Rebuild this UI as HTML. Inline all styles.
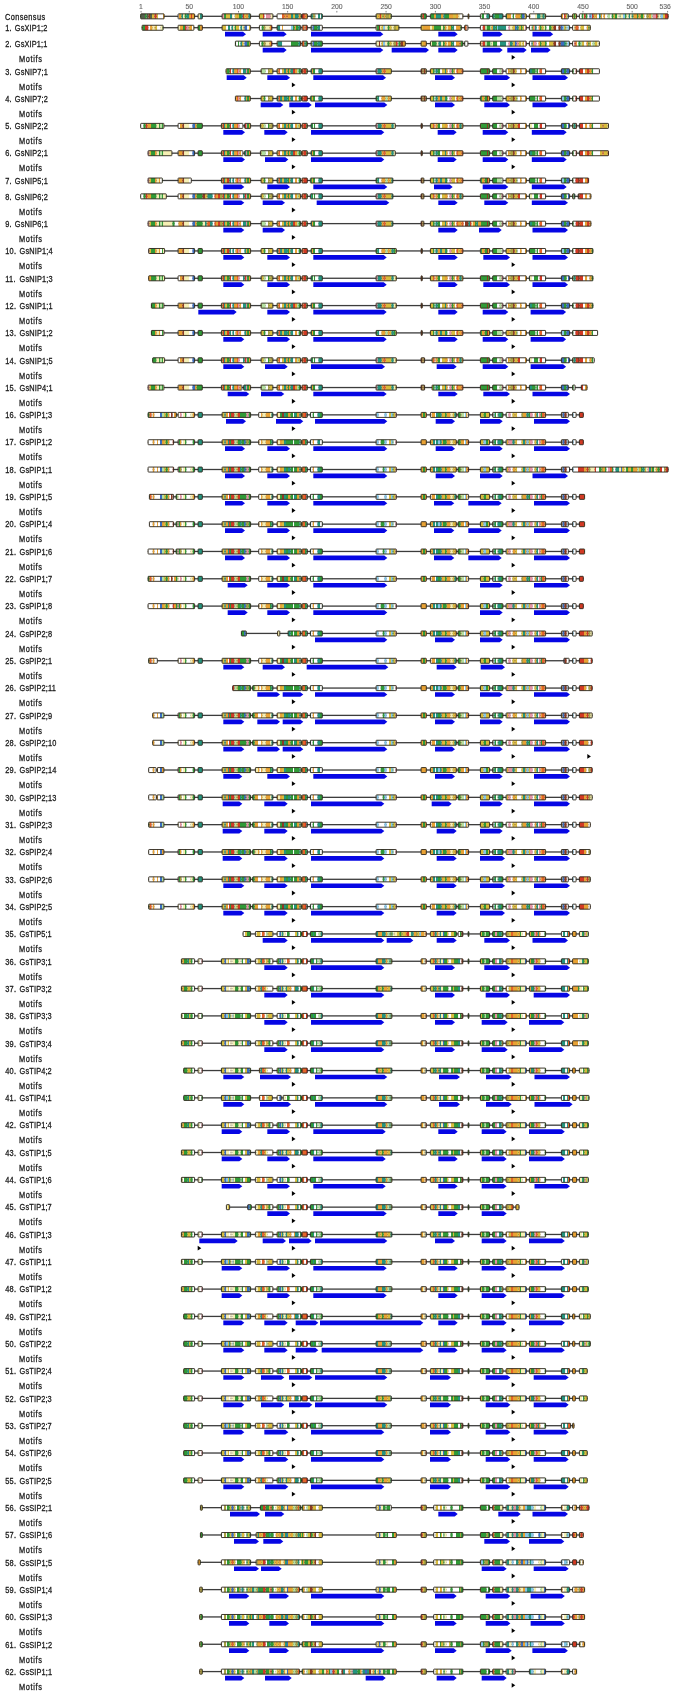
<!DOCTYPE html>
<html><head><meta charset="utf-8"><style>
html,body{margin:0;padding:0;background:#fff;}
body{width:675px;height:1695px;overflow:hidden;font-family:"Liberation Sans",sans-serif;}
svg{display:block;will-change:transform;}
</style></head><body>
<svg width="675" height="1695" viewBox="0 0 675 1695">
<defs><pattern id="p0" patternUnits="userSpaceOnUse" x="0" y="0" width="675" height="10"><path fill="#55604c" d="M138 0h1.55v10h-1.55zM141 0h2.05v10h-2.05zM143 0h2.05v10h-2.05zM146.5 0h2.05v10h-2.05zM150 0h2.05v10h-2.05z"/><path fill="#2f9a36" d="M139.5 0h1.55v10h-1.55zM145 0h1.55v10h-1.55zM171 0h2.05v10h-2.05zM173 0h2.05v10h-2.05zM175 0h2.05v10h-2.05zM184.5 0h2.05v10h-2.05zM224 0h2.05v10h-2.05zM239 0h2.05v10h-2.05zM300.5 0h1.55v10h-1.55zM312.5 0h1.05v10h-1.05zM314.5 0h1.05v10h-1.05zM331 0h1.05v10h-1.05zM340 0h2.55v10h-2.55zM372 0h2.05v10h-2.05zM382.5 0h1.05v10h-1.05zM390.5 0h1.55v10h-1.55zM394.5 0h1.55v10h-1.55zM398 0h2.05v10h-2.05zM413.5 0h2.55v10h-2.55zM416 0h2.05v10h-2.05zM421 0h1.55v10h-1.55zM424 0h2.05v10h-2.05zM430.5 0h1.55v10h-1.55zM432 0h2.05v10h-2.05zM445 0h2.55v10h-2.55zM447.5 0h1.55v10h-1.55zM471 0h1.05v10h-1.05zM481.5 0h2.55v10h-2.55zM494.5 0h2.05v10h-2.05zM496.5 0h2.55v10h-2.55zM505.5 0h1.55v10h-1.55zM512.5 0h1.55v10h-1.55zM520.5 0h1.55v10h-1.55zM527 0h2.05v10h-2.05zM556 0h1.05v10h-1.05zM573.5 0h2.05v10h-2.05zM581.5 0h1.55v10h-1.55zM585.5 0h2.05v10h-2.05zM611.5 0h2.05v10h-2.05zM615 0h2.05v10h-2.05zM619.5 0h1.05v10h-1.05zM625 0h1.55v10h-1.55zM632.5 0h1.05v10h-1.05zM637 0h1.55v10h-1.55zM640.5 0h2.55v10h-2.55zM657.5 0h1.05v10h-1.05z"/><path fill="#8e3a22" d="M148.5 0h1.55v10h-1.55zM195 0h2.05v10h-2.05zM354.5 0h1.55v10h-1.55z"/><path fill="#d8bc3c" d="M152 0h2.55v10h-2.55zM156.5 0h1.55v10h-1.55zM207 0h1.55v10h-1.55zM226 0h2.05v10h-2.05zM228 0h2.05v10h-2.05zM234.5 0h2.55v10h-2.55zM238 0h1.05v10h-1.05zM244 0h1.55v10h-1.55zM258.5 0h1.55v10h-1.55zM260 0h2.05v10h-2.05zM262 0h1.05v10h-1.05zM293 0h2.05v10h-2.05zM309.5 0h1.05v10h-1.05zM347.5 0h1.05v10h-1.05zM352.5 0h2.05v10h-2.05zM370.5 0h1.55v10h-1.55zM376.5 0h2.05v10h-2.05zM381 0h1.55v10h-1.55zM389 0h1.55v10h-1.55zM396 0h2.05v10h-2.05zM410 0h1.55v10h-1.55zM419.5 0h1.55v10h-1.55zM427.5 0h1.55v10h-1.55zM453 0h1.55v10h-1.55zM454.5 0h1.55v10h-1.55zM462.5 0h2.05v10h-2.05zM489.5 0h2.55v10h-2.55zM524.5 0h2.55v10h-2.55zM529 0h1.55v10h-1.55zM541.5 0h1.05v10h-1.05zM544.5 0h1.55v10h-1.55zM554 0h2.05v10h-2.05zM565.5 0h2.05v10h-2.05zM593.5 0h2.05v10h-2.05zM613.5 0h1.55v10h-1.55zM643 0h1.55v10h-1.55zM663 0h2.05v10h-2.05z"/><path fill="#d23a24" d="M154.5 0h2.05v10h-2.05zM168.5 0h2.55v10h-2.55zM191 0h1.05v10h-1.05zM242.5 0h1.55v10h-1.55zM263 0h1.55v10h-1.55zM302 0h1.05v10h-1.05zM303 0h1.05v10h-1.05zM380 0h1.05v10h-1.05zM422.5 0h1.55v10h-1.55zM466 0h2.05v10h-2.05zM469 0h2.05v10h-2.05zM564 0h1.55v10h-1.55zM584 0h1.55v10h-1.55zM592 0h1.55v10h-1.55zM656 0h1.55v10h-1.55zM665 0h2.55v10h-2.55zM667.5 0h2.05v10h-2.05z"/><path fill="#ffffff" d="M158 0h2.55v10h-2.55zM160.5 0h2.55v10h-2.55zM164.5 0h1.55v10h-1.55zM166 0h2.55v10h-2.55zM177 0h2.05v10h-2.05zM212.5 0h2.05v10h-2.05zM214.5 0h2.05v10h-2.05zM233 0h1.55v10h-1.55zM256 0h2.55v10h-2.55zM264.5 0h1.55v10h-1.55zM274 0h2.05v10h-2.05zM276 0h1.55v10h-1.55zM277.5 0h2.05v10h-2.05zM279.5 0h2.55v10h-2.55zM315.5 0h2.55v10h-2.55zM320 0h1.05v10h-1.05zM328.5 0h2.55v10h-2.55zM332 0h1.05v10h-1.05zM335 0h2.05v10h-2.05zM345 0h2.55v10h-2.55zM356 0h1.55v10h-1.55zM392 0h2.55v10h-2.55zM429 0h1.55v10h-1.55zM460 0h1.55v10h-1.55zM461.5 0h1.05v10h-1.05zM472 0h2.55v10h-2.55zM480 0h1.55v10h-1.55zM484 0h2.55v10h-2.55zM503 0h2.55v10h-2.55zM511 0h1.55v10h-1.55zM514 0h1.55v10h-1.55zM530.5 0h1.55v10h-1.55zM532 0h1.05v10h-1.05zM533 0h2.05v10h-2.05zM563 0h1.05v10h-1.05zM579 0h2.55v10h-2.55zM587.5 0h2.05v10h-2.05zM597 0h2.05v10h-2.05zM602 0h1.55v10h-1.55zM605 0h1.05v10h-1.05zM606 0h1.55v10h-1.55zM610 0h1.55v10h-1.55zM618.5 0h1.05v10h-1.05zM644.5 0h2.05v10h-2.05zM669.5 0h2.05v10h-2.05zM671.5 0h1.55v10h-1.55z"/><path fill="#e8a234" d="M163 0h1.55v10h-1.55zM179 0h2.55v10h-2.55zM189 0h2.05v10h-2.05zM192 0h1.05v10h-1.05zM193 0h2.05v10h-2.05zM219.5 0h2.05v10h-2.05zM237 0h1.05v10h-1.05zM245.5 0h1.05v10h-1.05zM246.5 0h2.05v10h-2.05zM250.5 0h1.55v10h-1.55zM252 0h2.05v10h-2.05zM284.5 0h2.05v10h-2.05zM287.5 0h1.05v10h-1.05zM288.5 0h2.55v10h-2.55zM298.5 0h2.05v10h-2.05zM305.5 0h1.55v10h-1.55zM313.5 0h1.05v10h-1.05zM324.5 0h2.05v10h-2.05zM326.5 0h2.05v10h-2.05zM338 0h2.05v10h-2.05zM350.5 0h2.05v10h-2.05zM359.5 0h1.55v10h-1.55zM361 0h2.55v10h-2.55zM368 0h2.55v10h-2.55zM374 0h1.55v10h-1.55zM378.5 0h1.55v10h-1.55zM383.5 0h2.05v10h-2.05zM418 0h1.55v10h-1.55zM434 0h2.05v10h-2.05zM441 0h2.55v10h-2.55zM449 0h1.55v10h-1.55zM450.5 0h2.55v10h-2.55zM456 0h2.55v10h-2.55zM468 0h1.05v10h-1.05zM507 0h2.55v10h-2.55zM509.5 0h1.55v10h-1.55zM515.5 0h1.05v10h-1.05zM516.5 0h1.55v10h-1.55zM518 0h2.55v10h-2.55zM547 0h2.05v10h-2.05zM550.5 0h1.55v10h-1.55zM553 0h1.05v10h-1.05zM559.5 0h1.55v10h-1.55zM561 0h2.05v10h-2.05zM571 0h2.55v10h-2.55zM575.5 0h2.05v10h-2.05zM577.5 0h1.55v10h-1.55zM595.5 0h1.55v10h-1.55zM600.5 0h1.55v10h-1.55zM603.5 0h1.55v10h-1.55zM633.5 0h1.05v10h-1.05zM634.5 0h2.55v10h-2.55zM638.5 0h2.05v10h-2.05zM648.5 0h2.55v10h-2.55z"/><path fill="#24947e" d="M181.5 0h1.55v10h-1.55zM186.5 0h2.55v10h-2.55zM200 0h1.55v10h-1.55zM201.5 0h1.55v10h-1.55zM203 0h2.05v10h-2.05zM216.5 0h2.05v10h-2.05zM230 0h2.05v10h-2.05zM241 0h1.55v10h-1.55zM248.5 0h2.05v10h-2.05zM291 0h2.05v10h-2.05zM295 0h1.55v10h-1.55zM296.5 0h2.05v10h-2.05zM310.5 0h2.05v10h-2.05zM318 0h2.05v10h-2.05zM321 0h2.05v10h-2.05zM323 0h1.55v10h-1.55zM333 0h2.05v10h-2.05zM337 0h1.05v10h-1.05zM363.5 0h2.55v10h-2.55zM402.5 0h2.05v10h-2.05zM404.5 0h2.05v10h-2.05zM406.5 0h2.05v10h-2.05zM408.5 0h1.55v10h-1.55zM436 0h2.55v10h-2.55zM438.5 0h2.55v10h-2.55zM443.5 0h1.55v10h-1.55zM476 0h1.55v10h-1.55zM477.5 0h2.55v10h-2.55zM486.5 0h1.05v10h-1.05zM487.5 0h2.05v10h-2.05zM492 0h2.55v10h-2.55zM499 0h2.05v10h-2.05zM501 0h2.05v10h-2.05zM537 0h2.05v10h-2.05zM539 0h1.55v10h-1.55zM542.5 0h2.05v10h-2.05zM552 0h1.05v10h-1.05zM599 0h1.55v10h-1.55zM628.5 0h1.55v10h-1.55zM631.5 0h1.05v10h-1.05z"/><path fill="#f6f0b4" d="M183 0h1.55v10h-1.55zM198 0h2.05v10h-2.05zM205 0h2.05v10h-2.05zM209.5 0h1.55v10h-1.55zM232 0h1.05v10h-1.05zM270.5 0h2.05v10h-2.05zM272.5 0h1.55v10h-1.55zM342.5 0h2.55v10h-2.55zM348.5 0h2.05v10h-2.05zM426 0h1.55v10h-1.55zM458.5 0h1.55v10h-1.55zM535 0h2.05v10h-2.05zM558 0h1.55v10h-1.55zM617 0h1.55v10h-1.55zM620.5 0h2.55v10h-2.55zM626.5 0h2.05v10h-2.05zM630 0h1.55v10h-1.55zM658.5 0h2.05v10h-2.05z"/><path fill="#86c6e6" d="M197 0h1.05v10h-1.05zM357.5 0h2.05v10h-2.05zM366 0h2.05v10h-2.05zM567.5 0h1.55v10h-1.55zM569 0h2.05v10h-2.05zM590.5 0h1.55v10h-1.55zM623 0h2.05v10h-2.05zM660.5 0h2.55v10h-2.55z"/><path fill="#e4642a" d="M208.5 0h1.05v10h-1.05zM282 0h2.55v10h-2.55zM286.5 0h1.05v10h-1.05zM304 0h1.55v10h-1.55zM307 0h2.55v10h-2.55zM400 0h2.55v10h-2.55zM549 0h1.55v10h-1.55z"/><path fill="#a8a244" d="M211 0h1.55v10h-1.55zM375.5 0h1.05v10h-1.05zM385.5 0h2.55v10h-2.55zM388 0h1.05v10h-1.05zM546 0h1.05v10h-1.05zM557 0h1.05v10h-1.05zM646.5 0h2.05v10h-2.05z"/><path fill="#e494a4" d="M218.5 0h1.05v10h-1.05zM221.5 0h2.55v10h-2.55zM254 0h2.05v10h-2.05zM266 0h2.55v10h-2.55zM268.5 0h2.05v10h-2.05zM652.5 0h2.55v10h-2.55zM655 0h1.05v10h-1.05z"/><path fill="#b4e0a0" d="M411.5 0h2.05v10h-2.05zM464.5 0h1.55v10h-1.55zM474.5 0h1.55v10h-1.55zM540.5 0h1.05v10h-1.05zM583 0h1.05v10h-1.05zM607.5 0h2.55v10h-2.55zM651 0h1.55v10h-1.55z"/><path fill="#3a6ec0" d="M522 0h2.55v10h-2.55zM589.5 0h1.05v10h-1.05z"/></pattern><pattern id="p1" patternUnits="userSpaceOnUse" x="0" y="0" width="675" height="10"><path fill="#b4e0a0" d="M138 0h1.05v10h-1.05zM216.5 0h1.55v10h-1.55zM219.5 0h2.55v10h-2.55zM304.5 0h1.05v10h-1.05zM330.5 0h2.05v10h-2.05zM485 0h2.05v10h-2.05zM490 0h1.55v10h-1.55zM592.5 0h2.05v10h-2.05zM639 0h1.55v10h-1.55z"/><path fill="#a8a244" d="M139 0h2.05v10h-2.05zM214 0h2.55v10h-2.55zM263.5 0h2.05v10h-2.05zM327.5 0h1.55v10h-1.55zM393.5 0h2.55v10h-2.55zM645 0h1.55v10h-1.55zM665 0h2.55v10h-2.55z"/><path fill="#e8a234" d="M141 0h1.55v10h-1.55zM150 0h2.55v10h-2.55zM154.5 0h1.05v10h-1.05zM173 0h2.05v10h-2.05zM175 0h1.05v10h-1.05zM176 0h1.05v10h-1.05zM180 0h1.55v10h-1.55zM181.5 0h1.55v10h-1.55zM189.5 0h2.55v10h-2.55zM195 0h2.05v10h-2.05zM200 0h2.05v10h-2.05zM207 0h1.05v10h-1.05zM255 0h1.05v10h-1.05zM269.5 0h1.55v10h-1.55zM282 0h1.05v10h-1.05zM294.5 0h1.55v10h-1.55zM322.5 0h1.55v10h-1.55zM339.5 0h2.05v10h-2.05zM345.5 0h1.55v10h-1.55zM351.5 0h2.05v10h-2.05zM359.5 0h1.55v10h-1.55zM367 0h2.05v10h-2.05zM403 0h2.05v10h-2.05zM420.5 0h1.55v10h-1.55zM423 0h2.55v10h-2.55zM425.5 0h1.55v10h-1.55zM427 0h1.55v10h-1.55zM428.5 0h1.55v10h-1.55zM444.5 0h2.05v10h-2.05zM448 0h2.05v10h-2.05zM450 0h1.05v10h-1.05zM456 0h2.05v10h-2.05zM458 0h1.55v10h-1.55zM459.5 0h1.05v10h-1.05zM474 0h2.55v10h-2.55zM476.5 0h2.55v10h-2.55zM491.5 0h1.55v10h-1.55zM532.5 0h1.55v10h-1.55zM538.5 0h1.55v10h-1.55zM571 0h1.55v10h-1.55zM586.5 0h2.05v10h-2.05zM606.5 0h2.05v10h-2.05zM615 0h1.55v10h-1.55zM629.5 0h1.55v10h-1.55zM631 0h1.55v10h-1.55zM636 0h2.05v10h-2.05zM638 0h1.05v10h-1.05zM653 0h2.05v10h-2.05zM658.5 0h2.05v10h-2.05z"/><path fill="#2f9a36" d="M142.5 0h2.55v10h-2.55zM162.5 0h2.55v10h-2.55zM177 0h1.05v10h-1.05zM183 0h2.05v10h-2.05zM197 0h1.55v10h-1.55zM198.5 0h1.55v10h-1.55zM203 0h1.05v10h-1.05zM208 0h1.55v10h-1.55zM212.5 0h1.55v10h-1.55zM234.5 0h1.55v10h-1.55zM251.5 0h1.05v10h-1.05zM258.5 0h1.05v10h-1.05zM261.5 0h2.05v10h-2.05zM274.5 0h1.55v10h-1.55zM293 0h1.55v10h-1.55zM296 0h2.55v10h-2.55zM314 0h2.05v10h-2.05zM316 0h1.55v10h-1.55zM370.5 0h2.55v10h-2.55zM377 0h2.05v10h-2.05zM387.5 0h2.05v10h-2.05zM398.5 0h2.05v10h-2.05zM405 0h2.05v10h-2.05zM434 0h2.55v10h-2.55zM436.5 0h2.05v10h-2.05zM438.5 0h2.55v10h-2.55zM443 0h1.55v10h-1.55zM451 0h1.55v10h-1.55zM460.5 0h2.55v10h-2.55zM463 0h2.05v10h-2.05zM487 0h1.55v10h-1.55zM488.5 0h1.55v10h-1.55zM495.5 0h1.55v10h-1.55zM521 0h1.55v10h-1.55zM531.5 0h1.05v10h-1.05zM540 0h1.55v10h-1.55zM545 0h1.55v10h-1.55zM549 0h2.55v10h-2.55zM565.5 0h1.05v10h-1.05zM588.5 0h1.05v10h-1.05zM600.5 0h1.55v10h-1.55zM610.5 0h2.05v10h-2.05zM619.5 0h1.55v10h-1.55zM621 0h1.05v10h-1.05z"/><path fill="#d23a24" d="M145 0h2.55v10h-2.55zM147.5 0h1.05v10h-1.05zM167.5 0h1.05v10h-1.05zM171 0h2.05v10h-2.05zM185 0h1.55v10h-1.55zM202 0h1.05v10h-1.05zM204 0h1.55v10h-1.55zM256 0h1.05v10h-1.05zM271 0h1.55v10h-1.55zM305.5 0h1.55v10h-1.55zM329 0h1.55v10h-1.55zM407 0h2.55v10h-2.55zM482.5 0h2.55v10h-2.55zM591 0h1.55v10h-1.55zM669.5 0h2.05v10h-2.05z"/><path fill="#ffffff" d="M148.5 0h1.55v10h-1.55zM157 0h1.55v10h-1.55zM158.5 0h2.05v10h-2.05zM192 0h1.05v10h-1.05zM226 0h2.05v10h-2.05zM230 0h1.55v10h-1.55zM239 0h1.55v10h-1.55zM247 0h2.05v10h-2.05zM250 0h1.55v10h-1.55zM259.5 0h2.05v10h-2.05zM280 0h2.05v10h-2.05zM283 0h2.05v10h-2.05zM285 0h2.05v10h-2.05zM287 0h1.55v10h-1.55zM288.5 0h2.55v10h-2.55zM300 0h2.55v10h-2.55zM320 0h2.55v10h-2.55zM324 0h2.05v10h-2.05zM365 0h2.05v10h-2.05zM454 0h2.05v10h-2.05zM466.5 0h2.55v10h-2.55zM479 0h2.55v10h-2.55zM481.5 0h1.05v10h-1.05zM506 0h2.55v10h-2.55zM524 0h1.05v10h-1.05zM530 0h1.55v10h-1.55zM536.5 0h2.05v10h-2.05zM546.5 0h2.55v10h-2.55zM556 0h2.55v10h-2.55zM566.5 0h1.05v10h-1.05zM569.5 0h1.55v10h-1.55zM572.5 0h2.05v10h-2.05zM578.5 0h2.05v10h-2.05zM584 0h2.55v10h-2.55zM598.5 0h2.05v10h-2.05zM633.5 0h2.55v10h-2.55zM646.5 0h1.55v10h-1.55zM649.5 0h1.55v10h-1.55z"/><path fill="#f6f0b4" d="M152.5 0h2.05v10h-2.05zM160.5 0h2.05v10h-2.05zM178 0h2.05v10h-2.05zM193 0h2.05v10h-2.05zM210.5 0h2.05v10h-2.05zM233 0h1.55v10h-1.55zM242 0h1.55v10h-1.55zM252.5 0h2.55v10h-2.55zM265.5 0h1.55v10h-1.55zM267 0h2.55v10h-2.55zM311.5 0h1.05v10h-1.05zM341.5 0h1.05v10h-1.05zM349.5 0h2.05v10h-2.05zM376 0h1.05v10h-1.05zM380 0h1.55v10h-1.55zM385 0h2.55v10h-2.55zM391.5 0h2.05v10h-2.05zM430 0h2.05v10h-2.05zM441 0h2.05v10h-2.05zM446.5 0h1.55v10h-1.55zM510 0h2.55v10h-2.55zM526.5 0h2.05v10h-2.05zM543.5 0h1.55v10h-1.55zM597 0h1.55v10h-1.55zM616.5 0h1.05v10h-1.05zM640.5 0h1.55v10h-1.55zM643.5 0h1.55v10h-1.55zM656.5 0h2.05v10h-2.05z"/><path fill="#d8bc3c" d="M155.5 0h1.55v10h-1.55zM165 0h2.55v10h-2.55zM168.5 0h2.55v10h-2.55zM188.5 0h1.05v10h-1.05zM209.5 0h1.05v10h-1.05zM222 0h2.05v10h-2.05zM224 0h2.05v10h-2.05zM236 0h2.05v10h-2.05zM238 0h1.05v10h-1.05zM243.5 0h1.05v10h-1.05zM249 0h1.05v10h-1.05zM257 0h1.55v10h-1.55zM272.5 0h2.05v10h-2.05zM342.5 0h1.55v10h-1.55zM353.5 0h1.05v10h-1.05zM356.5 0h1.05v10h-1.05zM357.5 0h2.05v10h-2.05zM361 0h2.05v10h-2.05zM369 0h1.55v10h-1.55zM374 0h2.05v10h-2.05zM381.5 0h1.55v10h-1.55zM389.5 0h2.05v10h-2.05zM396 0h1.55v10h-1.55zM397.5 0h1.05v10h-1.05zM409.5 0h2.55v10h-2.55zM412 0h1.55v10h-1.55zM416 0h1.05v10h-1.05zM422 0h1.05v10h-1.05zM432 0h2.05v10h-2.05zM512.5 0h2.55v10h-2.55zM518.5 0h2.55v10h-2.55zM522.5 0h1.55v10h-1.55zM541.5 0h2.05v10h-2.05zM551.5 0h2.05v10h-2.05zM564 0h1.55v10h-1.55zM574.5 0h1.05v10h-1.05zM580.5 0h1.55v10h-1.55zM582 0h2.05v10h-2.05zM589.5 0h1.55v10h-1.55zM594.5 0h2.55v10h-2.55zM602 0h2.05v10h-2.05zM612.5 0h1.55v10h-1.55zM625.5 0h2.55v10h-2.55zM632.5 0h1.05v10h-1.05zM642 0h1.55v10h-1.55zM655 0h1.55v10h-1.55zM671.5 0h2.55v10h-2.55z"/><path fill="#e494a4" d="M186.5 0h2.05v10h-2.05zM373 0h1.05v10h-1.05zM473 0h1.05v10h-1.05zM508.5 0h1.55v10h-1.55zM525 0h1.55v10h-1.55zM528.5 0h1.55v10h-1.55zM534 0h1.05v10h-1.05zM617.5 0h1.05v10h-1.05z"/><path fill="#e4642a" d="M205.5 0h1.55v10h-1.55zM302.5 0h2.05v10h-2.05zM307 0h1.55v10h-1.55zM363 0h2.05v10h-2.05zM413.5 0h2.55v10h-2.55zM419 0h1.55v10h-1.55zM465 0h1.55v10h-1.55zM469 0h1.55v10h-1.55zM470.5 0h2.55v10h-2.55zM575.5 0h1.55v10h-1.55zM577 0h1.55v10h-1.55zM608.5 0h2.05v10h-2.05zM618.5 0h1.05v10h-1.05zM623.5 0h2.05v10h-2.05zM660.5 0h2.05v10h-2.05zM667.5 0h2.05v10h-2.05z"/><path fill="#86c6e6" d="M218 0h1.55v10h-1.55zM291 0h2.05v10h-2.05zM354.5 0h2.05v10h-2.05zM383 0h2.05v10h-2.05zM497 0h1.05v10h-1.05zM562.5 0h1.55v10h-1.55zM567.5 0h2.05v10h-2.05zM604 0h2.55v10h-2.55zM648 0h1.55v10h-1.55z"/><path fill="#24947e" d="M228 0h2.05v10h-2.05zM231.5 0h1.55v10h-1.55zM240.5 0h1.55v10h-1.55zM276 0h1.55v10h-1.55zM277.5 0h2.55v10h-2.55zM298.5 0h1.55v10h-1.55zM308.5 0h1.55v10h-1.55zM310 0h1.55v10h-1.55zM317.5 0h2.55v10h-2.55zM334.5 0h1.55v10h-1.55zM336 0h2.05v10h-2.05zM347 0h2.55v10h-2.55zM400.5 0h2.55v10h-2.55zM417 0h2.05v10h-2.05zM452.5 0h1.55v10h-1.55zM493 0h2.55v10h-2.55zM498 0h2.05v10h-2.05zM500 0h2.55v10h-2.55zM502.5 0h1.05v10h-1.05zM503.5 0h2.55v10h-2.55zM516.5 0h2.05v10h-2.05zM535 0h1.55v10h-1.55zM628 0h1.55v10h-1.55zM651 0h2.05v10h-2.05z"/><path fill="#3a6ec0" d="M244.5 0h2.55v10h-2.55zM312.5 0h1.55v10h-1.55zM332.5 0h2.05v10h-2.05zM338 0h1.55v10h-1.55zM344 0h1.55v10h-1.55zM515 0h1.55v10h-1.55zM560.5 0h2.05v10h-2.05zM622 0h1.55v10h-1.55zM662.5 0h2.55v10h-2.55z"/><path fill="#8e3a22" d="M326 0h1.55v10h-1.55zM379 0h1.05v10h-1.05zM553.5 0h2.55v10h-2.55zM558.5 0h2.05v10h-2.05zM614 0h1.05v10h-1.05z"/></pattern><pattern id="p2" patternUnits="userSpaceOnUse" x="0" y="0" width="675" height="10"><path fill="#ffffff" d="M138 0h1.05v10h-1.05zM145 0h2.55v10h-2.55zM148.5 0h1.55v10h-1.55zM157 0h1.55v10h-1.55zM158.5 0h2.05v10h-2.05zM162.5 0h2.55v10h-2.55zM183 0h2.05v10h-2.05zM192 0h1.05v10h-1.05zM226 0h2.05v10h-2.05zM230 0h1.55v10h-1.55zM236 0h2.05v10h-2.05zM239 0h1.55v10h-1.55zM243.5 0h1.05v10h-1.05zM251.5 0h1.05v10h-1.05zM252.5 0h2.55v10h-2.55zM258.5 0h1.05v10h-1.05zM259.5 0h2.05v10h-2.05zM282 0h1.05v10h-1.05zM283 0h2.05v10h-2.05zM285 0h2.05v10h-2.05zM287 0h1.55v10h-1.55zM288.5 0h2.55v10h-2.55zM334.5 0h1.55v10h-1.55zM353.5 0h1.05v10h-1.05zM365 0h2.05v10h-2.05zM380 0h1.55v10h-1.55zM397.5 0h1.05v10h-1.05zM454 0h2.05v10h-2.05zM465 0h1.55v10h-1.55zM466.5 0h2.55v10h-2.55zM481.5 0h1.05v10h-1.05zM497 0h1.05v10h-1.05zM498 0h2.05v10h-2.05zM506 0h2.55v10h-2.55zM524 0h1.05v10h-1.05zM530 0h1.55v10h-1.55zM536.5 0h2.05v10h-2.05zM546.5 0h2.55v10h-2.55zM556 0h2.55v10h-2.55zM566.5 0h1.05v10h-1.05zM569.5 0h1.55v10h-1.55zM572.5 0h2.05v10h-2.05zM577 0h1.55v10h-1.55zM584 0h2.55v10h-2.55zM591 0h1.55v10h-1.55zM598.5 0h2.05v10h-2.05zM606.5 0h2.05v10h-2.05zM646.5 0h1.55v10h-1.55zM649.5 0h1.55v10h-1.55zM655 0h1.55v10h-1.55z"/><path fill="#f6f0b4" d="M139 0h2.05v10h-2.05zM160.5 0h2.05v10h-2.05zM178 0h2.05v10h-2.05zM193 0h2.05v10h-2.05zM210.5 0h2.05v10h-2.05zM231.5 0h1.55v10h-1.55zM250 0h1.55v10h-1.55zM265.5 0h1.55v10h-1.55zM267 0h2.55v10h-2.55zM274.5 0h1.55v10h-1.55zM311.5 0h1.05v10h-1.05zM341.5 0h1.05v10h-1.05zM349.5 0h2.05v10h-2.05zM376 0h1.05v10h-1.05zM377 0h2.05v10h-2.05zM385 0h2.55v10h-2.55zM391.5 0h2.05v10h-2.05zM430 0h2.05v10h-2.05zM436.5 0h2.05v10h-2.05zM441 0h2.05v10h-2.05zM446.5 0h1.55v10h-1.55zM491.5 0h1.55v10h-1.55zM521 0h1.55v10h-1.55zM526.5 0h2.05v10h-2.05zM597 0h1.55v10h-1.55zM640.5 0h1.55v10h-1.55zM656.5 0h2.05v10h-2.05z"/><path fill="#e8a234" d="M141 0h1.55v10h-1.55zM150 0h2.55v10h-2.55zM154.5 0h1.05v10h-1.05zM173 0h2.05v10h-2.05zM176 0h1.05v10h-1.05zM188.5 0h1.05v10h-1.05zM189.5 0h2.55v10h-2.55zM195 0h2.05v10h-2.05zM200 0h2.05v10h-2.05zM207 0h1.05v10h-1.05zM255 0h1.05v10h-1.05zM269.5 0h1.55v10h-1.55zM339.5 0h2.05v10h-2.05zM345.5 0h1.55v10h-1.55zM351.5 0h2.05v10h-2.05zM361 0h2.05v10h-2.05zM367 0h2.05v10h-2.05zM403 0h2.05v10h-2.05zM405 0h2.05v10h-2.05zM420.5 0h1.55v10h-1.55zM423 0h2.55v10h-2.55zM425.5 0h1.55v10h-1.55zM428.5 0h1.55v10h-1.55zM444.5 0h2.05v10h-2.05zM448 0h2.05v10h-2.05zM450 0h1.05v10h-1.05zM456 0h2.05v10h-2.05zM458 0h1.55v10h-1.55zM469 0h1.55v10h-1.55zM479 0h2.55v10h-2.55zM532.5 0h1.55v10h-1.55zM538.5 0h1.55v10h-1.55zM571 0h1.55v10h-1.55zM575.5 0h1.55v10h-1.55zM586.5 0h2.05v10h-2.05zM615 0h1.55v10h-1.55zM629.5 0h1.55v10h-1.55zM631 0h1.55v10h-1.55zM636 0h2.05v10h-2.05zM638 0h1.05v10h-1.05zM658.5 0h2.05v10h-2.05zM671.5 0h2.55v10h-2.55z"/><path fill="#2f9a36" d="M142.5 0h2.55v10h-2.55zM152.5 0h2.05v10h-2.05zM167.5 0h1.05v10h-1.05zM168.5 0h2.55v10h-2.55zM177 0h1.05v10h-1.05zM180 0h1.55v10h-1.55zM197 0h1.55v10h-1.55zM198.5 0h1.55v10h-1.55zM203 0h1.05v10h-1.05zM204 0h1.55v10h-1.55zM233 0h1.55v10h-1.55zM234.5 0h1.55v10h-1.55zM238 0h1.05v10h-1.05zM247 0h2.05v10h-2.05zM261.5 0h2.05v10h-2.05zM291 0h2.05v10h-2.05zM293 0h1.55v10h-1.55zM294.5 0h1.55v10h-1.55zM296 0h2.55v10h-2.55zM305.5 0h1.55v10h-1.55zM310 0h1.55v10h-1.55zM314 0h2.05v10h-2.05zM316 0h1.55v10h-1.55zM320 0h2.55v10h-2.55zM330.5 0h2.05v10h-2.05zM370.5 0h2.55v10h-2.55zM387.5 0h2.05v10h-2.05zM398.5 0h2.05v10h-2.05zM432 0h2.05v10h-2.05zM434 0h2.55v10h-2.55zM443 0h1.55v10h-1.55zM451 0h1.55v10h-1.55zM460.5 0h2.55v10h-2.55zM463 0h2.05v10h-2.05zM473 0h1.05v10h-1.05zM487 0h1.55v10h-1.55zM488.5 0h1.55v10h-1.55zM493 0h2.55v10h-2.55zM495.5 0h1.55v10h-1.55zM540 0h1.55v10h-1.55zM545 0h1.55v10h-1.55zM565.5 0h1.05v10h-1.05zM578.5 0h2.05v10h-2.05zM588.5 0h1.05v10h-1.05zM610.5 0h2.05v10h-2.05zM616.5 0h1.05v10h-1.05zM619.5 0h1.55v10h-1.55zM621 0h1.05v10h-1.05zM632.5 0h1.05v10h-1.05zM643.5 0h1.55v10h-1.55zM648 0h1.55v10h-1.55zM653 0h2.05v10h-2.05z"/><path fill="#d8bc3c" d="M147.5 0h1.05v10h-1.05zM165 0h2.55v10h-2.55zM175 0h1.05v10h-1.05zM181.5 0h1.55v10h-1.55zM185 0h1.55v10h-1.55zM209.5 0h1.05v10h-1.05zM212.5 0h1.55v10h-1.55zM222 0h2.05v10h-2.05zM224 0h2.05v10h-2.05zM242 0h1.55v10h-1.55zM249 0h1.05v10h-1.05zM257 0h1.55v10h-1.55zM272.5 0h2.05v10h-2.05zM276 0h1.55v10h-1.55zM342.5 0h1.55v10h-1.55zM381.5 0h1.55v10h-1.55zM389.5 0h2.05v10h-2.05zM407 0h2.55v10h-2.55zM409.5 0h2.55v10h-2.55zM412 0h1.55v10h-1.55zM416 0h1.05v10h-1.05zM422 0h1.05v10h-1.05zM427 0h1.55v10h-1.55zM512.5 0h2.55v10h-2.55zM518.5 0h2.55v10h-2.55zM522.5 0h1.55v10h-1.55zM541.5 0h2.05v10h-2.05zM543.5 0h1.55v10h-1.55zM549 0h2.55v10h-2.55zM551.5 0h2.05v10h-2.05zM582 0h2.05v10h-2.05zM589.5 0h1.55v10h-1.55zM594.5 0h2.55v10h-2.55zM602 0h2.05v10h-2.05zM623.5 0h2.05v10h-2.05zM642 0h1.55v10h-1.55z"/><path fill="#d23a24" d="M155.5 0h1.55v10h-1.55zM171 0h2.05v10h-2.05zM202 0h1.05v10h-1.05zM256 0h1.05v10h-1.05zM271 0h1.55v10h-1.55zM329 0h1.55v10h-1.55zM396 0h1.55v10h-1.55zM482.5 0h2.55v10h-2.55zM574.5 0h1.05v10h-1.05zM633.5 0h2.55v10h-2.55z"/><path fill="#e494a4" d="M186.5 0h2.05v10h-2.05zM359.5 0h1.55v10h-1.55zM373 0h1.05v10h-1.05zM476.5 0h2.55v10h-2.55zM508.5 0h1.55v10h-1.55zM516.5 0h2.05v10h-2.05zM525 0h1.55v10h-1.55zM528.5 0h1.55v10h-1.55zM534 0h1.05v10h-1.05zM535 0h1.55v10h-1.55zM617.5 0h1.05v10h-1.05zM669.5 0h2.05v10h-2.05z"/><path fill="#e4642a" d="M205.5 0h1.55v10h-1.55zM300 0h2.55v10h-2.55zM302.5 0h2.05v10h-2.05zM307 0h1.55v10h-1.55zM363 0h2.05v10h-2.05zM413.5 0h2.55v10h-2.55zM419 0h1.55v10h-1.55zM459.5 0h1.05v10h-1.05zM470.5 0h2.55v10h-2.55zM608.5 0h2.05v10h-2.05zM618.5 0h1.05v10h-1.05zM660.5 0h2.05v10h-2.05zM667.5 0h2.05v10h-2.05z"/><path fill="#86c6e6" d="M208 0h1.55v10h-1.55zM218 0h1.55v10h-1.55zM219.5 0h2.55v10h-2.55zM324 0h2.05v10h-2.05zM354.5 0h2.05v10h-2.05zM374 0h2.05v10h-2.05zM383 0h2.05v10h-2.05zM567.5 0h2.05v10h-2.05zM604 0h2.55v10h-2.55zM612.5 0h1.55v10h-1.55zM665 0h2.55v10h-2.55z"/><path fill="#a8a244" d="M214 0h2.55v10h-2.55zM263.5 0h2.05v10h-2.05zM327.5 0h1.55v10h-1.55zM369 0h1.55v10h-1.55zM393.5 0h2.55v10h-2.55zM474 0h2.55v10h-2.55zM600.5 0h1.55v10h-1.55zM645 0h1.55v10h-1.55z"/><path fill="#b4e0a0" d="M216.5 0h1.55v10h-1.55zM485 0h2.05v10h-2.05zM490 0h1.55v10h-1.55zM580.5 0h1.55v10h-1.55zM592.5 0h2.05v10h-2.05zM625.5 0h2.55v10h-2.55zM639 0h1.55v10h-1.55z"/><path fill="#24947e" d="M228 0h2.05v10h-2.05zM240.5 0h1.55v10h-1.55zM277.5 0h2.55v10h-2.55zM280 0h2.05v10h-2.05zM298.5 0h1.55v10h-1.55zM304.5 0h1.05v10h-1.05zM308.5 0h1.55v10h-1.55zM317.5 0h2.55v10h-2.55zM322.5 0h1.55v10h-1.55zM336 0h2.05v10h-2.05zM344 0h1.55v10h-1.55zM347 0h2.55v10h-2.55zM356.5 0h1.05v10h-1.05zM417 0h2.05v10h-2.05zM438.5 0h2.55v10h-2.55zM452.5 0h1.55v10h-1.55zM500 0h2.55v10h-2.55zM502.5 0h1.05v10h-1.05zM503.5 0h2.55v10h-2.55zM510 0h2.55v10h-2.55zM531.5 0h1.05v10h-1.05zM564 0h1.55v10h-1.55zM628 0h1.55v10h-1.55zM651 0h2.05v10h-2.05z"/><path fill="#3a6ec0" d="M244.5 0h2.55v10h-2.55zM312.5 0h1.55v10h-1.55zM332.5 0h2.05v10h-2.05zM338 0h1.55v10h-1.55zM357.5 0h2.05v10h-2.05zM515 0h1.55v10h-1.55zM560.5 0h2.05v10h-2.05zM562.5 0h1.55v10h-1.55zM622 0h1.55v10h-1.55zM662.5 0h2.55v10h-2.55z"/><path fill="#8e3a22" d="M326 0h1.55v10h-1.55zM379 0h1.05v10h-1.05zM400.5 0h2.55v10h-2.55zM553.5 0h2.55v10h-2.55zM558.5 0h2.05v10h-2.05zM614 0h1.05v10h-1.05z"/></pattern><pattern id="p3" patternUnits="userSpaceOnUse" x="0" y="0" width="675" height="10"><path fill="#d23a24" d="M138 0h2.05v10h-2.05zM145.5 0h2.05v10h-2.05zM218 0h2.05v10h-2.05zM222.5 0h1.55v10h-1.55zM229.5 0h1.55v10h-1.55zM251.5 0h1.55v10h-1.55zM293 0h2.05v10h-2.05zM303.5 0h1.55v10h-1.55zM305 0h1.55v10h-1.55zM307.5 0h1.55v10h-1.55zM344.5 0h2.05v10h-2.05zM347.5 0h2.05v10h-2.05zM470 0h1.55v10h-1.55zM575.5 0h2.55v10h-2.55zM579.5 0h1.55v10h-1.55zM581 0h2.05v10h-2.05zM587 0h2.55v10h-2.55zM607.5 0h2.05v10h-2.05zM622 0h1.55v10h-1.55zM633.5 0h1.55v10h-1.55zM648.5 0h2.05v10h-2.05z"/><path fill="#ffffff" d="M140 0h1.05v10h-1.05zM141 0h2.55v10h-2.55zM174.5 0h2.05v10h-2.05zM176.5 0h2.05v10h-2.05zM189 0h2.05v10h-2.05zM191 0h1.55v10h-1.55zM212.5 0h2.05v10h-2.05zM231 0h1.55v10h-1.55zM241 0h2.05v10h-2.05zM265.5 0h2.55v10h-2.55zM280 0h2.05v10h-2.05zM309 0h2.05v10h-2.05zM315 0h2.55v10h-2.55zM317.5 0h1.05v10h-1.05zM324.5 0h1.05v10h-1.05zM327.5 0h2.05v10h-2.05zM336 0h2.05v10h-2.05zM338 0h1.55v10h-1.55zM355 0h1.55v10h-1.55zM358.5 0h2.55v10h-2.55zM371 0h1.05v10h-1.05zM397 0h2.05v10h-2.05zM434.5 0h1.05v10h-1.05zM440 0h2.05v10h-2.05zM447.5 0h2.05v10h-2.05zM455 0h1.55v10h-1.55zM463.5 0h1.55v10h-1.55zM497 0h2.55v10h-2.55zM506 0h2.05v10h-2.05zM516.5 0h1.05v10h-1.05zM517.5 0h2.55v10h-2.55zM521.5 0h1.05v10h-1.05zM522.5 0h1.55v10h-1.55zM524 0h1.05v10h-1.05zM535.5 0h1.05v10h-1.05zM538 0h1.55v10h-1.55zM542 0h1.55v10h-1.55zM543.5 0h2.05v10h-2.05zM553 0h1.55v10h-1.55zM557.5 0h2.05v10h-2.05zM569.5 0h2.55v10h-2.55zM573.5 0h2.05v10h-2.05zM583 0h2.05v10h-2.05zM593 0h2.55v10h-2.55zM595.5 0h1.05v10h-1.05zM596.5 0h2.05v10h-2.05zM598.5 0h1.55v10h-1.55zM611.5 0h1.55v10h-1.55zM635 0h2.05v10h-2.05z"/><path fill="#f6f0b4" d="M143.5 0h1.05v10h-1.05zM156.5 0h2.55v10h-2.55zM163 0h2.05v10h-2.05zM165 0h2.05v10h-2.05zM167 0h2.05v10h-2.05zM169 0h2.05v10h-2.05zM171 0h1.55v10h-1.55zM184 0h1.55v10h-1.55zM185.5 0h1.55v10h-1.55zM187 0h2.05v10h-2.05zM202.5 0h2.55v10h-2.55zM349.5 0h2.05v10h-2.05zM356.5 0h2.05v10h-2.05zM393.5 0h2.05v10h-2.05zM402.5 0h2.05v10h-2.05zM471.5 0h1.55v10h-1.55zM547 0h2.05v10h-2.05zM554.5 0h2.05v10h-2.05zM556.5 0h1.05v10h-1.05zM613 0h1.55v10h-1.55zM618 0h2.05v10h-2.05zM620 0h2.05v10h-2.05zM631.5 0h2.05v10h-2.05z"/><path fill="#2f9a36" d="M144.5 0h1.05v10h-1.05zM151 0h1.55v10h-1.55zM152.5 0h2.55v10h-2.55zM159 0h1.05v10h-1.05zM162 0h1.05v10h-1.05zM172.5 0h2.05v10h-2.05zM196.5 0h2.55v10h-2.55zM199 0h2.55v10h-2.55zM201.5 0h1.05v10h-1.05zM227 0h2.55v10h-2.55zM247 0h2.05v10h-2.05zM253 0h1.05v10h-1.05zM287.5 0h1.55v10h-1.55zM298.5 0h2.05v10h-2.05zM306.5 0h1.05v10h-1.05zM313 0h1.05v10h-1.05zM314 0h1.05v10h-1.05zM332 0h1.05v10h-1.05zM334.5 0h1.55v10h-1.55zM341.5 0h2.05v10h-2.05zM343.5 0h1.05v10h-1.05zM351.5 0h2.55v10h-2.55zM363 0h2.05v10h-2.05zM401 0h1.55v10h-1.55zM433 0h1.55v10h-1.55zM437.5 0h2.55v10h-2.55zM451.5 0h2.05v10h-2.05zM475 0h1.55v10h-1.55zM481 0h1.05v10h-1.05zM482 0h2.55v10h-2.55zM484.5 0h2.55v10h-2.55zM488 0h1.05v10h-1.05zM491.5 0h1.55v10h-1.55zM493 0h2.55v10h-2.55zM495.5 0h1.55v10h-1.55zM503 0h1.55v10h-1.55zM532 0h2.05v10h-2.05zM534 0h1.55v10h-1.55zM536.5 0h1.55v10h-1.55zM564 0h2.55v10h-2.55zM572 0h1.55v10h-1.55zM591.5 0h1.55v10h-1.55zM616.5 0h1.55v10h-1.55zM638 0h2.55v10h-2.55zM653 0h1.55v10h-1.55zM662 0h2.05v10h-2.05zM667.5 0h1.05v10h-1.05z"/><path fill="#e494a4" d="M147.5 0h2.05v10h-2.05zM238 0h1.55v10h-1.55zM246 0h1.05v10h-1.05zM375.5 0h2.05v10h-2.05zM449.5 0h2.05v10h-2.05zM501.5 0h1.55v10h-1.55zM645.5 0h1.55v10h-1.55z"/><path fill="#d8bc3c" d="M149.5 0h1.55v10h-1.55zM225 0h2.05v10h-2.05zM254 0h1.05v10h-1.05zM255 0h2.05v10h-2.05zM269.5 0h1.05v10h-1.05zM270.5 0h2.05v10h-2.05zM273.5 0h2.55v10h-2.55zM276 0h2.55v10h-2.55zM282 0h2.05v10h-2.05zM346.5 0h1.05v10h-1.05zM385.5 0h2.05v10h-2.05zM387.5 0h2.05v10h-2.05zM389.5 0h2.05v10h-2.05zM395.5 0h1.55v10h-1.55zM399 0h2.05v10h-2.05zM406 0h1.55v10h-1.55zM410 0h1.55v10h-1.55zM428 0h1.55v10h-1.55zM429.5 0h1.55v10h-1.55zM431 0h2.05v10h-2.05zM442 0h1.55v10h-1.55zM443.5 0h1.55v10h-1.55zM453.5 0h1.55v10h-1.55zM489 0h1.55v10h-1.55zM509.5 0h1.05v10h-1.05zM514.5 0h2.05v10h-2.05zM545.5 0h1.55v10h-1.55zM600 0h2.55v10h-2.55zM603.5 0h2.05v10h-2.05zM605.5 0h2.05v10h-2.05zM623.5 0h1.55v10h-1.55zM625 0h2.55v10h-2.55zM627.5 0h2.05v10h-2.05zM650.5 0h2.55v10h-2.55z"/><path fill="#e8a234" d="M155 0h1.55v10h-1.55zM178.5 0h1.55v10h-1.55zM180 0h2.55v10h-2.55zM195 0h1.55v10h-1.55zM206.5 0h1.05v10h-1.05zM216 0h2.05v10h-2.05zM234 0h1.55v10h-1.55zM235.5 0h1.55v10h-1.55zM239.5 0h1.55v10h-1.55zM249 0h1.55v10h-1.55zM286 0h1.55v10h-1.55zM289 0h1.55v10h-1.55zM295 0h2.05v10h-2.05zM312 0h1.05v10h-1.05zM322.5 0h2.05v10h-2.05zM325.5 0h2.05v10h-2.05zM329.5 0h2.55v10h-2.55zM333 0h1.55v10h-1.55zM354 0h1.05v10h-1.05zM361 0h2.05v10h-2.05zM372 0h2.05v10h-2.05zM381.5 0h2.05v10h-2.05zM407.5 0h2.55v10h-2.55zM411.5 0h1.55v10h-1.55zM418.5 0h1.05v10h-1.05zM446 0h1.55v10h-1.55zM458 0h1.55v10h-1.55zM459.5 0h2.05v10h-2.05zM473 0h2.05v10h-2.05zM478 0h1.55v10h-1.55zM479.5 0h1.55v10h-1.55zM490.5 0h1.05v10h-1.05zM504.5 0h1.55v10h-1.55zM508 0h1.55v10h-1.55zM520 0h1.55v10h-1.55zM525 0h1.55v10h-1.55zM526.5 0h2.05v10h-2.05zM549 0h2.55v10h-2.55zM585 0h2.05v10h-2.05zM589.5 0h2.05v10h-2.05zM609.5 0h2.05v10h-2.05zM640.5 0h2.05v10h-2.05zM644 0h1.55v10h-1.55zM647 0h1.55v10h-1.55zM654.5 0h2.55v10h-2.55zM664 0h1.55v10h-1.55zM670.5 0h1.55v10h-1.55z"/><path fill="#b4e0a0" d="M160 0h2.05v10h-2.05zM257 0h2.55v10h-2.55zM261.5 0h2.05v10h-2.05zM263.5 0h2.05v10h-2.05zM297 0h1.55v10h-1.55zM365 0h2.05v10h-2.05zM374 0h1.55v10h-1.55zM404.5 0h1.55v10h-1.55zM499.5 0h2.05v10h-2.05zM559.5 0h1.05v10h-1.05zM659 0h1.55v10h-1.55zM660.5 0h1.55v10h-1.55z"/><path fill="#8e3a22" d="M182.5 0h1.55v10h-1.55zM415 0h2.05v10h-2.05zM420.5 0h2.05v10h-2.05zM423.5 0h2.05v10h-2.05zM465 0h2.05v10h-2.05zM467 0h1.55v10h-1.55zM487 0h1.05v10h-1.05zM513 0h1.55v10h-1.55zM578 0h1.55v10h-1.55z"/><path fill="#3a6ec0" d="M192.5 0h2.55v10h-2.55zM259.5 0h1.05v10h-1.05zM368.5 0h2.55v10h-2.55zM560.5 0h1.05v10h-1.05zM561.5 0h2.55v10h-2.55zM566.5 0h1.55v10h-1.55zM568 0h1.55v10h-1.55z"/><path fill="#24947e" d="M205 0h1.55v10h-1.55zM210 0h2.55v10h-2.55zM224 0h1.05v10h-1.05zM232.5 0h1.55v10h-1.55zM243 0h1.55v10h-1.55zM244.5 0h1.55v10h-1.55zM284 0h2.05v10h-2.05zM290.5 0h2.55v10h-2.55zM300.5 0h1.05v10h-1.05zM311 0h1.05v10h-1.05zM318.5 0h2.05v10h-2.05zM320.5 0h2.05v10h-2.05zM377.5 0h1.55v10h-1.55zM379 0h2.55v10h-2.55zM391.5 0h2.05v10h-2.05zM417 0h1.55v10h-1.55zM435.5 0h2.05v10h-2.05zM445 0h1.05v10h-1.05zM468.5 0h1.55v10h-1.55zM476.5 0h1.55v10h-1.55zM528.5 0h1.55v10h-1.55zM530 0h2.05v10h-2.05zM551.5 0h1.55v10h-1.55zM614.5 0h2.05v10h-2.05zM637 0h1.05v10h-1.05zM657 0h2.05v10h-2.05zM665.5 0h2.05v10h-2.05zM668.5 0h2.05v10h-2.05z"/><path fill="#e4642a" d="M207.5 0h2.55v10h-2.55zM214.5 0h1.55v10h-1.55zM237 0h1.05v10h-1.05zM278.5 0h1.55v10h-1.55zM301.5 0h2.05v10h-2.05zM339.5 0h2.05v10h-2.05zM383.5 0h2.05v10h-2.05zM413 0h2.05v10h-2.05zM456.5 0h1.55v10h-1.55zM461.5 0h2.05v10h-2.05zM539.5 0h2.55v10h-2.55zM602.5 0h1.05v10h-1.05zM642.5 0h1.55v10h-1.55z"/><path fill="#a8a244" d="M220 0h2.55v10h-2.55zM250.5 0h1.05v10h-1.05zM260.5 0h1.05v10h-1.05zM268 0h1.55v10h-1.55zM272.5 0h1.05v10h-1.05zM367 0h1.55v10h-1.55zM422.5 0h1.05v10h-1.05zM425.5 0h2.55v10h-2.55zM510.5 0h2.55v10h-2.55z"/><path fill="#86c6e6" d="M419.5 0h1.05v10h-1.05zM629.5 0h2.05v10h-2.05z"/></pattern><pattern id="p4" patternUnits="userSpaceOnUse" x="0" y="0" width="675" height="10"><path fill="#2f9a36" d="M138 0h2.05v10h-2.05zM144.5 0h1.05v10h-1.05zM151 0h1.55v10h-1.55zM152.5 0h2.55v10h-2.55zM162 0h1.05v10h-1.05zM172.5 0h2.05v10h-2.05zM196.5 0h2.55v10h-2.55zM199 0h2.55v10h-2.55zM201.5 0h1.05v10h-1.05zM202.5 0h2.55v10h-2.55zM216 0h2.05v10h-2.05zM247 0h2.05v10h-2.05zM250.5 0h1.05v10h-1.05zM253 0h1.05v10h-1.05zM263.5 0h2.05v10h-2.05zM287.5 0h1.55v10h-1.55zM298.5 0h2.05v10h-2.05zM311 0h1.05v10h-1.05zM313 0h1.05v10h-1.05zM314 0h1.05v10h-1.05zM332 0h1.05v10h-1.05zM334.5 0h1.55v10h-1.55zM341.5 0h2.05v10h-2.05zM351.5 0h2.55v10h-2.55zM363 0h2.05v10h-2.05zM375.5 0h2.05v10h-2.05zM393.5 0h2.05v10h-2.05zM401 0h1.55v10h-1.55zM433 0h1.55v10h-1.55zM446 0h1.55v10h-1.55zM475 0h1.55v10h-1.55zM481 0h1.05v10h-1.05zM484.5 0h2.55v10h-2.55zM491.5 0h1.55v10h-1.55zM493 0h2.55v10h-2.55zM495.5 0h1.55v10h-1.55zM503 0h1.55v10h-1.55zM516.5 0h1.05v10h-1.05zM530 0h2.05v10h-2.05zM532 0h2.05v10h-2.05zM534 0h1.55v10h-1.55zM536.5 0h1.55v10h-1.55zM564 0h2.55v10h-2.55zM572 0h1.55v10h-1.55zM591.5 0h1.55v10h-1.55zM616.5 0h1.55v10h-1.55zM618 0h2.05v10h-2.05zM638 0h2.55v10h-2.55zM644 0h1.55v10h-1.55zM662 0h2.05v10h-2.05zM667.5 0h1.05v10h-1.05z"/><path fill="#ffffff" d="M140 0h1.05v10h-1.05zM141 0h2.55v10h-2.55zM160 0h2.05v10h-2.05zM174.5 0h2.05v10h-2.05zM176.5 0h2.05v10h-2.05zM189 0h2.05v10h-2.05zM191 0h1.55v10h-1.55zM212.5 0h2.05v10h-2.05zM231 0h1.55v10h-1.55zM234 0h1.55v10h-1.55zM241 0h2.05v10h-2.05zM243 0h1.55v10h-1.55zM265.5 0h2.55v10h-2.55zM293 0h2.05v10h-2.05zM297 0h1.55v10h-1.55zM309 0h2.05v10h-2.05zM315 0h2.55v10h-2.55zM317.5 0h1.05v10h-1.05zM338 0h1.55v10h-1.55zM355 0h1.55v10h-1.55zM358.5 0h2.55v10h-2.55zM371 0h1.05v10h-1.05zM379 0h2.55v10h-2.55zM397 0h2.05v10h-2.05zM434.5 0h1.05v10h-1.05zM447.5 0h2.05v10h-2.05zM455 0h1.55v10h-1.55zM463.5 0h1.55v10h-1.55zM479.5 0h1.55v10h-1.55zM490.5 0h1.05v10h-1.05zM501.5 0h1.55v10h-1.55zM517.5 0h2.55v10h-2.55zM521.5 0h1.05v10h-1.05zM522.5 0h1.55v10h-1.55zM524 0h1.05v10h-1.05zM535.5 0h1.05v10h-1.05zM538 0h1.55v10h-1.55zM542 0h1.55v10h-1.55zM543.5 0h2.05v10h-2.05zM553 0h1.55v10h-1.55zM557.5 0h2.05v10h-2.05zM559.5 0h1.05v10h-1.05zM569.5 0h2.55v10h-2.55zM573.5 0h2.05v10h-2.05zM583 0h2.05v10h-2.05zM593 0h2.55v10h-2.55zM595.5 0h1.05v10h-1.05zM596.5 0h2.05v10h-2.05zM598.5 0h1.55v10h-1.55zM611.5 0h1.55v10h-1.55zM635 0h2.05v10h-2.05z"/><path fill="#f6f0b4" d="M143.5 0h1.05v10h-1.05zM156.5 0h2.55v10h-2.55zM163 0h2.05v10h-2.05zM165 0h2.05v10h-2.05zM167 0h2.05v10h-2.05zM169 0h2.05v10h-2.05zM171 0h1.55v10h-1.55zM184 0h1.55v10h-1.55zM185.5 0h1.55v10h-1.55zM187 0h2.05v10h-2.05zM349.5 0h2.05v10h-2.05zM356.5 0h2.05v10h-2.05zM471.5 0h1.55v10h-1.55zM554.5 0h2.05v10h-2.05zM556.5 0h1.05v10h-1.05zM613 0h1.55v10h-1.55zM620 0h2.05v10h-2.05zM631.5 0h2.05v10h-2.05z"/><path fill="#d23a24" d="M145.5 0h2.05v10h-2.05zM218 0h2.05v10h-2.05zM222.5 0h1.55v10h-1.55zM227 0h2.55v10h-2.55zM251.5 0h1.55v10h-1.55zM303.5 0h1.55v10h-1.55zM305 0h1.55v10h-1.55zM306.5 0h1.05v10h-1.05zM307.5 0h1.55v10h-1.55zM347.5 0h2.05v10h-2.05zM465 0h2.05v10h-2.05zM468.5 0h1.55v10h-1.55zM470 0h1.55v10h-1.55zM575.5 0h2.55v10h-2.55zM579.5 0h1.55v10h-1.55zM581 0h2.05v10h-2.05zM587 0h2.55v10h-2.55zM607.5 0h2.05v10h-2.05zM622 0h1.55v10h-1.55zM648.5 0h2.05v10h-2.05zM653 0h1.55v10h-1.55zM670.5 0h1.55v10h-1.55z"/><path fill="#e494a4" d="M147.5 0h2.05v10h-2.05zM238 0h1.55v10h-1.55zM449.5 0h2.05v10h-2.05zM645.5 0h1.55v10h-1.55z"/><path fill="#d8bc3c" d="M149.5 0h1.55v10h-1.55zM225 0h2.05v10h-2.05zM254 0h1.05v10h-1.05zM255 0h2.05v10h-2.05zM260.5 0h1.05v10h-1.05zM261.5 0h2.05v10h-2.05zM269.5 0h1.05v10h-1.05zM270.5 0h2.05v10h-2.05zM273.5 0h2.55v10h-2.55zM282 0h2.05v10h-2.05zM346.5 0h1.05v10h-1.05zM389.5 0h2.05v10h-2.05zM395.5 0h1.55v10h-1.55zM399 0h2.05v10h-2.05zM410 0h1.55v10h-1.55zM415 0h2.05v10h-2.05zM428 0h1.55v10h-1.55zM429.5 0h1.55v10h-1.55zM431 0h2.05v10h-2.05zM442 0h1.55v10h-1.55zM443.5 0h1.55v10h-1.55zM451.5 0h2.05v10h-2.05zM453.5 0h1.55v10h-1.55zM458 0h1.55v10h-1.55zM489 0h1.55v10h-1.55zM506 0h2.05v10h-2.05zM509.5 0h1.05v10h-1.05zM514.5 0h2.05v10h-2.05zM545.5 0h1.55v10h-1.55zM547 0h2.05v10h-2.05zM603.5 0h2.05v10h-2.05zM605.5 0h2.05v10h-2.05zM623.5 0h1.55v10h-1.55zM625 0h2.55v10h-2.55zM627.5 0h2.05v10h-2.05zM633.5 0h1.55v10h-1.55z"/><path fill="#e8a234" d="M155 0h1.55v10h-1.55zM159 0h1.05v10h-1.05zM178.5 0h1.55v10h-1.55zM180 0h2.55v10h-2.55zM195 0h1.55v10h-1.55zM206.5 0h1.05v10h-1.05zM235.5 0h1.55v10h-1.55zM239.5 0h1.55v10h-1.55zM246 0h1.05v10h-1.05zM249 0h1.55v10h-1.55zM289 0h1.55v10h-1.55zM295 0h2.05v10h-2.05zM312 0h1.05v10h-1.05zM322.5 0h2.05v10h-2.05zM324.5 0h1.05v10h-1.05zM325.5 0h2.05v10h-2.05zM327.5 0h2.05v10h-2.05zM329.5 0h2.55v10h-2.55zM336 0h2.05v10h-2.05zM344.5 0h2.05v10h-2.05zM354 0h1.05v10h-1.05zM361 0h2.05v10h-2.05zM372 0h2.05v10h-2.05zM381.5 0h2.05v10h-2.05zM383.5 0h2.05v10h-2.05zM387.5 0h2.05v10h-2.05zM402.5 0h2.05v10h-2.05zM407.5 0h2.55v10h-2.55zM411.5 0h1.55v10h-1.55zM418.5 0h1.05v10h-1.05zM437.5 0h2.55v10h-2.55zM459.5 0h2.05v10h-2.05zM473 0h2.05v10h-2.05zM478 0h1.55v10h-1.55zM482 0h2.55v10h-2.55zM488 0h1.05v10h-1.05zM504.5 0h1.55v10h-1.55zM508 0h1.55v10h-1.55zM520 0h1.55v10h-1.55zM525 0h1.55v10h-1.55zM526.5 0h2.05v10h-2.05zM549 0h2.55v10h-2.55zM585 0h2.05v10h-2.05zM589.5 0h2.05v10h-2.05zM609.5 0h2.05v10h-2.05zM647 0h1.55v10h-1.55zM654.5 0h2.55v10h-2.55zM664 0h1.55v10h-1.55z"/><path fill="#8e3a22" d="M182.5 0h1.55v10h-1.55zM420.5 0h2.05v10h-2.05zM423.5 0h2.05v10h-2.05zM467 0h1.55v10h-1.55zM487 0h1.05v10h-1.05zM513 0h1.55v10h-1.55zM578 0h1.55v10h-1.55z"/><path fill="#3a6ec0" d="M192.5 0h2.55v10h-2.55zM259.5 0h1.05v10h-1.05zM368.5 0h2.55v10h-2.55zM560.5 0h1.05v10h-1.05zM566.5 0h1.55v10h-1.55zM568 0h1.55v10h-1.55zM650.5 0h2.55v10h-2.55z"/><path fill="#24947e" d="M205 0h1.55v10h-1.55zM210 0h2.55v10h-2.55zM224 0h1.05v10h-1.05zM229.5 0h1.55v10h-1.55zM232.5 0h1.55v10h-1.55zM244.5 0h1.55v10h-1.55zM276 0h2.55v10h-2.55zM280 0h2.05v10h-2.05zM284 0h2.05v10h-2.05zM286 0h1.55v10h-1.55zM290.5 0h2.55v10h-2.55zM300.5 0h1.05v10h-1.05zM318.5 0h2.05v10h-2.05zM320.5 0h2.05v10h-2.05zM377.5 0h1.55v10h-1.55zM391.5 0h2.05v10h-2.05zM417 0h1.55v10h-1.55zM435.5 0h2.05v10h-2.05zM440 0h2.05v10h-2.05zM445 0h1.05v10h-1.05zM476.5 0h1.55v10h-1.55zM528.5 0h1.55v10h-1.55zM551.5 0h1.55v10h-1.55zM600 0h2.55v10h-2.55zM614.5 0h2.05v10h-2.05zM637 0h1.05v10h-1.05zM657 0h2.05v10h-2.05zM665.5 0h2.05v10h-2.05zM668.5 0h2.05v10h-2.05z"/><path fill="#e4642a" d="M207.5 0h2.55v10h-2.55zM214.5 0h1.55v10h-1.55zM237 0h1.05v10h-1.05zM278.5 0h1.55v10h-1.55zM301.5 0h2.05v10h-2.05zM333 0h1.55v10h-1.55zM339.5 0h2.05v10h-2.05zM343.5 0h1.05v10h-1.05zM413 0h2.05v10h-2.05zM456.5 0h1.55v10h-1.55zM461.5 0h2.05v10h-2.05zM539.5 0h2.55v10h-2.55zM602.5 0h1.05v10h-1.05zM642.5 0h1.55v10h-1.55z"/><path fill="#a8a244" d="M220 0h2.55v10h-2.55zM268 0h1.55v10h-1.55zM272.5 0h1.05v10h-1.05zM367 0h1.55v10h-1.55zM422.5 0h1.05v10h-1.05zM425.5 0h2.55v10h-2.55zM510.5 0h2.55v10h-2.55z"/><path fill="#b4e0a0" d="M257 0h2.55v10h-2.55zM365 0h2.05v10h-2.05zM374 0h1.55v10h-1.55zM385.5 0h2.05v10h-2.05zM404.5 0h1.55v10h-1.55zM497 0h2.55v10h-2.55zM499.5 0h2.05v10h-2.05zM640.5 0h2.05v10h-2.05zM659 0h1.55v10h-1.55zM660.5 0h1.55v10h-1.55z"/><path fill="#86c6e6" d="M406 0h1.55v10h-1.55zM419.5 0h1.05v10h-1.05zM561.5 0h2.55v10h-2.55zM629.5 0h2.05v10h-2.05z"/></pattern><pattern id="p5" patternUnits="userSpaceOnUse" x="0" y="0" width="675" height="10"><path fill="#d23a24" d="M138 0h2.05v10h-2.05zM145.5 0h2.05v10h-2.05zM218 0h2.05v10h-2.05zM222.5 0h1.55v10h-1.55zM229.5 0h1.55v10h-1.55zM244.5 0h1.55v10h-1.55zM251.5 0h1.55v10h-1.55zM303.5 0h1.55v10h-1.55zM305 0h1.55v10h-1.55zM307.5 0h1.55v10h-1.55zM344.5 0h2.05v10h-2.05zM347.5 0h2.05v10h-2.05zM470 0h1.55v10h-1.55zM517.5 0h2.55v10h-2.55zM539.5 0h2.55v10h-2.55zM575.5 0h2.55v10h-2.55zM579.5 0h1.55v10h-1.55zM581 0h2.05v10h-2.05zM602.5 0h1.05v10h-1.05zM622 0h1.55v10h-1.55zM633.5 0h1.55v10h-1.55zM648.5 0h2.05v10h-2.05z"/><path fill="#ffffff" d="M140 0h1.05v10h-1.05zM141 0h2.55v10h-2.55zM172.5 0h2.05v10h-2.05zM176.5 0h2.05v10h-2.05zM178.5 0h1.55v10h-1.55zM189 0h2.05v10h-2.05zM191 0h1.55v10h-1.55zM212.5 0h2.05v10h-2.05zM231 0h1.55v10h-1.55zM239.5 0h1.55v10h-1.55zM241 0h2.05v10h-2.05zM265.5 0h2.55v10h-2.55zM280 0h2.05v10h-2.05zM293 0h2.05v10h-2.05zM309 0h2.05v10h-2.05zM313 0h1.05v10h-1.05zM315 0h2.55v10h-2.55zM317.5 0h1.05v10h-1.05zM327.5 0h2.05v10h-2.05zM336 0h2.05v10h-2.05zM355 0h1.55v10h-1.55zM358.5 0h2.55v10h-2.55zM371 0h1.05v10h-1.05zM397 0h2.05v10h-2.05zM434.5 0h1.05v10h-1.05zM440 0h2.05v10h-2.05zM447.5 0h2.05v10h-2.05zM455 0h1.55v10h-1.55zM497 0h2.55v10h-2.55zM506 0h2.05v10h-2.05zM520 0h1.55v10h-1.55zM521.5 0h1.05v10h-1.05zM522.5 0h1.55v10h-1.55zM524 0h1.05v10h-1.05zM532 0h2.05v10h-2.05zM538 0h1.55v10h-1.55zM542 0h1.55v10h-1.55zM543.5 0h2.05v10h-2.05zM551.5 0h1.55v10h-1.55zM553 0h1.55v10h-1.55zM557.5 0h2.05v10h-2.05zM566.5 0h1.55v10h-1.55zM569.5 0h2.55v10h-2.55zM583 0h2.05v10h-2.05zM587 0h2.55v10h-2.55zM593 0h2.55v10h-2.55zM595.5 0h1.05v10h-1.05zM596.5 0h2.05v10h-2.05zM598.5 0h1.55v10h-1.55zM607.5 0h2.05v10h-2.05zM611.5 0h1.55v10h-1.55zM644 0h1.55v10h-1.55z"/><path fill="#2f9a36" d="M143.5 0h1.05v10h-1.05zM144.5 0h1.05v10h-1.05zM151 0h1.55v10h-1.55zM152.5 0h2.55v10h-2.55zM155 0h1.55v10h-1.55zM159 0h1.05v10h-1.05zM162 0h1.05v10h-1.05zM169 0h2.05v10h-2.05zM196.5 0h2.55v10h-2.55zM199 0h2.55v10h-2.55zM201.5 0h1.05v10h-1.05zM227 0h2.55v10h-2.55zM247 0h2.05v10h-2.05zM253 0h1.05v10h-1.05zM268 0h1.55v10h-1.55zM287.5 0h1.55v10h-1.55zM306.5 0h1.05v10h-1.05zM312 0h1.05v10h-1.05zM314 0h1.05v10h-1.05zM332 0h1.05v10h-1.05zM334.5 0h1.55v10h-1.55zM341.5 0h2.05v10h-2.05zM343.5 0h1.05v10h-1.05zM351.5 0h2.55v10h-2.55zM363 0h2.05v10h-2.05zM399 0h2.05v10h-2.05zM401 0h1.55v10h-1.55zM437.5 0h2.55v10h-2.55zM451.5 0h2.05v10h-2.05zM475 0h1.55v10h-1.55zM481 0h1.05v10h-1.05zM482 0h2.55v10h-2.55zM484.5 0h2.55v10h-2.55zM488 0h1.05v10h-1.05zM491.5 0h1.55v10h-1.55zM493 0h2.55v10h-2.55zM495.5 0h1.55v10h-1.55zM503 0h1.55v10h-1.55zM534 0h1.55v10h-1.55zM535.5 0h1.05v10h-1.05zM536.5 0h1.55v10h-1.55zM564 0h2.55v10h-2.55zM591.5 0h1.55v10h-1.55zM616.5 0h1.55v10h-1.55zM635 0h2.05v10h-2.05zM653 0h1.55v10h-1.55zM659 0h1.55v10h-1.55zM662 0h2.05v10h-2.05zM667.5 0h1.05v10h-1.05z"/><path fill="#e8a234" d="M147.5 0h2.05v10h-2.05zM149.5 0h1.55v10h-1.55zM171 0h1.55v10h-1.55zM174.5 0h2.05v10h-2.05zM180 0h2.55v10h-2.55zM195 0h1.55v10h-1.55zM206.5 0h1.05v10h-1.05zM216 0h2.05v10h-2.05zM234 0h1.55v10h-1.55zM235.5 0h1.55v10h-1.55zM249 0h1.55v10h-1.55zM272.5 0h1.05v10h-1.05zM286 0h1.55v10h-1.55zM289 0h1.55v10h-1.55zM295 0h2.05v10h-2.05zM325.5 0h2.05v10h-2.05zM329.5 0h2.55v10h-2.55zM338 0h1.55v10h-1.55zM354 0h1.05v10h-1.05zM372 0h2.05v10h-2.05zM381.5 0h2.05v10h-2.05zM407.5 0h2.55v10h-2.55zM411.5 0h1.55v10h-1.55zM415 0h2.05v10h-2.05zM418.5 0h1.05v10h-1.05zM435.5 0h2.05v10h-2.05zM445 0h1.05v10h-1.05zM446 0h1.55v10h-1.55zM458 0h1.55v10h-1.55zM461.5 0h2.05v10h-2.05zM473 0h2.05v10h-2.05zM478 0h1.55v10h-1.55zM479.5 0h1.55v10h-1.55zM490.5 0h1.05v10h-1.05zM504.5 0h1.55v10h-1.55zM508 0h1.55v10h-1.55zM525 0h1.55v10h-1.55zM526.5 0h2.05v10h-2.05zM549 0h2.55v10h-2.55zM572 0h1.55v10h-1.55zM585 0h2.05v10h-2.05zM589.5 0h2.05v10h-2.05zM609.5 0h2.05v10h-2.05zM640.5 0h2.05v10h-2.05zM647 0h1.55v10h-1.55zM654.5 0h2.55v10h-2.55zM670.5 0h1.55v10h-1.55z"/><path fill="#f6f0b4" d="M156.5 0h2.55v10h-2.55zM163 0h2.05v10h-2.05zM165 0h2.05v10h-2.05zM167 0h2.05v10h-2.05zM184 0h1.55v10h-1.55zM185.5 0h1.55v10h-1.55zM187 0h2.05v10h-2.05zM349.5 0h2.05v10h-2.05zM356.5 0h2.05v10h-2.05zM393.5 0h2.05v10h-2.05zM402.5 0h2.05v10h-2.05zM471.5 0h1.55v10h-1.55zM530 0h2.05v10h-2.05zM547 0h2.05v10h-2.05zM554.5 0h2.05v10h-2.05zM556.5 0h1.05v10h-1.05zM613 0h1.55v10h-1.55zM618 0h2.05v10h-2.05zM631.5 0h2.05v10h-2.05z"/><path fill="#b4e0a0" d="M160 0h2.05v10h-2.05zM257 0h2.55v10h-2.55zM263.5 0h2.05v10h-2.05zM297 0h1.55v10h-1.55zM365 0h2.05v10h-2.05zM404.5 0h1.55v10h-1.55zM499.5 0h2.05v10h-2.05zM660.5 0h1.55v10h-1.55zM664 0h1.55v10h-1.55z"/><path fill="#8e3a22" d="M182.5 0h1.55v10h-1.55zM202.5 0h2.55v10h-2.55zM420.5 0h2.05v10h-2.05zM423.5 0h2.05v10h-2.05zM465 0h2.05v10h-2.05zM467 0h1.55v10h-1.55zM487 0h1.05v10h-1.05zM513 0h1.55v10h-1.55zM578 0h1.55v10h-1.55zM625 0h2.55v10h-2.55z"/><path fill="#3a6ec0" d="M192.5 0h2.55v10h-2.55zM259.5 0h1.05v10h-1.05zM368.5 0h2.55v10h-2.55zM560.5 0h1.05v10h-1.05zM561.5 0h2.55v10h-2.55zM568 0h1.55v10h-1.55z"/><path fill="#d8bc3c" d="M205 0h1.55v10h-1.55zM225 0h2.05v10h-2.05zM261.5 0h2.05v10h-2.05zM269.5 0h1.05v10h-1.05zM273.5 0h2.55v10h-2.55zM276 0h2.55v10h-2.55zM282 0h2.05v10h-2.05zM298.5 0h2.05v10h-2.05zM346.5 0h1.05v10h-1.05zM361 0h2.05v10h-2.05zM374 0h1.55v10h-1.55zM385.5 0h2.05v10h-2.05zM387.5 0h2.05v10h-2.05zM389.5 0h2.05v10h-2.05zM395.5 0h1.55v10h-1.55zM406 0h1.55v10h-1.55zM410 0h1.55v10h-1.55zM428 0h1.55v10h-1.55zM429.5 0h1.55v10h-1.55zM431 0h2.05v10h-2.05zM442 0h1.55v10h-1.55zM443.5 0h1.55v10h-1.55zM453.5 0h1.55v10h-1.55zM463.5 0h1.55v10h-1.55zM489 0h1.55v10h-1.55zM509.5 0h1.05v10h-1.05zM514.5 0h2.05v10h-2.05zM516.5 0h1.05v10h-1.05zM600 0h2.55v10h-2.55zM603.5 0h2.05v10h-2.05zM605.5 0h2.05v10h-2.05zM623.5 0h1.55v10h-1.55zM627.5 0h2.05v10h-2.05zM650.5 0h2.55v10h-2.55z"/><path fill="#24947e" d="M207.5 0h2.55v10h-2.55zM210 0h2.55v10h-2.55zM224 0h1.05v10h-1.05zM232.5 0h1.55v10h-1.55zM243 0h1.55v10h-1.55zM284 0h2.05v10h-2.05zM290.5 0h2.55v10h-2.55zM300.5 0h1.05v10h-1.05zM311 0h1.05v10h-1.05zM318.5 0h2.05v10h-2.05zM320.5 0h2.05v10h-2.05zM322.5 0h2.05v10h-2.05zM367 0h1.55v10h-1.55zM377.5 0h1.55v10h-1.55zM379 0h2.55v10h-2.55zM391.5 0h2.05v10h-2.05zM459.5 0h2.05v10h-2.05zM468.5 0h1.55v10h-1.55zM528.5 0h1.55v10h-1.55zM545.5 0h1.55v10h-1.55zM573.5 0h2.05v10h-2.05zM614.5 0h2.05v10h-2.05zM638 0h2.55v10h-2.55zM657 0h2.05v10h-2.05zM665.5 0h2.05v10h-2.05zM668.5 0h2.05v10h-2.05z"/><path fill="#e4642a" d="M214.5 0h1.55v10h-1.55zM237 0h1.05v10h-1.05zM278.5 0h1.55v10h-1.55zM301.5 0h2.05v10h-2.05zM339.5 0h2.05v10h-2.05zM383.5 0h2.05v10h-2.05zM413 0h2.05v10h-2.05zM433 0h1.55v10h-1.55zM456.5 0h1.55v10h-1.55zM642.5 0h1.55v10h-1.55z"/><path fill="#a8a244" d="M220 0h2.55v10h-2.55zM250.5 0h1.05v10h-1.05zM254 0h1.05v10h-1.05zM255 0h2.05v10h-2.05zM260.5 0h1.05v10h-1.05zM270.5 0h2.05v10h-2.05zM324.5 0h1.05v10h-1.05zM333 0h1.55v10h-1.55zM422.5 0h1.05v10h-1.05zM425.5 0h2.55v10h-2.55zM510.5 0h2.55v10h-2.55zM637 0h1.05v10h-1.05z"/><path fill="#e494a4" d="M238 0h1.55v10h-1.55zM246 0h1.05v10h-1.05zM375.5 0h2.05v10h-2.05zM449.5 0h2.05v10h-2.05zM476.5 0h1.55v10h-1.55zM501.5 0h1.55v10h-1.55zM645.5 0h1.55v10h-1.55z"/><path fill="#86c6e6" d="M417 0h1.55v10h-1.55zM419.5 0h1.05v10h-1.05zM559.5 0h1.05v10h-1.05zM620 0h2.05v10h-2.05zM629.5 0h2.05v10h-2.05z"/></pattern><pattern id="p6" patternUnits="userSpaceOnUse" x="0" y="0" width="675" height="10"><path fill="#d23a24" d="M138 0h1.55v10h-1.55zM229 0h1.05v10h-1.05zM231 0h2.05v10h-2.05zM233 0h1.55v10h-1.55zM237.5 0h2.55v10h-2.55zM305 0h1.55v10h-1.55zM342 0h2.55v10h-2.55zM357.5 0h1.55v10h-1.55zM578 0h2.05v10h-2.05zM580 0h2.05v10h-2.05zM582 0h2.05v10h-2.05zM590.5 0h2.05v10h-2.05zM665.5 0h2.55v10h-2.55zM671.5 0h1.05v10h-1.05z"/><path fill="#e8a234" d="M139.5 0h1.55v10h-1.55zM152.5 0h2.05v10h-2.05zM167.5 0h2.05v10h-2.05zM174 0h2.05v10h-2.05zM192.5 0h2.05v10h-2.05zM209.5 0h1.55v10h-1.55zM221 0h1.55v10h-1.55zM225.5 0h2.55v10h-2.55zM254.5 0h1.05v10h-1.05zM255.5 0h2.55v10h-2.55zM261 0h1.55v10h-1.55zM265.5 0h2.05v10h-2.05zM267.5 0h2.55v10h-2.55zM274 0h2.05v10h-2.05zM276 0h2.05v10h-2.05zM288 0h2.55v10h-2.55zM297 0h2.55v10h-2.55zM300.5 0h2.55v10h-2.55zM308.5 0h1.05v10h-1.05zM328 0h1.55v10h-1.55zM332 0h1.55v10h-1.55zM333.5 0h2.55v10h-2.55zM336 0h1.05v10h-1.05zM340.5 0h1.55v10h-1.55zM421 0h2.05v10h-2.05zM425 0h2.55v10h-2.55zM431.5 0h1.55v10h-1.55zM433 0h2.05v10h-2.05zM441.5 0h1.55v10h-1.55zM446.5 0h1.55v10h-1.55zM448 0h2.55v10h-2.55zM460.5 0h1.05v10h-1.05zM466 0h1.55v10h-1.55zM474.5 0h1.55v10h-1.55zM492.5 0h1.05v10h-1.05zM514.5 0h1.05v10h-1.05zM523 0h2.05v10h-2.05zM525 0h1.55v10h-1.55zM534.5 0h2.05v10h-2.05zM544.5 0h1.55v10h-1.55zM561 0h1.55v10h-1.55zM584 0h2.55v10h-2.55zM586.5 0h2.05v10h-2.05zM603 0h2.05v10h-2.05zM622 0h2.55v10h-2.55zM628 0h1.05v10h-1.05zM633 0h2.55v10h-2.55zM635.5 0h2.05v10h-2.05zM646 0h1.55v10h-1.55zM651 0h1.05v10h-1.05zM655.5 0h2.05v10h-2.05z"/><path fill="#2f9a36" d="M141 0h2.55v10h-2.55zM146 0h1.55v10h-1.55zM147.5 0h2.05v10h-2.05zM165.5 0h2.05v10h-2.05zM176 0h1.55v10h-1.55zM185 0h1.55v10h-1.55zM205 0h2.05v10h-2.05zM207 0h1.05v10h-1.05zM230 0h1.05v10h-1.05zM240 0h1.55v10h-1.55zM241.5 0h2.55v10h-2.55zM244 0h1.55v10h-1.55zM245.5 0h1.05v10h-1.05zM248.5 0h2.55v10h-2.55zM251 0h2.55v10h-2.55zM253.5 0h1.05v10h-1.05zM280 0h2.05v10h-2.05zM286 0h2.05v10h-2.05zM290.5 0h2.55v10h-2.55zM296 0h1.05v10h-1.05zM312.5 0h1.55v10h-1.55zM320 0h2.05v10h-2.05zM329.5 0h2.55v10h-2.55zM339 0h1.55v10h-1.55zM362.5 0h1.55v10h-1.55zM392.5 0h1.05v10h-1.05zM413 0h1.55v10h-1.55zM423 0h2.05v10h-2.05zM438 0h2.05v10h-2.05zM445 0h1.55v10h-1.55zM458 0h2.55v10h-2.55zM483.5 0h2.55v10h-2.55zM494.5 0h1.55v10h-1.55zM497.5 0h1.05v10h-1.05zM501 0h2.55v10h-2.55zM528.5 0h1.55v10h-1.55zM540.5 0h1.55v10h-1.55zM546 0h2.05v10h-2.05zM554.5 0h1.55v10h-1.55zM556 0h1.05v10h-1.05zM605 0h1.55v10h-1.55zM612 0h1.55v10h-1.55zM626 0h2.05v10h-2.05zM630 0h1.05v10h-1.05zM641 0h1.55v10h-1.55zM657.5 0h2.05v10h-2.05z"/><path fill="#ffffff" d="M143.5 0h2.55v10h-2.55zM151.5 0h1.05v10h-1.05zM154.5 0h2.55v10h-2.55zM157 0h1.05v10h-1.05zM158 0h2.05v10h-2.05zM169.5 0h1.55v10h-1.55zM172.5 0h1.55v10h-1.55zM178.5 0h1.55v10h-1.55zM181.5 0h1.55v10h-1.55zM186.5 0h2.55v10h-2.55zM189 0h1.55v10h-1.55zM211 0h2.05v10h-2.05zM213 0h2.55v10h-2.55zM218.5 0h2.55v10h-2.55zM228 0h1.05v10h-1.05zM258 0h1.55v10h-1.55zM259.5 0h1.55v10h-1.55zM293 0h1.05v10h-1.05zM311 0h1.55v10h-1.55zM314 0h1.55v10h-1.55zM315.5 0h2.05v10h-2.05zM325 0h1.55v10h-1.55zM369.5 0h2.55v10h-2.55zM375.5 0h1.05v10h-1.05zM378.5 0h2.05v10h-2.05zM380.5 0h2.05v10h-2.05zM382.5 0h2.05v10h-2.05zM386.5 0h2.55v10h-2.55zM405.5 0h2.55v10h-2.55zM420 0h1.05v10h-1.05zM427.5 0h1.55v10h-1.55zM429 0h2.55v10h-2.55zM435 0h1.05v10h-1.05zM464 0h1.05v10h-1.05zM467.5 0h2.05v10h-2.05zM496 0h1.55v10h-1.55zM507 0h1.55v10h-1.55zM510.5 0h2.05v10h-2.05zM517 0h2.05v10h-2.05zM519 0h2.55v10h-2.55zM532.5 0h2.05v10h-2.05zM538 0h1.05v10h-1.05zM550 0h1.05v10h-1.05zM566.5 0h1.05v10h-1.05zM567.5 0h1.55v10h-1.55zM573.5 0h2.05v10h-2.05zM575.5 0h1.55v10h-1.55zM577 0h1.05v10h-1.05zM588.5 0h2.05v10h-2.05zM596 0h2.05v10h-2.05zM598 0h1.05v10h-1.05zM599 0h2.55v10h-2.55zM606.5 0h1.55v10h-1.55zM613.5 0h2.05v10h-2.05zM659.5 0h2.55v10h-2.55zM662 0h2.05v10h-2.05zM669 0h1.05v10h-1.05z"/><path fill="#e4642a" d="M149.5 0h2.05v10h-2.05zM216.5 0h2.05v10h-2.05zM303 0h1.05v10h-1.05zM304 0h1.05v10h-1.05zM349 0h2.55v10h-2.55zM542 0h2.55v10h-2.55zM551 0h2.05v10h-2.05zM553 0h1.55v10h-1.55zM610 0h2.05v10h-2.05z"/><path fill="#3a6ec0" d="M160 0h2.05v10h-2.05zM360.5 0h2.05v10h-2.05zM562.5 0h2.05v10h-2.05zM621 0h1.05v10h-1.05z"/><path fill="#b4e0a0" d="M162 0h2.05v10h-2.05zM234.5 0h2.05v10h-2.05zM351.5 0h2.05v10h-2.05zM355 0h2.55v10h-2.55zM364 0h1.55v10h-1.55zM461.5 0h2.55v10h-2.55zM505.5 0h1.55v10h-1.55zM631 0h2.05v10h-2.05zM637.5 0h1.55v10h-1.55zM639 0h2.05v10h-2.05z"/><path fill="#d8bc3c" d="M164 0h1.55v10h-1.55zM215.5 0h1.05v10h-1.05zM222.5 0h2.05v10h-2.05zM236.5 0h1.05v10h-1.05zM372 0h1.55v10h-1.55zM389 0h2.05v10h-2.05zM393.5 0h2.05v10h-2.05zM400 0h2.05v10h-2.05zM409.5 0h1.55v10h-1.55zM443 0h2.05v10h-2.05zM452.5 0h2.05v10h-2.05zM456 0h2.05v10h-2.05zM478 0h1.55v10h-1.55zM479.5 0h1.55v10h-1.55zM481 0h2.55v10h-2.55zM486 0h2.05v10h-2.05zM488 0h2.05v10h-2.05zM490 0h1.05v10h-1.05zM503.5 0h2.05v10h-2.05zM512.5 0h2.05v10h-2.05zM515.5 0h1.55v10h-1.55zM594.5 0h1.55v10h-1.55zM608 0h2.05v10h-2.05zM615.5 0h2.05v10h-2.05zM629 0h1.05v10h-1.05zM644.5 0h1.55v10h-1.55zM670 0h1.55v10h-1.55z"/><path fill="#8e3a22" d="M171 0h1.55v10h-1.55zM282 0h2.05v10h-2.05zM344.5 0h2.05v10h-2.05zM367 0h2.55v10h-2.55zM491 0h1.55v10h-1.55zM564.5 0h2.05v10h-2.05zM642.5 0h2.05v10h-2.05z"/><path fill="#f6f0b4" d="M177.5 0h1.05v10h-1.05zM183 0h2.05v10h-2.05zM190.5 0h2.05v10h-2.05zM208 0h1.55v10h-1.55zM262.5 0h1.55v10h-1.55zM264 0h1.55v10h-1.55zM270 0h1.55v10h-1.55zM278 0h2.05v10h-2.05zM408 0h1.55v10h-1.55zM450.5 0h2.05v10h-2.05zM592.5 0h2.05v10h-2.05zM619 0h2.05v10h-2.05zM624.5 0h1.55v10h-1.55z"/><path fill="#e494a4" d="M180 0h1.55v10h-1.55zM194.5 0h1.55v10h-1.55zM246.5 0h2.05v10h-2.05zM373.5 0h2.05v10h-2.05zM395.5 0h2.05v10h-2.05zM397.5 0h2.55v10h-2.55zM508.5 0h2.05v10h-2.05zM530 0h2.55v10h-2.55zM539 0h1.55v10h-1.55zM652 0h2.05v10h-2.05z"/><path fill="#24947e" d="M196 0h2.05v10h-2.05zM198 0h1.05v10h-1.05zM199 0h1.55v10h-1.55zM200.5 0h2.05v10h-2.05zM202.5 0h2.55v10h-2.55zM224.5 0h1.05v10h-1.05zM271.5 0h2.55v10h-2.55zM284 0h2.05v10h-2.05zM294 0h2.05v10h-2.05zM299.5 0h1.05v10h-1.05zM306.5 0h2.05v10h-2.05zM309.5 0h1.55v10h-1.55zM317.5 0h1.05v10h-1.05zM318.5 0h1.55v10h-1.55zM322 0h1.05v10h-1.05zM323 0h2.05v10h-2.05zM337 0h2.05v10h-2.05zM359 0h1.55v10h-1.55zM365.5 0h1.55v10h-1.55zM404.5 0h1.05v10h-1.05zM411 0h2.05v10h-2.05zM414.5 0h1.55v10h-1.55zM416 0h2.05v10h-2.05zM436 0h2.05v10h-2.05zM440 0h1.55v10h-1.55zM454.5 0h1.55v10h-1.55zM469.5 0h1.55v10h-1.55zM472.5 0h2.05v10h-2.05zM476 0h2.05v10h-2.05zM498.5 0h2.55v10h-2.55zM526.5 0h2.05v10h-2.05zM536.5 0h1.55v10h-1.55zM557 0h2.55v10h-2.55zM559.5 0h1.55v10h-1.55zM617.5 0h1.55v10h-1.55zM647.5 0h1.55v10h-1.55zM649 0h2.05v10h-2.05zM654 0h1.55v10h-1.55zM668 0h1.05v10h-1.05z"/><path fill="#86c6e6" d="M326.5 0h1.55v10h-1.55zM353.5 0h1.55v10h-1.55zM376.5 0h2.05v10h-2.05zM384.5 0h2.05v10h-2.05zM391 0h1.55v10h-1.55zM402 0h2.55v10h-2.55zM418 0h2.05v10h-2.05zM465 0h1.05v10h-1.05zM493.5 0h1.05v10h-1.05zM569 0h2.55v10h-2.55zM571.5 0h2.05v10h-2.05z"/><path fill="#a8a244" d="M346.5 0h2.55v10h-2.55zM471 0h1.55v10h-1.55zM521.5 0h1.55v10h-1.55zM548 0h2.05v10h-2.05zM601.5 0h1.55v10h-1.55zM664 0h1.55v10h-1.55z"/></pattern><pattern id="p7" patternUnits="userSpaceOnUse" x="0" y="0" width="675" height="10"><path fill="#d23a24" d="M138 0h1.55v10h-1.55zM172.5 0h1.55v10h-1.55zM229 0h1.05v10h-1.05zM231 0h2.05v10h-2.05zM233 0h1.55v10h-1.55zM357.5 0h1.55v10h-1.55zM467.5 0h2.05v10h-2.05zM578 0h2.05v10h-2.05zM580 0h2.05v10h-2.05zM582 0h2.05v10h-2.05zM590.5 0h2.05v10h-2.05zM594.5 0h1.55v10h-1.55zM659.5 0h2.55v10h-2.55zM665.5 0h2.55v10h-2.55z"/><path fill="#e8a234" d="M139.5 0h1.55v10h-1.55zM146 0h1.55v10h-1.55zM152.5 0h2.05v10h-2.05zM157 0h1.05v10h-1.05zM162 0h2.05v10h-2.05zM167.5 0h2.05v10h-2.05zM174 0h2.05v10h-2.05zM180 0h1.55v10h-1.55zM209.5 0h1.55v10h-1.55zM221 0h1.55v10h-1.55zM225.5 0h2.55v10h-2.55zM254.5 0h1.05v10h-1.05zM258 0h1.55v10h-1.55zM261 0h1.55v10h-1.55zM265.5 0h2.05v10h-2.05zM267.5 0h2.55v10h-2.55zM274 0h2.05v10h-2.05zM276 0h2.05v10h-2.05zM280 0h2.05v10h-2.05zM300.5 0h2.55v10h-2.55zM308.5 0h1.05v10h-1.05zM312.5 0h1.55v10h-1.55zM328 0h1.55v10h-1.55zM332 0h1.55v10h-1.55zM333.5 0h2.55v10h-2.55zM336 0h1.05v10h-1.05zM340.5 0h1.55v10h-1.55zM342 0h2.55v10h-2.55zM349 0h2.55v10h-2.55zM421 0h2.05v10h-2.05zM423 0h2.05v10h-2.05zM425 0h2.55v10h-2.55zM431.5 0h1.55v10h-1.55zM441.5 0h1.55v10h-1.55zM446.5 0h1.55v10h-1.55zM448 0h2.55v10h-2.55zM454.5 0h1.55v10h-1.55zM460.5 0h1.05v10h-1.05zM461.5 0h2.55v10h-2.55zM466 0h1.55v10h-1.55zM492.5 0h1.05v10h-1.05zM507 0h1.55v10h-1.55zM514.5 0h1.05v10h-1.05zM525 0h1.55v10h-1.55zM540.5 0h1.55v10h-1.55zM557 0h2.55v10h-2.55zM561 0h1.55v10h-1.55zM577 0h1.05v10h-1.05zM584 0h2.55v10h-2.55zM603 0h2.05v10h-2.05zM628 0h1.05v10h-1.05zM633 0h2.55v10h-2.55zM635.5 0h2.05v10h-2.05zM651 0h1.05v10h-1.05zM655.5 0h2.05v10h-2.05z"/><path fill="#2f9a36" d="M141 0h2.55v10h-2.55zM165.5 0h2.05v10h-2.05zM176 0h1.55v10h-1.55zM178.5 0h1.55v10h-1.55zM185 0h1.55v10h-1.55zM192.5 0h2.05v10h-2.05zM207 0h1.05v10h-1.05zM230 0h1.05v10h-1.05zM237.5 0h2.55v10h-2.55zM241.5 0h2.55v10h-2.55zM245.5 0h1.05v10h-1.05zM248.5 0h2.55v10h-2.55zM251 0h2.55v10h-2.55zM253.5 0h1.05v10h-1.05zM270 0h1.55v10h-1.55zM286 0h2.05v10h-2.05zM288 0h2.55v10h-2.55zM290.5 0h2.55v10h-2.55zM294 0h2.05v10h-2.05zM296 0h1.05v10h-1.05zM297 0h2.55v10h-2.55zM305 0h1.55v10h-1.55zM329.5 0h2.55v10h-2.55zM339 0h1.55v10h-1.55zM362.5 0h1.55v10h-1.55zM380.5 0h2.05v10h-2.05zM382.5 0h2.05v10h-2.05zM392.5 0h1.05v10h-1.05zM404.5 0h1.05v10h-1.05zM413 0h1.55v10h-1.55zM443 0h2.05v10h-2.05zM445 0h1.55v10h-1.55zM458 0h2.55v10h-2.55zM474.5 0h1.55v10h-1.55zM479.5 0h1.55v10h-1.55zM486 0h2.05v10h-2.05zM491 0h1.55v10h-1.55zM494.5 0h1.55v10h-1.55zM501 0h2.55v10h-2.55zM554.5 0h1.55v10h-1.55zM556 0h1.05v10h-1.05zM601.5 0h1.55v10h-1.55zM605 0h1.55v10h-1.55zM612 0h1.55v10h-1.55zM613.5 0h2.05v10h-2.05zM619 0h2.05v10h-2.05zM626 0h2.05v10h-2.05zM631 0h2.05v10h-2.05zM641 0h1.55v10h-1.55zM652 0h2.05v10h-2.05zM657.5 0h2.05v10h-2.05zM669 0h1.05v10h-1.05z"/><path fill="#ffffff" d="M143.5 0h2.55v10h-2.55zM147.5 0h2.05v10h-2.05zM149.5 0h2.05v10h-2.05zM151.5 0h1.05v10h-1.05zM154.5 0h2.55v10h-2.55zM158 0h2.05v10h-2.05zM169.5 0h1.55v10h-1.55zM171 0h1.55v10h-1.55zM181.5 0h1.55v10h-1.55zM186.5 0h2.55v10h-2.55zM189 0h1.55v10h-1.55zM190.5 0h2.05v10h-2.05zM208 0h1.55v10h-1.55zM211 0h2.05v10h-2.05zM218.5 0h2.55v10h-2.55zM259.5 0h1.55v10h-1.55zM293 0h1.05v10h-1.05zM311 0h1.55v10h-1.55zM314 0h1.55v10h-1.55zM315.5 0h2.05v10h-2.05zM320 0h2.05v10h-2.05zM323 0h2.05v10h-2.05zM325 0h1.55v10h-1.55zM364 0h1.55v10h-1.55zM367 0h2.55v10h-2.55zM369.5 0h2.55v10h-2.55zM375.5 0h1.05v10h-1.05zM378.5 0h2.05v10h-2.05zM386.5 0h2.55v10h-2.55zM393.5 0h2.05v10h-2.05zM397.5 0h2.55v10h-2.55zM402 0h2.55v10h-2.55zM405.5 0h2.55v10h-2.55zM420 0h1.05v10h-1.05zM427.5 0h1.55v10h-1.55zM435 0h1.05v10h-1.05zM464 0h1.05v10h-1.05zM496 0h1.55v10h-1.55zM517 0h2.05v10h-2.05zM519 0h2.55v10h-2.55zM532.5 0h2.05v10h-2.05zM538 0h1.05v10h-1.05zM546 0h2.05v10h-2.05zM567.5 0h1.55v10h-1.55zM573.5 0h2.05v10h-2.05zM575.5 0h1.55v10h-1.55zM586.5 0h2.05v10h-2.05zM596 0h2.05v10h-2.05zM598 0h1.05v10h-1.05zM599 0h2.55v10h-2.55zM606.5 0h1.55v10h-1.55zM662 0h2.05v10h-2.05z"/><path fill="#3a6ec0" d="M160 0h2.05v10h-2.05zM244 0h1.55v10h-1.55zM360.5 0h2.05v10h-2.05zM562.5 0h2.05v10h-2.05zM569 0h2.55v10h-2.55zM621 0h1.05v10h-1.05z"/><path fill="#d8bc3c" d="M164 0h1.55v10h-1.55zM222.5 0h2.05v10h-2.05zM236.5 0h1.05v10h-1.05zM282 0h2.05v10h-2.05zM351.5 0h2.05v10h-2.05zM372 0h1.55v10h-1.55zM389 0h2.05v10h-2.05zM400 0h2.05v10h-2.05zM409.5 0h1.55v10h-1.55zM429 0h2.55v10h-2.55zM452.5 0h2.05v10h-2.05zM456 0h2.05v10h-2.05zM478 0h1.55v10h-1.55zM481 0h2.55v10h-2.55zM488 0h2.05v10h-2.05zM490 0h1.05v10h-1.05zM503.5 0h2.05v10h-2.05zM515.5 0h1.55v10h-1.55zM521.5 0h1.55v10h-1.55zM528.5 0h1.55v10h-1.55zM534.5 0h2.05v10h-2.05zM544.5 0h1.55v10h-1.55zM622 0h2.55v10h-2.55zM629 0h1.05v10h-1.05zM630 0h1.05v10h-1.05zM639 0h2.05v10h-2.05zM644.5 0h1.55v10h-1.55zM670 0h1.55v10h-1.55z"/><path fill="#e494a4" d="M177.5 0h1.05v10h-1.05zM194.5 0h1.55v10h-1.55zM395.5 0h2.05v10h-2.05zM508.5 0h2.05v10h-2.05zM510.5 0h2.05v10h-2.05zM530 0h2.55v10h-2.55zM539 0h1.55v10h-1.55zM608 0h2.05v10h-2.05zM647.5 0h1.55v10h-1.55z"/><path fill="#f6f0b4" d="M183 0h2.05v10h-2.05zM255.5 0h2.55v10h-2.55zM262.5 0h1.55v10h-1.55zM264 0h1.55v10h-1.55zM278 0h2.05v10h-2.05zM408 0h1.55v10h-1.55zM450.5 0h2.05v10h-2.05zM592.5 0h2.05v10h-2.05zM624.5 0h1.55v10h-1.55zM646 0h1.55v10h-1.55zM654 0h1.55v10h-1.55z"/><path fill="#24947e" d="M196 0h2.05v10h-2.05zM198 0h1.05v10h-1.05zM199 0h1.55v10h-1.55zM200.5 0h2.05v10h-2.05zM202.5 0h2.55v10h-2.55zM205 0h2.05v10h-2.05zM224.5 0h1.05v10h-1.05zM228 0h1.05v10h-1.05zM240 0h1.55v10h-1.55zM271.5 0h2.55v10h-2.55zM284 0h2.05v10h-2.05zM299.5 0h1.05v10h-1.05zM306.5 0h2.05v10h-2.05zM309.5 0h1.55v10h-1.55zM317.5 0h1.05v10h-1.05zM318.5 0h1.55v10h-1.55zM322 0h1.05v10h-1.05zM337 0h2.05v10h-2.05zM355 0h2.55v10h-2.55zM359 0h1.55v10h-1.55zM365.5 0h1.55v10h-1.55zM411 0h2.05v10h-2.05zM414.5 0h1.55v10h-1.55zM416 0h2.05v10h-2.05zM433 0h2.05v10h-2.05zM436 0h2.05v10h-2.05zM440 0h1.55v10h-1.55zM469.5 0h1.55v10h-1.55zM471 0h1.55v10h-1.55zM472.5 0h2.05v10h-2.05zM476 0h2.05v10h-2.05zM493.5 0h1.05v10h-1.05zM497.5 0h1.05v10h-1.05zM498.5 0h2.55v10h-2.55zM512.5 0h2.05v10h-2.05zM523 0h2.05v10h-2.05zM536.5 0h1.55v10h-1.55zM550 0h1.05v10h-1.05zM559.5 0h1.55v10h-1.55zM615.5 0h2.05v10h-2.05zM617.5 0h1.55v10h-1.55zM642.5 0h2.05v10h-2.05zM649 0h2.05v10h-2.05zM668 0h1.05v10h-1.05z"/><path fill="#a8a244" d="M213 0h2.55v10h-2.55zM246.5 0h2.05v10h-2.05zM346.5 0h2.55v10h-2.55zM548 0h2.05v10h-2.05zM588.5 0h2.05v10h-2.05z"/><path fill="#e4642a" d="M215.5 0h1.05v10h-1.05zM216.5 0h2.05v10h-2.05zM303 0h1.05v10h-1.05zM304 0h1.05v10h-1.05zM542 0h2.55v10h-2.55zM551 0h2.05v10h-2.05zM553 0h1.55v10h-1.55zM610 0h2.05v10h-2.05zM664 0h1.55v10h-1.55z"/><path fill="#b4e0a0" d="M234.5 0h2.05v10h-2.05zM505.5 0h1.55v10h-1.55zM637.5 0h1.55v10h-1.55z"/><path fill="#86c6e6" d="M326.5 0h1.55v10h-1.55zM353.5 0h1.55v10h-1.55zM373.5 0h2.05v10h-2.05zM376.5 0h2.05v10h-2.05zM384.5 0h2.05v10h-2.05zM391 0h1.55v10h-1.55zM418 0h2.05v10h-2.05zM438 0h2.05v10h-2.05zM465 0h1.05v10h-1.05zM483.5 0h2.55v10h-2.55zM526.5 0h2.05v10h-2.05zM566.5 0h1.05v10h-1.05zM571.5 0h2.05v10h-2.05zM671.5 0h1.05v10h-1.05z"/><path fill="#8e3a22" d="M344.5 0h2.05v10h-2.05zM564.5 0h2.05v10h-2.05z"/></pattern><pattern id="p8" patternUnits="userSpaceOnUse" x="0" y="0" width="675" height="10"><path fill="#d23a24" d="M138 0h1.55v10h-1.55zM172.5 0h1.55v10h-1.55zM229 0h1.05v10h-1.05zM231 0h2.05v10h-2.05zM233 0h1.55v10h-1.55zM237.5 0h2.55v10h-2.55zM357.5 0h1.55v10h-1.55zM467.5 0h2.05v10h-2.05zM578 0h2.05v10h-2.05zM580 0h2.05v10h-2.05zM582 0h2.05v10h-2.05zM586.5 0h2.05v10h-2.05zM594.5 0h1.55v10h-1.55zM659.5 0h2.55v10h-2.55zM665.5 0h2.55v10h-2.55zM671.5 0h1.05v10h-1.05z"/><path fill="#e8a234" d="M139.5 0h1.55v10h-1.55zM146 0h1.55v10h-1.55zM152.5 0h2.05v10h-2.05zM157 0h1.05v10h-1.05zM167.5 0h2.05v10h-2.05zM174 0h2.05v10h-2.05zM209.5 0h1.55v10h-1.55zM221 0h1.55v10h-1.55zM225.5 0h2.55v10h-2.55zM254.5 0h1.05v10h-1.05zM255.5 0h2.55v10h-2.55zM261 0h1.55v10h-1.55zM265.5 0h2.05v10h-2.05zM267.5 0h2.55v10h-2.55zM274 0h2.05v10h-2.05zM276 0h2.05v10h-2.05zM280 0h2.05v10h-2.05zM297 0h2.55v10h-2.55zM300.5 0h2.55v10h-2.55zM308.5 0h1.05v10h-1.05zM312.5 0h1.55v10h-1.55zM328 0h1.55v10h-1.55zM332 0h1.55v10h-1.55zM333.5 0h2.55v10h-2.55zM336 0h1.05v10h-1.05zM340.5 0h1.55v10h-1.55zM342 0h2.55v10h-2.55zM349 0h2.55v10h-2.55zM421 0h2.05v10h-2.05zM425 0h2.55v10h-2.55zM431.5 0h1.55v10h-1.55zM441.5 0h1.55v10h-1.55zM446.5 0h1.55v10h-1.55zM448 0h2.55v10h-2.55zM454.5 0h1.55v10h-1.55zM460.5 0h1.05v10h-1.05zM466 0h1.55v10h-1.55zM492.5 0h1.05v10h-1.05zM507 0h1.55v10h-1.55zM512.5 0h2.05v10h-2.05zM514.5 0h1.05v10h-1.05zM525 0h1.55v10h-1.55zM540.5 0h1.55v10h-1.55zM544.5 0h1.55v10h-1.55zM557 0h2.55v10h-2.55zM561 0h1.55v10h-1.55zM584 0h2.55v10h-2.55zM603 0h2.05v10h-2.05zM628 0h1.05v10h-1.05zM633 0h2.55v10h-2.55zM635.5 0h2.05v10h-2.05zM651 0h1.05v10h-1.05zM655.5 0h2.05v10h-2.05z"/><path fill="#2f9a36" d="M141 0h2.55v10h-2.55zM165.5 0h2.05v10h-2.05zM176 0h1.55v10h-1.55zM178.5 0h1.55v10h-1.55zM185 0h1.55v10h-1.55zM192.5 0h2.05v10h-2.05zM230 0h1.05v10h-1.05zM241.5 0h2.55v10h-2.55zM245.5 0h1.05v10h-1.05zM248.5 0h2.55v10h-2.55zM251 0h2.55v10h-2.55zM253.5 0h1.05v10h-1.05zM286 0h2.05v10h-2.05zM290.5 0h2.55v10h-2.55zM294 0h2.05v10h-2.05zM296 0h1.05v10h-1.05zM305 0h1.55v10h-1.55zM320 0h2.05v10h-2.05zM329.5 0h2.55v10h-2.55zM339 0h1.55v10h-1.55zM362.5 0h1.55v10h-1.55zM382.5 0h2.05v10h-2.05zM392.5 0h1.05v10h-1.05zM404.5 0h1.05v10h-1.05zM413 0h1.55v10h-1.55zM423 0h2.05v10h-2.05zM438 0h2.05v10h-2.05zM445 0h1.55v10h-1.55zM458 0h2.55v10h-2.55zM474.5 0h1.55v10h-1.55zM494.5 0h1.55v10h-1.55zM497.5 0h1.05v10h-1.05zM501 0h2.55v10h-2.55zM546 0h2.05v10h-2.05zM554.5 0h1.55v10h-1.55zM556 0h1.05v10h-1.05zM599 0h2.55v10h-2.55zM605 0h1.55v10h-1.55zM612 0h1.55v10h-1.55zM626 0h2.05v10h-2.05zM631 0h2.05v10h-2.05zM641 0h1.55v10h-1.55zM652 0h2.05v10h-2.05zM657.5 0h2.05v10h-2.05z"/><path fill="#ffffff" d="M143.5 0h2.55v10h-2.55zM147.5 0h2.05v10h-2.05zM149.5 0h2.05v10h-2.05zM151.5 0h1.05v10h-1.05zM154.5 0h2.55v10h-2.55zM158 0h2.05v10h-2.05zM169.5 0h1.55v10h-1.55zM171 0h1.55v10h-1.55zM181.5 0h1.55v10h-1.55zM186.5 0h2.55v10h-2.55zM189 0h1.55v10h-1.55zM207 0h1.05v10h-1.05zM208 0h1.55v10h-1.55zM211 0h2.05v10h-2.05zM213 0h2.55v10h-2.55zM218.5 0h2.55v10h-2.55zM258 0h1.55v10h-1.55zM259.5 0h1.55v10h-1.55zM293 0h1.05v10h-1.05zM311 0h1.55v10h-1.55zM314 0h1.55v10h-1.55zM315.5 0h2.05v10h-2.05zM323 0h2.05v10h-2.05zM325 0h1.55v10h-1.55zM364 0h1.55v10h-1.55zM369.5 0h2.55v10h-2.55zM375.5 0h1.05v10h-1.05zM378.5 0h2.05v10h-2.05zM380.5 0h2.05v10h-2.05zM386.5 0h2.55v10h-2.55zM402 0h2.55v10h-2.55zM405.5 0h2.55v10h-2.55zM420 0h1.05v10h-1.05zM427.5 0h1.55v10h-1.55zM435 0h1.05v10h-1.05zM464 0h1.05v10h-1.05zM471 0h1.55v10h-1.55zM491 0h1.55v10h-1.55zM496 0h1.55v10h-1.55zM510.5 0h2.05v10h-2.05zM517 0h2.05v10h-2.05zM519 0h2.55v10h-2.55zM532.5 0h2.05v10h-2.05zM538 0h1.05v10h-1.05zM566.5 0h1.05v10h-1.05zM567.5 0h1.55v10h-1.55zM573.5 0h2.05v10h-2.05zM575.5 0h1.55v10h-1.55zM577 0h1.05v10h-1.05zM596 0h2.05v10h-2.05zM598 0h1.05v10h-1.05zM606.5 0h1.55v10h-1.55zM613.5 0h2.05v10h-2.05zM662 0h2.05v10h-2.05zM669 0h1.05v10h-1.05z"/><path fill="#3a6ec0" d="M160 0h2.05v10h-2.05zM244 0h1.55v10h-1.55zM360.5 0h2.05v10h-2.05zM562.5 0h2.05v10h-2.05zM569 0h2.55v10h-2.55zM621 0h1.05v10h-1.05z"/><path fill="#b4e0a0" d="M162 0h2.05v10h-2.05zM234.5 0h2.05v10h-2.05zM351.5 0h2.05v10h-2.05zM355 0h2.55v10h-2.55zM461.5 0h2.55v10h-2.55zM505.5 0h1.55v10h-1.55zM637.5 0h1.55v10h-1.55z"/><path fill="#d8bc3c" d="M164 0h1.55v10h-1.55zM205 0h2.05v10h-2.05zM215.5 0h1.05v10h-1.05zM222.5 0h2.05v10h-2.05zM236.5 0h1.05v10h-1.05zM282 0h2.05v10h-2.05zM372 0h1.55v10h-1.55zM373.5 0h2.05v10h-2.05zM389 0h2.05v10h-2.05zM393.5 0h2.05v10h-2.05zM400 0h2.05v10h-2.05zM409.5 0h1.55v10h-1.55zM429 0h2.55v10h-2.55zM443 0h2.05v10h-2.05zM452.5 0h2.05v10h-2.05zM456 0h2.05v10h-2.05zM478 0h1.55v10h-1.55zM479.5 0h1.55v10h-1.55zM481 0h2.55v10h-2.55zM486 0h2.05v10h-2.05zM488 0h2.05v10h-2.05zM490 0h1.05v10h-1.05zM503.5 0h2.05v10h-2.05zM515.5 0h1.55v10h-1.55zM521.5 0h1.55v10h-1.55zM528.5 0h1.55v10h-1.55zM534.5 0h2.05v10h-2.05zM622 0h2.55v10h-2.55zM629 0h1.05v10h-1.05zM630 0h1.05v10h-1.05zM639 0h2.05v10h-2.05zM644.5 0h1.55v10h-1.55zM670 0h1.55v10h-1.55z"/><path fill="#e494a4" d="M177.5 0h1.05v10h-1.05zM194.5 0h1.55v10h-1.55zM246.5 0h2.05v10h-2.05zM395.5 0h2.05v10h-2.05zM397.5 0h2.55v10h-2.55zM508.5 0h2.05v10h-2.05zM530 0h2.55v10h-2.55zM539 0h1.55v10h-1.55zM608 0h2.05v10h-2.05zM647.5 0h1.55v10h-1.55z"/><path fill="#a8a244" d="M180 0h1.55v10h-1.55zM346.5 0h2.55v10h-2.55zM548 0h2.05v10h-2.05zM588.5 0h2.05v10h-2.05zM601.5 0h1.55v10h-1.55zM664 0h1.55v10h-1.55z"/><path fill="#f6f0b4" d="M183 0h2.05v10h-2.05zM190.5 0h2.05v10h-2.05zM262.5 0h1.55v10h-1.55zM264 0h1.55v10h-1.55zM270 0h1.55v10h-1.55zM278 0h2.05v10h-2.05zM408 0h1.55v10h-1.55zM450.5 0h2.05v10h-2.05zM590.5 0h2.05v10h-2.05zM592.5 0h2.05v10h-2.05zM619 0h2.05v10h-2.05zM624.5 0h1.55v10h-1.55zM646 0h1.55v10h-1.55zM654 0h1.55v10h-1.55z"/><path fill="#24947e" d="M196 0h2.05v10h-2.05zM198 0h1.05v10h-1.05zM199 0h1.55v10h-1.55zM200.5 0h2.05v10h-2.05zM202.5 0h2.55v10h-2.55zM224.5 0h1.05v10h-1.05zM228 0h1.05v10h-1.05zM240 0h1.55v10h-1.55zM271.5 0h2.55v10h-2.55zM284 0h2.05v10h-2.05zM288 0h2.55v10h-2.55zM299.5 0h1.05v10h-1.05zM306.5 0h2.05v10h-2.05zM309.5 0h1.55v10h-1.55zM317.5 0h1.05v10h-1.05zM318.5 0h1.55v10h-1.55zM322 0h1.05v10h-1.05zM337 0h2.05v10h-2.05zM359 0h1.55v10h-1.55zM365.5 0h1.55v10h-1.55zM411 0h2.05v10h-2.05zM414.5 0h1.55v10h-1.55zM416 0h2.05v10h-2.05zM433 0h2.05v10h-2.05zM436 0h2.05v10h-2.05zM440 0h1.55v10h-1.55zM469.5 0h1.55v10h-1.55zM472.5 0h2.05v10h-2.05zM476 0h2.05v10h-2.05zM493.5 0h1.05v10h-1.05zM498.5 0h2.55v10h-2.55zM523 0h2.05v10h-2.05zM536.5 0h1.55v10h-1.55zM550 0h1.05v10h-1.05zM559.5 0h1.55v10h-1.55zM615.5 0h2.05v10h-2.05zM617.5 0h1.55v10h-1.55zM642.5 0h2.05v10h-2.05zM649 0h2.05v10h-2.05zM668 0h1.05v10h-1.05z"/><path fill="#e4642a" d="M216.5 0h2.05v10h-2.05zM303 0h1.05v10h-1.05zM304 0h1.05v10h-1.05zM542 0h2.55v10h-2.55zM551 0h2.05v10h-2.05zM553 0h1.55v10h-1.55zM610 0h2.05v10h-2.05z"/><path fill="#86c6e6" d="M326.5 0h1.55v10h-1.55zM353.5 0h1.55v10h-1.55zM376.5 0h2.05v10h-2.05zM384.5 0h2.05v10h-2.05zM391 0h1.55v10h-1.55zM418 0h2.05v10h-2.05zM465 0h1.05v10h-1.05zM483.5 0h2.55v10h-2.55zM526.5 0h2.05v10h-2.05zM571.5 0h2.05v10h-2.05z"/><path fill="#8e3a22" d="M344.5 0h2.05v10h-2.05zM367 0h2.55v10h-2.55zM564.5 0h2.05v10h-2.05z"/></pattern><pattern id="p9" patternUnits="userSpaceOnUse" x="0" y="0" width="675" height="10"><path fill="#e8a234" d="M138 0h1.55v10h-1.55zM146 0h2.55v10h-2.55zM148.5 0h1.05v10h-1.05zM157.5 0h1.55v10h-1.55zM172 0h1.55v10h-1.55zM211 0h1.55v10h-1.55zM267.5 0h1.05v10h-1.05zM336 0h1.05v10h-1.05zM355.5 0h2.05v10h-2.05zM367.5 0h1.55v10h-1.55zM378 0h1.05v10h-1.05zM379 0h1.55v10h-1.55zM380.5 0h1.55v10h-1.55zM385.5 0h2.05v10h-2.05zM390.5 0h1.05v10h-1.05zM405 0h1.55v10h-1.55zM413.5 0h2.55v10h-2.55zM421 0h2.05v10h-2.05zM423 0h1.55v10h-1.55zM436.5 0h2.05v10h-2.05zM505.5 0h1.55v10h-1.55zM513 0h2.05v10h-2.05zM515 0h2.05v10h-2.05zM518.5 0h1.55v10h-1.55zM525 0h1.55v10h-1.55zM529.5 0h1.55v10h-1.55zM539 0h1.55v10h-1.55zM553.5 0h2.55v10h-2.55zM572.5 0h2.05v10h-2.05zM574.5 0h1.55v10h-1.55zM576 0h2.05v10h-2.05zM607.5 0h1.05v10h-1.05zM622.5 0h2.05v10h-2.05zM640 0h1.05v10h-1.05zM660 0h2.05v10h-2.05zM666.5 0h2.05v10h-2.05zM668.5 0h2.55v10h-2.55z"/><path fill="#24947e" d="M139.5 0h2.05v10h-2.05zM187.5 0h1.55v10h-1.55zM217.5 0h1.05v10h-1.05zM220.5 0h1.55v10h-1.55zM229 0h1.55v10h-1.55zM232.5 0h1.05v10h-1.05zM282 0h1.55v10h-1.55zM297 0h1.55v10h-1.55zM310 0h1.05v10h-1.05zM313 0h1.05v10h-1.05zM320.5 0h2.05v10h-2.05zM339.5 0h1.55v10h-1.55zM345 0h2.05v10h-2.05zM357.5 0h2.05v10h-2.05zM372.5 0h2.05v10h-2.05zM375.5 0h2.55v10h-2.55zM382 0h1.55v10h-1.55zM383.5 0h2.05v10h-2.05zM389.5 0h1.05v10h-1.05zM411 0h2.55v10h-2.55zM427 0h1.05v10h-1.05zM428 0h2.05v10h-2.05zM434.5 0h2.05v10h-2.05zM439.5 0h1.55v10h-1.55zM475.5 0h1.05v10h-1.05zM476.5 0h2.05v10h-2.05zM499 0h2.55v10h-2.55zM537.5 0h1.55v10h-1.55zM563 0h2.05v10h-2.05zM567 0h1.05v10h-1.05zM582 0h1.05v10h-1.05zM593 0h2.05v10h-2.05zM610 0h1.05v10h-1.05zM611 0h2.05v10h-2.05zM613 0h2.05v10h-2.05zM631.5 0h1.55v10h-1.55zM633 0h2.55v10h-2.55zM658.5 0h1.55v10h-1.55z"/><path fill="#d8bc3c" d="M141.5 0h1.55v10h-1.55zM154 0h1.55v10h-1.55zM164 0h1.55v10h-1.55zM175 0h1.55v10h-1.55zM179 0h2.05v10h-2.05zM189 0h1.55v10h-1.55zM205 0h1.55v10h-1.55zM206.5 0h2.55v10h-2.55zM222 0h2.55v10h-2.55zM228 0h1.05v10h-1.05zM230.5 0h1.05v10h-1.05zM245 0h2.05v10h-2.05zM256.5 0h1.55v10h-1.55zM258 0h2.55v10h-2.55zM268.5 0h2.05v10h-2.05zM270.5 0h2.05v10h-2.05zM276.5 0h1.05v10h-1.05zM295 0h2.05v10h-2.05zM341 0h1.05v10h-1.05zM347 0h2.05v10h-2.05zM369 0h2.05v10h-2.05zM371 0h1.55v10h-1.55zM393.5 0h1.05v10h-1.05zM397 0h2.55v10h-2.55zM402.5 0h2.55v10h-2.55zM417.5 0h2.05v10h-2.05zM431 0h2.05v10h-2.05zM447 0h1.55v10h-1.55zM451 0h2.05v10h-2.05zM453 0h1.05v10h-1.05zM466 0h1.55v10h-1.55zM481 0h1.05v10h-1.05zM508.5 0h2.55v10h-2.55zM517 0h1.55v10h-1.55zM549.5 0h1.55v10h-1.55zM570.5 0h2.05v10h-2.05zM585.5 0h1.55v10h-1.55zM590.5 0h2.55v10h-2.55zM638.5 0h1.55v10h-1.55zM643 0h2.05v10h-2.05z"/><path fill="#ffffff" d="M143 0h2.05v10h-2.05zM155.5 0h2.05v10h-2.05zM169 0h1.05v10h-1.05zM182.5 0h1.55v10h-1.55zM192.5 0h2.05v10h-2.05zM196.5 0h1.05v10h-1.05zM199.5 0h2.05v10h-2.05zM218.5 0h2.05v10h-2.05zM231.5 0h1.05v10h-1.05zM240.5 0h1.05v10h-1.05zM243 0h2.05v10h-2.05zM255 0h1.55v10h-1.55zM260.5 0h1.55v10h-1.55zM264.5 0h1.55v10h-1.55zM272.5 0h1.55v10h-1.55zM277.5 0h2.05v10h-2.05zM285.5 0h1.55v10h-1.55zM289.5 0h2.05v10h-2.05zM291.5 0h2.55v10h-2.55zM294 0h1.05v10h-1.05zM298.5 0h1.55v10h-1.55zM304 0h2.05v10h-2.05zM316 0h1.55v10h-1.55zM317.5 0h1.05v10h-1.05zM322.5 0h2.05v10h-2.05zM333 0h1.55v10h-1.55zM342 0h1.05v10h-1.05zM343 0h1.05v10h-1.05zM354 0h1.55v10h-1.55zM363.5 0h1.05v10h-1.05zM392.5 0h1.05v10h-1.05zM430 0h1.05v10h-1.05zM448.5 0h2.55v10h-2.55zM458 0h2.05v10h-2.05zM522.5 0h2.55v10h-2.55zM540.5 0h2.55v10h-2.55zM543 0h1.55v10h-1.55zM559 0h1.55v10h-1.55zM560.5 0h2.55v10h-2.55zM565 0h2.05v10h-2.05zM578 0h1.55v10h-1.55zM597 0h1.55v10h-1.55zM598.5 0h1.55v10h-1.55zM626 0h1.55v10h-1.55zM654.5 0h2.55v10h-2.55zM657 0h1.55v10h-1.55z"/><path fill="#86c6e6" d="M145 0h1.05v10h-1.05zM151.5 0h1.05v10h-1.05zM194.5 0h2.05v10h-2.05zM212.5 0h2.55v10h-2.55zM226 0h2.05v10h-2.05zM362 0h1.55v10h-1.55zM364.5 0h1.55v10h-1.55zM419.5 0h1.55v10h-1.55zM615 0h2.05v10h-2.05z"/><path fill="#b4e0a0" d="M149.5 0h2.05v10h-2.05zM159 0h1.55v10h-1.55zM173.5 0h1.55v10h-1.55zM266 0h1.55v10h-1.55zM281 0h1.05v10h-1.05zM318.5 0h2.05v10h-2.05zM387.5 0h2.05v10h-2.05zM484.5 0h1.55v10h-1.55zM587 0h1.55v10h-1.55zM618 0h2.55v10h-2.55zM635.5 0h1.55v10h-1.55z"/><path fill="#2f9a36" d="M152.5 0h1.55v10h-1.55zM160.5 0h1.55v10h-1.55zM162 0h2.05v10h-2.05zM170 0h2.05v10h-2.05zM176.5 0h2.55v10h-2.55zM184 0h2.05v10h-2.05zM186 0h1.55v10h-1.55zM190.5 0h2.05v10h-2.05zM201.5 0h2.55v10h-2.55zM204 0h1.05v10h-1.05zM215 0h1.55v10h-1.55zM235 0h1.55v10h-1.55zM236.5 0h2.05v10h-2.05zM238.5 0h2.05v10h-2.05zM241.5 0h1.55v10h-1.55zM247 0h2.55v10h-2.55zM249.5 0h2.05v10h-2.05zM287 0h2.55v10h-2.55zM300 0h2.05v10h-2.05zM311 0h2.05v10h-2.05zM314 0h2.05v10h-2.05zM327 0h2.05v10h-2.05zM331 0h2.05v10h-2.05zM344 0h1.05v10h-1.05zM349 0h1.55v10h-1.55zM352.5 0h1.55v10h-1.55zM374.5 0h1.05v10h-1.05zM391.5 0h1.05v10h-1.05zM399.5 0h1.55v10h-1.55zM444 0h1.55v10h-1.55zM445.5 0h1.55v10h-1.55zM454 0h2.05v10h-2.05zM456 0h2.05v10h-2.05zM460 0h1.55v10h-1.55zM467.5 0h2.05v10h-2.05zM473.5 0h2.05v10h-2.05zM478.5 0h1.05v10h-1.05zM479.5 0h1.55v10h-1.55zM482 0h2.55v10h-2.55zM486 0h2.55v10h-2.55zM488.5 0h2.05v10h-2.05zM490.5 0h1.05v10h-1.05zM491.5 0h2.55v10h-2.55zM494 0h1.05v10h-1.05zM497 0h2.05v10h-2.05zM501.5 0h2.05v10h-2.05zM503.5 0h2.05v10h-2.05zM520 0h1.05v10h-1.05zM526.5 0h1.55v10h-1.55zM528 0h1.55v10h-1.55zM531 0h2.05v10h-2.05zM533 0h1.55v10h-1.55zM544.5 0h1.55v10h-1.55zM551 0h2.55v10h-2.55zM583 0h1.55v10h-1.55zM588.5 0h2.05v10h-2.05zM595 0h2.05v10h-2.05zM602.5 0h1.55v10h-1.55zM624.5 0h1.55v10h-1.55zM629.5 0h2.05v10h-2.05zM653 0h1.55v10h-1.55zM664 0h2.55v10h-2.55z"/><path fill="#a8a244" d="M165.5 0h2.55v10h-2.55zM181 0h1.55v10h-1.55zM209 0h2.05v10h-2.05zM325.5 0h1.55v10h-1.55zM350.5 0h1.05v10h-1.05zM401 0h1.55v10h-1.55zM416 0h1.55v10h-1.55zM507 0h1.55v10h-1.55zM556 0h1.05v10h-1.05zM557 0h2.05v10h-2.05zM608.5 0h1.55v10h-1.55z"/><path fill="#f6f0b4" d="M168 0h1.05v10h-1.05zM197.5 0h2.05v10h-2.05zM216.5 0h1.05v10h-1.05zM233.5 0h1.55v10h-1.55zM251.5 0h1.05v10h-1.05zM252.5 0h2.55v10h-2.55zM283.5 0h2.05v10h-2.05zM334.5 0h1.55v10h-1.55zM351.5 0h1.05v10h-1.05zM366 0h1.55v10h-1.55zM394.5 0h2.55v10h-2.55zM409 0h2.05v10h-2.05zM424.5 0h1.05v10h-1.05zM438.5 0h1.05v10h-1.05zM441 0h2.05v10h-2.05zM521 0h1.55v10h-1.55zM579.5 0h2.55v10h-2.55zM606 0h1.55v10h-1.55zM617 0h1.05v10h-1.05zM620.5 0h2.05v10h-2.05zM627.5 0h2.05v10h-2.05zM641 0h2.05v10h-2.05zM645 0h2.05v10h-2.05zM650.5 0h2.55v10h-2.55z"/><path fill="#3a6ec0" d="M224.5 0h1.55v10h-1.55zM279.5 0h1.55v10h-1.55zM443 0h1.05v10h-1.05z"/><path fill="#e4642a" d="M262 0h2.55v10h-2.55zM274 0h2.55v10h-2.55zM302 0h2.05v10h-2.05zM337 0h2.55v10h-2.55zM359.5 0h2.55v10h-2.55zM425.5 0h1.55v10h-1.55zM433 0h1.55v10h-1.55zM511 0h2.05v10h-2.05zM536 0h1.55v10h-1.55zM568 0h2.55v10h-2.55zM604 0h2.05v10h-2.05zM647 0h1.55v10h-1.55zM662 0h2.05v10h-2.05z"/><path fill="#d23a24" d="M306 0h2.05v10h-2.05zM308 0h2.05v10h-2.05zM324.5 0h1.05v10h-1.05zM329 0h2.05v10h-2.05zM406.5 0h2.55v10h-2.55zM472 0h1.55v10h-1.55zM546 0h1.55v10h-1.55zM547.5 0h2.05v10h-2.05zM648.5 0h2.05v10h-2.05zM671 0h2.55v10h-2.55z"/><path fill="#8e3a22" d="M461.5 0h2.55v10h-2.55zM464 0h2.05v10h-2.05zM469.5 0h2.55v10h-2.55zM600 0h2.55v10h-2.55zM637 0h1.55v10h-1.55z"/><path fill="#e494a4" d="M495 0h2.05v10h-2.05zM534.5 0h1.55v10h-1.55zM584.5 0h1.05v10h-1.05z"/></pattern><pattern id="p10" patternUnits="userSpaceOnUse" x="0" y="0" width="675" height="10"><path fill="#e8a234" d="M138 0h1.55v10h-1.55zM146 0h2.55v10h-2.55zM148.5 0h1.05v10h-1.05zM157.5 0h1.55v10h-1.55zM168 0h1.05v10h-1.05zM172 0h1.55v10h-1.55zM182.5 0h1.55v10h-1.55zM211 0h1.55v10h-1.55zM267.5 0h1.05v10h-1.05zM272.5 0h1.55v10h-1.55zM336 0h1.05v10h-1.05zM355.5 0h2.05v10h-2.05zM367.5 0h1.55v10h-1.55zM378 0h1.05v10h-1.05zM379 0h1.55v10h-1.55zM380.5 0h1.55v10h-1.55zM385.5 0h2.05v10h-2.05zM390.5 0h1.05v10h-1.05zM394.5 0h2.55v10h-2.55zM405 0h1.55v10h-1.55zM413.5 0h2.55v10h-2.55zM421 0h2.05v10h-2.05zM436.5 0h2.05v10h-2.05zM505.5 0h1.55v10h-1.55zM513 0h2.05v10h-2.05zM515 0h2.05v10h-2.05zM518.5 0h1.55v10h-1.55zM529.5 0h1.55v10h-1.55zM572.5 0h2.05v10h-2.05zM574.5 0h1.55v10h-1.55zM576 0h2.05v10h-2.05zM607.5 0h1.05v10h-1.05zM622.5 0h2.05v10h-2.05zM640 0h1.05v10h-1.05zM660 0h2.05v10h-2.05zM666.5 0h2.05v10h-2.05z"/><path fill="#2f9a36" d="M139.5 0h2.05v10h-2.05zM152.5 0h1.55v10h-1.55zM160.5 0h1.55v10h-1.55zM162 0h2.05v10h-2.05zM170 0h2.05v10h-2.05zM176.5 0h2.55v10h-2.55zM184 0h2.05v10h-2.05zM186 0h1.55v10h-1.55zM190.5 0h2.05v10h-2.05zM204 0h1.05v10h-1.05zM215 0h1.55v10h-1.55zM235 0h1.55v10h-1.55zM236.5 0h2.05v10h-2.05zM241.5 0h1.55v10h-1.55zM249.5 0h2.05v10h-2.05zM268.5 0h2.05v10h-2.05zM277.5 0h2.05v10h-2.05zM300 0h2.05v10h-2.05zM311 0h2.05v10h-2.05zM316 0h1.55v10h-1.55zM327 0h2.05v10h-2.05zM331 0h2.05v10h-2.05zM344 0h1.05v10h-1.05zM349 0h1.55v10h-1.55zM352.5 0h1.55v10h-1.55zM364.5 0h1.55v10h-1.55zM391.5 0h1.05v10h-1.05zM399.5 0h1.55v10h-1.55zM444 0h1.55v10h-1.55zM445.5 0h1.55v10h-1.55zM454 0h2.05v10h-2.05zM456 0h2.05v10h-2.05zM467.5 0h2.05v10h-2.05zM478.5 0h1.05v10h-1.05zM479.5 0h1.55v10h-1.55zM482 0h2.55v10h-2.55zM486 0h2.55v10h-2.55zM488.5 0h2.05v10h-2.05zM490.5 0h1.05v10h-1.05zM491.5 0h2.55v10h-2.55zM494 0h1.05v10h-1.05zM503.5 0h2.05v10h-2.05zM520 0h1.05v10h-1.05zM526.5 0h1.55v10h-1.55zM528 0h1.55v10h-1.55zM531 0h2.05v10h-2.05zM533 0h1.55v10h-1.55zM544.5 0h1.55v10h-1.55zM551 0h2.55v10h-2.55zM583 0h1.55v10h-1.55zM587 0h1.55v10h-1.55zM595 0h2.05v10h-2.05zM602.5 0h1.55v10h-1.55zM608.5 0h1.55v10h-1.55zM624.5 0h1.55v10h-1.55zM626 0h1.55v10h-1.55zM629.5 0h2.05v10h-2.05zM635.5 0h1.55v10h-1.55zM653 0h1.55v10h-1.55zM664 0h2.55v10h-2.55z"/><path fill="#d8bc3c" d="M141.5 0h1.55v10h-1.55zM154 0h1.55v10h-1.55zM164 0h1.55v10h-1.55zM175 0h1.55v10h-1.55zM179 0h2.05v10h-2.05zM189 0h1.55v10h-1.55zM206.5 0h2.55v10h-2.55zM222 0h2.55v10h-2.55zM228 0h1.05v10h-1.05zM230.5 0h1.05v10h-1.05zM245 0h2.05v10h-2.05zM258 0h2.55v10h-2.55zM266 0h1.55v10h-1.55zM276.5 0h1.05v10h-1.05zM295 0h2.05v10h-2.05zM341 0h1.05v10h-1.05zM347 0h2.05v10h-2.05zM369 0h2.05v10h-2.05zM371 0h1.55v10h-1.55zM393.5 0h1.05v10h-1.05zM397 0h2.55v10h-2.55zM402.5 0h2.55v10h-2.55zM417.5 0h2.05v10h-2.05zM431 0h2.05v10h-2.05zM447 0h1.55v10h-1.55zM451 0h2.05v10h-2.05zM453 0h1.05v10h-1.05zM476.5 0h2.05v10h-2.05zM481 0h1.05v10h-1.05zM501.5 0h2.05v10h-2.05zM508.5 0h2.55v10h-2.55zM517 0h1.55v10h-1.55zM537.5 0h1.55v10h-1.55zM539 0h1.55v10h-1.55zM553.5 0h2.55v10h-2.55zM570.5 0h2.05v10h-2.05zM584.5 0h1.05v10h-1.05zM585.5 0h1.55v10h-1.55zM588.5 0h2.05v10h-2.05zM590.5 0h2.55v10h-2.55zM638.5 0h1.55v10h-1.55zM643 0h2.05v10h-2.05z"/><path fill="#ffffff" d="M143 0h2.05v10h-2.05zM155.5 0h2.05v10h-2.05zM169 0h1.05v10h-1.05zM192.5 0h2.05v10h-2.05zM196.5 0h1.05v10h-1.05zM199.5 0h2.05v10h-2.05zM205 0h1.55v10h-1.55zM218.5 0h2.05v10h-2.05zM229 0h1.55v10h-1.55zM231.5 0h1.05v10h-1.05zM240.5 0h1.05v10h-1.05zM243 0h2.05v10h-2.05zM255 0h1.55v10h-1.55zM270.5 0h2.05v10h-2.05zM285.5 0h1.55v10h-1.55zM289.5 0h2.05v10h-2.05zM291.5 0h2.55v10h-2.55zM294 0h1.05v10h-1.05zM298.5 0h1.55v10h-1.55zM304 0h2.05v10h-2.05zM314 0h2.05v10h-2.05zM317.5 0h1.05v10h-1.05zM322.5 0h2.05v10h-2.05zM333 0h1.55v10h-1.55zM342 0h1.05v10h-1.05zM343 0h1.05v10h-1.05zM354 0h1.55v10h-1.55zM363.5 0h1.05v10h-1.05zM392.5 0h1.05v10h-1.05zM430 0h1.05v10h-1.05zM448.5 0h2.55v10h-2.55zM460 0h1.55v10h-1.55zM473.5 0h2.05v10h-2.05zM497 0h2.05v10h-2.05zM540.5 0h2.55v10h-2.55zM543 0h1.55v10h-1.55zM556 0h1.05v10h-1.05zM559 0h1.55v10h-1.55zM565 0h2.05v10h-2.05zM578 0h1.55v10h-1.55zM598.5 0h1.55v10h-1.55zM657 0h1.55v10h-1.55z"/><path fill="#86c6e6" d="M145 0h1.05v10h-1.05zM194.5 0h2.05v10h-2.05zM212.5 0h2.55v10h-2.55zM362 0h1.55v10h-1.55zM419.5 0h1.55v10h-1.55zM424.5 0h1.05v10h-1.05zM615 0h2.05v10h-2.05zM654.5 0h2.55v10h-2.55z"/><path fill="#b4e0a0" d="M149.5 0h2.05v10h-2.05zM159 0h1.55v10h-1.55zM281 0h1.05v10h-1.05zM318.5 0h2.05v10h-2.05zM387.5 0h2.05v10h-2.05zM427 0h1.05v10h-1.05zM469.5 0h2.55v10h-2.55zM484.5 0h1.55v10h-1.55zM618 0h2.55v10h-2.55z"/><path fill="#a8a244" d="M151.5 0h1.05v10h-1.05zM165.5 0h2.55v10h-2.55zM173.5 0h1.55v10h-1.55zM181 0h1.55v10h-1.55zM209 0h2.05v10h-2.05zM325.5 0h1.55v10h-1.55zM350.5 0h1.05v10h-1.05zM401 0h1.55v10h-1.55zM416 0h1.55v10h-1.55zM507 0h1.55v10h-1.55zM557 0h2.05v10h-2.05z"/><path fill="#24947e" d="M187.5 0h1.55v10h-1.55zM217.5 0h1.05v10h-1.05zM220.5 0h1.55v10h-1.55zM260.5 0h1.55v10h-1.55zM282 0h1.55v10h-1.55zM297 0h1.55v10h-1.55zM310 0h1.05v10h-1.05zM313 0h1.05v10h-1.05zM320.5 0h2.05v10h-2.05zM339.5 0h1.55v10h-1.55zM345 0h2.05v10h-2.05zM357.5 0h2.05v10h-2.05zM372.5 0h2.05v10h-2.05zM375.5 0h2.55v10h-2.55zM382 0h1.55v10h-1.55zM383.5 0h2.05v10h-2.05zM389.5 0h1.05v10h-1.05zM411 0h2.55v10h-2.55zM428 0h2.05v10h-2.05zM434.5 0h2.05v10h-2.05zM439.5 0h1.55v10h-1.55zM458 0h2.05v10h-2.05zM475.5 0h1.05v10h-1.05zM499 0h2.55v10h-2.55zM549.5 0h1.55v10h-1.55zM560.5 0h2.55v10h-2.55zM563 0h2.05v10h-2.05zM567 0h1.05v10h-1.05zM582 0h1.05v10h-1.05zM593 0h2.05v10h-2.05zM610 0h1.05v10h-1.05zM611 0h2.05v10h-2.05zM613 0h2.05v10h-2.05zM631.5 0h1.55v10h-1.55zM633 0h2.55v10h-2.55zM658.5 0h1.55v10h-1.55zM668.5 0h2.55v10h-2.55z"/><path fill="#f6f0b4" d="M197.5 0h2.05v10h-2.05zM216.5 0h1.05v10h-1.05zM226 0h2.05v10h-2.05zM232.5 0h1.05v10h-1.05zM233.5 0h1.55v10h-1.55zM238.5 0h2.05v10h-2.05zM251.5 0h1.05v10h-1.05zM252.5 0h2.55v10h-2.55zM256.5 0h1.55v10h-1.55zM264.5 0h1.55v10h-1.55zM283.5 0h2.05v10h-2.05zM334.5 0h1.55v10h-1.55zM351.5 0h1.05v10h-1.05zM374.5 0h1.05v10h-1.05zM409 0h2.05v10h-2.05zM423 0h1.55v10h-1.55zM438.5 0h1.05v10h-1.05zM441 0h2.05v10h-2.05zM466 0h1.55v10h-1.55zM521 0h1.55v10h-1.55zM522.5 0h2.55v10h-2.55zM579.5 0h2.55v10h-2.55zM606 0h1.55v10h-1.55zM617 0h1.05v10h-1.05zM620.5 0h2.05v10h-2.05zM627.5 0h2.05v10h-2.05zM645 0h2.05v10h-2.05z"/><path fill="#e494a4" d="M201.5 0h2.55v10h-2.55zM495 0h2.05v10h-2.05zM534.5 0h1.55v10h-1.55z"/><path fill="#3a6ec0" d="M224.5 0h1.55v10h-1.55zM247 0h2.55v10h-2.55zM279.5 0h1.55v10h-1.55zM443 0h1.05v10h-1.05zM525 0h1.55v10h-1.55z"/><path fill="#e4642a" d="M262 0h2.55v10h-2.55zM274 0h2.55v10h-2.55zM287 0h2.55v10h-2.55zM302 0h2.05v10h-2.05zM337 0h2.55v10h-2.55zM359.5 0h2.55v10h-2.55zM425.5 0h1.55v10h-1.55zM433 0h1.55v10h-1.55zM511 0h2.05v10h-2.05zM536 0h1.55v10h-1.55zM568 0h2.55v10h-2.55zM604 0h2.05v10h-2.05zM647 0h1.55v10h-1.55zM662 0h2.05v10h-2.05z"/><path fill="#d23a24" d="M306 0h2.05v10h-2.05zM308 0h2.05v10h-2.05zM324.5 0h1.05v10h-1.05zM329 0h2.05v10h-2.05zM366 0h1.55v10h-1.55zM406.5 0h2.55v10h-2.55zM472 0h1.55v10h-1.55zM546 0h1.55v10h-1.55zM547.5 0h2.05v10h-2.05zM597 0h1.55v10h-1.55zM641 0h2.05v10h-2.05zM648.5 0h2.05v10h-2.05zM671 0h2.55v10h-2.55z"/><path fill="#8e3a22" d="M461.5 0h2.55v10h-2.55zM464 0h2.05v10h-2.05zM600 0h2.55v10h-2.55zM637 0h1.55v10h-1.55zM650.5 0h2.55v10h-2.55z"/></pattern><pattern id="p11" patternUnits="userSpaceOnUse" x="0" y="0" width="675" height="10"><path fill="#e8a234" d="M138 0h1.55v10h-1.55zM146 0h2.55v10h-2.55zM148.5 0h1.05v10h-1.05zM157.5 0h1.55v10h-1.55zM168 0h1.05v10h-1.05zM182.5 0h1.55v10h-1.55zM211 0h1.55v10h-1.55zM258 0h2.55v10h-2.55zM272.5 0h1.55v10h-1.55zM274 0h2.55v10h-2.55zM289.5 0h2.05v10h-2.05zM294 0h1.05v10h-1.05zM336 0h1.05v10h-1.05zM341 0h1.05v10h-1.05zM355.5 0h2.05v10h-2.05zM367.5 0h1.55v10h-1.55zM378 0h1.05v10h-1.05zM379 0h1.55v10h-1.55zM383.5 0h2.05v10h-2.05zM385.5 0h2.05v10h-2.05zM394.5 0h2.55v10h-2.55zM405 0h1.55v10h-1.55zM421 0h2.05v10h-2.05zM424.5 0h1.05v10h-1.05zM436.5 0h2.05v10h-2.05zM505.5 0h1.55v10h-1.55zM513 0h2.05v10h-2.05zM515 0h2.05v10h-2.05zM518.5 0h1.55v10h-1.55zM526.5 0h1.55v10h-1.55zM529.5 0h1.55v10h-1.55zM568 0h2.55v10h-2.55zM572.5 0h2.05v10h-2.05zM574.5 0h1.55v10h-1.55zM576 0h2.05v10h-2.05zM607.5 0h1.05v10h-1.05zM608.5 0h1.55v10h-1.55zM622.5 0h2.05v10h-2.05zM640 0h1.05v10h-1.05zM654.5 0h2.55v10h-2.55zM657 0h1.55v10h-1.55zM660 0h2.05v10h-2.05zM666.5 0h2.05v10h-2.05z"/><path fill="#2f9a36" d="M139.5 0h2.05v10h-2.05zM162 0h2.05v10h-2.05zM169 0h1.05v10h-1.05zM170 0h2.05v10h-2.05zM172 0h1.55v10h-1.55zM176.5 0h2.55v10h-2.55zM184 0h2.05v10h-2.05zM186 0h1.55v10h-1.55zM190.5 0h2.05v10h-2.05zM204 0h1.05v10h-1.05zM215 0h1.55v10h-1.55zM220.5 0h1.55v10h-1.55zM235 0h1.55v10h-1.55zM236.5 0h2.05v10h-2.05zM240.5 0h1.05v10h-1.05zM241.5 0h1.55v10h-1.55zM249.5 0h2.05v10h-2.05zM277.5 0h2.05v10h-2.05zM300 0h2.05v10h-2.05zM311 0h2.05v10h-2.05zM316 0h1.55v10h-1.55zM320.5 0h2.05v10h-2.05zM331 0h2.05v10h-2.05zM344 0h1.05v10h-1.05zM349 0h1.55v10h-1.55zM364.5 0h1.55v10h-1.55zM375.5 0h2.55v10h-2.55zM382 0h1.55v10h-1.55zM393.5 0h1.05v10h-1.05zM399.5 0h1.55v10h-1.55zM406.5 0h2.55v10h-2.55zM413.5 0h2.55v10h-2.55zM433 0h1.55v10h-1.55zM438.5 0h1.05v10h-1.05zM443 0h1.05v10h-1.05zM444 0h1.55v10h-1.55zM445.5 0h1.55v10h-1.55zM447 0h1.55v10h-1.55zM451 0h2.05v10h-2.05zM454 0h2.05v10h-2.05zM456 0h2.05v10h-2.05zM467.5 0h2.05v10h-2.05zM472 0h1.55v10h-1.55zM478.5 0h1.05v10h-1.05zM482 0h2.55v10h-2.55zM486 0h2.55v10h-2.55zM488.5 0h2.05v10h-2.05zM490.5 0h1.05v10h-1.05zM491.5 0h2.55v10h-2.55zM494 0h1.05v10h-1.05zM501.5 0h2.05v10h-2.05zM503.5 0h2.05v10h-2.05zM520 0h1.05v10h-1.05zM528 0h1.55v10h-1.55zM533 0h1.55v10h-1.55zM544.5 0h1.55v10h-1.55zM551 0h2.55v10h-2.55zM578 0h1.55v10h-1.55zM583 0h1.55v10h-1.55zM587 0h1.55v10h-1.55zM595 0h2.05v10h-2.05zM602.5 0h1.55v10h-1.55zM624.5 0h1.55v10h-1.55zM626 0h1.55v10h-1.55zM635.5 0h1.55v10h-1.55zM645 0h2.05v10h-2.05zM653 0h1.55v10h-1.55zM664 0h2.55v10h-2.55z"/><path fill="#d8bc3c" d="M141.5 0h1.55v10h-1.55zM154 0h1.55v10h-1.55zM164 0h1.55v10h-1.55zM175 0h1.55v10h-1.55zM179 0h2.05v10h-2.05zM187.5 0h1.55v10h-1.55zM189 0h1.55v10h-1.55zM222 0h2.55v10h-2.55zM230.5 0h1.05v10h-1.05zM245 0h2.05v10h-2.05zM264.5 0h1.55v10h-1.55zM276.5 0h1.05v10h-1.05zM281 0h1.05v10h-1.05zM287 0h2.55v10h-2.55zM347 0h2.05v10h-2.05zM354 0h1.55v10h-1.55zM369 0h2.05v10h-2.05zM371 0h1.55v10h-1.55zM380.5 0h1.55v10h-1.55zM387.5 0h2.05v10h-2.05zM389.5 0h1.05v10h-1.05zM397 0h2.55v10h-2.55zM402.5 0h2.55v10h-2.55zM417.5 0h2.05v10h-2.05zM431 0h2.05v10h-2.05zM453 0h1.05v10h-1.05zM476.5 0h2.05v10h-2.05zM479.5 0h1.55v10h-1.55zM481 0h1.05v10h-1.05zM508.5 0h2.55v10h-2.55zM517 0h1.55v10h-1.55zM537.5 0h1.55v10h-1.55zM539 0h1.55v10h-1.55zM553.5 0h2.55v10h-2.55zM570.5 0h2.05v10h-2.05zM584.5 0h1.05v10h-1.05zM585.5 0h1.55v10h-1.55zM588.5 0h2.05v10h-2.05zM638.5 0h1.55v10h-1.55zM643 0h2.05v10h-2.05z"/><path fill="#ffffff" d="M143 0h2.05v10h-2.05zM192.5 0h2.05v10h-2.05zM196.5 0h1.05v10h-1.05zM199.5 0h2.05v10h-2.05zM205 0h1.55v10h-1.55zM218.5 0h2.05v10h-2.05zM229 0h1.55v10h-1.55zM231.5 0h1.05v10h-1.05zM243 0h2.05v10h-2.05zM255 0h1.55v10h-1.55zM267.5 0h1.05v10h-1.05zM268.5 0h2.05v10h-2.05zM270.5 0h2.05v10h-2.05zM291.5 0h2.55v10h-2.55zM298.5 0h1.55v10h-1.55zM314 0h2.05v10h-2.05zM317.5 0h1.05v10h-1.05zM322.5 0h2.05v10h-2.05zM333 0h1.55v10h-1.55zM342 0h1.05v10h-1.05zM343 0h1.05v10h-1.05zM352.5 0h1.55v10h-1.55zM363.5 0h1.05v10h-1.05zM392.5 0h1.05v10h-1.05zM430 0h1.05v10h-1.05zM448.5 0h2.55v10h-2.55zM460 0h1.55v10h-1.55zM473.5 0h2.05v10h-2.05zM497 0h2.05v10h-2.05zM507 0h1.55v10h-1.55zM540.5 0h2.55v10h-2.55zM543 0h1.55v10h-1.55zM556 0h1.05v10h-1.05zM559 0h1.55v10h-1.55zM565 0h2.05v10h-2.05zM582 0h1.05v10h-1.05zM590.5 0h2.55v10h-2.55zM598.5 0h1.55v10h-1.55zM629.5 0h2.05v10h-2.05z"/><path fill="#86c6e6" d="M145 0h1.05v10h-1.05zM149.5 0h2.05v10h-2.05zM194.5 0h2.05v10h-2.05zM212.5 0h2.55v10h-2.55zM362 0h1.55v10h-1.55zM409 0h2.05v10h-2.05zM419.5 0h1.55v10h-1.55zM425.5 0h1.55v10h-1.55zM615 0h2.05v10h-2.05z"/><path fill="#a8a244" d="M151.5 0h1.05v10h-1.05zM165.5 0h2.55v10h-2.55zM173.5 0h1.55v10h-1.55zM181 0h1.55v10h-1.55zM209 0h2.05v10h-2.05zM325.5 0h1.55v10h-1.55zM401 0h1.55v10h-1.55zM416 0h1.55v10h-1.55zM557 0h2.05v10h-2.05zM662 0h2.05v10h-2.05z"/><path fill="#e494a4" d="M152.5 0h1.55v10h-1.55zM201.5 0h2.55v10h-2.55zM495 0h2.05v10h-2.05zM534.5 0h1.55v10h-1.55z"/><path fill="#b4e0a0" d="M155.5 0h2.05v10h-2.05zM159 0h1.55v10h-1.55zM318.5 0h2.05v10h-2.05zM427 0h1.05v10h-1.05zM469.5 0h2.55v10h-2.55zM484.5 0h1.55v10h-1.55zM618 0h2.55v10h-2.55z"/><path fill="#24947e" d="M160.5 0h1.55v10h-1.55zM206.5 0h2.55v10h-2.55zM217.5 0h1.05v10h-1.05zM260.5 0h1.55v10h-1.55zM282 0h1.55v10h-1.55zM285.5 0h1.55v10h-1.55zM295 0h2.05v10h-2.05zM297 0h1.55v10h-1.55zM310 0h1.05v10h-1.05zM313 0h1.05v10h-1.05zM339.5 0h1.55v10h-1.55zM345 0h2.05v10h-2.05zM357.5 0h2.05v10h-2.05zM372.5 0h2.05v10h-2.05zM390.5 0h1.05v10h-1.05zM391.5 0h1.05v10h-1.05zM411 0h2.55v10h-2.55zM428 0h2.05v10h-2.05zM434.5 0h2.05v10h-2.05zM439.5 0h1.55v10h-1.55zM458 0h2.05v10h-2.05zM475.5 0h1.05v10h-1.05zM499 0h2.55v10h-2.55zM531 0h2.05v10h-2.05zM549.5 0h1.55v10h-1.55zM560.5 0h2.55v10h-2.55zM563 0h2.05v10h-2.05zM567 0h1.05v10h-1.05zM593 0h2.05v10h-2.05zM606 0h1.55v10h-1.55zM610 0h1.05v10h-1.05zM611 0h2.05v10h-2.05zM613 0h2.05v10h-2.05zM631.5 0h1.55v10h-1.55zM633 0h2.55v10h-2.55zM658.5 0h1.55v10h-1.55zM668.5 0h2.55v10h-2.55z"/><path fill="#f6f0b4" d="M197.5 0h2.05v10h-2.05zM216.5 0h1.05v10h-1.05zM226 0h2.05v10h-2.05zM228 0h1.05v10h-1.05zM232.5 0h1.05v10h-1.05zM233.5 0h1.55v10h-1.55zM238.5 0h2.05v10h-2.05zM251.5 0h1.05v10h-1.05zM252.5 0h2.55v10h-2.55zM256.5 0h1.55v10h-1.55zM266 0h1.55v10h-1.55zM283.5 0h2.05v10h-2.05zM334.5 0h1.55v10h-1.55zM351.5 0h1.05v10h-1.05zM374.5 0h1.05v10h-1.05zM423 0h1.55v10h-1.55zM441 0h2.05v10h-2.05zM466 0h1.55v10h-1.55zM521 0h1.55v10h-1.55zM522.5 0h2.55v10h-2.55zM579.5 0h2.55v10h-2.55zM617 0h1.05v10h-1.05zM620.5 0h2.05v10h-2.05zM627.5 0h2.05v10h-2.05z"/><path fill="#3a6ec0" d="M224.5 0h1.55v10h-1.55zM247 0h2.55v10h-2.55zM279.5 0h1.55v10h-1.55zM525 0h1.55v10h-1.55z"/><path fill="#e4642a" d="M262 0h2.55v10h-2.55zM302 0h2.05v10h-2.05zM304 0h2.05v10h-2.05zM337 0h2.55v10h-2.55zM359.5 0h2.55v10h-2.55zM511 0h2.05v10h-2.05zM536 0h1.55v10h-1.55zM604 0h2.05v10h-2.05zM647 0h1.55v10h-1.55z"/><path fill="#d23a24" d="M306 0h2.05v10h-2.05zM308 0h2.05v10h-2.05zM324.5 0h1.05v10h-1.05zM327 0h2.05v10h-2.05zM329 0h2.05v10h-2.05zM366 0h1.55v10h-1.55zM546 0h1.55v10h-1.55zM547.5 0h2.05v10h-2.05zM597 0h1.55v10h-1.55zM641 0h2.05v10h-2.05zM648.5 0h2.05v10h-2.05zM671 0h2.55v10h-2.55z"/><path fill="#8e3a22" d="M350.5 0h1.05v10h-1.05zM461.5 0h2.55v10h-2.55zM464 0h2.05v10h-2.05zM600 0h2.55v10h-2.55zM637 0h1.55v10h-1.55zM650.5 0h2.55v10h-2.55z"/></pattern><pattern id="p12" patternUnits="userSpaceOnUse" x="0" y="0" width="675" height="10"><path fill="#d8bc3c" d="M138 0h2.05v10h-2.05zM190 0h1.05v10h-1.05zM216 0h2.55v10h-2.55zM229.5 0h2.05v10h-2.05zM233.5 0h2.05v10h-2.05zM243.5 0h1.05v10h-1.05zM247.5 0h2.05v10h-2.05zM269 0h1.55v10h-1.55zM277 0h1.55v10h-1.55zM292 0h1.55v10h-1.55zM301 0h1.05v10h-1.05zM308 0h2.05v10h-2.05zM312.5 0h2.05v10h-2.05zM314.5 0h1.55v10h-1.55zM318.5 0h2.05v10h-2.05zM320.5 0h1.55v10h-1.55zM334.5 0h2.55v10h-2.55zM377.5 0h1.55v10h-1.55zM405 0h2.55v10h-2.55zM418.5 0h2.55v10h-2.55zM422.5 0h1.55v10h-1.55zM426 0h1.55v10h-1.55zM429.5 0h2.55v10h-2.55zM435.5 0h2.55v10h-2.55zM441 0h1.05v10h-1.05zM472.5 0h2.05v10h-2.05zM502.5 0h1.55v10h-1.55zM550 0h1.55v10h-1.55zM553.5 0h1.05v10h-1.05zM556.5 0h2.05v10h-2.05zM584.5 0h2.05v10h-2.05zM631 0h1.55v10h-1.55zM669.5 0h2.05v10h-2.05z"/><path fill="#ffffff" d="M140 0h2.55v10h-2.55zM144 0h2.05v10h-2.05zM210.5 0h1.55v10h-1.55zM221.5 0h1.05v10h-1.05zM222.5 0h1.55v10h-1.55zM226 0h1.05v10h-1.05zM235.5 0h1.55v10h-1.55zM244.5 0h2.05v10h-2.05zM273.5 0h2.05v10h-2.05zM304.5 0h2.05v10h-2.05zM316 0h2.55v10h-2.55zM339 0h1.05v10h-1.05zM340 0h1.55v10h-1.55zM345 0h2.05v10h-2.05zM347 0h1.55v10h-1.55zM361.5 0h1.05v10h-1.05zM385.5 0h1.05v10h-1.05zM390 0h2.05v10h-2.05zM396 0h2.05v10h-2.05zM433.5 0h2.05v10h-2.05zM438 0h2.05v10h-2.05zM442 0h1.55v10h-1.55zM446.5 0h2.55v10h-2.55zM449 0h1.55v10h-1.55zM452.5 0h2.05v10h-2.05zM454.5 0h1.55v10h-1.55zM456 0h1.55v10h-1.55zM457.5 0h1.55v10h-1.55zM470 0h1.55v10h-1.55zM471.5 0h1.05v10h-1.05zM475.5 0h2.05v10h-2.05zM486.5 0h1.55v10h-1.55zM536 0h2.55v10h-2.55zM538.5 0h2.05v10h-2.05zM551.5 0h2.05v10h-2.05zM562.5 0h1.55v10h-1.55zM569.5 0h1.05v10h-1.05zM572.5 0h2.05v10h-2.05zM577.5 0h1.05v10h-1.05zM590.5 0h1.05v10h-1.05zM591.5 0h2.55v10h-2.55zM614 0h1.55v10h-1.55zM617.5 0h2.05v10h-2.05zM632.5 0h1.55v10h-1.55zM643.5 0h1.05v10h-1.05z"/><path fill="#e8a234" d="M142.5 0h1.55v10h-1.55zM151 0h2.05v10h-2.05zM158.5 0h1.55v10h-1.55zM162.5 0h1.55v10h-1.55zM165.5 0h2.05v10h-2.05zM170 0h2.05v10h-2.05zM173.5 0h1.55v10h-1.55zM175 0h1.55v10h-1.55zM180 0h2.05v10h-2.05zM198 0h2.55v10h-2.55zM213 0h1.55v10h-1.55zM214.5 0h1.55v10h-1.55zM220 0h1.55v10h-1.55zM251 0h1.05v10h-1.05zM278.5 0h2.55v10h-2.55zM283.5 0h1.55v10h-1.55zM288 0h2.55v10h-2.55zM290.5 0h1.55v10h-1.55zM303 0h1.55v10h-1.55zM327.5 0h1.55v10h-1.55zM348.5 0h2.05v10h-2.05zM360 0h1.55v10h-1.55zM372.5 0h2.05v10h-2.05zM394 0h2.05v10h-2.05zM410.5 0h1.55v10h-1.55zM412 0h2.05v10h-2.05zM414 0h2.05v10h-2.05zM440 0h1.05v10h-1.05zM474.5 0h1.05v10h-1.05zM479 0h2.05v10h-2.05zM518.5 0h2.05v10h-2.05zM523 0h2.05v10h-2.05zM558.5 0h1.55v10h-1.55zM560 0h2.55v10h-2.55zM574.5 0h1.05v10h-1.05zM575.5 0h2.05v10h-2.05zM582.5 0h2.05v10h-2.05zM596.5 0h2.05v10h-2.05zM619.5 0h1.05v10h-1.05zM647 0h2.05v10h-2.05zM652 0h2.05v10h-2.05zM664 0h1.55v10h-1.55z"/><path fill="#8e3a22" d="M146 0h1.55v10h-1.55zM160 0h2.55v10h-2.55zM218.5 0h1.55v10h-1.55zM310 0h1.05v10h-1.05zM311 0h1.55v10h-1.55zM341.5 0h1.55v10h-1.55zM369 0h2.05v10h-2.05z"/><path fill="#e4642a" d="M147.5 0h1.55v10h-1.55zM208 0h2.55v10h-2.55zM297.5 0h2.05v10h-2.05zM326 0h1.55v10h-1.55zM403 0h2.05v10h-2.05zM407.5 0h2.05v10h-2.05zM427.5 0h2.05v10h-2.05zM492 0h2.55v10h-2.55zM620.5 0h2.05v10h-2.05zM629 0h2.05v10h-2.05zM642 0h1.55v10h-1.55z"/><path fill="#24947e" d="M149 0h2.05v10h-2.05zM186.5 0h1.55v10h-1.55zM188 0h2.05v10h-2.05zM206.5 0h1.55v10h-1.55zM241.5 0h2.05v10h-2.05zM252 0h2.05v10h-2.05zM258 0h1.05v10h-1.05zM281 0h2.55v10h-2.55zM343 0h2.05v10h-2.05zM352.5 0h2.55v10h-2.55zM355 0h2.55v10h-2.55zM362.5 0h2.55v10h-2.55zM367 0h2.05v10h-2.05zM374.5 0h1.55v10h-1.55zM477.5 0h1.55v10h-1.55zM506.5 0h2.55v10h-2.55zM511.5 0h2.05v10h-2.05zM516 0h2.55v10h-2.55zM527 0h1.55v10h-1.55zM528.5 0h1.05v10h-1.05zM529.5 0h1.55v10h-1.55zM566.5 0h1.05v10h-1.05zM567.5 0h2.05v10h-2.05zM570.5 0h2.05v10h-2.05zM603 0h2.05v10h-2.05zM605 0h1.05v10h-1.05zM610 0h2.05v10h-2.05zM627.5 0h1.55v10h-1.55z"/><path fill="#f6f0b4" d="M153 0h2.05v10h-2.05zM156 0h2.55v10h-2.55zM164 0h1.55v10h-1.55zM183.5 0h1.55v10h-1.55zM192 0h1.55v10h-1.55zM212 0h1.05v10h-1.05zM275.5 0h1.55v10h-1.55zM285 0h2.05v10h-2.05zM324 0h2.05v10h-2.05zM371 0h1.55v10h-1.55zM376 0h1.55v10h-1.55zM380.5 0h1.55v10h-1.55zM382 0h1.05v10h-1.05zM444.5 0h2.05v10h-2.05zM500 0h2.55v10h-2.55zM504 0h2.55v10h-2.55zM509 0h2.55v10h-2.55zM520.5 0h2.55v10h-2.55zM533.5 0h2.55v10h-2.55zM542 0h2.05v10h-2.05zM564 0h2.55v10h-2.55zM640 0h2.05v10h-2.05zM655.5 0h2.05v10h-2.05z"/><path fill="#2f9a36" d="M155 0h1.05v10h-1.05zM169 0h1.05v10h-1.05zM177.5 0h2.55v10h-2.55zM182 0h1.55v10h-1.55zM185 0h1.55v10h-1.55zM191 0h1.05v10h-1.05zM193.5 0h2.05v10h-2.05zM195.5 0h2.55v10h-2.55zM203.5 0h1.05v10h-1.05zM227 0h2.55v10h-2.55zM237 0h1.05v10h-1.05zM238 0h1.05v10h-1.05zM246.5 0h1.05v10h-1.05zM259 0h2.55v10h-2.55zM261.5 0h1.55v10h-1.55zM265.5 0h1.55v10h-1.55zM267 0h2.05v10h-2.05zM271.5 0h2.05v10h-2.05zM299.5 0h1.55v10h-1.55zM302 0h1.05v10h-1.05zM322 0h2.05v10h-2.05zM329 0h1.05v10h-1.05zM337 0h2.05v10h-2.05zM357.5 0h2.55v10h-2.55zM383 0h2.55v10h-2.55zM386.5 0h1.55v10h-1.55zM388 0h2.05v10h-2.05zM392 0h2.05v10h-2.05zM443.5 0h1.05v10h-1.05zM450.5 0h2.05v10h-2.05zM459 0h1.05v10h-1.05zM461 0h1.05v10h-1.05zM462 0h2.55v10h-2.55zM464.5 0h1.05v10h-1.05zM467.5 0h2.55v10h-2.55zM481 0h2.05v10h-2.05zM483 0h1.55v10h-1.55zM484.5 0h2.05v10h-2.05zM488 0h2.55v10h-2.55zM490.5 0h1.55v10h-1.55zM494.5 0h2.05v10h-2.05zM496.5 0h1.55v10h-1.55zM498 0h2.05v10h-2.05zM547.5 0h2.55v10h-2.55zM600.5 0h2.55v10h-2.55zM606 0h2.55v10h-2.55zM612 0h2.05v10h-2.05zM615.5 0h2.05v10h-2.05zM636 0h1.55v10h-1.55zM639 0h1.05v10h-1.05zM644.5 0h1.05v10h-1.05zM645.5 0h1.55v10h-1.55zM650.5 0h1.55v10h-1.55zM660.5 0h2.05v10h-2.05z"/><path fill="#86c6e6" d="M167.5 0h1.55v10h-1.55zM240.5 0h1.05v10h-1.05zM330 0h2.55v10h-2.55zM409.5 0h1.05v10h-1.05zM525 0h2.05v10h-2.05zM531 0h2.55v10h-2.55zM554.5 0h2.05v10h-2.05zM624.5 0h1.05v10h-1.05zM657.5 0h1.55v10h-1.55z"/><path fill="#b4e0a0" d="M172 0h1.55v10h-1.55zM254 0h2.55v10h-2.55zM293.5 0h2.05v10h-2.05zM306.5 0h1.55v10h-1.55zM350.5 0h1.05v10h-1.05zM398 0h2.05v10h-2.05zM400 0h1.55v10h-1.55zM401.5 0h1.55v10h-1.55zM416 0h2.55v10h-2.55zM540.5 0h1.55v10h-1.55zM634 0h2.05v10h-2.05zM654 0h1.55v10h-1.55zM659 0h1.55v10h-1.55zM665.5 0h2.05v10h-2.05z"/><path fill="#e494a4" d="M176.5 0h1.05v10h-1.05zM204.5 0h2.05v10h-2.05zM351.5 0h1.05v10h-1.05zM513.5 0h2.55v10h-2.55zM625.5 0h2.05v10h-2.05zM637.5 0h1.55v10h-1.55z"/><path fill="#a8a244" d="M200.5 0h2.05v10h-2.05zM202.5 0h1.05v10h-1.05zM224 0h2.05v10h-2.05zM239 0h1.55v10h-1.55zM249.5 0h1.55v10h-1.55zM256.5 0h1.55v10h-1.55zM295.5 0h2.05v10h-2.05zM424 0h2.05v10h-2.05zM460 0h1.05v10h-1.05zM465.5 0h2.05v10h-2.05zM578.5 0h2.05v10h-2.05zM594 0h2.55v10h-2.55zM608.5 0h1.55v10h-1.55zM667.5 0h2.05v10h-2.05z"/><path fill="#3a6ec0" d="M231.5 0h2.05v10h-2.05zM287 0h1.05v10h-1.05zM365 0h2.05v10h-2.05zM379 0h1.55v10h-1.55zM432 0h1.55v10h-1.55zM544 0h1.55v10h-1.55zM545.5 0h2.05v10h-2.05zM671.5 0h1.55v10h-1.55z"/><path fill="#d23a24" d="M263 0h2.55v10h-2.55zM270.5 0h1.05v10h-1.05zM332.5 0h2.05v10h-2.05zM421 0h1.55v10h-1.55zM580.5 0h2.05v10h-2.05zM586.5 0h1.55v10h-1.55zM588 0h2.55v10h-2.55zM598.5 0h2.05v10h-2.05zM622.5 0h2.05v10h-2.05zM649 0h1.55v10h-1.55zM662.5 0h1.55v10h-1.55z"/></pattern><pattern id="p13" patternUnits="userSpaceOnUse" x="0" y="0" width="675" height="10"><path fill="#d8bc3c" d="M138 0h2.05v10h-2.05zM153 0h2.05v10h-2.05zM169 0h1.05v10h-1.05zM190 0h1.05v10h-1.05zM216 0h2.55v10h-2.55zM229.5 0h2.05v10h-2.05zM233.5 0h2.05v10h-2.05zM241.5 0h2.05v10h-2.05zM243.5 0h1.05v10h-1.05zM247.5 0h2.05v10h-2.05zM261.5 0h1.55v10h-1.55zM277 0h1.55v10h-1.55zM288 0h2.55v10h-2.55zM292 0h1.55v10h-1.55zM301 0h1.05v10h-1.05zM308 0h2.05v10h-2.05zM312.5 0h2.05v10h-2.05zM318.5 0h2.05v10h-2.05zM320.5 0h1.55v10h-1.55zM330 0h2.55v10h-2.55zM334.5 0h2.55v10h-2.55zM377.5 0h1.55v10h-1.55zM405 0h2.55v10h-2.55zM410.5 0h1.55v10h-1.55zM418.5 0h2.55v10h-2.55zM422.5 0h1.55v10h-1.55zM426 0h1.55v10h-1.55zM429.5 0h2.55v10h-2.55zM435.5 0h2.55v10h-2.55zM441 0h1.05v10h-1.05zM472.5 0h2.05v10h-2.05zM502.5 0h1.55v10h-1.55zM550 0h1.55v10h-1.55zM553.5 0h1.05v10h-1.05zM584.5 0h2.05v10h-2.05zM631 0h1.55v10h-1.55zM654 0h1.55v10h-1.55zM669.5 0h2.05v10h-2.05z"/><path fill="#24947e" d="M140 0h2.55v10h-2.55zM165.5 0h2.05v10h-2.05zM175 0h1.55v10h-1.55zM186.5 0h1.55v10h-1.55zM188 0h2.05v10h-2.05zM206.5 0h1.55v10h-1.55zM252 0h2.05v10h-2.05zM258 0h1.05v10h-1.05zM269 0h1.55v10h-1.55zM281 0h2.55v10h-2.55zM285 0h2.05v10h-2.05zM297.5 0h2.05v10h-2.05zM343 0h2.05v10h-2.05zM352.5 0h2.55v10h-2.55zM355 0h2.55v10h-2.55zM362.5 0h2.55v10h-2.55zM367 0h2.05v10h-2.05zM374.5 0h1.55v10h-1.55zM477.5 0h1.55v10h-1.55zM506.5 0h2.55v10h-2.55zM511.5 0h2.05v10h-2.05zM516 0h2.55v10h-2.55zM520.5 0h2.55v10h-2.55zM528.5 0h1.05v10h-1.05zM529.5 0h1.55v10h-1.55zM545.5 0h2.05v10h-2.05zM566.5 0h1.05v10h-1.05zM605 0h1.05v10h-1.05zM627.5 0h1.55v10h-1.55z"/><path fill="#e8a234" d="M142.5 0h1.55v10h-1.55zM151 0h2.05v10h-2.05zM158.5 0h1.55v10h-1.55zM162.5 0h1.55v10h-1.55zM170 0h2.05v10h-2.05zM173.5 0h1.55v10h-1.55zM198 0h2.55v10h-2.55zM214.5 0h1.55v10h-1.55zM218.5 0h1.55v10h-1.55zM251 0h1.05v10h-1.05zM259 0h2.55v10h-2.55zM275.5 0h1.55v10h-1.55zM278.5 0h2.55v10h-2.55zM283.5 0h1.55v10h-1.55zM290.5 0h1.55v10h-1.55zM303 0h1.55v10h-1.55zM326 0h1.55v10h-1.55zM327.5 0h1.55v10h-1.55zM348.5 0h2.05v10h-2.05zM357.5 0h2.55v10h-2.55zM360 0h1.55v10h-1.55zM372.5 0h2.05v10h-2.05zM394 0h2.05v10h-2.05zM412 0h2.05v10h-2.05zM474.5 0h1.05v10h-1.05zM479 0h2.05v10h-2.05zM518.5 0h2.05v10h-2.05zM523 0h2.05v10h-2.05zM558.5 0h1.55v10h-1.55zM560 0h2.55v10h-2.55zM574.5 0h1.05v10h-1.05zM575.5 0h2.05v10h-2.05zM582.5 0h2.05v10h-2.05zM586.5 0h1.55v10h-1.55zM610 0h2.05v10h-2.05zM619.5 0h1.05v10h-1.05zM647 0h2.05v10h-2.05zM652 0h2.05v10h-2.05zM655.5 0h2.05v10h-2.05z"/><path fill="#ffffff" d="M144 0h2.05v10h-2.05zM149 0h2.05v10h-2.05zM156 0h2.55v10h-2.55zM221.5 0h1.05v10h-1.05zM222.5 0h1.55v10h-1.55zM226 0h1.05v10h-1.05zM235.5 0h1.55v10h-1.55zM244.5 0h2.05v10h-2.05zM254 0h2.55v10h-2.55zM273.5 0h2.05v10h-2.05zM304.5 0h2.05v10h-2.05zM316 0h2.55v10h-2.55zM339 0h1.05v10h-1.05zM340 0h1.55v10h-1.55zM345 0h2.05v10h-2.05zM361.5 0h1.05v10h-1.05zM385.5 0h1.05v10h-1.05zM388 0h2.05v10h-2.05zM390 0h2.05v10h-2.05zM414 0h2.05v10h-2.05zM433.5 0h2.05v10h-2.05zM438 0h2.05v10h-2.05zM442 0h1.55v10h-1.55zM446.5 0h2.55v10h-2.55zM449 0h1.55v10h-1.55zM452.5 0h2.05v10h-2.05zM454.5 0h1.55v10h-1.55zM470 0h1.55v10h-1.55zM475.5 0h2.05v10h-2.05zM533.5 0h2.55v10h-2.55zM536 0h2.55v10h-2.55zM551.5 0h2.05v10h-2.05zM562.5 0h1.55v10h-1.55zM569.5 0h1.05v10h-1.05zM570.5 0h2.05v10h-2.05zM577.5 0h1.05v10h-1.05zM590.5 0h1.05v10h-1.05zM591.5 0h2.55v10h-2.55zM596.5 0h2.05v10h-2.05zM598.5 0h2.05v10h-2.05zM603 0h2.05v10h-2.05zM614 0h1.55v10h-1.55zM617.5 0h2.05v10h-2.05zM624.5 0h1.05v10h-1.05zM632.5 0h1.55v10h-1.55zM643.5 0h1.05v10h-1.05zM664 0h1.55v10h-1.55z"/><path fill="#3a6ec0" d="M146 0h1.55v10h-1.55zM231.5 0h2.05v10h-2.05zM287 0h1.05v10h-1.05zM365 0h2.05v10h-2.05zM379 0h1.55v10h-1.55zM432 0h1.55v10h-1.55zM538.5 0h2.05v10h-2.05zM544 0h1.55v10h-1.55zM659 0h1.55v10h-1.55zM671.5 0h1.55v10h-1.55z"/><path fill="#e4642a" d="M147.5 0h1.55v10h-1.55zM208 0h2.55v10h-2.55zM213 0h1.55v10h-1.55zM403 0h2.05v10h-2.05zM407.5 0h2.05v10h-2.05zM427.5 0h2.05v10h-2.05zM492 0h2.55v10h-2.55zM620.5 0h2.05v10h-2.05zM629 0h2.05v10h-2.05zM642 0h1.55v10h-1.55z"/><path fill="#2f9a36" d="M155 0h1.05v10h-1.05zM176.5 0h1.05v10h-1.05zM177.5 0h2.55v10h-2.55zM182 0h1.55v10h-1.55zM185 0h1.55v10h-1.55zM191 0h1.05v10h-1.05zM193.5 0h2.05v10h-2.05zM195.5 0h2.55v10h-2.55zM200.5 0h2.05v10h-2.05zM203.5 0h1.05v10h-1.05zM220 0h1.55v10h-1.55zM227 0h2.55v10h-2.55zM237 0h1.05v10h-1.05zM238 0h1.05v10h-1.05zM239 0h1.55v10h-1.55zM246.5 0h1.05v10h-1.05zM249.5 0h1.55v10h-1.55zM265.5 0h1.55v10h-1.55zM267 0h2.05v10h-2.05zM270.5 0h1.05v10h-1.05zM271.5 0h2.05v10h-2.05zM299.5 0h1.55v10h-1.55zM302 0h1.05v10h-1.05zM311 0h1.55v10h-1.55zM322 0h2.05v10h-2.05zM329 0h1.05v10h-1.05zM369 0h2.05v10h-2.05zM383 0h2.55v10h-2.55zM386.5 0h1.55v10h-1.55zM392 0h2.05v10h-2.05zM440 0h1.05v10h-1.05zM443.5 0h1.05v10h-1.05zM450.5 0h2.05v10h-2.05zM456 0h1.55v10h-1.55zM457.5 0h1.55v10h-1.55zM459 0h1.05v10h-1.05zM461 0h1.05v10h-1.05zM462 0h2.55v10h-2.55zM464.5 0h1.05v10h-1.05zM467.5 0h2.55v10h-2.55zM481 0h2.05v10h-2.05zM483 0h1.55v10h-1.55zM484.5 0h2.05v10h-2.05zM488 0h2.55v10h-2.55zM494.5 0h2.05v10h-2.05zM496.5 0h1.55v10h-1.55zM498 0h2.05v10h-2.05zM547.5 0h2.55v10h-2.55zM600.5 0h2.55v10h-2.55zM606 0h2.55v10h-2.55zM612 0h2.05v10h-2.05zM615.5 0h2.05v10h-2.05zM636 0h1.55v10h-1.55zM639 0h1.05v10h-1.05zM640 0h2.05v10h-2.05zM644.5 0h1.05v10h-1.05zM645.5 0h1.55v10h-1.55zM650.5 0h1.55v10h-1.55zM660.5 0h2.05v10h-2.05z"/><path fill="#86c6e6" d="M160 0h2.55v10h-2.55zM167.5 0h1.55v10h-1.55zM240.5 0h1.05v10h-1.05zM471.5 0h1.05v10h-1.05zM525 0h2.05v10h-2.05zM527 0h1.55v10h-1.55zM531 0h2.55v10h-2.55zM554.5 0h2.05v10h-2.05zM567.5 0h2.05v10h-2.05zM657.5 0h1.55v10h-1.55z"/><path fill="#f6f0b4" d="M164 0h1.55v10h-1.55zM183.5 0h1.55v10h-1.55zM192 0h1.55v10h-1.55zM210.5 0h1.55v10h-1.55zM324 0h2.05v10h-2.05zM337 0h2.05v10h-2.05zM341.5 0h1.55v10h-1.55zM371 0h1.55v10h-1.55zM376 0h1.55v10h-1.55zM380.5 0h1.55v10h-1.55zM382 0h1.05v10h-1.05zM409.5 0h1.05v10h-1.05zM444.5 0h2.05v10h-2.05zM500 0h2.55v10h-2.55zM504 0h2.55v10h-2.55zM509 0h2.55v10h-2.55zM542 0h2.05v10h-2.05zM564 0h2.55v10h-2.55z"/><path fill="#b4e0a0" d="M172 0h1.55v10h-1.55zM293.5 0h2.05v10h-2.05zM306.5 0h1.55v10h-1.55zM350.5 0h1.05v10h-1.05zM396 0h2.05v10h-2.05zM398 0h2.05v10h-2.05zM400 0h1.55v10h-1.55zM401.5 0h1.55v10h-1.55zM540.5 0h1.55v10h-1.55zM634 0h2.05v10h-2.05zM665.5 0h2.05v10h-2.05z"/><path fill="#e494a4" d="M180 0h2.05v10h-2.05zM204.5 0h2.05v10h-2.05zM351.5 0h1.05v10h-1.05zM513.5 0h2.55v10h-2.55zM625.5 0h2.05v10h-2.05zM637.5 0h1.55v10h-1.55z"/><path fill="#a8a244" d="M202.5 0h1.05v10h-1.05zM224 0h2.05v10h-2.05zM256.5 0h1.55v10h-1.55zM295.5 0h2.05v10h-2.05zM424 0h2.05v10h-2.05zM460 0h1.05v10h-1.05zM465.5 0h2.05v10h-2.05zM486.5 0h1.55v10h-1.55zM490.5 0h1.55v10h-1.55zM556.5 0h2.05v10h-2.05zM578.5 0h2.05v10h-2.05zM594 0h2.55v10h-2.55zM608.5 0h1.55v10h-1.55zM667.5 0h2.05v10h-2.05z"/><path fill="#d23a24" d="M212 0h1.05v10h-1.05zM263 0h2.55v10h-2.55zM332.5 0h2.05v10h-2.05zM347 0h1.55v10h-1.55zM416 0h2.55v10h-2.55zM421 0h1.55v10h-1.55zM572.5 0h2.05v10h-2.05zM580.5 0h2.05v10h-2.05zM588 0h2.55v10h-2.55zM622.5 0h2.05v10h-2.05zM649 0h1.55v10h-1.55zM662.5 0h1.55v10h-1.55z"/><path fill="#8e3a22" d="M310 0h1.05v10h-1.05zM314.5 0h1.55v10h-1.55z"/></pattern><pattern id="p14" patternUnits="userSpaceOnUse" x="0" y="0" width="675" height="10"><path fill="#d8bc3c" d="M138 0h2.05v10h-2.05zM153 0h2.05v10h-2.05zM190 0h1.05v10h-1.05zM193.5 0h2.05v10h-2.05zM229.5 0h2.05v10h-2.05zM233.5 0h2.05v10h-2.05zM241.5 0h2.05v10h-2.05zM247.5 0h2.05v10h-2.05zM261.5 0h1.55v10h-1.55zM273.5 0h2.05v10h-2.05zM277 0h1.55v10h-1.55zM292 0h1.55v10h-1.55zM301 0h1.05v10h-1.05zM308 0h2.05v10h-2.05zM312.5 0h2.05v10h-2.05zM318.5 0h2.05v10h-2.05zM320.5 0h1.55v10h-1.55zM334.5 0h2.55v10h-2.55zM337 0h2.05v10h-2.05zM377.5 0h1.55v10h-1.55zM405 0h2.55v10h-2.55zM410.5 0h1.55v10h-1.55zM418.5 0h2.55v10h-2.55zM422.5 0h1.55v10h-1.55zM426 0h1.55v10h-1.55zM429.5 0h2.55v10h-2.55zM435.5 0h2.55v10h-2.55zM441 0h1.05v10h-1.05zM442 0h1.55v10h-1.55zM449 0h1.55v10h-1.55zM472.5 0h2.05v10h-2.05zM502.5 0h1.55v10h-1.55zM550 0h1.55v10h-1.55zM584.5 0h2.05v10h-2.05zM657.5 0h1.55v10h-1.55zM669.5 0h2.05v10h-2.05z"/><path fill="#24947e" d="M140 0h2.55v10h-2.55zM165.5 0h2.05v10h-2.05zM186.5 0h1.55v10h-1.55zM188 0h2.05v10h-2.05zM206.5 0h1.55v10h-1.55zM252 0h2.05v10h-2.05zM269 0h1.55v10h-1.55zM285 0h2.05v10h-2.05zM297.5 0h2.05v10h-2.05zM352.5 0h2.55v10h-2.55zM355 0h2.55v10h-2.55zM362.5 0h2.55v10h-2.55zM367 0h2.05v10h-2.05zM374.5 0h1.55v10h-1.55zM474.5 0h1.05v10h-1.05zM477.5 0h1.55v10h-1.55zM506.5 0h2.55v10h-2.55zM516 0h2.55v10h-2.55zM529.5 0h1.55v10h-1.55zM545.5 0h2.05v10h-2.05zM566.5 0h1.05v10h-1.05zM605 0h1.05v10h-1.05zM627.5 0h1.55v10h-1.55zM665.5 0h2.05v10h-2.05z"/><path fill="#3a6ec0" d="M142.5 0h1.55v10h-1.55zM146 0h1.55v10h-1.55zM287 0h1.05v10h-1.05zM343 0h2.05v10h-2.05zM365 0h2.05v10h-2.05zM379 0h1.55v10h-1.55zM520.5 0h2.55v10h-2.55zM527 0h1.55v10h-1.55zM544 0h1.55v10h-1.55zM671.5 0h1.55v10h-1.55z"/><path fill="#ffffff" d="M144 0h2.05v10h-2.05zM149 0h2.05v10h-2.05zM216 0h2.55v10h-2.55zM221.5 0h1.05v10h-1.05zM222.5 0h1.55v10h-1.55zM226 0h1.05v10h-1.05zM235.5 0h1.55v10h-1.55zM244.5 0h2.05v10h-2.05zM254 0h2.55v10h-2.55zM265.5 0h1.55v10h-1.55zM299.5 0h1.55v10h-1.55zM316 0h2.55v10h-2.55zM324 0h2.05v10h-2.05zM339 0h1.05v10h-1.05zM340 0h1.55v10h-1.55zM345 0h2.05v10h-2.05zM361.5 0h1.05v10h-1.05zM385.5 0h1.05v10h-1.05zM388 0h2.05v10h-2.05zM390 0h2.05v10h-2.05zM396 0h2.05v10h-2.05zM414 0h2.05v10h-2.05zM433.5 0h2.05v10h-2.05zM438 0h2.05v10h-2.05zM446.5 0h2.55v10h-2.55zM452.5 0h2.05v10h-2.05zM454.5 0h1.55v10h-1.55zM475.5 0h2.05v10h-2.05zM513.5 0h2.55v10h-2.55zM533.5 0h2.55v10h-2.55zM536 0h2.55v10h-2.55zM551.5 0h2.05v10h-2.05zM553.5 0h1.05v10h-1.05zM562.5 0h1.55v10h-1.55zM567.5 0h2.05v10h-2.05zM569.5 0h1.05v10h-1.05zM570.5 0h2.05v10h-2.05zM577.5 0h1.05v10h-1.05zM580.5 0h2.05v10h-2.05zM590.5 0h1.05v10h-1.05zM591.5 0h2.55v10h-2.55zM596.5 0h2.05v10h-2.05zM598.5 0h2.05v10h-2.05zM614 0h1.55v10h-1.55zM617.5 0h2.05v10h-2.05zM643.5 0h1.05v10h-1.05z"/><path fill="#e4642a" d="M147.5 0h1.55v10h-1.55zM183.5 0h1.55v10h-1.55zM208 0h2.55v10h-2.55zM213 0h1.55v10h-1.55zM231.5 0h2.05v10h-2.05zM403 0h2.05v10h-2.05zM407.5 0h2.05v10h-2.05zM427.5 0h2.05v10h-2.05zM492 0h2.55v10h-2.55zM620.5 0h2.05v10h-2.05zM629 0h2.05v10h-2.05zM642 0h1.55v10h-1.55z"/><path fill="#e8a234" d="M151 0h2.05v10h-2.05zM162.5 0h1.55v10h-1.55zM169 0h1.05v10h-1.05zM198 0h2.55v10h-2.55zM214.5 0h1.55v10h-1.55zM218.5 0h1.55v10h-1.55zM243.5 0h1.05v10h-1.05zM258 0h1.05v10h-1.05zM259 0h2.55v10h-2.55zM275.5 0h1.55v10h-1.55zM278.5 0h2.55v10h-2.55zM283.5 0h1.55v10h-1.55zM288 0h2.55v10h-2.55zM290.5 0h1.55v10h-1.55zM303 0h1.55v10h-1.55zM326 0h1.55v10h-1.55zM327.5 0h1.55v10h-1.55zM348.5 0h2.05v10h-2.05zM357.5 0h2.55v10h-2.55zM360 0h1.55v10h-1.55zM372.5 0h2.05v10h-2.05zM394 0h2.05v10h-2.05zM412 0h2.05v10h-2.05zM479 0h2.05v10h-2.05zM518.5 0h2.05v10h-2.05zM523 0h2.05v10h-2.05zM558.5 0h1.55v10h-1.55zM582.5 0h2.05v10h-2.05zM586.5 0h1.55v10h-1.55zM610 0h2.05v10h-2.05zM619.5 0h1.05v10h-1.05zM647 0h2.05v10h-2.05zM652 0h2.05v10h-2.05zM655.5 0h2.05v10h-2.05z"/><path fill="#2f9a36" d="M155 0h1.05v10h-1.05zM158.5 0h1.55v10h-1.55zM170 0h2.05v10h-2.05zM172 0h1.55v10h-1.55zM176.5 0h1.05v10h-1.05zM177.5 0h2.55v10h-2.55zM182 0h1.55v10h-1.55zM185 0h1.55v10h-1.55zM191 0h1.05v10h-1.05zM195.5 0h2.55v10h-2.55zM200.5 0h2.05v10h-2.05zM203.5 0h1.05v10h-1.05zM227 0h2.55v10h-2.55zM237 0h1.05v10h-1.05zM238 0h1.05v10h-1.05zM239 0h1.55v10h-1.55zM240.5 0h1.05v10h-1.05zM246.5 0h1.05v10h-1.05zM249.5 0h1.55v10h-1.55zM267 0h2.05v10h-2.05zM270.5 0h1.05v10h-1.05zM271.5 0h2.05v10h-2.05zM302 0h1.05v10h-1.05zM304.5 0h2.05v10h-2.05zM306.5 0h1.55v10h-1.55zM311 0h1.55v10h-1.55zM322 0h2.05v10h-2.05zM329 0h1.05v10h-1.05zM351.5 0h1.05v10h-1.05zM369 0h2.05v10h-2.05zM383 0h2.55v10h-2.55zM392 0h2.05v10h-2.05zM432 0h1.55v10h-1.55zM440 0h1.05v10h-1.05zM443.5 0h1.05v10h-1.05zM450.5 0h2.05v10h-2.05zM456 0h1.55v10h-1.55zM457.5 0h1.55v10h-1.55zM459 0h1.05v10h-1.05zM461 0h1.05v10h-1.05zM462 0h2.55v10h-2.55zM467.5 0h2.55v10h-2.55zM483 0h1.55v10h-1.55zM488 0h2.55v10h-2.55zM494.5 0h2.05v10h-2.05zM496.5 0h1.55v10h-1.55zM498 0h2.05v10h-2.05zM547.5 0h2.55v10h-2.55zM600.5 0h2.55v10h-2.55zM606 0h2.55v10h-2.55zM612 0h2.05v10h-2.05zM615.5 0h2.05v10h-2.05zM636 0h1.55v10h-1.55zM639 0h1.05v10h-1.05zM640 0h2.05v10h-2.05zM645.5 0h1.55v10h-1.55zM650.5 0h1.55v10h-1.55zM660.5 0h2.05v10h-2.05z"/><path fill="#b4e0a0" d="M156 0h2.55v10h-2.55zM251 0h1.05v10h-1.05zM293.5 0h2.05v10h-2.05zM350.5 0h1.05v10h-1.05zM398 0h2.05v10h-2.05zM400 0h1.55v10h-1.55zM401.5 0h1.55v10h-1.55zM470 0h1.55v10h-1.55zM540.5 0h1.55v10h-1.55zM634 0h2.05v10h-2.05z"/><path fill="#86c6e6" d="M160 0h2.55v10h-2.55zM167.5 0h1.55v10h-1.55zM173.5 0h1.55v10h-1.55zM175 0h1.55v10h-1.55zM330 0h2.55v10h-2.55zM471.5 0h1.05v10h-1.05zM481 0h2.05v10h-2.05zM511.5 0h2.05v10h-2.05zM525 0h2.05v10h-2.05zM531 0h2.55v10h-2.55zM554.5 0h2.05v10h-2.05zM560 0h2.55v10h-2.55zM564 0h2.55v10h-2.55zM644.5 0h1.05v10h-1.05z"/><path fill="#f6f0b4" d="M164 0h1.55v10h-1.55zM192 0h1.55v10h-1.55zM210.5 0h1.55v10h-1.55zM281 0h2.55v10h-2.55zM341.5 0h1.55v10h-1.55zM371 0h1.55v10h-1.55zM376 0h1.55v10h-1.55zM380.5 0h1.55v10h-1.55zM382 0h1.05v10h-1.05zM386.5 0h1.55v10h-1.55zM409.5 0h1.05v10h-1.05zM444.5 0h2.05v10h-2.05zM464.5 0h1.05v10h-1.05zM500 0h2.55v10h-2.55zM504 0h2.55v10h-2.55zM509 0h2.55v10h-2.55zM528.5 0h1.05v10h-1.05zM538.5 0h2.05v10h-2.05zM542 0h2.05v10h-2.05zM603 0h2.05v10h-2.05zM631 0h1.55v10h-1.55zM659 0h1.55v10h-1.55zM664 0h1.55v10h-1.55z"/><path fill="#e494a4" d="M180 0h2.05v10h-2.05zM204.5 0h2.05v10h-2.05zM220 0h1.55v10h-1.55zM625.5 0h2.05v10h-2.05zM632.5 0h1.55v10h-1.55zM637.5 0h1.55v10h-1.55z"/><path fill="#a8a244" d="M202.5 0h1.05v10h-1.05zM224 0h2.05v10h-2.05zM256.5 0h1.55v10h-1.55zM295.5 0h2.05v10h-2.05zM424 0h2.05v10h-2.05zM460 0h1.05v10h-1.05zM465.5 0h2.05v10h-2.05zM484.5 0h2.05v10h-2.05zM486.5 0h1.55v10h-1.55zM490.5 0h1.55v10h-1.55zM556.5 0h2.05v10h-2.05zM578.5 0h2.05v10h-2.05zM594 0h2.55v10h-2.55zM608.5 0h1.55v10h-1.55zM654 0h1.55v10h-1.55zM667.5 0h2.05v10h-2.05z"/><path fill="#d23a24" d="M212 0h1.05v10h-1.05zM263 0h2.55v10h-2.55zM332.5 0h2.05v10h-2.05zM347 0h1.55v10h-1.55zM416 0h2.55v10h-2.55zM421 0h1.55v10h-1.55zM572.5 0h2.05v10h-2.05zM574.5 0h1.05v10h-1.05zM575.5 0h2.05v10h-2.05zM588 0h2.55v10h-2.55zM622.5 0h2.05v10h-2.05zM649 0h1.55v10h-1.55zM662.5 0h1.55v10h-1.55z"/><path fill="#8e3a22" d="M310 0h1.05v10h-1.05zM314.5 0h1.55v10h-1.55zM624.5 0h1.05v10h-1.05z"/></pattern></defs>
<rect width="675" height="1695" fill="#fff"/>
<text x="141.0" y="9.4" font-size="6.8" fill="#666" stroke="#666" stroke-width="0.12" text-anchor="middle" font-family="Liberation Sans, sans-serif">1</text>
<rect x="140.6" y="10.9" width="0.9" height="1.6" fill="#777"/>
<text x="189.2" y="9.4" font-size="6.8" fill="#666" stroke="#666" stroke-width="0.12" text-anchor="middle" font-family="Liberation Sans, sans-serif">50</text>
<rect x="188.8" y="10.9" width="0.9" height="1.6" fill="#777"/>
<text x="238.4" y="9.4" font-size="6.8" fill="#666" stroke="#666" stroke-width="0.12" text-anchor="middle" font-family="Liberation Sans, sans-serif">100</text>
<rect x="238.0" y="10.9" width="0.9" height="1.6" fill="#777"/>
<text x="287.7" y="9.4" font-size="6.8" fill="#666" stroke="#666" stroke-width="0.12" text-anchor="middle" font-family="Liberation Sans, sans-serif">150</text>
<rect x="287.2" y="10.9" width="0.9" height="1.6" fill="#777"/>
<text x="336.9" y="9.4" font-size="6.8" fill="#666" stroke="#666" stroke-width="0.12" text-anchor="middle" font-family="Liberation Sans, sans-serif">200</text>
<rect x="336.4" y="10.9" width="0.9" height="1.6" fill="#777"/>
<text x="386.1" y="9.4" font-size="6.8" fill="#666" stroke="#666" stroke-width="0.12" text-anchor="middle" font-family="Liberation Sans, sans-serif">250</text>
<rect x="385.6" y="10.9" width="0.9" height="1.6" fill="#777"/>
<text x="435.3" y="9.4" font-size="6.8" fill="#666" stroke="#666" stroke-width="0.12" text-anchor="middle" font-family="Liberation Sans, sans-serif">300</text>
<rect x="434.9" y="10.9" width="0.9" height="1.6" fill="#777"/>
<text x="484.5" y="9.4" font-size="6.8" fill="#666" stroke="#666" stroke-width="0.12" text-anchor="middle" font-family="Liberation Sans, sans-serif">350</text>
<rect x="484.1" y="10.9" width="0.9" height="1.6" fill="#777"/>
<text x="533.7" y="9.4" font-size="6.8" fill="#666" stroke="#666" stroke-width="0.12" text-anchor="middle" font-family="Liberation Sans, sans-serif">400</text>
<rect x="533.3" y="10.9" width="0.9" height="1.6" fill="#777"/>
<text x="583.0" y="9.4" font-size="6.8" fill="#666" stroke="#666" stroke-width="0.12" text-anchor="middle" font-family="Liberation Sans, sans-serif">450</text>
<rect x="582.5" y="10.9" width="0.9" height="1.6" fill="#777"/>
<text x="632.2" y="9.4" font-size="6.8" fill="#666" stroke="#666" stroke-width="0.12" text-anchor="middle" font-family="Liberation Sans, sans-serif">500</text>
<rect x="631.7" y="10.9" width="0.9" height="1.6" fill="#777"/>
<text x="665.1" y="9.4" font-size="6.8" fill="#666" stroke="#666" stroke-width="0.12" text-anchor="middle" font-family="Liberation Sans, sans-serif">536</text>
<rect x="667.2" y="10.9" width="0.9" height="1.6" fill="#777"/>
<text transform="translate(5 19.6) scale(0.86 1)" font-size="8.6" letter-spacing="0.45" fill="#1a1a1a" stroke="#1a1a1a" stroke-width="0.28" font-family="Liberation Sans, sans-serif">Consensus</text>
<rect x="140.3" y="15.65" width="528.2" height="1.3" fill="#3c3c3c"/>
<rect x="140.7" y="13.85" width="23.4" height="5.00" rx="0.5" fill="url(#p0)" stroke="#2a2418" stroke-width="0.9"/>
<rect x="178.1" y="13.85" width="16.5" height="5.00" rx="0.5" fill="url(#p0)" stroke="#2a2418" stroke-width="0.9"/>
<rect x="198.1" y="13.85" width="4.2" height="5.00" rx="0.5" fill="url(#p0)" stroke="#2a2418" stroke-width="0.9"/>
<rect x="222.1" y="13.85" width="28.5" height="5.00" rx="0.5" fill="url(#p0)" stroke="#2a2418" stroke-width="0.9"/>
<rect x="259.4" y="13.85" width="13.5" height="5.00" rx="0.5" fill="url(#p0)" stroke="#2a2418" stroke-width="0.9"/>
<rect x="277.1" y="13.85" width="24.2" height="5.00" rx="0.5" fill="url(#p0)" stroke="#2a2418" stroke-width="0.9"/>
<rect x="302.1" y="13.85" width="5.2" height="5.00" rx="0.5" fill="url(#p0)" stroke="#2a2418" stroke-width="0.9"/>
<rect x="311.1" y="13.85" width="11.2" height="5.00" rx="0.5" fill="url(#p0)" stroke="#2a2418" stroke-width="0.9"/>
<rect x="376.1" y="13.85" width="15.2" height="5.00" rx="0.5" fill="url(#p0)" stroke="#2a2418" stroke-width="0.9"/>
<rect x="421.1" y="13.85" width="5.2" height="5.00" rx="0.5" fill="url(#p0)" stroke="#2a2418" stroke-width="0.9"/>
<rect x="430.4" y="13.85" width="32.5" height="5.00" rx="0.5" fill="url(#p0)" stroke="#2a2418" stroke-width="0.9"/>
<rect x="468.1" y="13.85" width="0.8" height="5.00" rx="0.5" fill="url(#p0)" stroke="#2a2418" stroke-width="0.9"/>
<rect x="480.4" y="13.85" width="9.2" height="5.00" rx="0.5" fill="url(#p0)" stroke="#2a2418" stroke-width="0.9"/>
<rect x="492.7" y="13.85" width="10.2" height="5.00" rx="0.5" fill="url(#p0)" stroke="#2a2418" stroke-width="0.9"/>
<rect x="506.1" y="13.85" width="20.2" height="5.00" rx="0.5" fill="url(#p0)" stroke="#2a2418" stroke-width="0.9"/>
<rect x="529.4" y="13.85" width="16.2" height="5.00" rx="0.5" fill="url(#p0)" stroke="#2a2418" stroke-width="0.9"/>
<rect x="561.4" y="13.85" width="6.9" height="5.00" rx="0.5" fill="url(#p0)" stroke="#2a2418" stroke-width="0.9"/>
<rect x="572.6" y="13.85" width="4.0" height="5.00" rx="0.5" fill="url(#p0)" stroke="#2a2418" stroke-width="0.9"/>
<rect x="579.4" y="13.85" width="88.7" height="5.00" rx="0.5" fill="url(#p0)" stroke="#2a2418" stroke-width="0.9"/>
<text transform="translate(5.2 31.00) scale(0.86 1)" font-size="8.6" letter-spacing="0.3" fill="#1a1a1a" stroke="#1a1a1a" stroke-width="0.28" font-family="Liberation Sans, sans-serif">1.</text>
<text transform="translate(14.8 31.00) scale(0.86 1)" font-size="8.6" letter-spacing="0.15" fill="#1a1a1a" stroke="#1a1a1a" stroke-width="0.28" font-family="Liberation Sans, sans-serif">GsXIP1;2</text>
<rect x="141.7" y="27.05" width="449.0" height="1.3" fill="#3c3c3c"/>
<rect x="142.1" y="25.25" width="21.0" height="5.00" rx="0.5" fill="url(#p1)" stroke="#2a2418" stroke-width="0.9"/>
<rect x="178.1" y="25.25" width="15.8" height="5.00" rx="0.5" fill="url(#p1)" stroke="#2a2418" stroke-width="0.9"/>
<rect x="198.1" y="25.25" width="4.2" height="5.00" rx="0.5" fill="url(#p1)" stroke="#2a2418" stroke-width="0.9"/>
<rect x="222.1" y="25.25" width="28.5" height="5.00" rx="0.5" fill="url(#p1)" stroke="#2a2418" stroke-width="0.9"/>
<rect x="259.4" y="25.25" width="12.5" height="5.00" rx="0.5" fill="url(#p1)" stroke="#2a2418" stroke-width="0.9"/>
<rect x="277.1" y="25.25" width="23.5" height="5.00" rx="0.5" fill="url(#p1)" stroke="#2a2418" stroke-width="0.9"/>
<rect x="302.1" y="25.25" width="5.2" height="5.00" rx="0.5" fill="url(#p1)" stroke="#2a2418" stroke-width="0.9"/>
<rect x="311.1" y="25.25" width="11.2" height="5.00" rx="0.5" fill="url(#p1)" stroke="#2a2418" stroke-width="0.9"/>
<rect x="376.1" y="25.25" width="22.8" height="5.00" rx="0.5" fill="url(#p1)" stroke="#2a2418" stroke-width="0.9"/>
<rect x="421.1" y="25.25" width="40.2" height="5.00" rx="0.5" fill="url(#p1)" stroke="#2a2418" stroke-width="0.9"/>
<rect x="464.7" y="25.25" width="3.2" height="5.00" rx="0.5" fill="url(#p1)" stroke="#2a2418" stroke-width="0.9"/>
<rect x="480.4" y="25.25" width="45.9" height="5.00" rx="0.5" fill="url(#p1)" stroke="#2a2418" stroke-width="0.9"/>
<rect x="529.4" y="25.25" width="40.2" height="5.00" rx="0.5" fill="url(#p1)" stroke="#2a2418" stroke-width="0.9"/>
<rect x="572.6" y="25.25" width="17.7" height="5.00" rx="0.5" fill="url(#p1)" stroke="#2a2418" stroke-width="0.9"/>
<path d="M225.0 31.80H243.0L246.0 34.15L243.0 36.50H225.0Z" fill="#0606e4"/>
<path d="M262.7 31.80H283.7L286.7 34.15L283.7 36.50H262.7Z" fill="#0606e4"/>
<path d="M311.0 31.80H380.3L383.3 34.15L380.3 36.50H311.0Z" fill="#0606e4"/>
<path d="M438.3 31.80H454.7L457.7 34.15L454.7 36.50H438.3Z" fill="#0606e4"/>
<path d="M482.7 31.80H499.7L502.7 34.15L499.7 36.50H482.7Z" fill="#0606e4"/>
<path d="M532.5 31.80H550.2L553.2 34.15L550.2 36.50H532.5Z" fill="#0606e4"/>
<text transform="translate(5.2 46.90) scale(0.86 1)" font-size="8.6" letter-spacing="0.3" fill="#1a1a1a" stroke="#1a1a1a" stroke-width="0.28" font-family="Liberation Sans, sans-serif">2.</text>
<text transform="translate(14.8 46.90) scale(0.86 1)" font-size="8.6" letter-spacing="0.15" fill="#1a1a1a" stroke="#1a1a1a" stroke-width="0.28" font-family="Liberation Sans, sans-serif">GsXIP1;1</text>
<text transform="translate(19 61.90) scale(0.86 1)" font-size="8.6" letter-spacing="0.75" fill="#1a1a1a" stroke="#1a1a1a" stroke-width="0.28" font-family="Liberation Sans, sans-serif">Motifs</text>
<rect x="235.0" y="42.95" width="364.8" height="1.3" fill="#3c3c3c"/>
<rect x="235.4" y="41.15" width="14.9" height="5.00" rx="0.5" fill="url(#p2)" stroke="#2a2418" stroke-width="0.9"/>
<rect x="259.4" y="41.15" width="12.5" height="5.00" rx="0.5" fill="url(#p2)" stroke="#2a2418" stroke-width="0.9"/>
<rect x="277.1" y="41.15" width="23.5" height="5.00" rx="0.5" fill="url(#p2)" stroke="#2a2418" stroke-width="0.9"/>
<rect x="302.1" y="41.15" width="5.2" height="5.00" rx="0.5" fill="url(#p2)" stroke="#2a2418" stroke-width="0.9"/>
<rect x="311.1" y="41.15" width="11.2" height="5.00" rx="0.5" fill="url(#p2)" stroke="#2a2418" stroke-width="0.9"/>
<rect x="376.1" y="41.15" width="29.2" height="5.00" rx="0.5" fill="url(#p2)" stroke="#2a2418" stroke-width="0.9"/>
<rect x="421.1" y="41.15" width="5.2" height="5.00" rx="0.5" fill="url(#p2)" stroke="#2a2418" stroke-width="0.9"/>
<rect x="430.4" y="41.15" width="32.5" height="5.00" rx="0.5" fill="url(#p2)" stroke="#2a2418" stroke-width="0.9"/>
<rect x="464.7" y="41.15" width="3.2" height="5.00" rx="0.5" fill="url(#p2)" stroke="#2a2418" stroke-width="0.9"/>
<rect x="480.4" y="41.15" width="45.9" height="5.00" rx="0.5" fill="url(#p2)" stroke="#2a2418" stroke-width="0.9"/>
<rect x="529.4" y="41.15" width="40.2" height="5.00" rx="0.5" fill="url(#p2)" stroke="#2a2418" stroke-width="0.9"/>
<rect x="572.6" y="41.15" width="26.8" height="5.00" rx="0.5" fill="url(#p2)" stroke="#2a2418" stroke-width="0.9"/>
<path d="M262.7 47.70H283.7L286.7 50.05L283.7 52.40H262.7Z" fill="#0606e4"/>
<path d="M311.0 47.70H380.3L383.3 50.05L380.3 52.40H311.0Z" fill="#0606e4"/>
<path d="M391.7 47.70H426.0L429.0 50.05L426.0 52.40H391.7Z" fill="#0606e4"/>
<path d="M438.3 47.70H454.7L457.7 50.05L454.7 52.40H438.3Z" fill="#0606e4"/>
<path d="M482.7 47.70H499.7L502.7 50.05L499.7 52.40H482.7Z" fill="#0606e4"/>
<path d="M507.3 47.70H523.7L526.7 50.05L523.7 52.40H507.3Z" fill="#0606e4"/>
<path d="M531.0 47.70H547.7L550.7 50.05L547.7 52.40H531.0Z" fill="#0606e4"/>
<path d="M511.7 54.90L515.3 57.30L511.7 59.70Z" fill="#000"/>
<text transform="translate(5.2 74.50) scale(0.86 1)" font-size="8.6" letter-spacing="0.3" fill="#1a1a1a" stroke="#1a1a1a" stroke-width="0.28" font-family="Liberation Sans, sans-serif">3.</text>
<text transform="translate(14.8 74.50) scale(0.86 1)" font-size="8.6" letter-spacing="0.15" fill="#1a1a1a" stroke="#1a1a1a" stroke-width="0.28" font-family="Liberation Sans, sans-serif">GsNIP7;1</text>
<text transform="translate(19 89.50) scale(0.86 1)" font-size="8.6" letter-spacing="0.75" fill="#1a1a1a" stroke="#1a1a1a" stroke-width="0.28" font-family="Liberation Sans, sans-serif">Motifs</text>
<rect x="225.7" y="70.55" width="374.1" height="1.3" fill="#3c3c3c"/>
<rect x="226.1" y="68.75" width="24.2" height="5.00" rx="0.5" fill="url(#p3)" stroke="#2a2418" stroke-width="0.9"/>
<rect x="261.1" y="68.75" width="11.8" height="5.00" rx="0.5" fill="url(#p3)" stroke="#2a2418" stroke-width="0.9"/>
<rect x="277.1" y="68.75" width="24.2" height="5.00" rx="0.5" fill="url(#p3)" stroke="#2a2418" stroke-width="0.9"/>
<rect x="302.1" y="68.75" width="5.2" height="5.00" rx="0.5" fill="url(#p3)" stroke="#2a2418" stroke-width="0.9"/>
<rect x="311.1" y="68.75" width="11.2" height="5.00" rx="0.5" fill="url(#p3)" stroke="#2a2418" stroke-width="0.9"/>
<rect x="376.1" y="68.75" width="15.2" height="5.00" rx="0.5" fill="url(#p3)" stroke="#2a2418" stroke-width="0.9"/>
<rect x="421.1" y="68.75" width="5.2" height="5.00" rx="0.5" fill="url(#p3)" stroke="#2a2418" stroke-width="0.9"/>
<rect x="430.4" y="68.75" width="32.5" height="5.00" rx="0.5" fill="url(#p3)" stroke="#2a2418" stroke-width="0.9"/>
<rect x="480.4" y="68.75" width="9.2" height="5.00" rx="0.5" fill="url(#p3)" stroke="#2a2418" stroke-width="0.9"/>
<rect x="492.7" y="68.75" width="10.2" height="5.00" rx="0.5" fill="url(#p3)" stroke="#2a2418" stroke-width="0.9"/>
<rect x="506.1" y="68.75" width="20.2" height="5.00" rx="0.5" fill="url(#p3)" stroke="#2a2418" stroke-width="0.9"/>
<rect x="529.4" y="68.75" width="16.2" height="5.00" rx="0.5" fill="url(#p3)" stroke="#2a2418" stroke-width="0.9"/>
<rect x="561.4" y="68.75" width="8.2" height="5.00" rx="0.5" fill="url(#p3)" stroke="#2a2418" stroke-width="0.9"/>
<rect x="572.6" y="68.75" width="4.0" height="5.00" rx="0.5" fill="url(#p3)" stroke="#2a2418" stroke-width="0.9"/>
<rect x="579.4" y="68.75" width="20.0" height="5.00" rx="0.5" fill="url(#p3)" stroke="#2a2418" stroke-width="0.9"/>
<path d="M226.7 75.30H243.7L246.7 77.65L243.7 80.00H226.7Z" fill="#0606e4"/>
<path d="M267.3 75.30H287.0L290.0 77.65L287.0 80.00H267.3Z" fill="#0606e4"/>
<path d="M313.3 75.30H383.0L386.0 77.65L383.0 80.00H313.3Z" fill="#0606e4"/>
<path d="M435.0 75.30H452.0L455.0 77.65L452.0 80.00H435.0Z" fill="#0606e4"/>
<path d="M484.3 75.30H507.0L510.0 77.65L507.0 80.00H484.3Z" fill="#0606e4"/>
<path d="M532.5 75.30H565.0L568.0 77.65L565.0 80.00H532.5Z" fill="#0606e4"/>
<path d="M291.9 82.50L295.5 84.90L291.9 87.30Z" fill="#000"/>
<path d="M511.7 82.50L515.3 84.90L511.7 87.30Z" fill="#000"/>
<text transform="translate(5.2 101.82) scale(0.86 1)" font-size="8.6" letter-spacing="0.3" fill="#1a1a1a" stroke="#1a1a1a" stroke-width="0.28" font-family="Liberation Sans, sans-serif">4.</text>
<text transform="translate(14.8 101.82) scale(0.86 1)" font-size="8.6" letter-spacing="0.15" fill="#1a1a1a" stroke="#1a1a1a" stroke-width="0.28" font-family="Liberation Sans, sans-serif">GsNIP7;2</text>
<text transform="translate(19 116.82) scale(0.86 1)" font-size="8.6" letter-spacing="0.75" fill="#1a1a1a" stroke="#1a1a1a" stroke-width="0.28" font-family="Liberation Sans, sans-serif">Motifs</text>
<rect x="235.0" y="97.87" width="364.8" height="1.3" fill="#3c3c3c"/>
<rect x="235.4" y="96.07" width="14.9" height="5.00" rx="0.5" fill="url(#p4)" stroke="#2a2418" stroke-width="0.9"/>
<rect x="261.1" y="96.07" width="11.8" height="5.00" rx="0.5" fill="url(#p4)" stroke="#2a2418" stroke-width="0.9"/>
<rect x="277.1" y="96.07" width="24.2" height="5.00" rx="0.5" fill="url(#p4)" stroke="#2a2418" stroke-width="0.9"/>
<rect x="302.1" y="96.07" width="5.2" height="5.00" rx="0.5" fill="url(#p4)" stroke="#2a2418" stroke-width="0.9"/>
<rect x="310.4" y="96.07" width="11.9" height="5.00" rx="0.5" fill="url(#p4)" stroke="#2a2418" stroke-width="0.9"/>
<rect x="376.1" y="96.07" width="15.2" height="5.00" rx="0.5" fill="url(#p4)" stroke="#2a2418" stroke-width="0.9"/>
<rect x="421.1" y="96.07" width="5.2" height="5.00" rx="0.5" fill="url(#p4)" stroke="#2a2418" stroke-width="0.9"/>
<rect x="430.4" y="96.07" width="32.5" height="5.00" rx="0.5" fill="url(#p4)" stroke="#2a2418" stroke-width="0.9"/>
<rect x="480.4" y="96.07" width="9.2" height="5.00" rx="0.5" fill="url(#p4)" stroke="#2a2418" stroke-width="0.9"/>
<rect x="492.7" y="96.07" width="10.2" height="5.00" rx="0.5" fill="url(#p4)" stroke="#2a2418" stroke-width="0.9"/>
<rect x="506.1" y="96.07" width="20.2" height="5.00" rx="0.5" fill="url(#p4)" stroke="#2a2418" stroke-width="0.9"/>
<rect x="529.4" y="96.07" width="16.2" height="5.00" rx="0.5" fill="url(#p4)" stroke="#2a2418" stroke-width="0.9"/>
<rect x="561.4" y="96.07" width="8.2" height="5.00" rx="0.5" fill="url(#p4)" stroke="#2a2418" stroke-width="0.9"/>
<rect x="572.6" y="96.07" width="4.0" height="5.00" rx="0.5" fill="url(#p4)" stroke="#2a2418" stroke-width="0.9"/>
<rect x="579.4" y="96.07" width="20.0" height="5.00" rx="0.5" fill="url(#p4)" stroke="#2a2418" stroke-width="0.9"/>
<path d="M260.7 102.62H280.3L283.3 104.97L280.3 107.32H260.7Z" fill="#0606e4"/>
<path d="M289.3 102.62H308.7L311.7 104.97L308.7 107.32H289.3Z" fill="#0606e4"/>
<path d="M315.0 102.62H384.3L387.3 104.97L384.3 107.32H315.0Z" fill="#0606e4"/>
<path d="M435.0 102.62H452.0L455.0 104.97L452.0 107.32H435.0Z" fill="#0606e4"/>
<path d="M484.3 102.62H507.0L510.0 104.97L507.0 107.32H484.3Z" fill="#0606e4"/>
<path d="M532.5 102.62H565.0L568.0 104.97L565.0 107.32H532.5Z" fill="#0606e4"/>
<path d="M291.9 109.82L295.5 112.22L291.9 114.62Z" fill="#000"/>
<path d="M511.7 109.82L515.3 112.22L511.7 114.62Z" fill="#000"/>
<text transform="translate(5.2 129.14) scale(0.86 1)" font-size="8.6" letter-spacing="0.3" fill="#1a1a1a" stroke="#1a1a1a" stroke-width="0.28" font-family="Liberation Sans, sans-serif">5.</text>
<text transform="translate(14.8 129.14) scale(0.86 1)" font-size="8.6" letter-spacing="0.15" fill="#1a1a1a" stroke="#1a1a1a" stroke-width="0.28" font-family="Liberation Sans, sans-serif">GsNIP2;2</text>
<text transform="translate(19 144.14) scale(0.86 1)" font-size="8.6" letter-spacing="0.75" fill="#1a1a1a" stroke="#1a1a1a" stroke-width="0.28" font-family="Liberation Sans, sans-serif">Motifs</text>
<rect x="140.3" y="125.19" width="468.6" height="1.3" fill="#3c3c3c"/>
<rect x="140.7" y="123.39" width="23.2" height="5.00" rx="0.5" fill="url(#p5)" stroke="#2a2418" stroke-width="0.9"/>
<rect x="178.1" y="123.39" width="24.2" height="5.00" rx="0.5" fill="url(#p5)" stroke="#2a2418" stroke-width="0.9"/>
<rect x="221.4" y="123.39" width="21.5" height="5.00" rx="0.5" fill="url(#p5)" stroke="#2a2418" stroke-width="0.9"/>
<rect x="244.7" y="123.39" width="5.9" height="5.00" rx="0.5" fill="url(#p5)" stroke="#2a2418" stroke-width="0.9"/>
<rect x="260.4" y="123.39" width="12.5" height="5.00" rx="0.5" fill="url(#p5)" stroke="#2a2418" stroke-width="0.9"/>
<rect x="277.1" y="123.39" width="23.5" height="5.00" rx="0.5" fill="url(#p5)" stroke="#2a2418" stroke-width="0.9"/>
<rect x="302.1" y="123.39" width="5.2" height="5.00" rx="0.5" fill="url(#p5)" stroke="#2a2418" stroke-width="0.9"/>
<rect x="311.1" y="123.39" width="11.2" height="5.00" rx="0.5" fill="url(#p5)" stroke="#2a2418" stroke-width="0.9"/>
<rect x="376.1" y="123.39" width="19.2" height="5.00" rx="0.5" fill="url(#p5)" stroke="#2a2418" stroke-width="0.9"/>
<rect x="421.1" y="123.39" width="1.2" height="5.00" rx="0.5" fill="url(#p5)" stroke="#2a2418" stroke-width="0.9"/>
<rect x="430.4" y="123.39" width="32.5" height="5.00" rx="0.5" fill="url(#p5)" stroke="#2a2418" stroke-width="0.9"/>
<rect x="480.4" y="123.39" width="9.2" height="5.00" rx="0.5" fill="url(#p5)" stroke="#2a2418" stroke-width="0.9"/>
<rect x="492.7" y="123.39" width="10.2" height="5.00" rx="0.5" fill="url(#p5)" stroke="#2a2418" stroke-width="0.9"/>
<rect x="506.1" y="123.39" width="20.2" height="5.00" rx="0.5" fill="url(#p5)" stroke="#2a2418" stroke-width="0.9"/>
<rect x="529.4" y="123.39" width="16.2" height="5.00" rx="0.5" fill="url(#p5)" stroke="#2a2418" stroke-width="0.9"/>
<rect x="561.4" y="123.39" width="8.2" height="5.00" rx="0.5" fill="url(#p5)" stroke="#2a2418" stroke-width="0.9"/>
<rect x="572.6" y="123.39" width="4.0" height="5.00" rx="0.5" fill="url(#p5)" stroke="#2a2418" stroke-width="0.9"/>
<rect x="579.4" y="123.39" width="29.1" height="5.00" rx="0.5" fill="url(#p5)" stroke="#2a2418" stroke-width="0.9"/>
<path d="M223.3 129.94H242.0L245.0 132.29L242.0 134.64H223.3Z" fill="#0606e4"/>
<path d="M264.3 129.94H284.7L287.7 132.29L284.7 134.64H264.3Z" fill="#0606e4"/>
<path d="M311.0 129.94H381.3L384.3 132.29L381.3 134.64H311.0Z" fill="#0606e4"/>
<path d="M437.7 129.94H453.7L456.7 132.29L453.7 134.64H437.7Z" fill="#0606e4"/>
<path d="M482.7 129.94H505.3L508.3 132.29L505.3 134.64H482.7Z" fill="#0606e4"/>
<path d="M531.8 129.94H563.7L566.7 132.29L563.7 134.64H531.8Z" fill="#0606e4"/>
<path d="M291.9 137.14L295.5 139.54L291.9 141.94Z" fill="#000"/>
<path d="M511.7 137.14L515.3 139.54L511.7 141.94Z" fill="#000"/>
<text transform="translate(5.2 156.46) scale(0.86 1)" font-size="8.6" letter-spacing="0.3" fill="#1a1a1a" stroke="#1a1a1a" stroke-width="0.28" font-family="Liberation Sans, sans-serif">6.</text>
<text transform="translate(14.8 156.46) scale(0.86 1)" font-size="8.6" letter-spacing="0.15" fill="#1a1a1a" stroke="#1a1a1a" stroke-width="0.28" font-family="Liberation Sans, sans-serif">GsNIP2;1</text>
<text transform="translate(19 171.46) scale(0.86 1)" font-size="8.6" letter-spacing="0.75" fill="#1a1a1a" stroke="#1a1a1a" stroke-width="0.28" font-family="Liberation Sans, sans-serif">Motifs</text>
<rect x="147.7" y="152.51" width="461.2" height="1.3" fill="#3c3c3c"/>
<rect x="148.1" y="150.71" width="23.8" height="5.00" rx="0.5" fill="url(#p3)" stroke="#2a2418" stroke-width="0.9"/>
<rect x="178.1" y="150.71" width="16.5" height="5.00" rx="0.5" fill="url(#p3)" stroke="#2a2418" stroke-width="0.9"/>
<rect x="198.1" y="150.71" width="4.2" height="5.00" rx="0.5" fill="url(#p3)" stroke="#2a2418" stroke-width="0.9"/>
<rect x="221.4" y="150.71" width="21.5" height="5.00" rx="0.5" fill="url(#p3)" stroke="#2a2418" stroke-width="0.9"/>
<rect x="244.7" y="150.71" width="5.9" height="5.00" rx="0.5" fill="url(#p3)" stroke="#2a2418" stroke-width="0.9"/>
<rect x="260.4" y="150.71" width="12.5" height="5.00" rx="0.5" fill="url(#p3)" stroke="#2a2418" stroke-width="0.9"/>
<rect x="277.1" y="150.71" width="24.2" height="5.00" rx="0.5" fill="url(#p3)" stroke="#2a2418" stroke-width="0.9"/>
<rect x="302.1" y="150.71" width="5.2" height="5.00" rx="0.5" fill="url(#p3)" stroke="#2a2418" stroke-width="0.9"/>
<rect x="311.1" y="150.71" width="11.2" height="5.00" rx="0.5" fill="url(#p3)" stroke="#2a2418" stroke-width="0.9"/>
<rect x="376.1" y="150.71" width="19.2" height="5.00" rx="0.5" fill="url(#p3)" stroke="#2a2418" stroke-width="0.9"/>
<rect x="421.1" y="150.71" width="1.2" height="5.00" rx="0.5" fill="url(#p3)" stroke="#2a2418" stroke-width="0.9"/>
<rect x="430.4" y="150.71" width="32.5" height="5.00" rx="0.5" fill="url(#p3)" stroke="#2a2418" stroke-width="0.9"/>
<rect x="480.4" y="150.71" width="9.2" height="5.00" rx="0.5" fill="url(#p3)" stroke="#2a2418" stroke-width="0.9"/>
<rect x="492.7" y="150.71" width="10.2" height="5.00" rx="0.5" fill="url(#p3)" stroke="#2a2418" stroke-width="0.9"/>
<rect x="506.1" y="150.71" width="20.2" height="5.00" rx="0.5" fill="url(#p3)" stroke="#2a2418" stroke-width="0.9"/>
<rect x="529.4" y="150.71" width="16.2" height="5.00" rx="0.5" fill="url(#p3)" stroke="#2a2418" stroke-width="0.9"/>
<rect x="561.4" y="150.71" width="8.2" height="5.00" rx="0.5" fill="url(#p3)" stroke="#2a2418" stroke-width="0.9"/>
<rect x="572.6" y="150.71" width="4.0" height="5.00" rx="0.5" fill="url(#p3)" stroke="#2a2418" stroke-width="0.9"/>
<rect x="579.4" y="150.71" width="29.1" height="5.00" rx="0.5" fill="url(#p3)" stroke="#2a2418" stroke-width="0.9"/>
<path d="M223.3 157.26H242.0L245.0 159.61L242.0 161.96H223.3Z" fill="#0606e4"/>
<path d="M265.0 157.26H285.3L288.3 159.61L285.3 161.96H265.0Z" fill="#0606e4"/>
<path d="M311.0 157.26H381.3L384.3 159.61L381.3 161.96H311.0Z" fill="#0606e4"/>
<path d="M437.7 157.26H453.7L456.7 159.61L453.7 161.96H437.7Z" fill="#0606e4"/>
<path d="M482.7 157.26H505.3L508.3 159.61L505.3 161.96H482.7Z" fill="#0606e4"/>
<path d="M531.8 157.26H563.7L566.7 159.61L563.7 161.96H531.8Z" fill="#0606e4"/>
<path d="M291.9 164.46L295.5 166.86L291.9 169.26Z" fill="#000"/>
<path d="M511.7 164.46L515.3 166.86L511.7 169.26Z" fill="#000"/>
<text transform="translate(5.2 183.78) scale(0.86 1)" font-size="8.6" letter-spacing="0.3" fill="#1a1a1a" stroke="#1a1a1a" stroke-width="0.28" font-family="Liberation Sans, sans-serif">7.</text>
<text transform="translate(14.8 183.78) scale(0.86 1)" font-size="8.6" letter-spacing="0.15" fill="#1a1a1a" stroke="#1a1a1a" stroke-width="0.28" font-family="Liberation Sans, sans-serif">GsNIP5;1</text>
<rect x="147.7" y="179.83" width="441.3" height="1.3" fill="#3c3c3c"/>
<rect x="148.1" y="178.03" width="14.2" height="5.00" rx="0.5" fill="url(#p4)" stroke="#2a2418" stroke-width="0.9"/>
<rect x="178.1" y="178.03" width="13.2" height="5.00" rx="0.5" fill="url(#p4)" stroke="#2a2418" stroke-width="0.9"/>
<rect x="221.4" y="178.03" width="29.2" height="5.00" rx="0.5" fill="url(#p4)" stroke="#2a2418" stroke-width="0.9"/>
<rect x="261.1" y="178.03" width="11.8" height="5.00" rx="0.5" fill="url(#p4)" stroke="#2a2418" stroke-width="0.9"/>
<rect x="277.1" y="178.03" width="23.5" height="5.00" rx="0.5" fill="url(#p4)" stroke="#2a2418" stroke-width="0.9"/>
<rect x="302.1" y="178.03" width="5.2" height="5.00" rx="0.5" fill="url(#p4)" stroke="#2a2418" stroke-width="0.9"/>
<rect x="310.4" y="178.03" width="11.9" height="5.00" rx="0.5" fill="url(#p4)" stroke="#2a2418" stroke-width="0.9"/>
<rect x="376.1" y="178.03" width="16.8" height="5.00" rx="0.5" fill="url(#p4)" stroke="#2a2418" stroke-width="0.9"/>
<rect x="421.1" y="178.03" width="2.8" height="5.00" rx="0.5" fill="url(#p4)" stroke="#2a2418" stroke-width="0.9"/>
<rect x="430.4" y="178.03" width="32.5" height="5.00" rx="0.5" fill="url(#p4)" stroke="#2a2418" stroke-width="0.9"/>
<rect x="480.4" y="178.03" width="9.2" height="5.00" rx="0.5" fill="url(#p4)" stroke="#2a2418" stroke-width="0.9"/>
<rect x="492.7" y="178.03" width="10.2" height="5.00" rx="0.5" fill="url(#p4)" stroke="#2a2418" stroke-width="0.9"/>
<rect x="506.1" y="178.03" width="20.2" height="5.00" rx="0.5" fill="url(#p4)" stroke="#2a2418" stroke-width="0.9"/>
<rect x="529.4" y="178.03" width="16.2" height="5.00" rx="0.5" fill="url(#p4)" stroke="#2a2418" stroke-width="0.9"/>
<rect x="561.4" y="178.03" width="8.2" height="5.00" rx="0.5" fill="url(#p4)" stroke="#2a2418" stroke-width="0.9"/>
<rect x="572.6" y="178.03" width="16.0" height="5.00" rx="0.5" fill="url(#p4)" stroke="#2a2418" stroke-width="0.9"/>
<path d="M223.3 184.58H241.3L244.3 186.93L241.3 189.28H223.3Z" fill="#0606e4"/>
<path d="M267.3 184.58H287.0L290.0 186.93L287.0 189.28H267.3Z" fill="#0606e4"/>
<path d="M313.3 184.58H384.3L387.3 186.93L384.3 189.28H313.3Z" fill="#0606e4"/>
<path d="M434.0 184.58H449.7L452.7 186.93L449.7 189.28H434.0Z" fill="#0606e4"/>
<path d="M482.7 184.58H505.3L508.3 186.93L505.3 189.28H482.7Z" fill="#0606e4"/>
<path d="M531.8 184.58H563.7L566.7 186.93L563.7 189.28H531.8Z" fill="#0606e4"/>
<text transform="translate(5.2 199.60) scale(0.86 1)" font-size="8.6" letter-spacing="0.3" fill="#1a1a1a" stroke="#1a1a1a" stroke-width="0.28" font-family="Liberation Sans, sans-serif">8.</text>
<text transform="translate(14.8 199.60) scale(0.86 1)" font-size="8.6" letter-spacing="0.15" fill="#1a1a1a" stroke="#1a1a1a" stroke-width="0.28" font-family="Liberation Sans, sans-serif">GsNIP6;2</text>
<text transform="translate(19 214.60) scale(0.86 1)" font-size="8.6" letter-spacing="0.75" fill="#1a1a1a" stroke="#1a1a1a" stroke-width="0.28" font-family="Liberation Sans, sans-serif">Motifs</text>
<rect x="140.3" y="195.65" width="451.0" height="1.3" fill="#3c3c3c"/>
<rect x="140.7" y="193.85" width="25.6" height="5.00" rx="0.5" fill="url(#p5)" stroke="#2a2418" stroke-width="0.9"/>
<rect x="178.1" y="193.85" width="72.5" height="5.00" rx="0.5" fill="url(#p5)" stroke="#2a2418" stroke-width="0.9"/>
<rect x="261.1" y="193.85" width="11.8" height="5.00" rx="0.5" fill="url(#p5)" stroke="#2a2418" stroke-width="0.9"/>
<rect x="277.1" y="193.85" width="23.5" height="5.00" rx="0.5" fill="url(#p5)" stroke="#2a2418" stroke-width="0.9"/>
<rect x="302.1" y="193.85" width="5.2" height="5.00" rx="0.5" fill="url(#p5)" stroke="#2a2418" stroke-width="0.9"/>
<rect x="310.4" y="193.85" width="11.9" height="5.00" rx="0.5" fill="url(#p5)" stroke="#2a2418" stroke-width="0.9"/>
<rect x="376.1" y="193.85" width="16.8" height="5.00" rx="0.5" fill="url(#p5)" stroke="#2a2418" stroke-width="0.9"/>
<rect x="421.1" y="193.85" width="2.8" height="5.00" rx="0.5" fill="url(#p5)" stroke="#2a2418" stroke-width="0.9"/>
<rect x="430.4" y="193.85" width="32.5" height="5.00" rx="0.5" fill="url(#p5)" stroke="#2a2418" stroke-width="0.9"/>
<rect x="480.4" y="193.85" width="9.2" height="5.00" rx="0.5" fill="url(#p5)" stroke="#2a2418" stroke-width="0.9"/>
<rect x="492.7" y="193.85" width="10.2" height="5.00" rx="0.5" fill="url(#p5)" stroke="#2a2418" stroke-width="0.9"/>
<rect x="506.1" y="193.85" width="20.2" height="5.00" rx="0.5" fill="url(#p5)" stroke="#2a2418" stroke-width="0.9"/>
<rect x="529.4" y="193.85" width="16.2" height="5.00" rx="0.5" fill="url(#p5)" stroke="#2a2418" stroke-width="0.9"/>
<rect x="561.4" y="193.85" width="8.2" height="5.00" rx="0.5" fill="url(#p5)" stroke="#2a2418" stroke-width="0.9"/>
<rect x="572.6" y="193.85" width="2.2" height="5.00" rx="0.5" fill="url(#p5)" stroke="#2a2418" stroke-width="0.9"/>
<rect x="578.2" y="193.85" width="12.7" height="5.00" rx="0.5" fill="url(#p5)" stroke="#2a2418" stroke-width="0.9"/>
<path d="M223.3 200.40H241.3L244.3 202.75L241.3 205.10H223.3Z" fill="#0606e4"/>
<path d="M262.7 200.40H282.0L285.0 202.75L282.0 205.10H262.7Z" fill="#0606e4"/>
<path d="M316.7 200.40H386.3L389.3 202.75L386.3 205.10H316.7Z" fill="#0606e4"/>
<path d="M438.3 200.40H454.7L457.7 202.75L454.7 205.10H438.3Z" fill="#0606e4"/>
<path d="M484.3 200.40H505.3L508.3 202.75L505.3 205.10H484.3Z" fill="#0606e4"/>
<path d="M531.8 200.40H565.0L568.0 202.75L565.0 205.10H531.8Z" fill="#0606e4"/>
<path d="M291.9 207.60L295.5 210.00L291.9 212.40Z" fill="#000"/>
<text transform="translate(5.2 226.92) scale(0.86 1)" font-size="8.6" letter-spacing="0.3" fill="#1a1a1a" stroke="#1a1a1a" stroke-width="0.28" font-family="Liberation Sans, sans-serif">9.</text>
<text transform="translate(14.8 226.92) scale(0.86 1)" font-size="8.6" letter-spacing="0.15" fill="#1a1a1a" stroke="#1a1a1a" stroke-width="0.28" font-family="Liberation Sans, sans-serif">GsNIP6;1</text>
<text transform="translate(19 241.92) scale(0.86 1)" font-size="8.6" letter-spacing="0.75" fill="#1a1a1a" stroke="#1a1a1a" stroke-width="0.28" font-family="Liberation Sans, sans-serif">Motifs</text>
<rect x="147.7" y="222.97" width="443.6" height="1.3" fill="#3c3c3c"/>
<rect x="148.1" y="221.17" width="102.5" height="5.00" rx="0.5" fill="url(#p3)" stroke="#2a2418" stroke-width="0.9"/>
<rect x="261.1" y="221.17" width="11.8" height="5.00" rx="0.5" fill="url(#p3)" stroke="#2a2418" stroke-width="0.9"/>
<rect x="277.1" y="221.17" width="23.5" height="5.00" rx="0.5" fill="url(#p3)" stroke="#2a2418" stroke-width="0.9"/>
<rect x="302.1" y="221.17" width="5.2" height="5.00" rx="0.5" fill="url(#p3)" stroke="#2a2418" stroke-width="0.9"/>
<rect x="311.1" y="221.17" width="11.2" height="5.00" rx="0.5" fill="url(#p3)" stroke="#2a2418" stroke-width="0.9"/>
<rect x="376.1" y="221.17" width="16.8" height="5.00" rx="0.5" fill="url(#p3)" stroke="#2a2418" stroke-width="0.9"/>
<rect x="421.1" y="221.17" width="2.8" height="5.00" rx="0.5" fill="url(#p3)" stroke="#2a2418" stroke-width="0.9"/>
<rect x="430.4" y="221.17" width="59.2" height="5.00" rx="0.5" fill="url(#p3)" stroke="#2a2418" stroke-width="0.9"/>
<rect x="492.7" y="221.17" width="10.2" height="5.00" rx="0.5" fill="url(#p3)" stroke="#2a2418" stroke-width="0.9"/>
<rect x="506.1" y="221.17" width="20.2" height="5.00" rx="0.5" fill="url(#p3)" stroke="#2a2418" stroke-width="0.9"/>
<rect x="529.4" y="221.17" width="16.2" height="5.00" rx="0.5" fill="url(#p3)" stroke="#2a2418" stroke-width="0.9"/>
<rect x="561.4" y="221.17" width="8.2" height="5.00" rx="0.5" fill="url(#p3)" stroke="#2a2418" stroke-width="0.9"/>
<rect x="572.6" y="221.17" width="18.3" height="5.00" rx="0.5" fill="url(#p3)" stroke="#2a2418" stroke-width="0.9"/>
<path d="M223.3 227.72H241.3L244.3 230.07L241.3 232.42H223.3Z" fill="#0606e4"/>
<path d="M262.7 227.72H282.0L285.0 230.07L282.0 232.42H262.7Z" fill="#0606e4"/>
<path d="M438.3 227.72H454.7L457.7 230.07L454.7 232.42H438.3Z" fill="#0606e4"/>
<path d="M479.0 227.72H498.7L501.7 230.07L498.7 232.42H479.0Z" fill="#0606e4"/>
<path d="M532.5 227.72H565.0L568.0 230.07L565.0 232.42H532.5Z" fill="#0606e4"/>
<path d="M291.9 234.92L295.5 237.32L291.9 239.72Z" fill="#000"/>
<text transform="translate(5.2 254.24) scale(0.86 1)" font-size="8.6" letter-spacing="0.3" fill="#1a1a1a" stroke="#1a1a1a" stroke-width="0.28" font-family="Liberation Sans, sans-serif">10.</text>
<text transform="translate(19.6 254.24) scale(0.86 1)" font-size="8.6" letter-spacing="0.15" fill="#1a1a1a" stroke="#1a1a1a" stroke-width="0.28" font-family="Liberation Sans, sans-serif">GsNIP1;4</text>
<text transform="translate(19 269.24) scale(0.86 1)" font-size="8.6" letter-spacing="0.75" fill="#1a1a1a" stroke="#1a1a1a" stroke-width="0.28" font-family="Liberation Sans, sans-serif">Motifs</text>
<rect x="148.3" y="250.29" width="445.0" height="1.3" fill="#3c3c3c"/>
<rect x="148.7" y="248.49" width="15.9" height="5.00" rx="0.5" fill="url(#p4)" stroke="#2a2418" stroke-width="0.9"/>
<rect x="178.1" y="248.49" width="16.5" height="5.00" rx="0.5" fill="url(#p4)" stroke="#2a2418" stroke-width="0.9"/>
<rect x="198.1" y="248.49" width="4.2" height="5.00" rx="0.5" fill="url(#p4)" stroke="#2a2418" stroke-width="0.9"/>
<rect x="221.4" y="248.49" width="29.2" height="5.00" rx="0.5" fill="url(#p4)" stroke="#2a2418" stroke-width="0.9"/>
<rect x="261.1" y="248.49" width="11.8" height="5.00" rx="0.5" fill="url(#p4)" stroke="#2a2418" stroke-width="0.9"/>
<rect x="277.1" y="248.49" width="23.5" height="5.00" rx="0.5" fill="url(#p4)" stroke="#2a2418" stroke-width="0.9"/>
<rect x="302.1" y="248.49" width="5.2" height="5.00" rx="0.5" fill="url(#p4)" stroke="#2a2418" stroke-width="0.9"/>
<rect x="311.1" y="248.49" width="11.2" height="5.00" rx="0.5" fill="url(#p4)" stroke="#2a2418" stroke-width="0.9"/>
<rect x="376.1" y="248.49" width="20.2" height="5.00" rx="0.5" fill="url(#p4)" stroke="#2a2418" stroke-width="0.9"/>
<rect x="421.1" y="248.49" width="1.2" height="5.00" rx="0.5" fill="url(#p4)" stroke="#2a2418" stroke-width="0.9"/>
<rect x="430.4" y="248.49" width="32.5" height="5.00" rx="0.5" fill="url(#p4)" stroke="#2a2418" stroke-width="0.9"/>
<rect x="480.4" y="248.49" width="9.2" height="5.00" rx="0.5" fill="url(#p4)" stroke="#2a2418" stroke-width="0.9"/>
<rect x="492.7" y="248.49" width="10.2" height="5.00" rx="0.5" fill="url(#p4)" stroke="#2a2418" stroke-width="0.9"/>
<rect x="506.1" y="248.49" width="20.2" height="5.00" rx="0.5" fill="url(#p4)" stroke="#2a2418" stroke-width="0.9"/>
<rect x="529.4" y="248.49" width="16.2" height="5.00" rx="0.5" fill="url(#p4)" stroke="#2a2418" stroke-width="0.9"/>
<rect x="561.4" y="248.49" width="8.2" height="5.00" rx="0.5" fill="url(#p4)" stroke="#2a2418" stroke-width="0.9"/>
<rect x="572.6" y="248.49" width="20.3" height="5.00" rx="0.5" fill="url(#p4)" stroke="#2a2418" stroke-width="0.9"/>
<path d="M223.3 255.04H241.3L244.3 257.39L241.3 259.74H223.3Z" fill="#0606e4"/>
<path d="M267.3 255.04H287.0L290.0 257.39L287.0 259.74H267.3Z" fill="#0606e4"/>
<path d="M313.3 255.04H383.7L386.7 257.39L383.7 259.74H313.3Z" fill="#0606e4"/>
<path d="M438.3 255.04H454.7L457.7 257.39L454.7 259.74H438.3Z" fill="#0606e4"/>
<path d="M483.3 255.04H507.0L510.0 257.39L507.0 259.74H483.3Z" fill="#0606e4"/>
<path d="M532.5 255.04H565.0L568.0 257.39L565.0 259.74H532.5Z" fill="#0606e4"/>
<path d="M291.9 262.24L295.5 264.64L291.9 267.04Z" fill="#000"/>
<path d="M511.7 262.24L515.3 264.64L511.7 267.04Z" fill="#000"/>
<text transform="translate(5.2 281.56) scale(0.86 1)" font-size="8.6" letter-spacing="0.3" fill="#1a1a1a" stroke="#1a1a1a" stroke-width="0.28" font-family="Liberation Sans, sans-serif">11.</text>
<text transform="translate(19.6 281.56) scale(0.86 1)" font-size="8.6" letter-spacing="0.15" fill="#1a1a1a" stroke="#1a1a1a" stroke-width="0.28" font-family="Liberation Sans, sans-serif">GsNIP1;3</text>
<text transform="translate(19 296.56) scale(0.86 1)" font-size="8.6" letter-spacing="0.75" fill="#1a1a1a" stroke="#1a1a1a" stroke-width="0.28" font-family="Liberation Sans, sans-serif">Motifs</text>
<rect x="148.3" y="277.61" width="445.0" height="1.3" fill="#3c3c3c"/>
<rect x="148.7" y="275.81" width="15.9" height="5.00" rx="0.5" fill="url(#p5)" stroke="#2a2418" stroke-width="0.9"/>
<rect x="178.1" y="275.81" width="16.5" height="5.00" rx="0.5" fill="url(#p5)" stroke="#2a2418" stroke-width="0.9"/>
<rect x="198.1" y="275.81" width="4.2" height="5.00" rx="0.5" fill="url(#p5)" stroke="#2a2418" stroke-width="0.9"/>
<rect x="221.4" y="275.81" width="29.2" height="5.00" rx="0.5" fill="url(#p5)" stroke="#2a2418" stroke-width="0.9"/>
<rect x="261.1" y="275.81" width="11.8" height="5.00" rx="0.5" fill="url(#p5)" stroke="#2a2418" stroke-width="0.9"/>
<rect x="277.1" y="275.81" width="23.5" height="5.00" rx="0.5" fill="url(#p5)" stroke="#2a2418" stroke-width="0.9"/>
<rect x="302.1" y="275.81" width="5.2" height="5.00" rx="0.5" fill="url(#p5)" stroke="#2a2418" stroke-width="0.9"/>
<rect x="311.1" y="275.81" width="11.2" height="5.00" rx="0.5" fill="url(#p5)" stroke="#2a2418" stroke-width="0.9"/>
<rect x="376.1" y="275.81" width="20.2" height="5.00" rx="0.5" fill="url(#p5)" stroke="#2a2418" stroke-width="0.9"/>
<rect x="421.1" y="275.81" width="1.2" height="5.00" rx="0.5" fill="url(#p5)" stroke="#2a2418" stroke-width="0.9"/>
<rect x="430.4" y="275.81" width="32.5" height="5.00" rx="0.5" fill="url(#p5)" stroke="#2a2418" stroke-width="0.9"/>
<rect x="480.4" y="275.81" width="9.2" height="5.00" rx="0.5" fill="url(#p5)" stroke="#2a2418" stroke-width="0.9"/>
<rect x="492.7" y="275.81" width="10.2" height="5.00" rx="0.5" fill="url(#p5)" stroke="#2a2418" stroke-width="0.9"/>
<rect x="506.1" y="275.81" width="20.2" height="5.00" rx="0.5" fill="url(#p5)" stroke="#2a2418" stroke-width="0.9"/>
<rect x="529.4" y="275.81" width="16.2" height="5.00" rx="0.5" fill="url(#p5)" stroke="#2a2418" stroke-width="0.9"/>
<rect x="561.4" y="275.81" width="8.2" height="5.00" rx="0.5" fill="url(#p5)" stroke="#2a2418" stroke-width="0.9"/>
<rect x="572.6" y="275.81" width="20.3" height="5.00" rx="0.5" fill="url(#p5)" stroke="#2a2418" stroke-width="0.9"/>
<path d="M223.3 282.36H241.3L244.3 284.71L241.3 287.06H223.3Z" fill="#0606e4"/>
<path d="M267.3 282.36H287.0L290.0 284.71L287.0 287.06H267.3Z" fill="#0606e4"/>
<path d="M313.3 282.36H383.7L386.7 284.71L383.7 287.06H313.3Z" fill="#0606e4"/>
<path d="M438.3 282.36H454.7L457.7 284.71L454.7 287.06H438.3Z" fill="#0606e4"/>
<path d="M483.3 282.36H507.0L510.0 284.71L507.0 287.06H483.3Z" fill="#0606e4"/>
<path d="M532.5 282.36H565.0L568.0 284.71L565.0 287.06H532.5Z" fill="#0606e4"/>
<path d="M291.9 289.56L295.5 291.96L291.9 294.36Z" fill="#000"/>
<path d="M511.7 289.56L515.3 291.96L511.7 294.36Z" fill="#000"/>
<text transform="translate(5.2 308.88) scale(0.86 1)" font-size="8.6" letter-spacing="0.3" fill="#1a1a1a" stroke="#1a1a1a" stroke-width="0.28" font-family="Liberation Sans, sans-serif">12.</text>
<text transform="translate(19.6 308.88) scale(0.86 1)" font-size="8.6" letter-spacing="0.15" fill="#1a1a1a" stroke="#1a1a1a" stroke-width="0.28" font-family="Liberation Sans, sans-serif">GsNIP1;1</text>
<text transform="translate(19 323.88) scale(0.86 1)" font-size="8.6" letter-spacing="0.75" fill="#1a1a1a" stroke="#1a1a1a" stroke-width="0.28" font-family="Liberation Sans, sans-serif">Motifs</text>
<rect x="151.0" y="304.93" width="442.3" height="1.3" fill="#3c3c3c"/>
<rect x="151.4" y="303.13" width="12.5" height="5.00" rx="0.5" fill="url(#p3)" stroke="#2a2418" stroke-width="0.9"/>
<rect x="178.1" y="303.13" width="16.5" height="5.00" rx="0.5" fill="url(#p3)" stroke="#2a2418" stroke-width="0.9"/>
<rect x="198.1" y="303.13" width="4.2" height="5.00" rx="0.5" fill="url(#p3)" stroke="#2a2418" stroke-width="0.9"/>
<rect x="221.4" y="303.13" width="29.2" height="5.00" rx="0.5" fill="url(#p3)" stroke="#2a2418" stroke-width="0.9"/>
<rect x="261.1" y="303.13" width="11.8" height="5.00" rx="0.5" fill="url(#p3)" stroke="#2a2418" stroke-width="0.9"/>
<rect x="277.1" y="303.13" width="23.5" height="5.00" rx="0.5" fill="url(#p3)" stroke="#2a2418" stroke-width="0.9"/>
<rect x="302.1" y="303.13" width="5.2" height="5.00" rx="0.5" fill="url(#p3)" stroke="#2a2418" stroke-width="0.9"/>
<rect x="311.1" y="303.13" width="11.2" height="5.00" rx="0.5" fill="url(#p3)" stroke="#2a2418" stroke-width="0.9"/>
<rect x="376.1" y="303.13" width="20.2" height="5.00" rx="0.5" fill="url(#p3)" stroke="#2a2418" stroke-width="0.9"/>
<rect x="421.1" y="303.13" width="1.2" height="5.00" rx="0.5" fill="url(#p3)" stroke="#2a2418" stroke-width="0.9"/>
<rect x="430.4" y="303.13" width="32.5" height="5.00" rx="0.5" fill="url(#p3)" stroke="#2a2418" stroke-width="0.9"/>
<rect x="480.4" y="303.13" width="9.2" height="5.00" rx="0.5" fill="url(#p3)" stroke="#2a2418" stroke-width="0.9"/>
<rect x="492.7" y="303.13" width="10.2" height="5.00" rx="0.5" fill="url(#p3)" stroke="#2a2418" stroke-width="0.9"/>
<rect x="506.1" y="303.13" width="20.2" height="5.00" rx="0.5" fill="url(#p3)" stroke="#2a2418" stroke-width="0.9"/>
<rect x="529.4" y="303.13" width="16.2" height="5.00" rx="0.5" fill="url(#p3)" stroke="#2a2418" stroke-width="0.9"/>
<rect x="561.4" y="303.13" width="8.2" height="5.00" rx="0.5" fill="url(#p3)" stroke="#2a2418" stroke-width="0.9"/>
<rect x="572.6" y="303.13" width="20.3" height="5.00" rx="0.5" fill="url(#p3)" stroke="#2a2418" stroke-width="0.9"/>
<path d="M198.3 309.68H233.7L236.7 312.03L233.7 314.38H198.3Z" fill="#0606e4"/>
<path d="M267.3 309.68H287.0L290.0 312.03L287.0 314.38H267.3Z" fill="#0606e4"/>
<path d="M313.3 309.68H383.7L386.7 312.03L383.7 314.38H313.3Z" fill="#0606e4"/>
<path d="M438.3 309.68H454.7L457.7 312.03L454.7 314.38H438.3Z" fill="#0606e4"/>
<path d="M482.7 309.68H505.3L508.3 312.03L505.3 314.38H482.7Z" fill="#0606e4"/>
<path d="M530.6 309.68H563.1L566.1 312.03L563.1 314.38H530.6Z" fill="#0606e4"/>
<path d="M291.9 316.88L295.5 319.28L291.9 321.68Z" fill="#000"/>
<path d="M511.7 316.88L515.3 319.28L511.7 321.68Z" fill="#000"/>
<text transform="translate(5.2 336.20) scale(0.86 1)" font-size="8.6" letter-spacing="0.3" fill="#1a1a1a" stroke="#1a1a1a" stroke-width="0.28" font-family="Liberation Sans, sans-serif">13.</text>
<text transform="translate(19.6 336.20) scale(0.86 1)" font-size="8.6" letter-spacing="0.15" fill="#1a1a1a" stroke="#1a1a1a" stroke-width="0.28" font-family="Liberation Sans, sans-serif">GsNIP1;2</text>
<text transform="translate(19 351.20) scale(0.86 1)" font-size="8.6" letter-spacing="0.75" fill="#1a1a1a" stroke="#1a1a1a" stroke-width="0.28" font-family="Liberation Sans, sans-serif">Motifs</text>
<rect x="151.0" y="332.25" width="447.0" height="1.3" fill="#3c3c3c"/>
<rect x="151.4" y="330.45" width="12.5" height="5.00" rx="0.5" fill="url(#p4)" stroke="#2a2418" stroke-width="0.9"/>
<rect x="178.1" y="330.45" width="16.5" height="5.00" rx="0.5" fill="url(#p4)" stroke="#2a2418" stroke-width="0.9"/>
<rect x="198.1" y="330.45" width="4.2" height="5.00" rx="0.5" fill="url(#p4)" stroke="#2a2418" stroke-width="0.9"/>
<rect x="221.4" y="330.45" width="29.2" height="5.00" rx="0.5" fill="url(#p4)" stroke="#2a2418" stroke-width="0.9"/>
<rect x="261.1" y="330.45" width="11.8" height="5.00" rx="0.5" fill="url(#p4)" stroke="#2a2418" stroke-width="0.9"/>
<rect x="277.1" y="330.45" width="23.5" height="5.00" rx="0.5" fill="url(#p4)" stroke="#2a2418" stroke-width="0.9"/>
<rect x="302.1" y="330.45" width="5.2" height="5.00" rx="0.5" fill="url(#p4)" stroke="#2a2418" stroke-width="0.9"/>
<rect x="311.1" y="330.45" width="11.2" height="5.00" rx="0.5" fill="url(#p4)" stroke="#2a2418" stroke-width="0.9"/>
<rect x="376.1" y="330.45" width="20.2" height="5.00" rx="0.5" fill="url(#p4)" stroke="#2a2418" stroke-width="0.9"/>
<rect x="421.1" y="330.45" width="1.2" height="5.00" rx="0.5" fill="url(#p4)" stroke="#2a2418" stroke-width="0.9"/>
<rect x="430.4" y="330.45" width="32.5" height="5.00" rx="0.5" fill="url(#p4)" stroke="#2a2418" stroke-width="0.9"/>
<rect x="480.4" y="330.45" width="9.2" height="5.00" rx="0.5" fill="url(#p4)" stroke="#2a2418" stroke-width="0.9"/>
<rect x="492.7" y="330.45" width="10.2" height="5.00" rx="0.5" fill="url(#p4)" stroke="#2a2418" stroke-width="0.9"/>
<rect x="506.1" y="330.45" width="20.2" height="5.00" rx="0.5" fill="url(#p4)" stroke="#2a2418" stroke-width="0.9"/>
<rect x="529.4" y="330.45" width="16.2" height="5.00" rx="0.5" fill="url(#p4)" stroke="#2a2418" stroke-width="0.9"/>
<rect x="561.4" y="330.45" width="8.2" height="5.00" rx="0.5" fill="url(#p4)" stroke="#2a2418" stroke-width="0.9"/>
<rect x="572.6" y="330.45" width="25.0" height="5.00" rx="0.5" fill="url(#p4)" stroke="#2a2418" stroke-width="0.9"/>
<path d="M223.3 337.00H241.3L244.3 339.35L241.3 341.70H223.3Z" fill="#0606e4"/>
<path d="M267.3 337.00H287.0L290.0 339.35L287.0 341.70H267.3Z" fill="#0606e4"/>
<path d="M313.3 337.00H383.7L386.7 339.35L383.7 341.70H313.3Z" fill="#0606e4"/>
<path d="M438.3 337.00H454.7L457.7 339.35L454.7 341.70H438.3Z" fill="#0606e4"/>
<path d="M482.7 337.00H505.3L508.3 339.35L505.3 341.70H482.7Z" fill="#0606e4"/>
<path d="M530.6 337.00H563.1L566.1 339.35L563.1 341.70H530.6Z" fill="#0606e4"/>
<path d="M291.9 344.20L295.5 346.60L291.9 349.00Z" fill="#000"/>
<path d="M511.7 344.20L515.3 346.60L511.7 349.00Z" fill="#000"/>
<text transform="translate(5.2 363.52) scale(0.86 1)" font-size="8.6" letter-spacing="0.3" fill="#1a1a1a" stroke="#1a1a1a" stroke-width="0.28" font-family="Liberation Sans, sans-serif">14.</text>
<text transform="translate(19.6 363.52) scale(0.86 1)" font-size="8.6" letter-spacing="0.15" fill="#1a1a1a" stroke="#1a1a1a" stroke-width="0.28" font-family="Liberation Sans, sans-serif">GsNIP1;5</text>
<text transform="translate(19 378.52) scale(0.86 1)" font-size="8.6" letter-spacing="0.75" fill="#1a1a1a" stroke="#1a1a1a" stroke-width="0.28" font-family="Liberation Sans, sans-serif">Motifs</text>
<rect x="152.3" y="359.57" width="442.3" height="1.3" fill="#3c3c3c"/>
<rect x="152.7" y="357.77" width="11.9" height="5.00" rx="0.5" fill="url(#p5)" stroke="#2a2418" stroke-width="0.9"/>
<rect x="178.1" y="357.77" width="16.5" height="5.00" rx="0.5" fill="url(#p5)" stroke="#2a2418" stroke-width="0.9"/>
<rect x="198.1" y="357.77" width="4.2" height="5.00" rx="0.5" fill="url(#p5)" stroke="#2a2418" stroke-width="0.9"/>
<rect x="221.4" y="357.77" width="29.2" height="5.00" rx="0.5" fill="url(#p5)" stroke="#2a2418" stroke-width="0.9"/>
<rect x="261.1" y="357.77" width="11.8" height="5.00" rx="0.5" fill="url(#p5)" stroke="#2a2418" stroke-width="0.9"/>
<rect x="277.1" y="357.77" width="23.5" height="5.00" rx="0.5" fill="url(#p5)" stroke="#2a2418" stroke-width="0.9"/>
<rect x="302.1" y="357.77" width="5.2" height="5.00" rx="0.5" fill="url(#p5)" stroke="#2a2418" stroke-width="0.9"/>
<rect x="311.1" y="357.77" width="11.2" height="5.00" rx="0.5" fill="url(#p5)" stroke="#2a2418" stroke-width="0.9"/>
<rect x="376.1" y="357.77" width="20.2" height="5.00" rx="0.5" fill="url(#p5)" stroke="#2a2418" stroke-width="0.9"/>
<rect x="421.1" y="357.77" width="3.5" height="5.00" rx="0.5" fill="url(#p5)" stroke="#2a2418" stroke-width="0.9"/>
<rect x="432.1" y="357.77" width="30.8" height="5.00" rx="0.5" fill="url(#p5)" stroke="#2a2418" stroke-width="0.9"/>
<rect x="480.4" y="357.77" width="9.2" height="5.00" rx="0.5" fill="url(#p5)" stroke="#2a2418" stroke-width="0.9"/>
<rect x="492.7" y="357.77" width="10.2" height="5.00" rx="0.5" fill="url(#p5)" stroke="#2a2418" stroke-width="0.9"/>
<rect x="506.1" y="357.77" width="20.2" height="5.00" rx="0.5" fill="url(#p5)" stroke="#2a2418" stroke-width="0.9"/>
<rect x="529.4" y="357.77" width="16.2" height="5.00" rx="0.5" fill="url(#p5)" stroke="#2a2418" stroke-width="0.9"/>
<rect x="561.4" y="357.77" width="8.2" height="5.00" rx="0.5" fill="url(#p5)" stroke="#2a2418" stroke-width="0.9"/>
<rect x="572.6" y="357.77" width="21.6" height="5.00" rx="0.5" fill="url(#p5)" stroke="#2a2418" stroke-width="0.9"/>
<path d="M223.3 364.32H241.3L244.3 366.67L241.3 369.02H223.3Z" fill="#0606e4"/>
<path d="M265.0 364.32H284.7L287.7 366.67L284.7 369.02H265.0Z" fill="#0606e4"/>
<path d="M311.0 364.32H382.0L385.0 366.67L382.0 369.02H311.0Z" fill="#0606e4"/>
<path d="M436.7 364.32H453.7L456.7 366.67L453.7 369.02H436.7Z" fill="#0606e4"/>
<path d="M482.7 364.32H505.3L508.3 366.67L505.3 369.02H482.7Z" fill="#0606e4"/>
<path d="M530.6 364.32H563.1L566.1 366.67L563.1 369.02H530.6Z" fill="#0606e4"/>
<path d="M291.9 371.52L295.5 373.92L291.9 376.32Z" fill="#000"/>
<path d="M511.7 371.52L515.3 373.92L511.7 376.32Z" fill="#000"/>
<text transform="translate(5.2 390.84) scale(0.86 1)" font-size="8.6" letter-spacing="0.3" fill="#1a1a1a" stroke="#1a1a1a" stroke-width="0.28" font-family="Liberation Sans, sans-serif">15.</text>
<text transform="translate(19.6 390.84) scale(0.86 1)" font-size="8.6" letter-spacing="0.15" fill="#1a1a1a" stroke="#1a1a1a" stroke-width="0.28" font-family="Liberation Sans, sans-serif">GsNIP4;1</text>
<text transform="translate(19 405.84) scale(0.86 1)" font-size="8.6" letter-spacing="0.75" fill="#1a1a1a" stroke="#1a1a1a" stroke-width="0.28" font-family="Liberation Sans, sans-serif">Motifs</text>
<rect x="147.7" y="386.89" width="439.7" height="1.3" fill="#3c3c3c"/>
<rect x="148.1" y="385.09" width="15.8" height="5.00" rx="0.5" fill="url(#p3)" stroke="#2a2418" stroke-width="0.9"/>
<rect x="178.1" y="385.09" width="24.2" height="5.00" rx="0.5" fill="url(#p3)" stroke="#2a2418" stroke-width="0.9"/>
<rect x="221.4" y="385.09" width="20.5" height="5.00" rx="0.5" fill="url(#p3)" stroke="#2a2418" stroke-width="0.9"/>
<rect x="243.7" y="385.09" width="6.9" height="5.00" rx="0.5" fill="url(#p3)" stroke="#2a2418" stroke-width="0.9"/>
<rect x="261.1" y="385.09" width="11.8" height="5.00" rx="0.5" fill="url(#p3)" stroke="#2a2418" stroke-width="0.9"/>
<rect x="277.1" y="385.09" width="23.5" height="5.00" rx="0.5" fill="url(#p3)" stroke="#2a2418" stroke-width="0.9"/>
<rect x="302.1" y="385.09" width="5.2" height="5.00" rx="0.5" fill="url(#p3)" stroke="#2a2418" stroke-width="0.9"/>
<rect x="311.1" y="385.09" width="11.2" height="5.00" rx="0.5" fill="url(#p3)" stroke="#2a2418" stroke-width="0.9"/>
<rect x="376.1" y="385.09" width="20.2" height="5.00" rx="0.5" fill="url(#p3)" stroke="#2a2418" stroke-width="0.9"/>
<rect x="421.1" y="385.09" width="3.5" height="5.00" rx="0.5" fill="url(#p3)" stroke="#2a2418" stroke-width="0.9"/>
<rect x="432.1" y="385.09" width="30.8" height="5.00" rx="0.5" fill="url(#p3)" stroke="#2a2418" stroke-width="0.9"/>
<rect x="480.4" y="385.09" width="9.2" height="5.00" rx="0.5" fill="url(#p3)" stroke="#2a2418" stroke-width="0.9"/>
<rect x="492.7" y="385.09" width="10.2" height="5.00" rx="0.5" fill="url(#p3)" stroke="#2a2418" stroke-width="0.9"/>
<rect x="506.1" y="385.09" width="20.2" height="5.00" rx="0.5" fill="url(#p3)" stroke="#2a2418" stroke-width="0.9"/>
<rect x="529.4" y="385.09" width="16.2" height="5.00" rx="0.5" fill="url(#p3)" stroke="#2a2418" stroke-width="0.9"/>
<rect x="561.4" y="385.09" width="6.9" height="5.00" rx="0.5" fill="url(#p3)" stroke="#2a2418" stroke-width="0.9"/>
<rect x="572.6" y="385.09" width="2.5" height="5.00" rx="0.5" fill="url(#p3)" stroke="#2a2418" stroke-width="0.9"/>
<rect x="581.3" y="385.09" width="5.7" height="5.00" rx="0.5" fill="url(#p3)" stroke="#2a2418" stroke-width="0.9"/>
<path d="M227.7 391.64H246.3L249.3 393.99L246.3 396.34H227.7Z" fill="#0606e4"/>
<path d="M261.0 391.64H281.3L284.3 393.99L281.3 396.34H261.0Z" fill="#0606e4"/>
<path d="M313.3 391.64H383.7L386.7 393.99L383.7 396.34H313.3Z" fill="#0606e4"/>
<path d="M438.3 391.64H454.7L457.7 393.99L454.7 396.34H438.3Z" fill="#0606e4"/>
<path d="M483.3 391.64H507.0L510.0 393.99L507.0 396.34H483.3Z" fill="#0606e4"/>
<path d="M532.5 391.64H567.0L570.0 393.99L567.0 396.34H532.5Z" fill="#0606e4"/>
<path d="M291.9 398.84L295.5 401.24L291.9 403.64Z" fill="#000"/>
<path d="M511.7 398.84L515.3 401.24L511.7 403.64Z" fill="#000"/>
<text transform="translate(5.2 418.16) scale(0.86 1)" font-size="8.6" letter-spacing="0.3" fill="#1a1a1a" stroke="#1a1a1a" stroke-width="0.28" font-family="Liberation Sans, sans-serif">16.</text>
<text transform="translate(19.6 418.16) scale(0.86 1)" font-size="8.6" letter-spacing="0.15" fill="#1a1a1a" stroke="#1a1a1a" stroke-width="0.28" font-family="Liberation Sans, sans-serif">GsPIP1;3</text>
<text transform="translate(19 433.16) scale(0.86 1)" font-size="8.6" letter-spacing="0.75" fill="#1a1a1a" stroke="#1a1a1a" stroke-width="0.28" font-family="Liberation Sans, sans-serif">Motifs</text>
<rect x="147.7" y="414.21" width="436.0" height="1.3" fill="#3c3c3c"/>
<rect x="148.1" y="412.41" width="28.2" height="5.00" rx="0.5" fill="url(#p6)" stroke="#2a2418" stroke-width="0.9"/>
<rect x="178.1" y="412.41" width="16.5" height="5.00" rx="0.5" fill="url(#p6)" stroke="#2a2418" stroke-width="0.9"/>
<rect x="198.1" y="412.41" width="4.2" height="5.00" rx="0.5" fill="url(#p6)" stroke="#2a2418" stroke-width="0.9"/>
<rect x="222.1" y="412.41" width="28.5" height="5.00" rx="0.5" fill="url(#p6)" stroke="#2a2418" stroke-width="0.9"/>
<rect x="258.7" y="412.41" width="14.2" height="5.00" rx="0.5" fill="url(#p6)" stroke="#2a2418" stroke-width="0.9"/>
<rect x="277.1" y="412.41" width="24.2" height="5.00" rx="0.5" fill="url(#p6)" stroke="#2a2418" stroke-width="0.9"/>
<rect x="302.1" y="412.41" width="5.2" height="5.00" rx="0.5" fill="url(#p6)" stroke="#2a2418" stroke-width="0.9"/>
<rect x="310.4" y="412.41" width="11.9" height="5.00" rx="0.5" fill="url(#p6)" stroke="#2a2418" stroke-width="0.9"/>
<rect x="376.1" y="412.41" width="20.2" height="5.00" rx="0.5" fill="url(#p6)" stroke="#2a2418" stroke-width="0.9"/>
<rect x="421.1" y="412.41" width="5.2" height="5.00" rx="0.5" fill="url(#p6)" stroke="#2a2418" stroke-width="0.9"/>
<rect x="430.4" y="412.41" width="25.9" height="5.00" rx="0.5" fill="url(#p6)" stroke="#2a2418" stroke-width="0.9"/>
<rect x="458.1" y="412.41" width="10.5" height="5.00" rx="0.5" fill="url(#p6)" stroke="#2a2418" stroke-width="0.9"/>
<rect x="480.4" y="412.41" width="9.2" height="5.00" rx="0.5" fill="url(#p6)" stroke="#2a2418" stroke-width="0.9"/>
<rect x="492.7" y="412.41" width="10.2" height="5.00" rx="0.5" fill="url(#p6)" stroke="#2a2418" stroke-width="0.9"/>
<rect x="506.1" y="412.41" width="39.5" height="5.00" rx="0.5" fill="url(#p6)" stroke="#2a2418" stroke-width="0.9"/>
<rect x="561.4" y="412.41" width="6.9" height="5.00" rx="0.5" fill="url(#p6)" stroke="#2a2418" stroke-width="0.9"/>
<rect x="572.6" y="412.41" width="3.5" height="5.00" rx="0.5" fill="url(#p6)" stroke="#2a2418" stroke-width="0.9"/>
<rect x="579.4" y="412.41" width="3.9" height="5.00" rx="0.5" fill="url(#p6)" stroke="#2a2418" stroke-width="0.9"/>
<path d="M226.0 418.96H243.0L246.0 421.31L243.0 423.66H226.0Z" fill="#0606e4"/>
<path d="M276.0 418.96H300.3L303.3 421.31L300.3 423.66H276.0Z" fill="#0606e4"/>
<path d="M315.0 418.96H384.3L387.3 421.31L384.3 423.66H315.0Z" fill="#0606e4"/>
<path d="M435.7 418.96H452.0L455.0 421.31L452.0 423.66H435.7Z" fill="#0606e4"/>
<path d="M480.0 418.96H499.7L502.7 421.31L499.7 423.66H480.0Z" fill="#0606e4"/>
<path d="M534.0 418.96H567.0L570.0 421.31L567.0 423.66H534.0Z" fill="#0606e4"/>
<path d="M291.9 426.16L295.5 428.56L291.9 430.96Z" fill="#000"/>
<path d="M511.7 426.16L515.3 428.56L511.7 430.96Z" fill="#000"/>
<text transform="translate(5.2 445.48) scale(0.86 1)" font-size="8.6" letter-spacing="0.3" fill="#1a1a1a" stroke="#1a1a1a" stroke-width="0.28" font-family="Liberation Sans, sans-serif">17.</text>
<text transform="translate(19.6 445.48) scale(0.86 1)" font-size="8.6" letter-spacing="0.15" fill="#1a1a1a" stroke="#1a1a1a" stroke-width="0.28" font-family="Liberation Sans, sans-serif">GsPIP1;2</text>
<text transform="translate(19 460.48) scale(0.86 1)" font-size="8.6" letter-spacing="0.75" fill="#1a1a1a" stroke="#1a1a1a" stroke-width="0.28" font-family="Liberation Sans, sans-serif">Motifs</text>
<rect x="147.7" y="441.53" width="436.0" height="1.3" fill="#3c3c3c"/>
<rect x="148.1" y="439.73" width="25.5" height="5.00" rx="0.5" fill="url(#p7)" stroke="#2a2418" stroke-width="0.9"/>
<rect x="178.1" y="439.73" width="16.5" height="5.00" rx="0.5" fill="url(#p7)" stroke="#2a2418" stroke-width="0.9"/>
<rect x="198.1" y="439.73" width="4.2" height="5.00" rx="0.5" fill="url(#p7)" stroke="#2a2418" stroke-width="0.9"/>
<rect x="222.1" y="439.73" width="28.5" height="5.00" rx="0.5" fill="url(#p7)" stroke="#2a2418" stroke-width="0.9"/>
<rect x="258.7" y="439.73" width="14.2" height="5.00" rx="0.5" fill="url(#p7)" stroke="#2a2418" stroke-width="0.9"/>
<rect x="277.1" y="439.73" width="24.2" height="5.00" rx="0.5" fill="url(#p7)" stroke="#2a2418" stroke-width="0.9"/>
<rect x="302.1" y="439.73" width="5.2" height="5.00" rx="0.5" fill="url(#p7)" stroke="#2a2418" stroke-width="0.9"/>
<rect x="310.4" y="439.73" width="11.9" height="5.00" rx="0.5" fill="url(#p7)" stroke="#2a2418" stroke-width="0.9"/>
<rect x="376.1" y="439.73" width="20.2" height="5.00" rx="0.5" fill="url(#p7)" stroke="#2a2418" stroke-width="0.9"/>
<rect x="421.1" y="439.73" width="5.2" height="5.00" rx="0.5" fill="url(#p7)" stroke="#2a2418" stroke-width="0.9"/>
<rect x="430.4" y="439.73" width="25.9" height="5.00" rx="0.5" fill="url(#p7)" stroke="#2a2418" stroke-width="0.9"/>
<rect x="458.1" y="439.73" width="10.5" height="5.00" rx="0.5" fill="url(#p7)" stroke="#2a2418" stroke-width="0.9"/>
<rect x="480.4" y="439.73" width="9.2" height="5.00" rx="0.5" fill="url(#p7)" stroke="#2a2418" stroke-width="0.9"/>
<rect x="492.7" y="439.73" width="10.2" height="5.00" rx="0.5" fill="url(#p7)" stroke="#2a2418" stroke-width="0.9"/>
<rect x="506.1" y="439.73" width="39.5" height="5.00" rx="0.5" fill="url(#p7)" stroke="#2a2418" stroke-width="0.9"/>
<rect x="561.4" y="439.73" width="6.9" height="5.00" rx="0.5" fill="url(#p7)" stroke="#2a2418" stroke-width="0.9"/>
<rect x="572.6" y="439.73" width="3.5" height="5.00" rx="0.5" fill="url(#p7)" stroke="#2a2418" stroke-width="0.9"/>
<rect x="579.4" y="439.73" width="3.9" height="5.00" rx="0.5" fill="url(#p7)" stroke="#2a2418" stroke-width="0.9"/>
<path d="M225.0 446.28H242.0L245.0 448.63L242.0 450.98H225.0Z" fill="#0606e4"/>
<path d="M267.3 446.28H287.0L290.0 448.63L287.0 450.98H267.3Z" fill="#0606e4"/>
<path d="M313.3 446.28H384.3L387.3 448.63L384.3 450.98H313.3Z" fill="#0606e4"/>
<path d="M435.7 446.28H452.0L455.0 448.63L452.0 450.98H435.7Z" fill="#0606e4"/>
<path d="M480.0 446.28H499.7L502.7 448.63L499.7 450.98H480.0Z" fill="#0606e4"/>
<path d="M534.0 446.28H567.0L570.0 448.63L567.0 450.98H534.0Z" fill="#0606e4"/>
<path d="M291.9 453.48L295.5 455.88L291.9 458.28Z" fill="#000"/>
<path d="M511.7 453.48L515.3 455.88L511.7 458.28Z" fill="#000"/>
<text transform="translate(5.2 472.80) scale(0.86 1)" font-size="8.6" letter-spacing="0.3" fill="#1a1a1a" stroke="#1a1a1a" stroke-width="0.28" font-family="Liberation Sans, sans-serif">18.</text>
<text transform="translate(19.6 472.80) scale(0.86 1)" font-size="8.6" letter-spacing="0.15" fill="#1a1a1a" stroke="#1a1a1a" stroke-width="0.28" font-family="Liberation Sans, sans-serif">GsPIP1;1</text>
<text transform="translate(19 487.80) scale(0.86 1)" font-size="8.6" letter-spacing="0.75" fill="#1a1a1a" stroke="#1a1a1a" stroke-width="0.28" font-family="Liberation Sans, sans-serif">Motifs</text>
<rect x="147.7" y="468.85" width="520.8" height="1.3" fill="#3c3c3c"/>
<rect x="148.1" y="467.05" width="25.5" height="5.00" rx="0.5" fill="url(#p8)" stroke="#2a2418" stroke-width="0.9"/>
<rect x="178.1" y="467.05" width="16.5" height="5.00" rx="0.5" fill="url(#p8)" stroke="#2a2418" stroke-width="0.9"/>
<rect x="198.1" y="467.05" width="4.2" height="5.00" rx="0.5" fill="url(#p8)" stroke="#2a2418" stroke-width="0.9"/>
<rect x="222.1" y="467.05" width="28.5" height="5.00" rx="0.5" fill="url(#p8)" stroke="#2a2418" stroke-width="0.9"/>
<rect x="258.7" y="467.05" width="14.2" height="5.00" rx="0.5" fill="url(#p8)" stroke="#2a2418" stroke-width="0.9"/>
<rect x="277.1" y="467.05" width="24.2" height="5.00" rx="0.5" fill="url(#p8)" stroke="#2a2418" stroke-width="0.9"/>
<rect x="302.1" y="467.05" width="5.2" height="5.00" rx="0.5" fill="url(#p8)" stroke="#2a2418" stroke-width="0.9"/>
<rect x="310.4" y="467.05" width="11.9" height="5.00" rx="0.5" fill="url(#p8)" stroke="#2a2418" stroke-width="0.9"/>
<rect x="376.1" y="467.05" width="20.2" height="5.00" rx="0.5" fill="url(#p8)" stroke="#2a2418" stroke-width="0.9"/>
<rect x="421.1" y="467.05" width="5.2" height="5.00" rx="0.5" fill="url(#p8)" stroke="#2a2418" stroke-width="0.9"/>
<rect x="430.4" y="467.05" width="25.9" height="5.00" rx="0.5" fill="url(#p8)" stroke="#2a2418" stroke-width="0.9"/>
<rect x="458.1" y="467.05" width="10.5" height="5.00" rx="0.5" fill="url(#p8)" stroke="#2a2418" stroke-width="0.9"/>
<rect x="480.4" y="467.05" width="9.2" height="5.00" rx="0.5" fill="url(#p8)" stroke="#2a2418" stroke-width="0.9"/>
<rect x="492.7" y="467.05" width="10.2" height="5.00" rx="0.5" fill="url(#p8)" stroke="#2a2418" stroke-width="0.9"/>
<rect x="506.1" y="467.05" width="39.5" height="5.00" rx="0.5" fill="url(#p8)" stroke="#2a2418" stroke-width="0.9"/>
<rect x="561.4" y="467.05" width="8.2" height="5.00" rx="0.5" fill="url(#p8)" stroke="#2a2418" stroke-width="0.9"/>
<rect x="572.6" y="467.05" width="95.5" height="5.00" rx="0.5" fill="url(#p8)" stroke="#2a2418" stroke-width="0.9"/>
<path d="M225.0 473.60H242.0L245.0 475.95L242.0 478.30H225.0Z" fill="#0606e4"/>
<path d="M267.3 473.60H287.0L290.0 475.95L287.0 478.30H267.3Z" fill="#0606e4"/>
<path d="M313.3 473.60H384.3L387.3 475.95L384.3 478.30H313.3Z" fill="#0606e4"/>
<path d="M435.7 473.60H452.0L455.0 475.95L452.0 478.30H435.7Z" fill="#0606e4"/>
<path d="M480.0 473.60H499.7L502.7 475.95L499.7 478.30H480.0Z" fill="#0606e4"/>
<path d="M532.5 473.60H565.0L568.0 475.95L565.0 478.30H532.5Z" fill="#0606e4"/>
<path d="M291.9 480.80L295.5 483.20L291.9 485.60Z" fill="#000"/>
<path d="M511.7 480.80L515.3 483.20L511.7 485.60Z" fill="#000"/>
<text transform="translate(5.2 500.12) scale(0.86 1)" font-size="8.6" letter-spacing="0.3" fill="#1a1a1a" stroke="#1a1a1a" stroke-width="0.28" font-family="Liberation Sans, sans-serif">19.</text>
<text transform="translate(19.6 500.12) scale(0.86 1)" font-size="8.6" letter-spacing="0.15" fill="#1a1a1a" stroke="#1a1a1a" stroke-width="0.28" font-family="Liberation Sans, sans-serif">GsPIP1;5</text>
<text transform="translate(19 515.12) scale(0.86 1)" font-size="8.6" letter-spacing="0.75" fill="#1a1a1a" stroke="#1a1a1a" stroke-width="0.28" font-family="Liberation Sans, sans-serif">Motifs</text>
<rect x="149.0" y="496.17" width="436.0" height="1.3" fill="#3c3c3c"/>
<rect x="149.4" y="494.37" width="24.2" height="5.00" rx="0.5" fill="url(#p6)" stroke="#2a2418" stroke-width="0.9"/>
<rect x="176.1" y="494.37" width="18.5" height="5.00" rx="0.5" fill="url(#p6)" stroke="#2a2418" stroke-width="0.9"/>
<rect x="198.1" y="494.37" width="4.2" height="5.00" rx="0.5" fill="url(#p6)" stroke="#2a2418" stroke-width="0.9"/>
<rect x="222.1" y="494.37" width="28.5" height="5.00" rx="0.5" fill="url(#p6)" stroke="#2a2418" stroke-width="0.9"/>
<rect x="258.7" y="494.37" width="14.2" height="5.00" rx="0.5" fill="url(#p6)" stroke="#2a2418" stroke-width="0.9"/>
<rect x="277.1" y="494.37" width="24.2" height="5.00" rx="0.5" fill="url(#p6)" stroke="#2a2418" stroke-width="0.9"/>
<rect x="302.1" y="494.37" width="5.2" height="5.00" rx="0.5" fill="url(#p6)" stroke="#2a2418" stroke-width="0.9"/>
<rect x="310.4" y="494.37" width="11.9" height="5.00" rx="0.5" fill="url(#p6)" stroke="#2a2418" stroke-width="0.9"/>
<rect x="376.1" y="494.37" width="20.2" height="5.00" rx="0.5" fill="url(#p6)" stroke="#2a2418" stroke-width="0.9"/>
<rect x="421.1" y="494.37" width="5.2" height="5.00" rx="0.5" fill="url(#p6)" stroke="#2a2418" stroke-width="0.9"/>
<rect x="430.4" y="494.37" width="25.9" height="5.00" rx="0.5" fill="url(#p6)" stroke="#2a2418" stroke-width="0.9"/>
<rect x="458.1" y="494.37" width="10.5" height="5.00" rx="0.5" fill="url(#p6)" stroke="#2a2418" stroke-width="0.9"/>
<rect x="480.4" y="494.37" width="9.2" height="5.00" rx="0.5" fill="url(#p6)" stroke="#2a2418" stroke-width="0.9"/>
<rect x="492.7" y="494.37" width="10.2" height="5.00" rx="0.5" fill="url(#p6)" stroke="#2a2418" stroke-width="0.9"/>
<rect x="506.1" y="494.37" width="39.5" height="5.00" rx="0.5" fill="url(#p6)" stroke="#2a2418" stroke-width="0.9"/>
<rect x="561.4" y="494.37" width="6.9" height="5.00" rx="0.5" fill="url(#p6)" stroke="#2a2418" stroke-width="0.9"/>
<rect x="572.6" y="494.37" width="3.5" height="5.00" rx="0.5" fill="url(#p6)" stroke="#2a2418" stroke-width="0.9"/>
<rect x="579.4" y="494.37" width="5.2" height="5.00" rx="0.5" fill="url(#p6)" stroke="#2a2418" stroke-width="0.9"/>
<path d="M225.0 500.92H242.0L245.0 503.27L242.0 505.62H225.0Z" fill="#0606e4"/>
<path d="M267.3 500.92H287.0L290.0 503.27L287.0 505.62H267.3Z" fill="#0606e4"/>
<path d="M313.3 500.92H384.3L387.3 503.27L384.3 505.62H313.3Z" fill="#0606e4"/>
<path d="M434.0 500.92H451.3L454.3 503.27L451.3 505.62H434.0Z" fill="#0606e4"/>
<path d="M468.3 500.92H498.7L501.7 503.27L498.7 505.62H468.3Z" fill="#0606e4"/>
<path d="M534.0 500.92H567.0L570.0 503.27L567.0 505.62H534.0Z" fill="#0606e4"/>
<path d="M291.9 508.12L295.5 510.52L291.9 512.92Z" fill="#000"/>
<path d="M511.7 508.12L515.3 510.52L511.7 512.92Z" fill="#000"/>
<text transform="translate(5.2 527.44) scale(0.86 1)" font-size="8.6" letter-spacing="0.3" fill="#1a1a1a" stroke="#1a1a1a" stroke-width="0.28" font-family="Liberation Sans, sans-serif">20.</text>
<text transform="translate(19.6 527.44) scale(0.86 1)" font-size="8.6" letter-spacing="0.15" fill="#1a1a1a" stroke="#1a1a1a" stroke-width="0.28" font-family="Liberation Sans, sans-serif">GsPIP1;4</text>
<text transform="translate(19 542.44) scale(0.86 1)" font-size="8.6" letter-spacing="0.75" fill="#1a1a1a" stroke="#1a1a1a" stroke-width="0.28" font-family="Liberation Sans, sans-serif">Motifs</text>
<rect x="149.0" y="523.49" width="436.0" height="1.3" fill="#3c3c3c"/>
<rect x="149.4" y="521.69" width="24.2" height="5.00" rx="0.5" fill="url(#p7)" stroke="#2a2418" stroke-width="0.9"/>
<rect x="176.1" y="521.69" width="18.5" height="5.00" rx="0.5" fill="url(#p7)" stroke="#2a2418" stroke-width="0.9"/>
<rect x="198.1" y="521.69" width="4.2" height="5.00" rx="0.5" fill="url(#p7)" stroke="#2a2418" stroke-width="0.9"/>
<rect x="222.1" y="521.69" width="28.5" height="5.00" rx="0.5" fill="url(#p7)" stroke="#2a2418" stroke-width="0.9"/>
<rect x="258.7" y="521.69" width="14.2" height="5.00" rx="0.5" fill="url(#p7)" stroke="#2a2418" stroke-width="0.9"/>
<rect x="277.1" y="521.69" width="24.2" height="5.00" rx="0.5" fill="url(#p7)" stroke="#2a2418" stroke-width="0.9"/>
<rect x="302.1" y="521.69" width="5.2" height="5.00" rx="0.5" fill="url(#p7)" stroke="#2a2418" stroke-width="0.9"/>
<rect x="310.4" y="521.69" width="11.9" height="5.00" rx="0.5" fill="url(#p7)" stroke="#2a2418" stroke-width="0.9"/>
<rect x="376.1" y="521.69" width="20.2" height="5.00" rx="0.5" fill="url(#p7)" stroke="#2a2418" stroke-width="0.9"/>
<rect x="421.1" y="521.69" width="5.2" height="5.00" rx="0.5" fill="url(#p7)" stroke="#2a2418" stroke-width="0.9"/>
<rect x="430.4" y="521.69" width="25.9" height="5.00" rx="0.5" fill="url(#p7)" stroke="#2a2418" stroke-width="0.9"/>
<rect x="458.1" y="521.69" width="10.5" height="5.00" rx="0.5" fill="url(#p7)" stroke="#2a2418" stroke-width="0.9"/>
<rect x="480.4" y="521.69" width="9.2" height="5.00" rx="0.5" fill="url(#p7)" stroke="#2a2418" stroke-width="0.9"/>
<rect x="492.7" y="521.69" width="10.2" height="5.00" rx="0.5" fill="url(#p7)" stroke="#2a2418" stroke-width="0.9"/>
<rect x="506.1" y="521.69" width="39.5" height="5.00" rx="0.5" fill="url(#p7)" stroke="#2a2418" stroke-width="0.9"/>
<rect x="561.4" y="521.69" width="6.9" height="5.00" rx="0.5" fill="url(#p7)" stroke="#2a2418" stroke-width="0.9"/>
<rect x="572.6" y="521.69" width="3.5" height="5.00" rx="0.5" fill="url(#p7)" stroke="#2a2418" stroke-width="0.9"/>
<rect x="579.4" y="521.69" width="5.2" height="5.00" rx="0.5" fill="url(#p7)" stroke="#2a2418" stroke-width="0.9"/>
<path d="M225.0 528.24H242.0L245.0 530.59L242.0 532.94H225.0Z" fill="#0606e4"/>
<path d="M267.3 528.24H287.0L290.0 530.59L287.0 532.94H267.3Z" fill="#0606e4"/>
<path d="M313.3 528.24H384.3L387.3 530.59L384.3 532.94H313.3Z" fill="#0606e4"/>
<path d="M434.0 528.24H451.3L454.3 530.59L451.3 532.94H434.0Z" fill="#0606e4"/>
<path d="M468.3 528.24H498.7L501.7 530.59L498.7 532.94H468.3Z" fill="#0606e4"/>
<path d="M534.0 528.24H567.0L570.0 530.59L567.0 532.94H534.0Z" fill="#0606e4"/>
<path d="M291.9 535.44L295.5 537.84L291.9 540.24Z" fill="#000"/>
<path d="M511.7 535.44L515.3 537.84L511.7 540.24Z" fill="#000"/>
<text transform="translate(5.2 554.76) scale(0.86 1)" font-size="8.6" letter-spacing="0.3" fill="#1a1a1a" stroke="#1a1a1a" stroke-width="0.28" font-family="Liberation Sans, sans-serif">21.</text>
<text transform="translate(19.6 554.76) scale(0.86 1)" font-size="8.6" letter-spacing="0.15" fill="#1a1a1a" stroke="#1a1a1a" stroke-width="0.28" font-family="Liberation Sans, sans-serif">GsPIP1;6</text>
<text transform="translate(19 569.76) scale(0.86 1)" font-size="8.6" letter-spacing="0.75" fill="#1a1a1a" stroke="#1a1a1a" stroke-width="0.28" font-family="Liberation Sans, sans-serif">Motifs</text>
<rect x="147.7" y="550.81" width="437.3" height="1.3" fill="#3c3c3c"/>
<rect x="148.1" y="549.01" width="25.5" height="5.00" rx="0.5" fill="url(#p8)" stroke="#2a2418" stroke-width="0.9"/>
<rect x="176.1" y="549.01" width="18.5" height="5.00" rx="0.5" fill="url(#p8)" stroke="#2a2418" stroke-width="0.9"/>
<rect x="198.1" y="549.01" width="4.2" height="5.00" rx="0.5" fill="url(#p8)" stroke="#2a2418" stroke-width="0.9"/>
<rect x="222.1" y="549.01" width="28.5" height="5.00" rx="0.5" fill="url(#p8)" stroke="#2a2418" stroke-width="0.9"/>
<rect x="258.7" y="549.01" width="14.2" height="5.00" rx="0.5" fill="url(#p8)" stroke="#2a2418" stroke-width="0.9"/>
<rect x="277.1" y="549.01" width="24.2" height="5.00" rx="0.5" fill="url(#p8)" stroke="#2a2418" stroke-width="0.9"/>
<rect x="302.1" y="549.01" width="5.2" height="5.00" rx="0.5" fill="url(#p8)" stroke="#2a2418" stroke-width="0.9"/>
<rect x="310.4" y="549.01" width="11.9" height="5.00" rx="0.5" fill="url(#p8)" stroke="#2a2418" stroke-width="0.9"/>
<rect x="376.1" y="549.01" width="20.2" height="5.00" rx="0.5" fill="url(#p8)" stroke="#2a2418" stroke-width="0.9"/>
<rect x="421.1" y="549.01" width="5.2" height="5.00" rx="0.5" fill="url(#p8)" stroke="#2a2418" stroke-width="0.9"/>
<rect x="430.4" y="549.01" width="25.9" height="5.00" rx="0.5" fill="url(#p8)" stroke="#2a2418" stroke-width="0.9"/>
<rect x="458.1" y="549.01" width="10.5" height="5.00" rx="0.5" fill="url(#p8)" stroke="#2a2418" stroke-width="0.9"/>
<rect x="480.4" y="549.01" width="9.2" height="5.00" rx="0.5" fill="url(#p8)" stroke="#2a2418" stroke-width="0.9"/>
<rect x="492.7" y="549.01" width="10.2" height="5.00" rx="0.5" fill="url(#p8)" stroke="#2a2418" stroke-width="0.9"/>
<rect x="506.1" y="549.01" width="39.5" height="5.00" rx="0.5" fill="url(#p8)" stroke="#2a2418" stroke-width="0.9"/>
<rect x="561.4" y="549.01" width="6.9" height="5.00" rx="0.5" fill="url(#p8)" stroke="#2a2418" stroke-width="0.9"/>
<rect x="572.6" y="549.01" width="3.5" height="5.00" rx="0.5" fill="url(#p8)" stroke="#2a2418" stroke-width="0.9"/>
<rect x="579.4" y="549.01" width="5.2" height="5.00" rx="0.5" fill="url(#p8)" stroke="#2a2418" stroke-width="0.9"/>
<path d="M225.0 555.56H242.0L245.0 557.91L242.0 560.26H225.0Z" fill="#0606e4"/>
<path d="M267.3 555.56H287.0L290.0 557.91L287.0 560.26H267.3Z" fill="#0606e4"/>
<path d="M313.3 555.56H384.3L387.3 557.91L384.3 560.26H313.3Z" fill="#0606e4"/>
<path d="M434.0 555.56H451.3L454.3 557.91L451.3 560.26H434.0Z" fill="#0606e4"/>
<path d="M468.3 555.56H498.7L501.7 557.91L498.7 560.26H468.3Z" fill="#0606e4"/>
<path d="M534.0 555.56H567.0L570.0 557.91L567.0 560.26H534.0Z" fill="#0606e4"/>
<path d="M291.9 562.76L295.5 565.16L291.9 567.56Z" fill="#000"/>
<path d="M511.7 562.76L515.3 565.16L511.7 567.56Z" fill="#000"/>
<text transform="translate(5.2 582.08) scale(0.86 1)" font-size="8.6" letter-spacing="0.3" fill="#1a1a1a" stroke="#1a1a1a" stroke-width="0.28" font-family="Liberation Sans, sans-serif">22.</text>
<text transform="translate(19.6 582.08) scale(0.86 1)" font-size="8.6" letter-spacing="0.15" fill="#1a1a1a" stroke="#1a1a1a" stroke-width="0.28" font-family="Liberation Sans, sans-serif">GsPIP1;7</text>
<text transform="translate(19 597.08) scale(0.86 1)" font-size="8.6" letter-spacing="0.75" fill="#1a1a1a" stroke="#1a1a1a" stroke-width="0.28" font-family="Liberation Sans, sans-serif">Motifs</text>
<rect x="147.7" y="578.13" width="436.0" height="1.3" fill="#3c3c3c"/>
<rect x="148.1" y="576.33" width="46.5" height="5.00" rx="0.5" fill="url(#p6)" stroke="#2a2418" stroke-width="0.9"/>
<rect x="198.1" y="576.33" width="4.2" height="5.00" rx="0.5" fill="url(#p6)" stroke="#2a2418" stroke-width="0.9"/>
<rect x="222.1" y="576.33" width="28.5" height="5.00" rx="0.5" fill="url(#p6)" stroke="#2a2418" stroke-width="0.9"/>
<rect x="258.7" y="576.33" width="14.2" height="5.00" rx="0.5" fill="url(#p6)" stroke="#2a2418" stroke-width="0.9"/>
<rect x="277.1" y="576.33" width="24.2" height="5.00" rx="0.5" fill="url(#p6)" stroke="#2a2418" stroke-width="0.9"/>
<rect x="302.1" y="576.33" width="5.2" height="5.00" rx="0.5" fill="url(#p6)" stroke="#2a2418" stroke-width="0.9"/>
<rect x="310.4" y="576.33" width="11.9" height="5.00" rx="0.5" fill="url(#p6)" stroke="#2a2418" stroke-width="0.9"/>
<rect x="376.1" y="576.33" width="20.2" height="5.00" rx="0.5" fill="url(#p6)" stroke="#2a2418" stroke-width="0.9"/>
<rect x="421.1" y="576.33" width="5.2" height="5.00" rx="0.5" fill="url(#p6)" stroke="#2a2418" stroke-width="0.9"/>
<rect x="430.4" y="576.33" width="25.9" height="5.00" rx="0.5" fill="url(#p6)" stroke="#2a2418" stroke-width="0.9"/>
<rect x="458.1" y="576.33" width="10.5" height="5.00" rx="0.5" fill="url(#p6)" stroke="#2a2418" stroke-width="0.9"/>
<rect x="480.4" y="576.33" width="9.2" height="5.00" rx="0.5" fill="url(#p6)" stroke="#2a2418" stroke-width="0.9"/>
<rect x="492.7" y="576.33" width="10.2" height="5.00" rx="0.5" fill="url(#p6)" stroke="#2a2418" stroke-width="0.9"/>
<rect x="506.1" y="576.33" width="39.5" height="5.00" rx="0.5" fill="url(#p6)" stroke="#2a2418" stroke-width="0.9"/>
<rect x="561.4" y="576.33" width="6.9" height="5.00" rx="0.5" fill="url(#p6)" stroke="#2a2418" stroke-width="0.9"/>
<rect x="572.6" y="576.33" width="3.5" height="5.00" rx="0.5" fill="url(#p6)" stroke="#2a2418" stroke-width="0.9"/>
<rect x="579.4" y="576.33" width="3.9" height="5.00" rx="0.5" fill="url(#p6)" stroke="#2a2418" stroke-width="0.9"/>
<path d="M227.7 582.88H244.7L247.7 585.23L244.7 587.58H227.7Z" fill="#0606e4"/>
<path d="M267.3 582.88H287.0L290.0 585.23L287.0 587.58H267.3Z" fill="#0606e4"/>
<path d="M313.3 582.88H384.3L387.3 585.23L384.3 587.58H313.3Z" fill="#0606e4"/>
<path d="M480.0 582.88H499.7L502.7 585.23L499.7 587.58H480.0Z" fill="#0606e4"/>
<path d="M534.0 582.88H567.0L570.0 585.23L567.0 587.58H534.0Z" fill="#0606e4"/>
<path d="M291.9 590.08L295.5 592.48L291.9 594.88Z" fill="#000"/>
<path d="M511.7 590.08L515.3 592.48L511.7 594.88Z" fill="#000"/>
<text transform="translate(5.2 609.40) scale(0.86 1)" font-size="8.6" letter-spacing="0.3" fill="#1a1a1a" stroke="#1a1a1a" stroke-width="0.28" font-family="Liberation Sans, sans-serif">23.</text>
<text transform="translate(19.6 609.40) scale(0.86 1)" font-size="8.6" letter-spacing="0.15" fill="#1a1a1a" stroke="#1a1a1a" stroke-width="0.28" font-family="Liberation Sans, sans-serif">GsPIP1;8</text>
<text transform="translate(19 624.40) scale(0.86 1)" font-size="8.6" letter-spacing="0.75" fill="#1a1a1a" stroke="#1a1a1a" stroke-width="0.28" font-family="Liberation Sans, sans-serif">Motifs</text>
<rect x="147.7" y="605.45" width="436.0" height="1.3" fill="#3c3c3c"/>
<rect x="148.1" y="603.65" width="46.5" height="5.00" rx="0.5" fill="url(#p7)" stroke="#2a2418" stroke-width="0.9"/>
<rect x="198.1" y="603.65" width="4.2" height="5.00" rx="0.5" fill="url(#p7)" stroke="#2a2418" stroke-width="0.9"/>
<rect x="222.1" y="603.65" width="28.5" height="5.00" rx="0.5" fill="url(#p7)" stroke="#2a2418" stroke-width="0.9"/>
<rect x="258.7" y="603.65" width="14.2" height="5.00" rx="0.5" fill="url(#p7)" stroke="#2a2418" stroke-width="0.9"/>
<rect x="277.1" y="603.65" width="24.2" height="5.00" rx="0.5" fill="url(#p7)" stroke="#2a2418" stroke-width="0.9"/>
<rect x="302.1" y="603.65" width="5.2" height="5.00" rx="0.5" fill="url(#p7)" stroke="#2a2418" stroke-width="0.9"/>
<rect x="310.4" y="603.65" width="11.9" height="5.00" rx="0.5" fill="url(#p7)" stroke="#2a2418" stroke-width="0.9"/>
<rect x="376.1" y="603.65" width="20.2" height="5.00" rx="0.5" fill="url(#p7)" stroke="#2a2418" stroke-width="0.9"/>
<rect x="421.1" y="603.65" width="5.2" height="5.00" rx="0.5" fill="url(#p7)" stroke="#2a2418" stroke-width="0.9"/>
<rect x="430.4" y="603.65" width="25.9" height="5.00" rx="0.5" fill="url(#p7)" stroke="#2a2418" stroke-width="0.9"/>
<rect x="458.1" y="603.65" width="10.5" height="5.00" rx="0.5" fill="url(#p7)" stroke="#2a2418" stroke-width="0.9"/>
<rect x="480.4" y="603.65" width="9.2" height="5.00" rx="0.5" fill="url(#p7)" stroke="#2a2418" stroke-width="0.9"/>
<rect x="492.7" y="603.65" width="10.2" height="5.00" rx="0.5" fill="url(#p7)" stroke="#2a2418" stroke-width="0.9"/>
<rect x="506.1" y="603.65" width="39.5" height="5.00" rx="0.5" fill="url(#p7)" stroke="#2a2418" stroke-width="0.9"/>
<rect x="561.4" y="603.65" width="6.9" height="5.00" rx="0.5" fill="url(#p7)" stroke="#2a2418" stroke-width="0.9"/>
<rect x="572.6" y="603.65" width="3.5" height="5.00" rx="0.5" fill="url(#p7)" stroke="#2a2418" stroke-width="0.9"/>
<rect x="579.4" y="603.65" width="3.9" height="5.00" rx="0.5" fill="url(#p7)" stroke="#2a2418" stroke-width="0.9"/>
<path d="M227.7 610.20H244.7L247.7 612.55L244.7 614.90H227.7Z" fill="#0606e4"/>
<path d="M267.3 610.20H287.0L290.0 612.55L287.0 614.90H267.3Z" fill="#0606e4"/>
<path d="M313.3 610.20H384.3L387.3 612.55L384.3 614.90H313.3Z" fill="#0606e4"/>
<path d="M480.0 610.20H499.7L502.7 612.55L499.7 614.90H480.0Z" fill="#0606e4"/>
<path d="M534.0 610.20H567.0L570.0 612.55L567.0 614.90H534.0Z" fill="#0606e4"/>
<path d="M291.9 617.40L295.5 619.80L291.9 622.20Z" fill="#000"/>
<path d="M511.7 617.40L515.3 619.80L511.7 622.20Z" fill="#000"/>
<text transform="translate(5.2 636.72) scale(0.86 1)" font-size="8.6" letter-spacing="0.3" fill="#1a1a1a" stroke="#1a1a1a" stroke-width="0.28" font-family="Liberation Sans, sans-serif">24.</text>
<text transform="translate(19.6 636.72) scale(0.86 1)" font-size="8.6" letter-spacing="0.15" fill="#1a1a1a" stroke="#1a1a1a" stroke-width="0.28" font-family="Liberation Sans, sans-serif">GsPIP2;8</text>
<text transform="translate(19 651.72) scale(0.86 1)" font-size="8.6" letter-spacing="0.75" fill="#1a1a1a" stroke="#1a1a1a" stroke-width="0.28" font-family="Liberation Sans, sans-serif">Motifs</text>
<rect x="241.0" y="632.77" width="351.6" height="1.3" fill="#3c3c3c"/>
<rect x="241.4" y="630.97" width="4.9" height="5.00" rx="0.5" fill="url(#p8)" stroke="#2a2418" stroke-width="0.9"/>
<rect x="277.6" y="630.97" width="2.2" height="5.00" rx="0.5" fill="url(#p8)" stroke="#2a2418" stroke-width="0.9"/>
<rect x="288.1" y="630.97" width="12.5" height="5.00" rx="0.5" fill="url(#p8)" stroke="#2a2418" stroke-width="0.9"/>
<rect x="302.1" y="630.97" width="5.2" height="5.00" rx="0.5" fill="url(#p8)" stroke="#2a2418" stroke-width="0.9"/>
<rect x="310.4" y="630.97" width="11.9" height="5.00" rx="0.5" fill="url(#p8)" stroke="#2a2418" stroke-width="0.9"/>
<rect x="376.1" y="630.97" width="20.2" height="5.00" rx="0.5" fill="url(#p8)" stroke="#2a2418" stroke-width="0.9"/>
<rect x="421.1" y="630.97" width="5.2" height="5.00" rx="0.5" fill="url(#p8)" stroke="#2a2418" stroke-width="0.9"/>
<rect x="430.4" y="630.97" width="25.9" height="5.00" rx="0.5" fill="url(#p8)" stroke="#2a2418" stroke-width="0.9"/>
<rect x="458.1" y="630.97" width="10.5" height="5.00" rx="0.5" fill="url(#p8)" stroke="#2a2418" stroke-width="0.9"/>
<rect x="480.4" y="630.97" width="9.2" height="5.00" rx="0.5" fill="url(#p8)" stroke="#2a2418" stroke-width="0.9"/>
<rect x="492.7" y="630.97" width="10.2" height="5.00" rx="0.5" fill="url(#p8)" stroke="#2a2418" stroke-width="0.9"/>
<rect x="506.1" y="630.97" width="39.5" height="5.00" rx="0.5" fill="url(#p8)" stroke="#2a2418" stroke-width="0.9"/>
<rect x="561.4" y="630.97" width="6.9" height="5.00" rx="0.5" fill="url(#p8)" stroke="#2a2418" stroke-width="0.9"/>
<rect x="572.6" y="630.97" width="3.5" height="5.00" rx="0.5" fill="url(#p8)" stroke="#2a2418" stroke-width="0.9"/>
<rect x="579.4" y="630.97" width="12.8" height="5.00" rx="0.5" fill="url(#p8)" stroke="#2a2418" stroke-width="0.9"/>
<path d="M315.0 637.52H384.3L387.3 639.87L384.3 642.22H315.0Z" fill="#0606e4"/>
<path d="M435.0 637.52H452.0L455.0 639.87L452.0 642.22H435.0Z" fill="#0606e4"/>
<path d="M480.0 637.52H499.7L502.7 639.87L499.7 642.22H480.0Z" fill="#0606e4"/>
<path d="M534.0 637.52H567.0L570.0 639.87L567.0 642.22H534.0Z" fill="#0606e4"/>
<path d="M291.9 644.72L295.5 647.12L291.9 649.52Z" fill="#000"/>
<path d="M511.7 644.72L515.3 647.12L511.7 649.52Z" fill="#000"/>
<text transform="translate(5.2 664.04) scale(0.86 1)" font-size="8.6" letter-spacing="0.3" fill="#1a1a1a" stroke="#1a1a1a" stroke-width="0.28" font-family="Liberation Sans, sans-serif">25.</text>
<text transform="translate(19.6 664.04) scale(0.86 1)" font-size="8.6" letter-spacing="0.15" fill="#1a1a1a" stroke="#1a1a1a" stroke-width="0.28" font-family="Liberation Sans, sans-serif">GsPIP2;1</text>
<text transform="translate(19 679.04) scale(0.86 1)" font-size="8.6" letter-spacing="0.75" fill="#1a1a1a" stroke="#1a1a1a" stroke-width="0.28" font-family="Liberation Sans, sans-serif">Motifs</text>
<rect x="148.3" y="660.09" width="444.3" height="1.3" fill="#3c3c3c"/>
<rect x="148.7" y="658.29" width="8.6" height="5.00" rx="0.5" fill="url(#p6)" stroke="#2a2418" stroke-width="0.9"/>
<rect x="178.1" y="658.29" width="16.5" height="5.00" rx="0.5" fill="url(#p6)" stroke="#2a2418" stroke-width="0.9"/>
<rect x="198.1" y="658.29" width="4.2" height="5.00" rx="0.5" fill="url(#p6)" stroke="#2a2418" stroke-width="0.9"/>
<rect x="222.1" y="658.29" width="28.5" height="5.00" rx="0.5" fill="url(#p6)" stroke="#2a2418" stroke-width="0.9"/>
<rect x="258.7" y="658.29" width="14.2" height="5.00" rx="0.5" fill="url(#p6)" stroke="#2a2418" stroke-width="0.9"/>
<rect x="277.1" y="658.29" width="24.2" height="5.00" rx="0.5" fill="url(#p6)" stroke="#2a2418" stroke-width="0.9"/>
<rect x="302.1" y="658.29" width="5.2" height="5.00" rx="0.5" fill="url(#p6)" stroke="#2a2418" stroke-width="0.9"/>
<rect x="310.4" y="658.29" width="11.9" height="5.00" rx="0.5" fill="url(#p6)" stroke="#2a2418" stroke-width="0.9"/>
<rect x="376.1" y="658.29" width="20.2" height="5.00" rx="0.5" fill="url(#p6)" stroke="#2a2418" stroke-width="0.9"/>
<rect x="421.1" y="658.29" width="5.2" height="5.00" rx="0.5" fill="url(#p6)" stroke="#2a2418" stroke-width="0.9"/>
<rect x="430.4" y="658.29" width="25.9" height="5.00" rx="0.5" fill="url(#p6)" stroke="#2a2418" stroke-width="0.9"/>
<rect x="458.1" y="658.29" width="10.5" height="5.00" rx="0.5" fill="url(#p6)" stroke="#2a2418" stroke-width="0.9"/>
<rect x="480.4" y="658.29" width="9.2" height="5.00" rx="0.5" fill="url(#p6)" stroke="#2a2418" stroke-width="0.9"/>
<rect x="492.7" y="658.29" width="10.2" height="5.00" rx="0.5" fill="url(#p6)" stroke="#2a2418" stroke-width="0.9"/>
<rect x="506.1" y="658.29" width="39.5" height="5.00" rx="0.5" fill="url(#p6)" stroke="#2a2418" stroke-width="0.9"/>
<rect x="563.9" y="658.29" width="5.2" height="5.00" rx="0.5" fill="url(#p6)" stroke="#2a2418" stroke-width="0.9"/>
<rect x="572.6" y="658.29" width="3.5" height="5.00" rx="0.5" fill="url(#p6)" stroke="#2a2418" stroke-width="0.9"/>
<rect x="579.4" y="658.29" width="12.8" height="5.00" rx="0.5" fill="url(#p6)" stroke="#2a2418" stroke-width="0.9"/>
<path d="M223.3 664.84H241.3L244.3 667.19L241.3 669.54H223.3Z" fill="#0606e4"/>
<path d="M262.7 664.84H282.0L285.0 667.19L282.0 669.54H262.7Z" fill="#0606e4"/>
<path d="M306.7 664.84H385.3L388.3 667.19L385.3 669.54H306.7Z" fill="#0606e4"/>
<path d="M436.7 664.84H453.7L456.7 667.19L453.7 669.54H436.7Z" fill="#0606e4"/>
<path d="M480.7 664.84H502.0L505.0 667.19L502.0 669.54H480.7Z" fill="#0606e4"/>
<path d="M291.9 672.04L295.5 674.44L291.9 676.84Z" fill="#000"/>
<path d="M511.7 672.04L515.3 674.44L511.7 676.84Z" fill="#000"/>
<text transform="translate(5.2 691.36) scale(0.86 1)" font-size="8.6" letter-spacing="0.3" fill="#1a1a1a" stroke="#1a1a1a" stroke-width="0.28" font-family="Liberation Sans, sans-serif">26.</text>
<text transform="translate(19.6 691.36) scale(0.86 1)" font-size="8.6" letter-spacing="0.15" fill="#1a1a1a" stroke="#1a1a1a" stroke-width="0.28" font-family="Liberation Sans, sans-serif">GsPIP2;11</text>
<text transform="translate(19 706.36) scale(0.86 1)" font-size="8.6" letter-spacing="0.75" fill="#1a1a1a" stroke="#1a1a1a" stroke-width="0.28" font-family="Liberation Sans, sans-serif">Motifs</text>
<rect x="232.3" y="687.41" width="360.3" height="1.3" fill="#3c3c3c"/>
<rect x="232.7" y="685.61" width="17.9" height="5.00" rx="0.5" fill="url(#p7)" stroke="#2a2418" stroke-width="0.9"/>
<rect x="252.7" y="685.61" width="20.2" height="5.00" rx="0.5" fill="url(#p7)" stroke="#2a2418" stroke-width="0.9"/>
<rect x="277.1" y="685.61" width="24.2" height="5.00" rx="0.5" fill="url(#p7)" stroke="#2a2418" stroke-width="0.9"/>
<rect x="302.1" y="685.61" width="5.2" height="5.00" rx="0.5" fill="url(#p7)" stroke="#2a2418" stroke-width="0.9"/>
<rect x="310.4" y="685.61" width="11.9" height="5.00" rx="0.5" fill="url(#p7)" stroke="#2a2418" stroke-width="0.9"/>
<rect x="376.1" y="685.61" width="20.2" height="5.00" rx="0.5" fill="url(#p7)" stroke="#2a2418" stroke-width="0.9"/>
<rect x="421.1" y="685.61" width="5.2" height="5.00" rx="0.5" fill="url(#p7)" stroke="#2a2418" stroke-width="0.9"/>
<rect x="430.4" y="685.61" width="25.9" height="5.00" rx="0.5" fill="url(#p7)" stroke="#2a2418" stroke-width="0.9"/>
<rect x="458.1" y="685.61" width="10.5" height="5.00" rx="0.5" fill="url(#p7)" stroke="#2a2418" stroke-width="0.9"/>
<rect x="480.4" y="685.61" width="9.2" height="5.00" rx="0.5" fill="url(#p7)" stroke="#2a2418" stroke-width="0.9"/>
<rect x="492.7" y="685.61" width="10.2" height="5.00" rx="0.5" fill="url(#p7)" stroke="#2a2418" stroke-width="0.9"/>
<rect x="506.1" y="685.61" width="39.5" height="5.00" rx="0.5" fill="url(#p7)" stroke="#2a2418" stroke-width="0.9"/>
<rect x="561.4" y="685.61" width="6.9" height="5.00" rx="0.5" fill="url(#p7)" stroke="#2a2418" stroke-width="0.9"/>
<rect x="572.6" y="685.61" width="3.5" height="5.00" rx="0.5" fill="url(#p7)" stroke="#2a2418" stroke-width="0.9"/>
<rect x="579.4" y="685.61" width="12.8" height="5.00" rx="0.5" fill="url(#p7)" stroke="#2a2418" stroke-width="0.9"/>
<path d="M257.3 692.16H277.0L280.0 694.51L277.0 696.86H257.3Z" fill="#0606e4"/>
<path d="M282.7 692.16H300.3L303.3 694.51L300.3 696.86H282.7Z" fill="#0606e4"/>
<path d="M315.0 692.16H384.3L387.3 694.51L384.3 696.86H315.0Z" fill="#0606e4"/>
<path d="M435.0 692.16H452.0L455.0 694.51L452.0 696.86H435.0Z" fill="#0606e4"/>
<path d="M480.0 692.16H499.7L502.7 694.51L499.7 696.86H480.0Z" fill="#0606e4"/>
<path d="M534.0 692.16H567.0L570.0 694.51L567.0 696.86H534.0Z" fill="#0606e4"/>
<path d="M291.9 699.36L295.5 701.76L291.9 704.16Z" fill="#000"/>
<path d="M511.7 699.36L515.3 701.76L511.7 704.16Z" fill="#000"/>
<text transform="translate(5.2 718.68) scale(0.86 1)" font-size="8.6" letter-spacing="0.3" fill="#1a1a1a" stroke="#1a1a1a" stroke-width="0.28" font-family="Liberation Sans, sans-serif">27.</text>
<text transform="translate(19.6 718.68) scale(0.86 1)" font-size="8.6" letter-spacing="0.15" fill="#1a1a1a" stroke="#1a1a1a" stroke-width="0.28" font-family="Liberation Sans, sans-serif">GsPIP2;9</text>
<text transform="translate(19 733.68) scale(0.86 1)" font-size="8.6" letter-spacing="0.75" fill="#1a1a1a" stroke="#1a1a1a" stroke-width="0.28" font-family="Liberation Sans, sans-serif">Motifs</text>
<rect x="152.3" y="714.73" width="440.3" height="1.3" fill="#3c3c3c"/>
<rect x="152.7" y="712.93" width="11.2" height="5.00" rx="0.5" fill="url(#p8)" stroke="#2a2418" stroke-width="0.9"/>
<rect x="178.1" y="712.93" width="16.5" height="5.00" rx="0.5" fill="url(#p8)" stroke="#2a2418" stroke-width="0.9"/>
<rect x="198.1" y="712.93" width="4.2" height="5.00" rx="0.5" fill="url(#p8)" stroke="#2a2418" stroke-width="0.9"/>
<rect x="222.1" y="712.93" width="28.5" height="5.00" rx="0.5" fill="url(#p8)" stroke="#2a2418" stroke-width="0.9"/>
<rect x="252.7" y="712.93" width="20.2" height="5.00" rx="0.5" fill="url(#p8)" stroke="#2a2418" stroke-width="0.9"/>
<rect x="277.1" y="712.93" width="24.2" height="5.00" rx="0.5" fill="url(#p8)" stroke="#2a2418" stroke-width="0.9"/>
<rect x="302.1" y="712.93" width="5.2" height="5.00" rx="0.5" fill="url(#p8)" stroke="#2a2418" stroke-width="0.9"/>
<rect x="310.4" y="712.93" width="11.9" height="5.00" rx="0.5" fill="url(#p8)" stroke="#2a2418" stroke-width="0.9"/>
<rect x="376.1" y="712.93" width="20.2" height="5.00" rx="0.5" fill="url(#p8)" stroke="#2a2418" stroke-width="0.9"/>
<rect x="421.1" y="712.93" width="5.2" height="5.00" rx="0.5" fill="url(#p8)" stroke="#2a2418" stroke-width="0.9"/>
<rect x="430.4" y="712.93" width="25.9" height="5.00" rx="0.5" fill="url(#p8)" stroke="#2a2418" stroke-width="0.9"/>
<rect x="458.1" y="712.93" width="10.5" height="5.00" rx="0.5" fill="url(#p8)" stroke="#2a2418" stroke-width="0.9"/>
<rect x="480.4" y="712.93" width="9.2" height="5.00" rx="0.5" fill="url(#p8)" stroke="#2a2418" stroke-width="0.9"/>
<rect x="492.7" y="712.93" width="10.2" height="5.00" rx="0.5" fill="url(#p8)" stroke="#2a2418" stroke-width="0.9"/>
<rect x="506.1" y="712.93" width="39.5" height="5.00" rx="0.5" fill="url(#p8)" stroke="#2a2418" stroke-width="0.9"/>
<rect x="561.4" y="712.93" width="6.9" height="5.00" rx="0.5" fill="url(#p8)" stroke="#2a2418" stroke-width="0.9"/>
<rect x="572.6" y="712.93" width="3.5" height="5.00" rx="0.5" fill="url(#p8)" stroke="#2a2418" stroke-width="0.9"/>
<rect x="579.4" y="712.93" width="12.8" height="5.00" rx="0.5" fill="url(#p8)" stroke="#2a2418" stroke-width="0.9"/>
<path d="M223.3 719.48H241.3L244.3 721.83L241.3 724.18H223.3Z" fill="#0606e4"/>
<path d="M257.3 719.48H277.0L280.0 721.83L277.0 724.18H257.3Z" fill="#0606e4"/>
<path d="M282.7 719.48H300.3L303.3 721.83L300.3 724.18H282.7Z" fill="#0606e4"/>
<path d="M315.0 719.48H384.3L387.3 721.83L384.3 724.18H315.0Z" fill="#0606e4"/>
<path d="M435.0 719.48H452.0L455.0 721.83L452.0 724.18H435.0Z" fill="#0606e4"/>
<path d="M480.0 719.48H499.7L502.7 721.83L499.7 724.18H480.0Z" fill="#0606e4"/>
<path d="M534.0 719.48H567.0L570.0 721.83L567.0 724.18H534.0Z" fill="#0606e4"/>
<path d="M291.9 726.68L295.5 729.08L291.9 731.48Z" fill="#000"/>
<path d="M511.7 726.68L515.3 729.08L511.7 731.48Z" fill="#000"/>
<text transform="translate(5.2 746.00) scale(0.86 1)" font-size="8.6" letter-spacing="0.3" fill="#1a1a1a" stroke="#1a1a1a" stroke-width="0.28" font-family="Liberation Sans, sans-serif">28.</text>
<text transform="translate(19.6 746.00) scale(0.86 1)" font-size="8.6" letter-spacing="0.15" fill="#1a1a1a" stroke="#1a1a1a" stroke-width="0.28" font-family="Liberation Sans, sans-serif">GsPIP2;10</text>
<text transform="translate(19 761.00) scale(0.86 1)" font-size="8.6" letter-spacing="0.75" fill="#1a1a1a" stroke="#1a1a1a" stroke-width="0.28" font-family="Liberation Sans, sans-serif">Motifs</text>
<rect x="152.3" y="742.05" width="440.3" height="1.3" fill="#3c3c3c"/>
<rect x="152.7" y="740.25" width="11.2" height="5.00" rx="0.5" fill="url(#p6)" stroke="#2a2418" stroke-width="0.9"/>
<rect x="178.1" y="740.25" width="16.5" height="5.00" rx="0.5" fill="url(#p6)" stroke="#2a2418" stroke-width="0.9"/>
<rect x="198.1" y="740.25" width="4.2" height="5.00" rx="0.5" fill="url(#p6)" stroke="#2a2418" stroke-width="0.9"/>
<rect x="222.1" y="740.25" width="28.5" height="5.00" rx="0.5" fill="url(#p6)" stroke="#2a2418" stroke-width="0.9"/>
<rect x="252.7" y="740.25" width="20.2" height="5.00" rx="0.5" fill="url(#p6)" stroke="#2a2418" stroke-width="0.9"/>
<rect x="277.1" y="740.25" width="24.2" height="5.00" rx="0.5" fill="url(#p6)" stroke="#2a2418" stroke-width="0.9"/>
<rect x="302.1" y="740.25" width="5.2" height="5.00" rx="0.5" fill="url(#p6)" stroke="#2a2418" stroke-width="0.9"/>
<rect x="310.4" y="740.25" width="11.9" height="5.00" rx="0.5" fill="url(#p6)" stroke="#2a2418" stroke-width="0.9"/>
<rect x="376.1" y="740.25" width="20.2" height="5.00" rx="0.5" fill="url(#p6)" stroke="#2a2418" stroke-width="0.9"/>
<rect x="421.1" y="740.25" width="5.2" height="5.00" rx="0.5" fill="url(#p6)" stroke="#2a2418" stroke-width="0.9"/>
<rect x="430.4" y="740.25" width="25.9" height="5.00" rx="0.5" fill="url(#p6)" stroke="#2a2418" stroke-width="0.9"/>
<rect x="458.1" y="740.25" width="10.5" height="5.00" rx="0.5" fill="url(#p6)" stroke="#2a2418" stroke-width="0.9"/>
<rect x="480.4" y="740.25" width="9.2" height="5.00" rx="0.5" fill="url(#p6)" stroke="#2a2418" stroke-width="0.9"/>
<rect x="492.7" y="740.25" width="10.2" height="5.00" rx="0.5" fill="url(#p6)" stroke="#2a2418" stroke-width="0.9"/>
<rect x="506.1" y="740.25" width="39.5" height="5.00" rx="0.5" fill="url(#p6)" stroke="#2a2418" stroke-width="0.9"/>
<rect x="561.4" y="740.25" width="6.9" height="5.00" rx="0.5" fill="url(#p6)" stroke="#2a2418" stroke-width="0.9"/>
<rect x="572.6" y="740.25" width="3.5" height="5.00" rx="0.5" fill="url(#p6)" stroke="#2a2418" stroke-width="0.9"/>
<rect x="579.4" y="740.25" width="12.8" height="5.00" rx="0.5" fill="url(#p6)" stroke="#2a2418" stroke-width="0.9"/>
<path d="M223.3 746.80H241.3L244.3 749.15L241.3 751.50H223.3Z" fill="#0606e4"/>
<path d="M257.3 746.80H277.0L280.0 749.15L277.0 751.50H257.3Z" fill="#0606e4"/>
<path d="M282.7 746.80H300.3L303.3 749.15L300.3 751.50H282.7Z" fill="#0606e4"/>
<path d="M315.0 746.80H384.3L387.3 749.15L384.3 751.50H315.0Z" fill="#0606e4"/>
<path d="M435.0 746.80H452.0L455.0 749.15L452.0 751.50H435.0Z" fill="#0606e4"/>
<path d="M480.0 746.80H499.7L502.7 749.15L499.7 751.50H480.0Z" fill="#0606e4"/>
<path d="M534.0 746.80H567.0L570.0 749.15L567.0 751.50H534.0Z" fill="#0606e4"/>
<path d="M291.9 754.00L295.5 756.40L291.9 758.80Z" fill="#000"/>
<path d="M511.7 754.00L515.3 756.40L511.7 758.80Z" fill="#000"/>
<path d="M587.3 754.00L590.9 756.40L587.3 758.80Z" fill="#000"/>
<text transform="translate(5.2 773.32) scale(0.86 1)" font-size="8.6" letter-spacing="0.3" fill="#1a1a1a" stroke="#1a1a1a" stroke-width="0.28" font-family="Liberation Sans, sans-serif">29.</text>
<text transform="translate(19.6 773.32) scale(0.86 1)" font-size="8.6" letter-spacing="0.15" fill="#1a1a1a" stroke="#1a1a1a" stroke-width="0.28" font-family="Liberation Sans, sans-serif">GsPIP2;14</text>
<text transform="translate(19 788.32) scale(0.86 1)" font-size="8.6" letter-spacing="0.75" fill="#1a1a1a" stroke="#1a1a1a" stroke-width="0.28" font-family="Liberation Sans, sans-serif">Motifs</text>
<rect x="148.3" y="769.37" width="444.3" height="1.3" fill="#3c3c3c"/>
<rect x="148.7" y="767.57" width="7.4" height="5.00" rx="0.5" fill="url(#p7)" stroke="#2a2418" stroke-width="0.9"/>
<rect x="157.4" y="767.57" width="6.5" height="5.00" rx="0.5" fill="url(#p7)" stroke="#2a2418" stroke-width="0.9"/>
<rect x="178.1" y="767.57" width="16.5" height="5.00" rx="0.5" fill="url(#p7)" stroke="#2a2418" stroke-width="0.9"/>
<rect x="198.1" y="767.57" width="4.2" height="5.00" rx="0.5" fill="url(#p7)" stroke="#2a2418" stroke-width="0.9"/>
<rect x="222.1" y="767.57" width="28.5" height="5.00" rx="0.5" fill="url(#p7)" stroke="#2a2418" stroke-width="0.9"/>
<rect x="255.4" y="767.57" width="17.5" height="5.00" rx="0.5" fill="url(#p7)" stroke="#2a2418" stroke-width="0.9"/>
<rect x="277.1" y="767.57" width="24.2" height="5.00" rx="0.5" fill="url(#p7)" stroke="#2a2418" stroke-width="0.9"/>
<rect x="302.1" y="767.57" width="5.2" height="5.00" rx="0.5" fill="url(#p7)" stroke="#2a2418" stroke-width="0.9"/>
<rect x="310.4" y="767.57" width="11.9" height="5.00" rx="0.5" fill="url(#p7)" stroke="#2a2418" stroke-width="0.9"/>
<rect x="376.1" y="767.57" width="20.2" height="5.00" rx="0.5" fill="url(#p7)" stroke="#2a2418" stroke-width="0.9"/>
<rect x="421.1" y="767.57" width="5.2" height="5.00" rx="0.5" fill="url(#p7)" stroke="#2a2418" stroke-width="0.9"/>
<rect x="430.4" y="767.57" width="25.9" height="5.00" rx="0.5" fill="url(#p7)" stroke="#2a2418" stroke-width="0.9"/>
<rect x="458.1" y="767.57" width="10.5" height="5.00" rx="0.5" fill="url(#p7)" stroke="#2a2418" stroke-width="0.9"/>
<rect x="480.4" y="767.57" width="9.2" height="5.00" rx="0.5" fill="url(#p7)" stroke="#2a2418" stroke-width="0.9"/>
<rect x="492.7" y="767.57" width="10.2" height="5.00" rx="0.5" fill="url(#p7)" stroke="#2a2418" stroke-width="0.9"/>
<rect x="506.1" y="767.57" width="39.5" height="5.00" rx="0.5" fill="url(#p7)" stroke="#2a2418" stroke-width="0.9"/>
<rect x="561.4" y="767.57" width="6.9" height="5.00" rx="0.5" fill="url(#p7)" stroke="#2a2418" stroke-width="0.9"/>
<rect x="572.6" y="767.57" width="3.5" height="5.00" rx="0.5" fill="url(#p7)" stroke="#2a2418" stroke-width="0.9"/>
<rect x="579.4" y="767.57" width="12.8" height="5.00" rx="0.5" fill="url(#p7)" stroke="#2a2418" stroke-width="0.9"/>
<path d="M223.3 774.12H239.3L242.3 776.47L239.3 778.82H223.3Z" fill="#0606e4"/>
<path d="M267.3 774.12H287.0L290.0 776.47L287.0 778.82H267.3Z" fill="#0606e4"/>
<path d="M313.3 774.12H384.3L387.3 776.47L384.3 778.82H313.3Z" fill="#0606e4"/>
<path d="M435.0 774.12H452.0L455.0 776.47L452.0 778.82H435.0Z" fill="#0606e4"/>
<path d="M480.0 774.12H499.7L502.7 776.47L499.7 778.82H480.0Z" fill="#0606e4"/>
<path d="M534.0 774.12H567.0L570.0 776.47L567.0 778.82H534.0Z" fill="#0606e4"/>
<path d="M291.9 781.32L295.5 783.72L291.9 786.12Z" fill="#000"/>
<path d="M511.7 781.32L515.3 783.72L511.7 786.12Z" fill="#000"/>
<text transform="translate(5.2 800.64) scale(0.86 1)" font-size="8.6" letter-spacing="0.3" fill="#1a1a1a" stroke="#1a1a1a" stroke-width="0.28" font-family="Liberation Sans, sans-serif">30.</text>
<text transform="translate(19.6 800.64) scale(0.86 1)" font-size="8.6" letter-spacing="0.15" fill="#1a1a1a" stroke="#1a1a1a" stroke-width="0.28" font-family="Liberation Sans, sans-serif">GsPIP2;13</text>
<text transform="translate(19 815.64) scale(0.86 1)" font-size="8.6" letter-spacing="0.75" fill="#1a1a1a" stroke="#1a1a1a" stroke-width="0.28" font-family="Liberation Sans, sans-serif">Motifs</text>
<rect x="148.3" y="796.69" width="444.3" height="1.3" fill="#3c3c3c"/>
<rect x="148.7" y="794.89" width="7.6" height="5.00" rx="0.5" fill="url(#p8)" stroke="#2a2418" stroke-width="0.9"/>
<rect x="157.1" y="794.89" width="6.8" height="5.00" rx="0.5" fill="url(#p8)" stroke="#2a2418" stroke-width="0.9"/>
<rect x="178.1" y="794.89" width="16.5" height="5.00" rx="0.5" fill="url(#p8)" stroke="#2a2418" stroke-width="0.9"/>
<rect x="198.1" y="794.89" width="4.2" height="5.00" rx="0.5" fill="url(#p8)" stroke="#2a2418" stroke-width="0.9"/>
<rect x="222.1" y="794.89" width="28.5" height="5.00" rx="0.5" fill="url(#p8)" stroke="#2a2418" stroke-width="0.9"/>
<rect x="252.7" y="794.89" width="20.2" height="5.00" rx="0.5" fill="url(#p8)" stroke="#2a2418" stroke-width="0.9"/>
<rect x="277.1" y="794.89" width="24.2" height="5.00" rx="0.5" fill="url(#p8)" stroke="#2a2418" stroke-width="0.9"/>
<rect x="302.1" y="794.89" width="5.2" height="5.00" rx="0.5" fill="url(#p8)" stroke="#2a2418" stroke-width="0.9"/>
<rect x="310.4" y="794.89" width="11.9" height="5.00" rx="0.5" fill="url(#p8)" stroke="#2a2418" stroke-width="0.9"/>
<rect x="376.1" y="794.89" width="20.2" height="5.00" rx="0.5" fill="url(#p8)" stroke="#2a2418" stroke-width="0.9"/>
<rect x="421.1" y="794.89" width="5.2" height="5.00" rx="0.5" fill="url(#p8)" stroke="#2a2418" stroke-width="0.9"/>
<rect x="430.4" y="794.89" width="25.9" height="5.00" rx="0.5" fill="url(#p8)" stroke="#2a2418" stroke-width="0.9"/>
<rect x="458.1" y="794.89" width="10.5" height="5.00" rx="0.5" fill="url(#p8)" stroke="#2a2418" stroke-width="0.9"/>
<rect x="480.4" y="794.89" width="9.2" height="5.00" rx="0.5" fill="url(#p8)" stroke="#2a2418" stroke-width="0.9"/>
<rect x="492.7" y="794.89" width="10.2" height="5.00" rx="0.5" fill="url(#p8)" stroke="#2a2418" stroke-width="0.9"/>
<rect x="506.1" y="794.89" width="39.5" height="5.00" rx="0.5" fill="url(#p8)" stroke="#2a2418" stroke-width="0.9"/>
<rect x="561.4" y="794.89" width="6.9" height="5.00" rx="0.5" fill="url(#p8)" stroke="#2a2418" stroke-width="0.9"/>
<rect x="572.6" y="794.89" width="3.5" height="5.00" rx="0.5" fill="url(#p8)" stroke="#2a2418" stroke-width="0.9"/>
<rect x="579.4" y="794.89" width="12.8" height="5.00" rx="0.5" fill="url(#p8)" stroke="#2a2418" stroke-width="0.9"/>
<path d="M222.7 801.44H239.3L242.3 803.79L239.3 806.14H222.7Z" fill="#0606e4"/>
<path d="M264.3 801.44H284.7L287.7 803.79L284.7 806.14H264.3Z" fill="#0606e4"/>
<path d="M311.0 801.44H381.3L384.3 803.79L381.3 806.14H311.0Z" fill="#0606e4"/>
<path d="M431.7 801.44H448.7L451.7 803.79L448.7 806.14H431.7Z" fill="#0606e4"/>
<path d="M480.0 801.44H499.7L502.7 803.79L499.7 806.14H480.0Z" fill="#0606e4"/>
<path d="M534.0 801.44H567.0L570.0 803.79L567.0 806.14H534.0Z" fill="#0606e4"/>
<path d="M291.9 808.64L295.5 811.04L291.9 813.44Z" fill="#000"/>
<path d="M511.7 808.64L515.3 811.04L511.7 813.44Z" fill="#000"/>
<text transform="translate(5.2 827.96) scale(0.86 1)" font-size="8.6" letter-spacing="0.3" fill="#1a1a1a" stroke="#1a1a1a" stroke-width="0.28" font-family="Liberation Sans, sans-serif">31.</text>
<text transform="translate(19.6 827.96) scale(0.86 1)" font-size="8.6" letter-spacing="0.15" fill="#1a1a1a" stroke="#1a1a1a" stroke-width="0.28" font-family="Liberation Sans, sans-serif">GsPIP2;3</text>
<text transform="translate(19 842.96) scale(0.86 1)" font-size="8.6" letter-spacing="0.75" fill="#1a1a1a" stroke="#1a1a1a" stroke-width="0.28" font-family="Liberation Sans, sans-serif">Motifs</text>
<rect x="148.3" y="824.01" width="442.4" height="1.3" fill="#3c3c3c"/>
<rect x="148.7" y="822.21" width="15.2" height="5.00" rx="0.5" fill="url(#p6)" stroke="#2a2418" stroke-width="0.9"/>
<rect x="178.1" y="822.21" width="16.5" height="5.00" rx="0.5" fill="url(#p6)" stroke="#2a2418" stroke-width="0.9"/>
<rect x="198.1" y="822.21" width="4.2" height="5.00" rx="0.5" fill="url(#p6)" stroke="#2a2418" stroke-width="0.9"/>
<rect x="222.1" y="822.21" width="28.5" height="5.00" rx="0.5" fill="url(#p6)" stroke="#2a2418" stroke-width="0.9"/>
<rect x="252.7" y="822.21" width="20.2" height="5.00" rx="0.5" fill="url(#p6)" stroke="#2a2418" stroke-width="0.9"/>
<rect x="277.1" y="822.21" width="24.2" height="5.00" rx="0.5" fill="url(#p6)" stroke="#2a2418" stroke-width="0.9"/>
<rect x="302.1" y="822.21" width="5.2" height="5.00" rx="0.5" fill="url(#p6)" stroke="#2a2418" stroke-width="0.9"/>
<rect x="310.4" y="822.21" width="11.9" height="5.00" rx="0.5" fill="url(#p6)" stroke="#2a2418" stroke-width="0.9"/>
<rect x="376.1" y="822.21" width="20.2" height="5.00" rx="0.5" fill="url(#p6)" stroke="#2a2418" stroke-width="0.9"/>
<rect x="421.1" y="822.21" width="5.2" height="5.00" rx="0.5" fill="url(#p6)" stroke="#2a2418" stroke-width="0.9"/>
<rect x="430.4" y="822.21" width="25.9" height="5.00" rx="0.5" fill="url(#p6)" stroke="#2a2418" stroke-width="0.9"/>
<rect x="458.1" y="822.21" width="10.5" height="5.00" rx="0.5" fill="url(#p6)" stroke="#2a2418" stroke-width="0.9"/>
<rect x="480.4" y="822.21" width="9.2" height="5.00" rx="0.5" fill="url(#p6)" stroke="#2a2418" stroke-width="0.9"/>
<rect x="492.7" y="822.21" width="10.2" height="5.00" rx="0.5" fill="url(#p6)" stroke="#2a2418" stroke-width="0.9"/>
<rect x="506.1" y="822.21" width="39.5" height="5.00" rx="0.5" fill="url(#p6)" stroke="#2a2418" stroke-width="0.9"/>
<rect x="561.4" y="822.21" width="6.9" height="5.00" rx="0.5" fill="url(#p6)" stroke="#2a2418" stroke-width="0.9"/>
<rect x="572.6" y="822.21" width="3.5" height="5.00" rx="0.5" fill="url(#p6)" stroke="#2a2418" stroke-width="0.9"/>
<rect x="579.4" y="822.21" width="10.9" height="5.00" rx="0.5" fill="url(#p6)" stroke="#2a2418" stroke-width="0.9"/>
<path d="M222.7 828.76H239.3L242.3 831.11L239.3 833.46H222.7Z" fill="#0606e4"/>
<path d="M264.3 828.76H284.7L287.7 831.11L284.7 833.46H264.3Z" fill="#0606e4"/>
<path d="M311.0 828.76H381.3L384.3 831.11L381.3 833.46H311.0Z" fill="#0606e4"/>
<path d="M436.7 828.76H453.7L456.7 831.11L453.7 833.46H436.7Z" fill="#0606e4"/>
<path d="M480.0 828.76H499.7L502.7 831.11L499.7 833.46H480.0Z" fill="#0606e4"/>
<path d="M534.0 828.76H567.0L570.0 831.11L567.0 833.46H534.0Z" fill="#0606e4"/>
<path d="M291.9 835.96L295.5 838.36L291.9 840.76Z" fill="#000"/>
<path d="M511.7 835.96L515.3 838.36L511.7 840.76Z" fill="#000"/>
<text transform="translate(5.2 855.28) scale(0.86 1)" font-size="8.6" letter-spacing="0.3" fill="#1a1a1a" stroke="#1a1a1a" stroke-width="0.28" font-family="Liberation Sans, sans-serif">32.</text>
<text transform="translate(19.6 855.28) scale(0.86 1)" font-size="8.6" letter-spacing="0.15" fill="#1a1a1a" stroke="#1a1a1a" stroke-width="0.28" font-family="Liberation Sans, sans-serif">GsPIP2;4</text>
<text transform="translate(19 870.28) scale(0.86 1)" font-size="8.6" letter-spacing="0.75" fill="#1a1a1a" stroke="#1a1a1a" stroke-width="0.28" font-family="Liberation Sans, sans-serif">Motifs</text>
<rect x="148.3" y="851.33" width="442.4" height="1.3" fill="#3c3c3c"/>
<rect x="148.7" y="849.53" width="15.2" height="5.00" rx="0.5" fill="url(#p7)" stroke="#2a2418" stroke-width="0.9"/>
<rect x="178.1" y="849.53" width="16.5" height="5.00" rx="0.5" fill="url(#p7)" stroke="#2a2418" stroke-width="0.9"/>
<rect x="198.1" y="849.53" width="4.2" height="5.00" rx="0.5" fill="url(#p7)" stroke="#2a2418" stroke-width="0.9"/>
<rect x="222.1" y="849.53" width="28.5" height="5.00" rx="0.5" fill="url(#p7)" stroke="#2a2418" stroke-width="0.9"/>
<rect x="252.7" y="849.53" width="20.2" height="5.00" rx="0.5" fill="url(#p7)" stroke="#2a2418" stroke-width="0.9"/>
<rect x="277.1" y="849.53" width="24.2" height="5.00" rx="0.5" fill="url(#p7)" stroke="#2a2418" stroke-width="0.9"/>
<rect x="302.1" y="849.53" width="5.2" height="5.00" rx="0.5" fill="url(#p7)" stroke="#2a2418" stroke-width="0.9"/>
<rect x="310.4" y="849.53" width="11.9" height="5.00" rx="0.5" fill="url(#p7)" stroke="#2a2418" stroke-width="0.9"/>
<rect x="376.1" y="849.53" width="20.2" height="5.00" rx="0.5" fill="url(#p7)" stroke="#2a2418" stroke-width="0.9"/>
<rect x="421.1" y="849.53" width="5.2" height="5.00" rx="0.5" fill="url(#p7)" stroke="#2a2418" stroke-width="0.9"/>
<rect x="430.4" y="849.53" width="25.9" height="5.00" rx="0.5" fill="url(#p7)" stroke="#2a2418" stroke-width="0.9"/>
<rect x="458.1" y="849.53" width="10.5" height="5.00" rx="0.5" fill="url(#p7)" stroke="#2a2418" stroke-width="0.9"/>
<rect x="480.4" y="849.53" width="9.2" height="5.00" rx="0.5" fill="url(#p7)" stroke="#2a2418" stroke-width="0.9"/>
<rect x="492.7" y="849.53" width="10.2" height="5.00" rx="0.5" fill="url(#p7)" stroke="#2a2418" stroke-width="0.9"/>
<rect x="506.1" y="849.53" width="39.5" height="5.00" rx="0.5" fill="url(#p7)" stroke="#2a2418" stroke-width="0.9"/>
<rect x="561.4" y="849.53" width="6.9" height="5.00" rx="0.5" fill="url(#p7)" stroke="#2a2418" stroke-width="0.9"/>
<rect x="572.6" y="849.53" width="3.5" height="5.00" rx="0.5" fill="url(#p7)" stroke="#2a2418" stroke-width="0.9"/>
<rect x="579.4" y="849.53" width="10.9" height="5.00" rx="0.5" fill="url(#p7)" stroke="#2a2418" stroke-width="0.9"/>
<path d="M222.7 856.08H239.3L242.3 858.43L239.3 860.78H222.7Z" fill="#0606e4"/>
<path d="M264.3 856.08H284.7L287.7 858.43L284.7 860.78H264.3Z" fill="#0606e4"/>
<path d="M311.0 856.08H381.3L384.3 858.43L381.3 860.78H311.0Z" fill="#0606e4"/>
<path d="M436.7 856.08H453.7L456.7 858.43L453.7 860.78H436.7Z" fill="#0606e4"/>
<path d="M480.0 856.08H502.0L505.0 858.43L502.0 860.78H480.0Z" fill="#0606e4"/>
<path d="M534.0 856.08H567.0L570.0 858.43L567.0 860.78H534.0Z" fill="#0606e4"/>
<path d="M291.9 863.28L295.5 865.68L291.9 868.08Z" fill="#000"/>
<path d="M511.7 863.28L515.3 865.68L511.7 868.08Z" fill="#000"/>
<text transform="translate(5.2 882.60) scale(0.86 1)" font-size="8.6" letter-spacing="0.3" fill="#1a1a1a" stroke="#1a1a1a" stroke-width="0.28" font-family="Liberation Sans, sans-serif">33.</text>
<text transform="translate(19.6 882.60) scale(0.86 1)" font-size="8.6" letter-spacing="0.15" fill="#1a1a1a" stroke="#1a1a1a" stroke-width="0.28" font-family="Liberation Sans, sans-serif">GsPIP2;6</text>
<text transform="translate(19 897.60) scale(0.86 1)" font-size="8.6" letter-spacing="0.75" fill="#1a1a1a" stroke="#1a1a1a" stroke-width="0.28" font-family="Liberation Sans, sans-serif">Motifs</text>
<rect x="148.3" y="878.65" width="442.4" height="1.3" fill="#3c3c3c"/>
<rect x="148.7" y="876.85" width="15.2" height="5.00" rx="0.5" fill="url(#p8)" stroke="#2a2418" stroke-width="0.9"/>
<rect x="178.1" y="876.85" width="16.5" height="5.00" rx="0.5" fill="url(#p8)" stroke="#2a2418" stroke-width="0.9"/>
<rect x="198.1" y="876.85" width="4.2" height="5.00" rx="0.5" fill="url(#p8)" stroke="#2a2418" stroke-width="0.9"/>
<rect x="222.1" y="876.85" width="28.5" height="5.00" rx="0.5" fill="url(#p8)" stroke="#2a2418" stroke-width="0.9"/>
<rect x="252.7" y="876.85" width="20.2" height="5.00" rx="0.5" fill="url(#p8)" stroke="#2a2418" stroke-width="0.9"/>
<rect x="277.1" y="876.85" width="24.2" height="5.00" rx="0.5" fill="url(#p8)" stroke="#2a2418" stroke-width="0.9"/>
<rect x="302.1" y="876.85" width="5.2" height="5.00" rx="0.5" fill="url(#p8)" stroke="#2a2418" stroke-width="0.9"/>
<rect x="310.4" y="876.85" width="11.9" height="5.00" rx="0.5" fill="url(#p8)" stroke="#2a2418" stroke-width="0.9"/>
<rect x="376.1" y="876.85" width="20.2" height="5.00" rx="0.5" fill="url(#p8)" stroke="#2a2418" stroke-width="0.9"/>
<rect x="421.1" y="876.85" width="5.2" height="5.00" rx="0.5" fill="url(#p8)" stroke="#2a2418" stroke-width="0.9"/>
<rect x="430.4" y="876.85" width="25.9" height="5.00" rx="0.5" fill="url(#p8)" stroke="#2a2418" stroke-width="0.9"/>
<rect x="458.1" y="876.85" width="10.5" height="5.00" rx="0.5" fill="url(#p8)" stroke="#2a2418" stroke-width="0.9"/>
<rect x="480.4" y="876.85" width="9.2" height="5.00" rx="0.5" fill="url(#p8)" stroke="#2a2418" stroke-width="0.9"/>
<rect x="492.7" y="876.85" width="10.2" height="5.00" rx="0.5" fill="url(#p8)" stroke="#2a2418" stroke-width="0.9"/>
<rect x="506.1" y="876.85" width="39.5" height="5.00" rx="0.5" fill="url(#p8)" stroke="#2a2418" stroke-width="0.9"/>
<rect x="561.4" y="876.85" width="6.9" height="5.00" rx="0.5" fill="url(#p8)" stroke="#2a2418" stroke-width="0.9"/>
<rect x="572.6" y="876.85" width="3.5" height="5.00" rx="0.5" fill="url(#p8)" stroke="#2a2418" stroke-width="0.9"/>
<rect x="579.4" y="876.85" width="10.9" height="5.00" rx="0.5" fill="url(#p8)" stroke="#2a2418" stroke-width="0.9"/>
<path d="M223.3 883.40H241.3L244.3 885.75L241.3 888.10H223.3Z" fill="#0606e4"/>
<path d="M264.3 883.40H284.7L287.7 885.75L284.7 888.10H264.3Z" fill="#0606e4"/>
<path d="M311.0 883.40H381.3L384.3 885.75L381.3 888.10H311.0Z" fill="#0606e4"/>
<path d="M436.7 883.40H453.7L456.7 885.75L453.7 888.10H436.7Z" fill="#0606e4"/>
<path d="M480.0 883.40H502.0L505.0 885.75L502.0 888.10H480.0Z" fill="#0606e4"/>
<path d="M534.0 883.40H567.0L570.0 885.75L567.0 888.10H534.0Z" fill="#0606e4"/>
<path d="M291.9 890.60L295.5 893.00L291.9 895.40Z" fill="#000"/>
<path d="M511.7 890.60L515.3 893.00L511.7 895.40Z" fill="#000"/>
<text transform="translate(5.2 909.92) scale(0.86 1)" font-size="8.6" letter-spacing="0.3" fill="#1a1a1a" stroke="#1a1a1a" stroke-width="0.28" font-family="Liberation Sans, sans-serif">34.</text>
<text transform="translate(19.6 909.92) scale(0.86 1)" font-size="8.6" letter-spacing="0.15" fill="#1a1a1a" stroke="#1a1a1a" stroke-width="0.28" font-family="Liberation Sans, sans-serif">GsPIP2;5</text>
<text transform="translate(19 924.92) scale(0.86 1)" font-size="8.6" letter-spacing="0.75" fill="#1a1a1a" stroke="#1a1a1a" stroke-width="0.28" font-family="Liberation Sans, sans-serif">Motifs</text>
<rect x="148.3" y="905.97" width="442.4" height="1.3" fill="#3c3c3c"/>
<rect x="148.7" y="904.17" width="15.2" height="5.00" rx="0.5" fill="url(#p6)" stroke="#2a2418" stroke-width="0.9"/>
<rect x="178.1" y="904.17" width="16.5" height="5.00" rx="0.5" fill="url(#p6)" stroke="#2a2418" stroke-width="0.9"/>
<rect x="198.1" y="904.17" width="4.2" height="5.00" rx="0.5" fill="url(#p6)" stroke="#2a2418" stroke-width="0.9"/>
<rect x="222.1" y="904.17" width="28.5" height="5.00" rx="0.5" fill="url(#p6)" stroke="#2a2418" stroke-width="0.9"/>
<rect x="252.7" y="904.17" width="20.2" height="5.00" rx="0.5" fill="url(#p6)" stroke="#2a2418" stroke-width="0.9"/>
<rect x="277.1" y="904.17" width="24.2" height="5.00" rx="0.5" fill="url(#p6)" stroke="#2a2418" stroke-width="0.9"/>
<rect x="302.1" y="904.17" width="5.2" height="5.00" rx="0.5" fill="url(#p6)" stroke="#2a2418" stroke-width="0.9"/>
<rect x="310.4" y="904.17" width="11.9" height="5.00" rx="0.5" fill="url(#p6)" stroke="#2a2418" stroke-width="0.9"/>
<rect x="376.1" y="904.17" width="20.2" height="5.00" rx="0.5" fill="url(#p6)" stroke="#2a2418" stroke-width="0.9"/>
<rect x="421.1" y="904.17" width="5.2" height="5.00" rx="0.5" fill="url(#p6)" stroke="#2a2418" stroke-width="0.9"/>
<rect x="430.4" y="904.17" width="25.9" height="5.00" rx="0.5" fill="url(#p6)" stroke="#2a2418" stroke-width="0.9"/>
<rect x="458.1" y="904.17" width="10.5" height="5.00" rx="0.5" fill="url(#p6)" stroke="#2a2418" stroke-width="0.9"/>
<rect x="480.4" y="904.17" width="9.2" height="5.00" rx="0.5" fill="url(#p6)" stroke="#2a2418" stroke-width="0.9"/>
<rect x="492.7" y="904.17" width="10.2" height="5.00" rx="0.5" fill="url(#p6)" stroke="#2a2418" stroke-width="0.9"/>
<rect x="506.1" y="904.17" width="39.5" height="5.00" rx="0.5" fill="url(#p6)" stroke="#2a2418" stroke-width="0.9"/>
<rect x="561.4" y="904.17" width="6.9" height="5.00" rx="0.5" fill="url(#p6)" stroke="#2a2418" stroke-width="0.9"/>
<rect x="572.6" y="904.17" width="3.5" height="5.00" rx="0.5" fill="url(#p6)" stroke="#2a2418" stroke-width="0.9"/>
<rect x="579.4" y="904.17" width="10.9" height="5.00" rx="0.5" fill="url(#p6)" stroke="#2a2418" stroke-width="0.9"/>
<path d="M223.3 910.72H241.3L244.3 913.07L241.3 915.42H223.3Z" fill="#0606e4"/>
<path d="M264.3 910.72H284.7L287.7 913.07L284.7 915.42H264.3Z" fill="#0606e4"/>
<path d="M311.0 910.72H381.3L384.3 913.07L381.3 915.42H311.0Z" fill="#0606e4"/>
<path d="M436.7 910.72H453.7L456.7 913.07L453.7 915.42H436.7Z" fill="#0606e4"/>
<path d="M480.0 910.72H502.0L505.0 913.07L502.0 915.42H480.0Z" fill="#0606e4"/>
<path d="M534.0 910.72H567.0L570.0 913.07L567.0 915.42H534.0Z" fill="#0606e4"/>
<path d="M291.9 917.92L295.5 920.32L291.9 922.72Z" fill="#000"/>
<path d="M511.7 917.92L515.3 920.32L511.7 922.72Z" fill="#000"/>
<text transform="translate(5.2 937.24) scale(0.86 1)" font-size="8.6" letter-spacing="0.3" fill="#1a1a1a" stroke="#1a1a1a" stroke-width="0.28" font-family="Liberation Sans, sans-serif">35.</text>
<text transform="translate(19.6 937.24) scale(0.86 1)" font-size="8.6" letter-spacing="0.15" fill="#1a1a1a" stroke="#1a1a1a" stroke-width="0.28" font-family="Liberation Sans, sans-serif">GsTIP5;1</text>
<text transform="translate(19 952.24) scale(0.86 1)" font-size="8.6" letter-spacing="0.75" fill="#1a1a1a" stroke="#1a1a1a" stroke-width="0.28" font-family="Liberation Sans, sans-serif">Motifs</text>
<rect x="242.7" y="933.29" width="346.0" height="1.3" fill="#3c3c3c"/>
<rect x="243.1" y="931.49" width="7.5" height="5.00" rx="0.5" fill="url(#p9)" stroke="#2a2418" stroke-width="0.9"/>
<rect x="255.4" y="931.49" width="17.5" height="5.00" rx="0.5" fill="url(#p9)" stroke="#2a2418" stroke-width="0.9"/>
<rect x="277.1" y="931.49" width="24.2" height="5.00" rx="0.5" fill="url(#p9)" stroke="#2a2418" stroke-width="0.9"/>
<rect x="302.1" y="931.49" width="5.2" height="5.00" rx="0.5" fill="url(#p9)" stroke="#2a2418" stroke-width="0.9"/>
<rect x="310.4" y="931.49" width="11.9" height="5.00" rx="0.5" fill="url(#p9)" stroke="#2a2418" stroke-width="0.9"/>
<rect x="376.1" y="931.49" width="50.2" height="5.00" rx="0.5" fill="url(#p9)" stroke="#2a2418" stroke-width="0.9"/>
<rect x="430.4" y="931.49" width="25.9" height="5.00" rx="0.5" fill="url(#p9)" stroke="#2a2418" stroke-width="0.9"/>
<rect x="458.1" y="931.49" width="4.8" height="5.00" rx="0.5" fill="url(#p9)" stroke="#2a2418" stroke-width="0.9"/>
<rect x="468.1" y="931.49" width="0.8" height="5.00" rx="0.5" fill="url(#p9)" stroke="#2a2418" stroke-width="0.9"/>
<rect x="480.4" y="931.49" width="9.2" height="5.00" rx="0.5" fill="url(#p9)" stroke="#2a2418" stroke-width="0.9"/>
<rect x="492.7" y="931.49" width="10.2" height="5.00" rx="0.5" fill="url(#p9)" stroke="#2a2418" stroke-width="0.9"/>
<rect x="506.1" y="931.49" width="20.2" height="5.00" rx="0.5" fill="url(#p9)" stroke="#2a2418" stroke-width="0.9"/>
<rect x="529.4" y="931.49" width="16.2" height="5.00" rx="0.5" fill="url(#p9)" stroke="#2a2418" stroke-width="0.9"/>
<rect x="561.4" y="931.49" width="8.2" height="5.00" rx="0.5" fill="url(#p9)" stroke="#2a2418" stroke-width="0.9"/>
<rect x="572.6" y="931.49" width="3.5" height="5.00" rx="0.5" fill="url(#p9)" stroke="#2a2418" stroke-width="0.9"/>
<rect x="579.4" y="931.49" width="8.9" height="5.00" rx="0.5" fill="url(#p9)" stroke="#2a2418" stroke-width="0.9"/>
<path d="M262.7 938.04H284.7L287.7 940.39L284.7 942.74H262.7Z" fill="#0606e4"/>
<path d="M311.0 938.04H381.3L384.3 940.39L381.3 942.74H311.0Z" fill="#0606e4"/>
<path d="M386.7 938.04H410.3L413.3 940.39L410.3 942.74H386.7Z" fill="#0606e4"/>
<path d="M436.7 938.04H453.7L456.7 940.39L453.7 942.74H436.7Z" fill="#0606e4"/>
<path d="M484.3 938.04H507.0L510.0 940.39L507.0 942.74H484.3Z" fill="#0606e4"/>
<path d="M532.5 938.04H565.0L568.0 940.39L565.0 942.74H532.5Z" fill="#0606e4"/>
<path d="M291.9 945.24L295.5 947.64L291.9 950.04Z" fill="#000"/>
<path d="M511.7 945.24L515.3 947.64L511.7 950.04Z" fill="#000"/>
<text transform="translate(5.2 964.56) scale(0.86 1)" font-size="8.6" letter-spacing="0.3" fill="#1a1a1a" stroke="#1a1a1a" stroke-width="0.28" font-family="Liberation Sans, sans-serif">36.</text>
<text transform="translate(19.6 964.56) scale(0.86 1)" font-size="8.6" letter-spacing="0.15" fill="#1a1a1a" stroke="#1a1a1a" stroke-width="0.28" font-family="Liberation Sans, sans-serif">GsTIP3;1</text>
<text transform="translate(19 979.56) scale(0.86 1)" font-size="8.6" letter-spacing="0.75" fill="#1a1a1a" stroke="#1a1a1a" stroke-width="0.28" font-family="Liberation Sans, sans-serif">Motifs</text>
<rect x="181.0" y="960.61" width="407.7" height="1.3" fill="#3c3c3c"/>
<rect x="181.4" y="958.81" width="13.2" height="5.00" rx="0.5" fill="url(#p10)" stroke="#2a2418" stroke-width="0.9"/>
<rect x="198.1" y="958.81" width="4.2" height="5.00" rx="0.5" fill="url(#p10)" stroke="#2a2418" stroke-width="0.9"/>
<rect x="221.4" y="958.81" width="29.2" height="5.00" rx="0.5" fill="url(#p10)" stroke="#2a2418" stroke-width="0.9"/>
<rect x="255.4" y="958.81" width="17.5" height="5.00" rx="0.5" fill="url(#p10)" stroke="#2a2418" stroke-width="0.9"/>
<rect x="277.1" y="958.81" width="24.2" height="5.00" rx="0.5" fill="url(#p10)" stroke="#2a2418" stroke-width="0.9"/>
<rect x="302.1" y="958.81" width="5.2" height="5.00" rx="0.5" fill="url(#p10)" stroke="#2a2418" stroke-width="0.9"/>
<rect x="310.4" y="958.81" width="11.9" height="5.00" rx="0.5" fill="url(#p10)" stroke="#2a2418" stroke-width="0.9"/>
<rect x="376.1" y="958.81" width="15.8" height="5.00" rx="0.5" fill="url(#p10)" stroke="#2a2418" stroke-width="0.9"/>
<rect x="421.1" y="958.81" width="5.2" height="5.00" rx="0.5" fill="url(#p10)" stroke="#2a2418" stroke-width="0.9"/>
<rect x="430.4" y="958.81" width="32.5" height="5.00" rx="0.5" fill="url(#p10)" stroke="#2a2418" stroke-width="0.9"/>
<rect x="468.1" y="958.81" width="0.8" height="5.00" rx="0.5" fill="url(#p10)" stroke="#2a2418" stroke-width="0.9"/>
<rect x="480.4" y="958.81" width="9.2" height="5.00" rx="0.5" fill="url(#p10)" stroke="#2a2418" stroke-width="0.9"/>
<rect x="492.7" y="958.81" width="10.2" height="5.00" rx="0.5" fill="url(#p10)" stroke="#2a2418" stroke-width="0.9"/>
<rect x="506.1" y="958.81" width="20.2" height="5.00" rx="0.5" fill="url(#p10)" stroke="#2a2418" stroke-width="0.9"/>
<rect x="529.4" y="958.81" width="16.2" height="5.00" rx="0.5" fill="url(#p10)" stroke="#2a2418" stroke-width="0.9"/>
<rect x="561.4" y="958.81" width="8.2" height="5.00" rx="0.5" fill="url(#p10)" stroke="#2a2418" stroke-width="0.9"/>
<rect x="572.6" y="958.81" width="15.7" height="5.00" rx="0.5" fill="url(#p10)" stroke="#2a2418" stroke-width="0.9"/>
<path d="M264.3 965.36H284.7L287.7 967.71L284.7 970.06H264.3Z" fill="#0606e4"/>
<path d="M311.0 965.36H381.3L384.3 967.71L381.3 970.06H311.0Z" fill="#0606e4"/>
<path d="M435.0 965.36H452.0L455.0 967.71L452.0 970.06H435.0Z" fill="#0606e4"/>
<path d="M484.3 965.36H507.0L510.0 967.71L507.0 970.06H484.3Z" fill="#0606e4"/>
<path d="M533.7 965.36H567.0L570.0 967.71L567.0 970.06H533.7Z" fill="#0606e4"/>
<path d="M291.9 972.56L295.5 974.96L291.9 977.36Z" fill="#000"/>
<path d="M511.7 972.56L515.3 974.96L511.7 977.36Z" fill="#000"/>
<text transform="translate(5.2 991.88) scale(0.86 1)" font-size="8.6" letter-spacing="0.3" fill="#1a1a1a" stroke="#1a1a1a" stroke-width="0.28" font-family="Liberation Sans, sans-serif">37.</text>
<text transform="translate(19.6 991.88) scale(0.86 1)" font-size="8.6" letter-spacing="0.15" fill="#1a1a1a" stroke="#1a1a1a" stroke-width="0.28" font-family="Liberation Sans, sans-serif">GsTIP3;2</text>
<text transform="translate(19 1006.88) scale(0.86 1)" font-size="8.6" letter-spacing="0.75" fill="#1a1a1a" stroke="#1a1a1a" stroke-width="0.28" font-family="Liberation Sans, sans-serif">Motifs</text>
<rect x="181.0" y="987.93" width="407.7" height="1.3" fill="#3c3c3c"/>
<rect x="181.4" y="986.13" width="13.2" height="5.00" rx="0.5" fill="url(#p11)" stroke="#2a2418" stroke-width="0.9"/>
<rect x="198.1" y="986.13" width="4.2" height="5.00" rx="0.5" fill="url(#p11)" stroke="#2a2418" stroke-width="0.9"/>
<rect x="221.4" y="986.13" width="29.2" height="5.00" rx="0.5" fill="url(#p11)" stroke="#2a2418" stroke-width="0.9"/>
<rect x="255.4" y="986.13" width="17.5" height="5.00" rx="0.5" fill="url(#p11)" stroke="#2a2418" stroke-width="0.9"/>
<rect x="277.1" y="986.13" width="24.2" height="5.00" rx="0.5" fill="url(#p11)" stroke="#2a2418" stroke-width="0.9"/>
<rect x="302.1" y="986.13" width="5.2" height="5.00" rx="0.5" fill="url(#p11)" stroke="#2a2418" stroke-width="0.9"/>
<rect x="310.4" y="986.13" width="11.9" height="5.00" rx="0.5" fill="url(#p11)" stroke="#2a2418" stroke-width="0.9"/>
<rect x="376.1" y="986.13" width="15.8" height="5.00" rx="0.5" fill="url(#p11)" stroke="#2a2418" stroke-width="0.9"/>
<rect x="421.1" y="986.13" width="5.2" height="5.00" rx="0.5" fill="url(#p11)" stroke="#2a2418" stroke-width="0.9"/>
<rect x="430.4" y="986.13" width="32.5" height="5.00" rx="0.5" fill="url(#p11)" stroke="#2a2418" stroke-width="0.9"/>
<rect x="468.1" y="986.13" width="0.8" height="5.00" rx="0.5" fill="url(#p11)" stroke="#2a2418" stroke-width="0.9"/>
<rect x="480.4" y="986.13" width="9.2" height="5.00" rx="0.5" fill="url(#p11)" stroke="#2a2418" stroke-width="0.9"/>
<rect x="492.7" y="986.13" width="10.2" height="5.00" rx="0.5" fill="url(#p11)" stroke="#2a2418" stroke-width="0.9"/>
<rect x="506.1" y="986.13" width="20.2" height="5.00" rx="0.5" fill="url(#p11)" stroke="#2a2418" stroke-width="0.9"/>
<rect x="529.4" y="986.13" width="16.2" height="5.00" rx="0.5" fill="url(#p11)" stroke="#2a2418" stroke-width="0.9"/>
<rect x="561.4" y="986.13" width="8.2" height="5.00" rx="0.5" fill="url(#p11)" stroke="#2a2418" stroke-width="0.9"/>
<rect x="572.6" y="986.13" width="15.7" height="5.00" rx="0.5" fill="url(#p11)" stroke="#2a2418" stroke-width="0.9"/>
<path d="M264.3 992.68H284.7L287.7 995.03L284.7 997.38H264.3Z" fill="#0606e4"/>
<path d="M311.0 992.68H381.3L384.3 995.03L381.3 997.38H311.0Z" fill="#0606e4"/>
<path d="M435.0 992.68H452.0L455.0 995.03L452.0 997.38H435.0Z" fill="#0606e4"/>
<path d="M485.7 992.68H507.0L510.0 995.03L507.0 997.38H485.7Z" fill="#0606e4"/>
<path d="M533.7 992.68H567.0L570.0 995.03L567.0 997.38H533.7Z" fill="#0606e4"/>
<path d="M291.9 999.88L295.5 1002.28L291.9 1004.68Z" fill="#000"/>
<path d="M511.7 999.88L515.3 1002.28L511.7 1004.68Z" fill="#000"/>
<text transform="translate(5.2 1019.20) scale(0.86 1)" font-size="8.6" letter-spacing="0.3" fill="#1a1a1a" stroke="#1a1a1a" stroke-width="0.28" font-family="Liberation Sans, sans-serif">38.</text>
<text transform="translate(19.6 1019.20) scale(0.86 1)" font-size="8.6" letter-spacing="0.15" fill="#1a1a1a" stroke="#1a1a1a" stroke-width="0.28" font-family="Liberation Sans, sans-serif">GsTIP3;3</text>
<text transform="translate(19 1034.20) scale(0.86 1)" font-size="8.6" letter-spacing="0.75" fill="#1a1a1a" stroke="#1a1a1a" stroke-width="0.28" font-family="Liberation Sans, sans-serif">Motifs</text>
<rect x="181.0" y="1015.25" width="407.7" height="1.3" fill="#3c3c3c"/>
<rect x="181.4" y="1013.45" width="13.2" height="5.00" rx="0.5" fill="url(#p9)" stroke="#2a2418" stroke-width="0.9"/>
<rect x="198.1" y="1013.45" width="4.2" height="5.00" rx="0.5" fill="url(#p9)" stroke="#2a2418" stroke-width="0.9"/>
<rect x="221.4" y="1013.45" width="29.2" height="5.00" rx="0.5" fill="url(#p9)" stroke="#2a2418" stroke-width="0.9"/>
<rect x="255.4" y="1013.45" width="17.5" height="5.00" rx="0.5" fill="url(#p9)" stroke="#2a2418" stroke-width="0.9"/>
<rect x="277.1" y="1013.45" width="24.2" height="5.00" rx="0.5" fill="url(#p9)" stroke="#2a2418" stroke-width="0.9"/>
<rect x="302.1" y="1013.45" width="5.2" height="5.00" rx="0.5" fill="url(#p9)" stroke="#2a2418" stroke-width="0.9"/>
<rect x="310.4" y="1013.45" width="11.9" height="5.00" rx="0.5" fill="url(#p9)" stroke="#2a2418" stroke-width="0.9"/>
<rect x="376.1" y="1013.45" width="15.8" height="5.00" rx="0.5" fill="url(#p9)" stroke="#2a2418" stroke-width="0.9"/>
<rect x="421.1" y="1013.45" width="5.2" height="5.00" rx="0.5" fill="url(#p9)" stroke="#2a2418" stroke-width="0.9"/>
<rect x="430.4" y="1013.45" width="32.5" height="5.00" rx="0.5" fill="url(#p9)" stroke="#2a2418" stroke-width="0.9"/>
<rect x="468.1" y="1013.45" width="0.8" height="5.00" rx="0.5" fill="url(#p9)" stroke="#2a2418" stroke-width="0.9"/>
<rect x="480.4" y="1013.45" width="9.2" height="5.00" rx="0.5" fill="url(#p9)" stroke="#2a2418" stroke-width="0.9"/>
<rect x="492.7" y="1013.45" width="10.2" height="5.00" rx="0.5" fill="url(#p9)" stroke="#2a2418" stroke-width="0.9"/>
<rect x="506.1" y="1013.45" width="20.2" height="5.00" rx="0.5" fill="url(#p9)" stroke="#2a2418" stroke-width="0.9"/>
<rect x="529.4" y="1013.45" width="16.2" height="5.00" rx="0.5" fill="url(#p9)" stroke="#2a2418" stroke-width="0.9"/>
<rect x="561.4" y="1013.45" width="8.2" height="5.00" rx="0.5" fill="url(#p9)" stroke="#2a2418" stroke-width="0.9"/>
<rect x="572.6" y="1013.45" width="15.7" height="5.00" rx="0.5" fill="url(#p9)" stroke="#2a2418" stroke-width="0.9"/>
<path d="M264.3 1020.00H284.7L287.7 1022.35L284.7 1024.70H264.3Z" fill="#0606e4"/>
<path d="M311.0 1020.00H381.3L384.3 1022.35L381.3 1024.70H311.0Z" fill="#0606e4"/>
<path d="M435.0 1020.00H452.0L455.0 1022.35L452.0 1024.70H435.0Z" fill="#0606e4"/>
<path d="M481.7 1020.00H504.7L507.7 1022.35L504.7 1024.70H481.7Z" fill="#0606e4"/>
<path d="M529.0 1020.00H561.3L564.3 1022.35L561.3 1024.70H529.0Z" fill="#0606e4"/>
<path d="M291.9 1027.20L295.5 1029.60L291.9 1032.00Z" fill="#000"/>
<path d="M511.7 1027.20L515.3 1029.60L511.7 1032.00Z" fill="#000"/>
<text transform="translate(5.2 1046.52) scale(0.86 1)" font-size="8.6" letter-spacing="0.3" fill="#1a1a1a" stroke="#1a1a1a" stroke-width="0.28" font-family="Liberation Sans, sans-serif">39.</text>
<text transform="translate(19.6 1046.52) scale(0.86 1)" font-size="8.6" letter-spacing="0.15" fill="#1a1a1a" stroke="#1a1a1a" stroke-width="0.28" font-family="Liberation Sans, sans-serif">GsTIP3;4</text>
<text transform="translate(19 1061.52) scale(0.86 1)" font-size="8.6" letter-spacing="0.75" fill="#1a1a1a" stroke="#1a1a1a" stroke-width="0.28" font-family="Liberation Sans, sans-serif">Motifs</text>
<rect x="181.0" y="1042.57" width="407.7" height="1.3" fill="#3c3c3c"/>
<rect x="181.4" y="1040.77" width="13.2" height="5.00" rx="0.5" fill="url(#p10)" stroke="#2a2418" stroke-width="0.9"/>
<rect x="198.1" y="1040.77" width="4.2" height="5.00" rx="0.5" fill="url(#p10)" stroke="#2a2418" stroke-width="0.9"/>
<rect x="221.4" y="1040.77" width="29.2" height="5.00" rx="0.5" fill="url(#p10)" stroke="#2a2418" stroke-width="0.9"/>
<rect x="255.4" y="1040.77" width="17.5" height="5.00" rx="0.5" fill="url(#p10)" stroke="#2a2418" stroke-width="0.9"/>
<rect x="277.1" y="1040.77" width="24.2" height="5.00" rx="0.5" fill="url(#p10)" stroke="#2a2418" stroke-width="0.9"/>
<rect x="302.1" y="1040.77" width="5.2" height="5.00" rx="0.5" fill="url(#p10)" stroke="#2a2418" stroke-width="0.9"/>
<rect x="310.4" y="1040.77" width="11.9" height="5.00" rx="0.5" fill="url(#p10)" stroke="#2a2418" stroke-width="0.9"/>
<rect x="376.1" y="1040.77" width="15.8" height="5.00" rx="0.5" fill="url(#p10)" stroke="#2a2418" stroke-width="0.9"/>
<rect x="421.1" y="1040.77" width="5.2" height="5.00" rx="0.5" fill="url(#p10)" stroke="#2a2418" stroke-width="0.9"/>
<rect x="430.4" y="1040.77" width="32.5" height="5.00" rx="0.5" fill="url(#p10)" stroke="#2a2418" stroke-width="0.9"/>
<rect x="468.1" y="1040.77" width="0.8" height="5.00" rx="0.5" fill="url(#p10)" stroke="#2a2418" stroke-width="0.9"/>
<rect x="480.4" y="1040.77" width="9.2" height="5.00" rx="0.5" fill="url(#p10)" stroke="#2a2418" stroke-width="0.9"/>
<rect x="492.7" y="1040.77" width="10.2" height="5.00" rx="0.5" fill="url(#p10)" stroke="#2a2418" stroke-width="0.9"/>
<rect x="506.1" y="1040.77" width="20.2" height="5.00" rx="0.5" fill="url(#p10)" stroke="#2a2418" stroke-width="0.9"/>
<rect x="529.4" y="1040.77" width="16.2" height="5.00" rx="0.5" fill="url(#p10)" stroke="#2a2418" stroke-width="0.9"/>
<rect x="561.4" y="1040.77" width="8.2" height="5.00" rx="0.5" fill="url(#p10)" stroke="#2a2418" stroke-width="0.9"/>
<rect x="572.6" y="1040.77" width="15.7" height="5.00" rx="0.5" fill="url(#p10)" stroke="#2a2418" stroke-width="0.9"/>
<path d="M264.3 1047.32H284.7L287.7 1049.67L284.7 1052.02H264.3Z" fill="#0606e4"/>
<path d="M311.0 1047.32H381.3L384.3 1049.67L381.3 1052.02H311.0Z" fill="#0606e4"/>
<path d="M435.0 1047.32H452.0L455.0 1049.67L452.0 1052.02H435.0Z" fill="#0606e4"/>
<path d="M481.7 1047.32H504.7L507.7 1049.67L504.7 1052.02H481.7Z" fill="#0606e4"/>
<path d="M529.0 1047.32H561.3L564.3 1049.67L561.3 1052.02H529.0Z" fill="#0606e4"/>
<path d="M291.9 1054.52L295.5 1056.92L291.9 1059.32Z" fill="#000"/>
<path d="M511.7 1054.52L515.3 1056.92L511.7 1059.32Z" fill="#000"/>
<text transform="translate(5.2 1073.84) scale(0.86 1)" font-size="8.6" letter-spacing="0.3" fill="#1a1a1a" stroke="#1a1a1a" stroke-width="0.28" font-family="Liberation Sans, sans-serif">40.</text>
<text transform="translate(19.6 1073.84) scale(0.86 1)" font-size="8.6" letter-spacing="0.15" fill="#1a1a1a" stroke="#1a1a1a" stroke-width="0.28" font-family="Liberation Sans, sans-serif">GsTIP4;2</text>
<text transform="translate(19 1088.84) scale(0.86 1)" font-size="8.6" letter-spacing="0.75" fill="#1a1a1a" stroke="#1a1a1a" stroke-width="0.28" font-family="Liberation Sans, sans-serif">Motifs</text>
<rect x="183.3" y="1069.89" width="406.1" height="1.3" fill="#3c3c3c"/>
<rect x="183.7" y="1068.09" width="10.9" height="5.00" rx="0.5" fill="url(#p11)" stroke="#2a2418" stroke-width="0.9"/>
<rect x="198.1" y="1068.09" width="4.2" height="5.00" rx="0.5" fill="url(#p11)" stroke="#2a2418" stroke-width="0.9"/>
<rect x="221.4" y="1068.09" width="29.2" height="5.00" rx="0.5" fill="url(#p11)" stroke="#2a2418" stroke-width="0.9"/>
<rect x="259.4" y="1068.09" width="12.9" height="5.00" rx="0.5" fill="url(#p11)" stroke="#2a2418" stroke-width="0.9"/>
<rect x="277.1" y="1068.09" width="24.2" height="5.00" rx="0.5" fill="url(#p11)" stroke="#2a2418" stroke-width="0.9"/>
<rect x="302.1" y="1068.09" width="5.2" height="5.00" rx="0.5" fill="url(#p11)" stroke="#2a2418" stroke-width="0.9"/>
<rect x="310.4" y="1068.09" width="11.9" height="5.00" rx="0.5" fill="url(#p11)" stroke="#2a2418" stroke-width="0.9"/>
<rect x="376.1" y="1068.09" width="15.8" height="5.00" rx="0.5" fill="url(#p11)" stroke="#2a2418" stroke-width="0.9"/>
<rect x="421.1" y="1068.09" width="5.2" height="5.00" rx="0.5" fill="url(#p11)" stroke="#2a2418" stroke-width="0.9"/>
<rect x="430.4" y="1068.09" width="32.5" height="5.00" rx="0.5" fill="url(#p11)" stroke="#2a2418" stroke-width="0.9"/>
<rect x="468.1" y="1068.09" width="0.8" height="5.00" rx="0.5" fill="url(#p11)" stroke="#2a2418" stroke-width="0.9"/>
<rect x="480.4" y="1068.09" width="9.2" height="5.00" rx="0.5" fill="url(#p11)" stroke="#2a2418" stroke-width="0.9"/>
<rect x="492.7" y="1068.09" width="10.2" height="5.00" rx="0.5" fill="url(#p11)" stroke="#2a2418" stroke-width="0.9"/>
<rect x="506.1" y="1068.09" width="20.2" height="5.00" rx="0.5" fill="url(#p11)" stroke="#2a2418" stroke-width="0.9"/>
<rect x="529.4" y="1068.09" width="16.2" height="5.00" rx="0.5" fill="url(#p11)" stroke="#2a2418" stroke-width="0.9"/>
<rect x="561.4" y="1068.09" width="8.2" height="5.00" rx="0.5" fill="url(#p11)" stroke="#2a2418" stroke-width="0.9"/>
<rect x="572.6" y="1068.09" width="2.7" height="5.00" rx="0.5" fill="url(#p11)" stroke="#2a2418" stroke-width="0.9"/>
<rect x="579.4" y="1068.09" width="9.6" height="5.00" rx="0.5" fill="url(#p11)" stroke="#2a2418" stroke-width="0.9"/>
<path d="M223.3 1074.64H241.3L244.3 1076.99L241.3 1079.34H223.3Z" fill="#0606e4"/>
<path d="M260.0 1074.64H288.0L291.0 1076.99L288.0 1079.34H260.0Z" fill="#0606e4"/>
<path d="M315.0 1074.64H384.3L387.3 1076.99L384.3 1079.34H315.0Z" fill="#0606e4"/>
<path d="M439.0 1074.64H457.0L460.0 1076.99L457.0 1079.34H439.0Z" fill="#0606e4"/>
<path d="M486.0 1074.64H508.7L511.7 1076.99L508.7 1079.34H486.0Z" fill="#0606e4"/>
<path d="M534.5 1074.64H567.0L570.0 1076.99L567.0 1079.34H534.5Z" fill="#0606e4"/>
<path d="M291.9 1081.84L295.5 1084.24L291.9 1086.64Z" fill="#000"/>
<path d="M511.7 1081.84L515.3 1084.24L511.7 1086.64Z" fill="#000"/>
<text transform="translate(5.2 1101.16) scale(0.86 1)" font-size="8.6" letter-spacing="0.3" fill="#1a1a1a" stroke="#1a1a1a" stroke-width="0.28" font-family="Liberation Sans, sans-serif">41.</text>
<text transform="translate(19.6 1101.16) scale(0.86 1)" font-size="8.6" letter-spacing="0.15" fill="#1a1a1a" stroke="#1a1a1a" stroke-width="0.28" font-family="Liberation Sans, sans-serif">GsTIP4;1</text>
<text transform="translate(19 1116.16) scale(0.86 1)" font-size="8.6" letter-spacing="0.75" fill="#1a1a1a" stroke="#1a1a1a" stroke-width="0.28" font-family="Liberation Sans, sans-serif">Motifs</text>
<rect x="183.3" y="1097.21" width="406.1" height="1.3" fill="#3c3c3c"/>
<rect x="183.7" y="1095.41" width="10.9" height="5.00" rx="0.5" fill="url(#p9)" stroke="#2a2418" stroke-width="0.9"/>
<rect x="198.1" y="1095.41" width="4.2" height="5.00" rx="0.5" fill="url(#p9)" stroke="#2a2418" stroke-width="0.9"/>
<rect x="221.4" y="1095.41" width="29.2" height="5.00" rx="0.5" fill="url(#p9)" stroke="#2a2418" stroke-width="0.9"/>
<rect x="259.4" y="1095.41" width="12.9" height="5.00" rx="0.5" fill="url(#p9)" stroke="#2a2418" stroke-width="0.9"/>
<rect x="277.1" y="1095.41" width="4.2" height="5.00" rx="0.5" fill="url(#p9)" stroke="#2a2418" stroke-width="0.9"/>
<rect x="283.1" y="1095.41" width="18.2" height="5.00" rx="0.5" fill="url(#p9)" stroke="#2a2418" stroke-width="0.9"/>
<rect x="302.1" y="1095.41" width="5.2" height="5.00" rx="0.5" fill="url(#p9)" stroke="#2a2418" stroke-width="0.9"/>
<rect x="310.4" y="1095.41" width="11.9" height="5.00" rx="0.5" fill="url(#p9)" stroke="#2a2418" stroke-width="0.9"/>
<rect x="376.1" y="1095.41" width="15.8" height="5.00" rx="0.5" fill="url(#p9)" stroke="#2a2418" stroke-width="0.9"/>
<rect x="421.1" y="1095.41" width="5.2" height="5.00" rx="0.5" fill="url(#p9)" stroke="#2a2418" stroke-width="0.9"/>
<rect x="430.4" y="1095.41" width="32.5" height="5.00" rx="0.5" fill="url(#p9)" stroke="#2a2418" stroke-width="0.9"/>
<rect x="468.1" y="1095.41" width="0.8" height="5.00" rx="0.5" fill="url(#p9)" stroke="#2a2418" stroke-width="0.9"/>
<rect x="480.4" y="1095.41" width="9.2" height="5.00" rx="0.5" fill="url(#p9)" stroke="#2a2418" stroke-width="0.9"/>
<rect x="492.7" y="1095.41" width="10.2" height="5.00" rx="0.5" fill="url(#p9)" stroke="#2a2418" stroke-width="0.9"/>
<rect x="506.1" y="1095.41" width="20.2" height="5.00" rx="0.5" fill="url(#p9)" stroke="#2a2418" stroke-width="0.9"/>
<rect x="529.4" y="1095.41" width="16.2" height="5.00" rx="0.5" fill="url(#p9)" stroke="#2a2418" stroke-width="0.9"/>
<rect x="561.4" y="1095.41" width="8.2" height="5.00" rx="0.5" fill="url(#p9)" stroke="#2a2418" stroke-width="0.9"/>
<rect x="572.6" y="1095.41" width="3.5" height="5.00" rx="0.5" fill="url(#p9)" stroke="#2a2418" stroke-width="0.9"/>
<rect x="579.4" y="1095.41" width="9.6" height="5.00" rx="0.5" fill="url(#p9)" stroke="#2a2418" stroke-width="0.9"/>
<path d="M223.3 1101.96H241.3L244.3 1104.31L241.3 1106.66H223.3Z" fill="#0606e4"/>
<path d="M260.0 1101.96H288.0L291.0 1104.31L288.0 1106.66H260.0Z" fill="#0606e4"/>
<path d="M315.0 1101.96H384.3L387.3 1104.31L384.3 1106.66H315.0Z" fill="#0606e4"/>
<path d="M439.0 1101.96H457.0L460.0 1104.31L457.0 1106.66H439.0Z" fill="#0606e4"/>
<path d="M486.0 1101.96H508.7L511.7 1104.31L508.7 1106.66H486.0Z" fill="#0606e4"/>
<path d="M534.5 1101.96H569.6L572.6 1104.31L569.6 1106.66H534.5Z" fill="#0606e4"/>
<path d="M291.9 1109.16L295.5 1111.56L291.9 1113.96Z" fill="#000"/>
<path d="M511.7 1109.16L515.3 1111.56L511.7 1113.96Z" fill="#000"/>
<text transform="translate(5.2 1128.48) scale(0.86 1)" font-size="8.6" letter-spacing="0.3" fill="#1a1a1a" stroke="#1a1a1a" stroke-width="0.28" font-family="Liberation Sans, sans-serif">42.</text>
<text transform="translate(19.6 1128.48) scale(0.86 1)" font-size="8.6" letter-spacing="0.15" fill="#1a1a1a" stroke="#1a1a1a" stroke-width="0.28" font-family="Liberation Sans, sans-serif">GsTIP1;4</text>
<text transform="translate(19 1143.48) scale(0.86 1)" font-size="8.6" letter-spacing="0.75" fill="#1a1a1a" stroke="#1a1a1a" stroke-width="0.28" font-family="Liberation Sans, sans-serif">Motifs</text>
<rect x="181.0" y="1124.53" width="407.7" height="1.3" fill="#3c3c3c"/>
<rect x="181.4" y="1122.73" width="13.2" height="5.00" rx="0.5" fill="url(#p10)" stroke="#2a2418" stroke-width="0.9"/>
<rect x="198.1" y="1122.73" width="4.2" height="5.00" rx="0.5" fill="url(#p10)" stroke="#2a2418" stroke-width="0.9"/>
<rect x="221.4" y="1122.73" width="29.2" height="5.00" rx="0.5" fill="url(#p10)" stroke="#2a2418" stroke-width="0.9"/>
<rect x="255.4" y="1122.73" width="17.5" height="5.00" rx="0.5" fill="url(#p10)" stroke="#2a2418" stroke-width="0.9"/>
<rect x="277.1" y="1122.73" width="24.2" height="5.00" rx="0.5" fill="url(#p10)" stroke="#2a2418" stroke-width="0.9"/>
<rect x="302.1" y="1122.73" width="5.2" height="5.00" rx="0.5" fill="url(#p10)" stroke="#2a2418" stroke-width="0.9"/>
<rect x="310.4" y="1122.73" width="11.9" height="5.00" rx="0.5" fill="url(#p10)" stroke="#2a2418" stroke-width="0.9"/>
<rect x="376.1" y="1122.73" width="15.8" height="5.00" rx="0.5" fill="url(#p10)" stroke="#2a2418" stroke-width="0.9"/>
<rect x="421.1" y="1122.73" width="5.2" height="5.00" rx="0.5" fill="url(#p10)" stroke="#2a2418" stroke-width="0.9"/>
<rect x="430.4" y="1122.73" width="32.5" height="5.00" rx="0.5" fill="url(#p10)" stroke="#2a2418" stroke-width="0.9"/>
<rect x="468.1" y="1122.73" width="0.8" height="5.00" rx="0.5" fill="url(#p10)" stroke="#2a2418" stroke-width="0.9"/>
<rect x="480.4" y="1122.73" width="9.2" height="5.00" rx="0.5" fill="url(#p10)" stroke="#2a2418" stroke-width="0.9"/>
<rect x="492.7" y="1122.73" width="10.2" height="5.00" rx="0.5" fill="url(#p10)" stroke="#2a2418" stroke-width="0.9"/>
<rect x="506.1" y="1122.73" width="20.2" height="5.00" rx="0.5" fill="url(#p10)" stroke="#2a2418" stroke-width="0.9"/>
<rect x="529.4" y="1122.73" width="16.2" height="5.00" rx="0.5" fill="url(#p10)" stroke="#2a2418" stroke-width="0.9"/>
<rect x="561.4" y="1122.73" width="8.2" height="5.00" rx="0.5" fill="url(#p10)" stroke="#2a2418" stroke-width="0.9"/>
<rect x="572.6" y="1122.73" width="4.0" height="5.00" rx="0.5" fill="url(#p10)" stroke="#2a2418" stroke-width="0.9"/>
<rect x="579.4" y="1122.73" width="8.9" height="5.00" rx="0.5" fill="url(#p10)" stroke="#2a2418" stroke-width="0.9"/>
<path d="M221.7 1129.28H239.3L242.3 1131.63L239.3 1133.98H221.7Z" fill="#0606e4"/>
<path d="M267.3 1129.28H287.0L290.0 1131.63L287.0 1133.98H267.3Z" fill="#0606e4"/>
<path d="M313.3 1129.28H382.7L385.7 1131.63L382.7 1133.98H313.3Z" fill="#0606e4"/>
<path d="M438.3 1129.28H454.7L457.7 1131.63L454.7 1133.98H438.3Z" fill="#0606e4"/>
<path d="M481.7 1129.28H503.7L506.7 1131.63L503.7 1133.98H481.7Z" fill="#0606e4"/>
<path d="M529.0 1129.28H561.8L564.8 1131.63L561.8 1133.98H529.0Z" fill="#0606e4"/>
<path d="M291.9 1136.48L295.5 1138.88L291.9 1141.28Z" fill="#000"/>
<path d="M511.7 1136.48L515.3 1138.88L511.7 1141.28Z" fill="#000"/>
<text transform="translate(5.2 1155.80) scale(0.86 1)" font-size="8.6" letter-spacing="0.3" fill="#1a1a1a" stroke="#1a1a1a" stroke-width="0.28" font-family="Liberation Sans, sans-serif">43.</text>
<text transform="translate(19.6 1155.80) scale(0.86 1)" font-size="8.6" letter-spacing="0.15" fill="#1a1a1a" stroke="#1a1a1a" stroke-width="0.28" font-family="Liberation Sans, sans-serif">GsTIP1;5</text>
<text transform="translate(19 1170.80) scale(0.86 1)" font-size="8.6" letter-spacing="0.75" fill="#1a1a1a" stroke="#1a1a1a" stroke-width="0.28" font-family="Liberation Sans, sans-serif">Motifs</text>
<rect x="181.0" y="1151.85" width="407.7" height="1.3" fill="#3c3c3c"/>
<rect x="181.4" y="1150.05" width="13.2" height="5.00" rx="0.5" fill="url(#p11)" stroke="#2a2418" stroke-width="0.9"/>
<rect x="198.1" y="1150.05" width="4.2" height="5.00" rx="0.5" fill="url(#p11)" stroke="#2a2418" stroke-width="0.9"/>
<rect x="221.4" y="1150.05" width="29.2" height="5.00" rx="0.5" fill="url(#p11)" stroke="#2a2418" stroke-width="0.9"/>
<rect x="255.4" y="1150.05" width="17.5" height="5.00" rx="0.5" fill="url(#p11)" stroke="#2a2418" stroke-width="0.9"/>
<rect x="277.1" y="1150.05" width="24.2" height="5.00" rx="0.5" fill="url(#p11)" stroke="#2a2418" stroke-width="0.9"/>
<rect x="302.1" y="1150.05" width="5.2" height="5.00" rx="0.5" fill="url(#p11)" stroke="#2a2418" stroke-width="0.9"/>
<rect x="310.4" y="1150.05" width="11.9" height="5.00" rx="0.5" fill="url(#p11)" stroke="#2a2418" stroke-width="0.9"/>
<rect x="376.1" y="1150.05" width="15.8" height="5.00" rx="0.5" fill="url(#p11)" stroke="#2a2418" stroke-width="0.9"/>
<rect x="421.1" y="1150.05" width="5.2" height="5.00" rx="0.5" fill="url(#p11)" stroke="#2a2418" stroke-width="0.9"/>
<rect x="430.4" y="1150.05" width="32.5" height="5.00" rx="0.5" fill="url(#p11)" stroke="#2a2418" stroke-width="0.9"/>
<rect x="468.1" y="1150.05" width="0.8" height="5.00" rx="0.5" fill="url(#p11)" stroke="#2a2418" stroke-width="0.9"/>
<rect x="480.4" y="1150.05" width="9.2" height="5.00" rx="0.5" fill="url(#p11)" stroke="#2a2418" stroke-width="0.9"/>
<rect x="492.7" y="1150.05" width="10.2" height="5.00" rx="0.5" fill="url(#p11)" stroke="#2a2418" stroke-width="0.9"/>
<rect x="506.1" y="1150.05" width="20.2" height="5.00" rx="0.5" fill="url(#p11)" stroke="#2a2418" stroke-width="0.9"/>
<rect x="529.4" y="1150.05" width="16.2" height="5.00" rx="0.5" fill="url(#p11)" stroke="#2a2418" stroke-width="0.9"/>
<rect x="561.4" y="1150.05" width="8.2" height="5.00" rx="0.5" fill="url(#p11)" stroke="#2a2418" stroke-width="0.9"/>
<rect x="572.6" y="1150.05" width="4.0" height="5.00" rx="0.5" fill="url(#p11)" stroke="#2a2418" stroke-width="0.9"/>
<rect x="579.4" y="1150.05" width="8.9" height="5.00" rx="0.5" fill="url(#p11)" stroke="#2a2418" stroke-width="0.9"/>
<path d="M221.7 1156.60H239.3L242.3 1158.95L239.3 1161.30H221.7Z" fill="#0606e4"/>
<path d="M267.3 1156.60H287.0L290.0 1158.95L287.0 1161.30H267.3Z" fill="#0606e4"/>
<path d="M313.3 1156.60H382.7L385.7 1158.95L382.7 1161.30H313.3Z" fill="#0606e4"/>
<path d="M438.3 1156.60H454.7L457.7 1158.95L454.7 1161.30H438.3Z" fill="#0606e4"/>
<path d="M481.7 1156.60H503.7L506.7 1158.95L503.7 1161.30H481.7Z" fill="#0606e4"/>
<path d="M529.0 1156.60H561.8L564.8 1158.95L561.8 1161.30H529.0Z" fill="#0606e4"/>
<path d="M291.9 1163.80L295.5 1166.20L291.9 1168.60Z" fill="#000"/>
<path d="M511.7 1163.80L515.3 1166.20L511.7 1168.60Z" fill="#000"/>
<text transform="translate(5.2 1183.12) scale(0.86 1)" font-size="8.6" letter-spacing="0.3" fill="#1a1a1a" stroke="#1a1a1a" stroke-width="0.28" font-family="Liberation Sans, sans-serif">44.</text>
<text transform="translate(19.6 1183.12) scale(0.86 1)" font-size="8.6" letter-spacing="0.15" fill="#1a1a1a" stroke="#1a1a1a" stroke-width="0.28" font-family="Liberation Sans, sans-serif">GsTIP1;6</text>
<text transform="translate(19 1198.12) scale(0.86 1)" font-size="8.6" letter-spacing="0.75" fill="#1a1a1a" stroke="#1a1a1a" stroke-width="0.28" font-family="Liberation Sans, sans-serif">Motifs</text>
<rect x="181.0" y="1179.17" width="407.7" height="1.3" fill="#3c3c3c"/>
<rect x="181.4" y="1177.37" width="13.2" height="5.00" rx="0.5" fill="url(#p9)" stroke="#2a2418" stroke-width="0.9"/>
<rect x="198.1" y="1177.37" width="4.2" height="5.00" rx="0.5" fill="url(#p9)" stroke="#2a2418" stroke-width="0.9"/>
<rect x="221.4" y="1177.37" width="29.2" height="5.00" rx="0.5" fill="url(#p9)" stroke="#2a2418" stroke-width="0.9"/>
<rect x="255.4" y="1177.37" width="17.5" height="5.00" rx="0.5" fill="url(#p9)" stroke="#2a2418" stroke-width="0.9"/>
<rect x="277.1" y="1177.37" width="24.2" height="5.00" rx="0.5" fill="url(#p9)" stroke="#2a2418" stroke-width="0.9"/>
<rect x="302.1" y="1177.37" width="5.2" height="5.00" rx="0.5" fill="url(#p9)" stroke="#2a2418" stroke-width="0.9"/>
<rect x="310.4" y="1177.37" width="11.9" height="5.00" rx="0.5" fill="url(#p9)" stroke="#2a2418" stroke-width="0.9"/>
<rect x="376.1" y="1177.37" width="15.8" height="5.00" rx="0.5" fill="url(#p9)" stroke="#2a2418" stroke-width="0.9"/>
<rect x="421.1" y="1177.37" width="5.2" height="5.00" rx="0.5" fill="url(#p9)" stroke="#2a2418" stroke-width="0.9"/>
<rect x="430.4" y="1177.37" width="32.5" height="5.00" rx="0.5" fill="url(#p9)" stroke="#2a2418" stroke-width="0.9"/>
<rect x="468.1" y="1177.37" width="0.8" height="5.00" rx="0.5" fill="url(#p9)" stroke="#2a2418" stroke-width="0.9"/>
<rect x="480.4" y="1177.37" width="9.2" height="5.00" rx="0.5" fill="url(#p9)" stroke="#2a2418" stroke-width="0.9"/>
<rect x="492.7" y="1177.37" width="10.2" height="5.00" rx="0.5" fill="url(#p9)" stroke="#2a2418" stroke-width="0.9"/>
<rect x="506.1" y="1177.37" width="20.2" height="5.00" rx="0.5" fill="url(#p9)" stroke="#2a2418" stroke-width="0.9"/>
<rect x="529.4" y="1177.37" width="16.2" height="5.00" rx="0.5" fill="url(#p9)" stroke="#2a2418" stroke-width="0.9"/>
<rect x="561.4" y="1177.37" width="8.2" height="5.00" rx="0.5" fill="url(#p9)" stroke="#2a2418" stroke-width="0.9"/>
<rect x="572.6" y="1177.37" width="4.0" height="5.00" rx="0.5" fill="url(#p9)" stroke="#2a2418" stroke-width="0.9"/>
<rect x="579.4" y="1177.37" width="8.9" height="5.00" rx="0.5" fill="url(#p9)" stroke="#2a2418" stroke-width="0.9"/>
<path d="M221.7 1183.92H239.3L242.3 1186.27L239.3 1188.62H221.7Z" fill="#0606e4"/>
<path d="M267.3 1183.92H287.0L290.0 1186.27L287.0 1188.62H267.3Z" fill="#0606e4"/>
<path d="M313.3 1183.92H382.7L385.7 1186.27L382.7 1188.62H313.3Z" fill="#0606e4"/>
<path d="M438.3 1183.92H454.7L457.7 1186.27L454.7 1188.62H438.3Z" fill="#0606e4"/>
<path d="M481.7 1183.92H503.7L506.7 1186.27L503.7 1188.62H481.7Z" fill="#0606e4"/>
<path d="M534.5 1183.92H567.0L570.0 1186.27L567.0 1188.62H534.5Z" fill="#0606e4"/>
<path d="M291.9 1191.12L295.5 1193.52L291.9 1195.92Z" fill="#000"/>
<path d="M511.7 1191.12L515.3 1193.52L511.7 1195.92Z" fill="#000"/>
<text transform="translate(5.2 1210.44) scale(0.86 1)" font-size="8.6" letter-spacing="0.3" fill="#1a1a1a" stroke="#1a1a1a" stroke-width="0.28" font-family="Liberation Sans, sans-serif">45.</text>
<text transform="translate(19.6 1210.44) scale(0.86 1)" font-size="8.6" letter-spacing="0.15" fill="#1a1a1a" stroke="#1a1a1a" stroke-width="0.28" font-family="Liberation Sans, sans-serif">GsTIP1;7</text>
<text transform="translate(19 1225.44) scale(0.86 1)" font-size="8.6" letter-spacing="0.75" fill="#1a1a1a" stroke="#1a1a1a" stroke-width="0.28" font-family="Liberation Sans, sans-serif">Motifs</text>
<rect x="226.0" y="1206.49" width="293.4" height="1.3" fill="#3c3c3c"/>
<rect x="226.4" y="1204.69" width="3.2" height="5.00" rx="0.5" fill="url(#p10)" stroke="#2a2418" stroke-width="0.9"/>
<rect x="247.7" y="1204.69" width="3.6" height="5.00" rx="0.5" fill="url(#p10)" stroke="#2a2418" stroke-width="0.9"/>
<rect x="255.4" y="1204.69" width="17.5" height="5.00" rx="0.5" fill="url(#p10)" stroke="#2a2418" stroke-width="0.9"/>
<rect x="277.1" y="1204.69" width="24.2" height="5.00" rx="0.5" fill="url(#p10)" stroke="#2a2418" stroke-width="0.9"/>
<rect x="302.1" y="1204.69" width="5.2" height="5.00" rx="0.5" fill="url(#p10)" stroke="#2a2418" stroke-width="0.9"/>
<rect x="310.4" y="1204.69" width="11.9" height="5.00" rx="0.5" fill="url(#p10)" stroke="#2a2418" stroke-width="0.9"/>
<rect x="376.1" y="1204.69" width="15.8" height="5.00" rx="0.5" fill="url(#p10)" stroke="#2a2418" stroke-width="0.9"/>
<rect x="421.1" y="1204.69" width="5.2" height="5.00" rx="0.5" fill="url(#p10)" stroke="#2a2418" stroke-width="0.9"/>
<rect x="430.4" y="1204.69" width="32.5" height="5.00" rx="0.5" fill="url(#p10)" stroke="#2a2418" stroke-width="0.9"/>
<rect x="468.1" y="1204.69" width="0.8" height="5.00" rx="0.5" fill="url(#p10)" stroke="#2a2418" stroke-width="0.9"/>
<rect x="480.4" y="1204.69" width="9.2" height="5.00" rx="0.5" fill="url(#p10)" stroke="#2a2418" stroke-width="0.9"/>
<rect x="492.7" y="1204.69" width="10.2" height="5.00" rx="0.5" fill="url(#p10)" stroke="#2a2418" stroke-width="0.9"/>
<rect x="506.1" y="1204.69" width="7.0" height="5.00" rx="0.5" fill="url(#p10)" stroke="#2a2418" stroke-width="0.9"/>
<rect x="515.9" y="1204.69" width="3.1" height="5.00" rx="0.5" fill="url(#p10)" stroke="#2a2418" stroke-width="0.9"/>
<path d="M267.3 1211.24H287.0L290.0 1213.59L287.0 1215.94H267.3Z" fill="#0606e4"/>
<path d="M313.3 1211.24H383.7L386.7 1213.59L383.7 1215.94H313.3Z" fill="#0606e4"/>
<path d="M438.3 1211.24H454.7L457.7 1213.59L454.7 1215.94H438.3Z" fill="#0606e4"/>
<path d="M481.7 1211.24H503.7L506.7 1213.59L503.7 1215.94H481.7Z" fill="#0606e4"/>
<path d="M291.9 1218.44L295.5 1220.84L291.9 1223.24Z" fill="#000"/>
<text transform="translate(5.2 1237.76) scale(0.86 1)" font-size="8.6" letter-spacing="0.3" fill="#1a1a1a" stroke="#1a1a1a" stroke-width="0.28" font-family="Liberation Sans, sans-serif">46.</text>
<text transform="translate(19.6 1237.76) scale(0.86 1)" font-size="8.6" letter-spacing="0.15" fill="#1a1a1a" stroke="#1a1a1a" stroke-width="0.28" font-family="Liberation Sans, sans-serif">GsTIP1;3</text>
<text transform="translate(19 1252.76) scale(0.86 1)" font-size="8.6" letter-spacing="0.75" fill="#1a1a1a" stroke="#1a1a1a" stroke-width="0.28" font-family="Liberation Sans, sans-serif">Motifs</text>
<rect x="181.0" y="1233.81" width="407.7" height="1.3" fill="#3c3c3c"/>
<rect x="181.4" y="1232.01" width="13.2" height="5.00" rx="0.5" fill="url(#p11)" stroke="#2a2418" stroke-width="0.9"/>
<rect x="198.1" y="1232.01" width="4.2" height="5.00" rx="0.5" fill="url(#p11)" stroke="#2a2418" stroke-width="0.9"/>
<rect x="221.4" y="1232.01" width="29.2" height="5.00" rx="0.5" fill="url(#p11)" stroke="#2a2418" stroke-width="0.9"/>
<rect x="255.4" y="1232.01" width="17.5" height="5.00" rx="0.5" fill="url(#p11)" stroke="#2a2418" stroke-width="0.9"/>
<rect x="277.1" y="1232.01" width="24.2" height="5.00" rx="0.5" fill="url(#p11)" stroke="#2a2418" stroke-width="0.9"/>
<rect x="302.1" y="1232.01" width="5.2" height="5.00" rx="0.5" fill="url(#p11)" stroke="#2a2418" stroke-width="0.9"/>
<rect x="310.4" y="1232.01" width="11.9" height="5.00" rx="0.5" fill="url(#p11)" stroke="#2a2418" stroke-width="0.9"/>
<rect x="376.1" y="1232.01" width="15.8" height="5.00" rx="0.5" fill="url(#p11)" stroke="#2a2418" stroke-width="0.9"/>
<rect x="421.1" y="1232.01" width="5.2" height="5.00" rx="0.5" fill="url(#p11)" stroke="#2a2418" stroke-width="0.9"/>
<rect x="430.4" y="1232.01" width="32.5" height="5.00" rx="0.5" fill="url(#p11)" stroke="#2a2418" stroke-width="0.9"/>
<rect x="468.1" y="1232.01" width="0.8" height="5.00" rx="0.5" fill="url(#p11)" stroke="#2a2418" stroke-width="0.9"/>
<rect x="480.4" y="1232.01" width="9.2" height="5.00" rx="0.5" fill="url(#p11)" stroke="#2a2418" stroke-width="0.9"/>
<rect x="492.7" y="1232.01" width="10.2" height="5.00" rx="0.5" fill="url(#p11)" stroke="#2a2418" stroke-width="0.9"/>
<rect x="506.1" y="1232.01" width="20.2" height="5.00" rx="0.5" fill="url(#p11)" stroke="#2a2418" stroke-width="0.9"/>
<rect x="529.4" y="1232.01" width="16.2" height="5.00" rx="0.5" fill="url(#p11)" stroke="#2a2418" stroke-width="0.9"/>
<rect x="561.4" y="1232.01" width="8.2" height="5.00" rx="0.5" fill="url(#p11)" stroke="#2a2418" stroke-width="0.9"/>
<rect x="572.6" y="1232.01" width="4.0" height="5.00" rx="0.5" fill="url(#p11)" stroke="#2a2418" stroke-width="0.9"/>
<rect x="579.4" y="1232.01" width="8.9" height="5.00" rx="0.5" fill="url(#p11)" stroke="#2a2418" stroke-width="0.9"/>
<path d="M199.3 1238.56H234.7L237.7 1240.91L234.7 1243.26H199.3Z" fill="#0606e4"/>
<path d="M262.7 1238.56H283.0L286.0 1240.91L283.0 1243.26H262.7Z" fill="#0606e4"/>
<path d="M289.0 1238.56H308.7L311.7 1240.91L308.7 1243.26H289.0Z" fill="#0606e4"/>
<path d="M315.0 1238.56H384.3L387.3 1240.91L384.3 1243.26H315.0Z" fill="#0606e4"/>
<path d="M435.0 1238.56H452.0L455.0 1240.91L452.0 1243.26H435.0Z" fill="#0606e4"/>
<path d="M481.7 1238.56H503.7L506.7 1240.91L503.7 1243.26H481.7Z" fill="#0606e4"/>
<path d="M529.0 1238.56H561.8L564.8 1240.91L561.8 1243.26H529.0Z" fill="#0606e4"/>
<path d="M197.7 1245.76L201.3 1248.16L197.7 1250.56Z" fill="#000"/>
<path d="M291.9 1245.76L295.5 1248.16L291.9 1250.56Z" fill="#000"/>
<path d="M511.7 1245.76L515.3 1248.16L511.7 1250.56Z" fill="#000"/>
<text transform="translate(5.2 1265.08) scale(0.86 1)" font-size="8.6" letter-spacing="0.3" fill="#1a1a1a" stroke="#1a1a1a" stroke-width="0.28" font-family="Liberation Sans, sans-serif">47.</text>
<text transform="translate(19.6 1265.08) scale(0.86 1)" font-size="8.6" letter-spacing="0.15" fill="#1a1a1a" stroke="#1a1a1a" stroke-width="0.28" font-family="Liberation Sans, sans-serif">GsTIP1;1</text>
<text transform="translate(19 1280.08) scale(0.86 1)" font-size="8.6" letter-spacing="0.75" fill="#1a1a1a" stroke="#1a1a1a" stroke-width="0.28" font-family="Liberation Sans, sans-serif">Motifs</text>
<rect x="181.0" y="1261.13" width="407.7" height="1.3" fill="#3c3c3c"/>
<rect x="181.4" y="1259.33" width="13.2" height="5.00" rx="0.5" fill="url(#p9)" stroke="#2a2418" stroke-width="0.9"/>
<rect x="198.1" y="1259.33" width="4.2" height="5.00" rx="0.5" fill="url(#p9)" stroke="#2a2418" stroke-width="0.9"/>
<rect x="221.4" y="1259.33" width="29.2" height="5.00" rx="0.5" fill="url(#p9)" stroke="#2a2418" stroke-width="0.9"/>
<rect x="255.4" y="1259.33" width="17.5" height="5.00" rx="0.5" fill="url(#p9)" stroke="#2a2418" stroke-width="0.9"/>
<rect x="277.1" y="1259.33" width="24.2" height="5.00" rx="0.5" fill="url(#p9)" stroke="#2a2418" stroke-width="0.9"/>
<rect x="302.1" y="1259.33" width="5.2" height="5.00" rx="0.5" fill="url(#p9)" stroke="#2a2418" stroke-width="0.9"/>
<rect x="310.4" y="1259.33" width="11.9" height="5.00" rx="0.5" fill="url(#p9)" stroke="#2a2418" stroke-width="0.9"/>
<rect x="376.1" y="1259.33" width="15.8" height="5.00" rx="0.5" fill="url(#p9)" stroke="#2a2418" stroke-width="0.9"/>
<rect x="421.1" y="1259.33" width="5.2" height="5.00" rx="0.5" fill="url(#p9)" stroke="#2a2418" stroke-width="0.9"/>
<rect x="430.4" y="1259.33" width="32.5" height="5.00" rx="0.5" fill="url(#p9)" stroke="#2a2418" stroke-width="0.9"/>
<rect x="468.1" y="1259.33" width="0.8" height="5.00" rx="0.5" fill="url(#p9)" stroke="#2a2418" stroke-width="0.9"/>
<rect x="480.4" y="1259.33" width="9.2" height="5.00" rx="0.5" fill="url(#p9)" stroke="#2a2418" stroke-width="0.9"/>
<rect x="492.7" y="1259.33" width="10.2" height="5.00" rx="0.5" fill="url(#p9)" stroke="#2a2418" stroke-width="0.9"/>
<rect x="506.1" y="1259.33" width="20.2" height="5.00" rx="0.5" fill="url(#p9)" stroke="#2a2418" stroke-width="0.9"/>
<rect x="529.4" y="1259.33" width="16.2" height="5.00" rx="0.5" fill="url(#p9)" stroke="#2a2418" stroke-width="0.9"/>
<rect x="561.4" y="1259.33" width="8.2" height="5.00" rx="0.5" fill="url(#p9)" stroke="#2a2418" stroke-width="0.9"/>
<rect x="572.6" y="1259.33" width="4.0" height="5.00" rx="0.5" fill="url(#p9)" stroke="#2a2418" stroke-width="0.9"/>
<rect x="579.4" y="1259.33" width="8.9" height="5.00" rx="0.5" fill="url(#p9)" stroke="#2a2418" stroke-width="0.9"/>
<path d="M221.7 1265.88H239.3L242.3 1268.23L239.3 1270.58H221.7Z" fill="#0606e4"/>
<path d="M267.3 1265.88H287.0L290.0 1268.23L287.0 1270.58H267.3Z" fill="#0606e4"/>
<path d="M313.3 1265.88H383.7L386.7 1268.23L383.7 1270.58H313.3Z" fill="#0606e4"/>
<path d="M438.3 1265.88H454.7L457.7 1268.23L454.7 1270.58H438.3Z" fill="#0606e4"/>
<path d="M481.7 1265.88H503.7L506.7 1268.23L503.7 1270.58H481.7Z" fill="#0606e4"/>
<path d="M529.0 1265.88H561.8L564.8 1268.23L561.8 1270.58H529.0Z" fill="#0606e4"/>
<path d="M291.9 1273.08L295.5 1275.48L291.9 1277.88Z" fill="#000"/>
<path d="M511.7 1273.08L515.3 1275.48L511.7 1277.88Z" fill="#000"/>
<text transform="translate(5.2 1292.40) scale(0.86 1)" font-size="8.6" letter-spacing="0.3" fill="#1a1a1a" stroke="#1a1a1a" stroke-width="0.28" font-family="Liberation Sans, sans-serif">48.</text>
<text transform="translate(19.6 1292.40) scale(0.86 1)" font-size="8.6" letter-spacing="0.15" fill="#1a1a1a" stroke="#1a1a1a" stroke-width="0.28" font-family="Liberation Sans, sans-serif">GsTIP1;2</text>
<text transform="translate(19 1307.40) scale(0.86 1)" font-size="8.6" letter-spacing="0.75" fill="#1a1a1a" stroke="#1a1a1a" stroke-width="0.28" font-family="Liberation Sans, sans-serif">Motifs</text>
<rect x="181.0" y="1288.45" width="407.7" height="1.3" fill="#3c3c3c"/>
<rect x="181.4" y="1286.65" width="13.2" height="5.00" rx="0.5" fill="url(#p10)" stroke="#2a2418" stroke-width="0.9"/>
<rect x="198.1" y="1286.65" width="4.2" height="5.00" rx="0.5" fill="url(#p10)" stroke="#2a2418" stroke-width="0.9"/>
<rect x="221.4" y="1286.65" width="29.2" height="5.00" rx="0.5" fill="url(#p10)" stroke="#2a2418" stroke-width="0.9"/>
<rect x="255.4" y="1286.65" width="17.5" height="5.00" rx="0.5" fill="url(#p10)" stroke="#2a2418" stroke-width="0.9"/>
<rect x="277.1" y="1286.65" width="24.2" height="5.00" rx="0.5" fill="url(#p10)" stroke="#2a2418" stroke-width="0.9"/>
<rect x="302.1" y="1286.65" width="5.2" height="5.00" rx="0.5" fill="url(#p10)" stroke="#2a2418" stroke-width="0.9"/>
<rect x="310.4" y="1286.65" width="11.9" height="5.00" rx="0.5" fill="url(#p10)" stroke="#2a2418" stroke-width="0.9"/>
<rect x="376.1" y="1286.65" width="15.8" height="5.00" rx="0.5" fill="url(#p10)" stroke="#2a2418" stroke-width="0.9"/>
<rect x="421.1" y="1286.65" width="5.2" height="5.00" rx="0.5" fill="url(#p10)" stroke="#2a2418" stroke-width="0.9"/>
<rect x="430.4" y="1286.65" width="32.5" height="5.00" rx="0.5" fill="url(#p10)" stroke="#2a2418" stroke-width="0.9"/>
<rect x="468.1" y="1286.65" width="0.8" height="5.00" rx="0.5" fill="url(#p10)" stroke="#2a2418" stroke-width="0.9"/>
<rect x="480.4" y="1286.65" width="9.2" height="5.00" rx="0.5" fill="url(#p10)" stroke="#2a2418" stroke-width="0.9"/>
<rect x="492.7" y="1286.65" width="10.2" height="5.00" rx="0.5" fill="url(#p10)" stroke="#2a2418" stroke-width="0.9"/>
<rect x="506.1" y="1286.65" width="20.2" height="5.00" rx="0.5" fill="url(#p10)" stroke="#2a2418" stroke-width="0.9"/>
<rect x="529.4" y="1286.65" width="16.2" height="5.00" rx="0.5" fill="url(#p10)" stroke="#2a2418" stroke-width="0.9"/>
<rect x="561.4" y="1286.65" width="8.2" height="5.00" rx="0.5" fill="url(#p10)" stroke="#2a2418" stroke-width="0.9"/>
<rect x="572.6" y="1286.65" width="4.0" height="5.00" rx="0.5" fill="url(#p10)" stroke="#2a2418" stroke-width="0.9"/>
<rect x="579.4" y="1286.65" width="8.9" height="5.00" rx="0.5" fill="url(#p10)" stroke="#2a2418" stroke-width="0.9"/>
<path d="M221.7 1293.20H239.3L242.3 1295.55L239.3 1297.90H221.7Z" fill="#0606e4"/>
<path d="M267.3 1293.20H287.0L290.0 1295.55L287.0 1297.90H267.3Z" fill="#0606e4"/>
<path d="M313.3 1293.20H383.7L386.7 1295.55L383.7 1297.90H313.3Z" fill="#0606e4"/>
<path d="M438.3 1293.20H454.7L457.7 1295.55L454.7 1297.90H438.3Z" fill="#0606e4"/>
<path d="M481.7 1293.20H503.7L506.7 1295.55L503.7 1297.90H481.7Z" fill="#0606e4"/>
<path d="M529.0 1293.20H561.8L564.8 1295.55L561.8 1297.90H529.0Z" fill="#0606e4"/>
<path d="M291.9 1300.40L295.5 1302.80L291.9 1305.20Z" fill="#000"/>
<path d="M511.7 1300.40L515.3 1302.80L511.7 1305.20Z" fill="#000"/>
<text transform="translate(5.2 1319.72) scale(0.86 1)" font-size="8.6" letter-spacing="0.3" fill="#1a1a1a" stroke="#1a1a1a" stroke-width="0.28" font-family="Liberation Sans, sans-serif">49.</text>
<text transform="translate(19.6 1319.72) scale(0.86 1)" font-size="8.6" letter-spacing="0.15" fill="#1a1a1a" stroke="#1a1a1a" stroke-width="0.28" font-family="Liberation Sans, sans-serif">GsTIP2;1</text>
<text transform="translate(19 1334.72) scale(0.86 1)" font-size="8.6" letter-spacing="0.75" fill="#1a1a1a" stroke="#1a1a1a" stroke-width="0.28" font-family="Liberation Sans, sans-serif">Motifs</text>
<rect x="183.3" y="1315.77" width="407.4" height="1.3" fill="#3c3c3c"/>
<rect x="183.7" y="1313.97" width="10.9" height="5.00" rx="0.5" fill="url(#p11)" stroke="#2a2418" stroke-width="0.9"/>
<rect x="198.1" y="1313.97" width="4.2" height="5.00" rx="0.5" fill="url(#p11)" stroke="#2a2418" stroke-width="0.9"/>
<rect x="221.4" y="1313.97" width="29.2" height="5.00" rx="0.5" fill="url(#p11)" stroke="#2a2418" stroke-width="0.9"/>
<rect x="255.4" y="1313.97" width="17.5" height="5.00" rx="0.5" fill="url(#p11)" stroke="#2a2418" stroke-width="0.9"/>
<rect x="277.1" y="1313.97" width="24.2" height="5.00" rx="0.5" fill="url(#p11)" stroke="#2a2418" stroke-width="0.9"/>
<rect x="302.1" y="1313.97" width="5.2" height="5.00" rx="0.5" fill="url(#p11)" stroke="#2a2418" stroke-width="0.9"/>
<rect x="310.4" y="1313.97" width="11.9" height="5.00" rx="0.5" fill="url(#p11)" stroke="#2a2418" stroke-width="0.9"/>
<rect x="376.1" y="1313.97" width="15.8" height="5.00" rx="0.5" fill="url(#p11)" stroke="#2a2418" stroke-width="0.9"/>
<rect x="421.1" y="1313.97" width="5.2" height="5.00" rx="0.5" fill="url(#p11)" stroke="#2a2418" stroke-width="0.9"/>
<rect x="430.4" y="1313.97" width="32.5" height="5.00" rx="0.5" fill="url(#p11)" stroke="#2a2418" stroke-width="0.9"/>
<rect x="468.1" y="1313.97" width="0.8" height="5.00" rx="0.5" fill="url(#p11)" stroke="#2a2418" stroke-width="0.9"/>
<rect x="480.4" y="1313.97" width="9.2" height="5.00" rx="0.5" fill="url(#p11)" stroke="#2a2418" stroke-width="0.9"/>
<rect x="492.7" y="1313.97" width="10.2" height="5.00" rx="0.5" fill="url(#p11)" stroke="#2a2418" stroke-width="0.9"/>
<rect x="506.1" y="1313.97" width="20.2" height="5.00" rx="0.5" fill="url(#p11)" stroke="#2a2418" stroke-width="0.9"/>
<rect x="529.4" y="1313.97" width="16.2" height="5.00" rx="0.5" fill="url(#p11)" stroke="#2a2418" stroke-width="0.9"/>
<rect x="561.4" y="1313.97" width="8.2" height="5.00" rx="0.5" fill="url(#p11)" stroke="#2a2418" stroke-width="0.9"/>
<rect x="572.6" y="1313.97" width="2.2" height="5.00" rx="0.5" fill="url(#p11)" stroke="#2a2418" stroke-width="0.9"/>
<rect x="579.4" y="1313.97" width="10.9" height="5.00" rx="0.5" fill="url(#p11)" stroke="#2a2418" stroke-width="0.9"/>
<path d="M223.3 1320.52H241.3L244.3 1322.87L241.3 1325.22H223.3Z" fill="#0606e4"/>
<path d="M264.3 1320.52H284.7L287.7 1322.87L284.7 1325.22H264.3Z" fill="#0606e4"/>
<path d="M295.7 1320.52H315.3L318.3 1322.87L315.3 1325.22H295.7Z" fill="#0606e4"/>
<path d="M320.0 1320.52H420.3L423.3 1322.87L420.3 1325.22H320.0Z" fill="#0606e4"/>
<path d="M438.3 1320.52H454.7L457.7 1322.87L454.7 1325.22H438.3Z" fill="#0606e4"/>
<path d="M481.7 1320.52H503.7L506.7 1322.87L503.7 1325.22H481.7Z" fill="#0606e4"/>
<path d="M529.0 1320.52H561.8L564.8 1322.87L561.8 1325.22H529.0Z" fill="#0606e4"/>
<path d="M291.9 1327.72L295.5 1330.12L291.9 1332.52Z" fill="#000"/>
<path d="M511.7 1327.72L515.3 1330.12L511.7 1332.52Z" fill="#000"/>
<text transform="translate(5.2 1347.04) scale(0.86 1)" font-size="8.6" letter-spacing="0.3" fill="#1a1a1a" stroke="#1a1a1a" stroke-width="0.28" font-family="Liberation Sans, sans-serif">50.</text>
<text transform="translate(19.6 1347.04) scale(0.86 1)" font-size="8.6" letter-spacing="0.15" fill="#1a1a1a" stroke="#1a1a1a" stroke-width="0.28" font-family="Liberation Sans, sans-serif">GsTIP2;2</text>
<text transform="translate(19 1362.04) scale(0.86 1)" font-size="8.6" letter-spacing="0.75" fill="#1a1a1a" stroke="#1a1a1a" stroke-width="0.28" font-family="Liberation Sans, sans-serif">Motifs</text>
<rect x="183.3" y="1343.09" width="407.4" height="1.3" fill="#3c3c3c"/>
<rect x="183.7" y="1341.29" width="10.9" height="5.00" rx="0.5" fill="url(#p9)" stroke="#2a2418" stroke-width="0.9"/>
<rect x="198.1" y="1341.29" width="4.2" height="5.00" rx="0.5" fill="url(#p9)" stroke="#2a2418" stroke-width="0.9"/>
<rect x="221.4" y="1341.29" width="29.2" height="5.00" rx="0.5" fill="url(#p9)" stroke="#2a2418" stroke-width="0.9"/>
<rect x="255.4" y="1341.29" width="17.5" height="5.00" rx="0.5" fill="url(#p9)" stroke="#2a2418" stroke-width="0.9"/>
<rect x="277.1" y="1341.29" width="24.2" height="5.00" rx="0.5" fill="url(#p9)" stroke="#2a2418" stroke-width="0.9"/>
<rect x="302.1" y="1341.29" width="5.2" height="5.00" rx="0.5" fill="url(#p9)" stroke="#2a2418" stroke-width="0.9"/>
<rect x="310.4" y="1341.29" width="11.9" height="5.00" rx="0.5" fill="url(#p9)" stroke="#2a2418" stroke-width="0.9"/>
<rect x="376.1" y="1341.29" width="15.2" height="5.00" rx="0.5" fill="url(#p9)" stroke="#2a2418" stroke-width="0.9"/>
<rect x="421.1" y="1341.29" width="5.2" height="5.00" rx="0.5" fill="url(#p9)" stroke="#2a2418" stroke-width="0.9"/>
<rect x="430.4" y="1341.29" width="32.5" height="5.00" rx="0.5" fill="url(#p9)" stroke="#2a2418" stroke-width="0.9"/>
<rect x="468.1" y="1341.29" width="0.8" height="5.00" rx="0.5" fill="url(#p9)" stroke="#2a2418" stroke-width="0.9"/>
<rect x="480.4" y="1341.29" width="9.2" height="5.00" rx="0.5" fill="url(#p9)" stroke="#2a2418" stroke-width="0.9"/>
<rect x="492.7" y="1341.29" width="10.2" height="5.00" rx="0.5" fill="url(#p9)" stroke="#2a2418" stroke-width="0.9"/>
<rect x="506.1" y="1341.29" width="20.2" height="5.00" rx="0.5" fill="url(#p9)" stroke="#2a2418" stroke-width="0.9"/>
<rect x="529.4" y="1341.29" width="16.2" height="5.00" rx="0.5" fill="url(#p9)" stroke="#2a2418" stroke-width="0.9"/>
<rect x="561.4" y="1341.29" width="8.2" height="5.00" rx="0.5" fill="url(#p9)" stroke="#2a2418" stroke-width="0.9"/>
<rect x="572.6" y="1341.29" width="2.2" height="5.00" rx="0.5" fill="url(#p9)" stroke="#2a2418" stroke-width="0.9"/>
<rect x="579.4" y="1341.29" width="10.9" height="5.00" rx="0.5" fill="url(#p9)" stroke="#2a2418" stroke-width="0.9"/>
<path d="M223.3 1347.84H241.3L244.3 1350.19L241.3 1352.54H223.3Z" fill="#0606e4"/>
<path d="M264.3 1347.84H284.7L287.7 1350.19L284.7 1352.54H264.3Z" fill="#0606e4"/>
<path d="M295.7 1347.84H315.3L318.3 1350.19L315.3 1352.54H295.7Z" fill="#0606e4"/>
<path d="M321.7 1347.84H420.3L423.3 1350.19L420.3 1352.54H321.7Z" fill="#0606e4"/>
<path d="M438.3 1347.84H454.7L457.7 1350.19L454.7 1352.54H438.3Z" fill="#0606e4"/>
<path d="M481.7 1347.84H503.7L506.7 1350.19L503.7 1352.54H481.7Z" fill="#0606e4"/>
<path d="M529.0 1347.84H561.8L564.8 1350.19L561.8 1352.54H529.0Z" fill="#0606e4"/>
<path d="M291.9 1355.04L295.5 1357.44L291.9 1359.84Z" fill="#000"/>
<path d="M511.7 1355.04L515.3 1357.44L511.7 1359.84Z" fill="#000"/>
<text transform="translate(5.2 1374.36) scale(0.86 1)" font-size="8.6" letter-spacing="0.3" fill="#1a1a1a" stroke="#1a1a1a" stroke-width="0.28" font-family="Liberation Sans, sans-serif">51.</text>
<text transform="translate(19.6 1374.36) scale(0.86 1)" font-size="8.6" letter-spacing="0.15" fill="#1a1a1a" stroke="#1a1a1a" stroke-width="0.28" font-family="Liberation Sans, sans-serif">GsTIP2;4</text>
<text transform="translate(19 1389.36) scale(0.86 1)" font-size="8.6" letter-spacing="0.75" fill="#1a1a1a" stroke="#1a1a1a" stroke-width="0.28" font-family="Liberation Sans, sans-serif">Motifs</text>
<rect x="183.3" y="1370.41" width="404.3" height="1.3" fill="#3c3c3c"/>
<rect x="183.7" y="1368.61" width="10.9" height="5.00" rx="0.5" fill="url(#p10)" stroke="#2a2418" stroke-width="0.9"/>
<rect x="198.1" y="1368.61" width="4.2" height="5.00" rx="0.5" fill="url(#p10)" stroke="#2a2418" stroke-width="0.9"/>
<rect x="221.4" y="1368.61" width="29.2" height="5.00" rx="0.5" fill="url(#p10)" stroke="#2a2418" stroke-width="0.9"/>
<rect x="255.4" y="1368.61" width="17.5" height="5.00" rx="0.5" fill="url(#p10)" stroke="#2a2418" stroke-width="0.9"/>
<rect x="277.1" y="1368.61" width="24.2" height="5.00" rx="0.5" fill="url(#p10)" stroke="#2a2418" stroke-width="0.9"/>
<rect x="302.1" y="1368.61" width="5.2" height="5.00" rx="0.5" fill="url(#p10)" stroke="#2a2418" stroke-width="0.9"/>
<rect x="310.4" y="1368.61" width="11.9" height="5.00" rx="0.5" fill="url(#p10)" stroke="#2a2418" stroke-width="0.9"/>
<rect x="376.1" y="1368.61" width="15.2" height="5.00" rx="0.5" fill="url(#p10)" stroke="#2a2418" stroke-width="0.9"/>
<rect x="421.1" y="1368.61" width="5.2" height="5.00" rx="0.5" fill="url(#p10)" stroke="#2a2418" stroke-width="0.9"/>
<rect x="430.4" y="1368.61" width="32.5" height="5.00" rx="0.5" fill="url(#p10)" stroke="#2a2418" stroke-width="0.9"/>
<rect x="468.1" y="1368.61" width="0.8" height="5.00" rx="0.5" fill="url(#p10)" stroke="#2a2418" stroke-width="0.9"/>
<rect x="480.4" y="1368.61" width="9.2" height="5.00" rx="0.5" fill="url(#p10)" stroke="#2a2418" stroke-width="0.9"/>
<rect x="492.7" y="1368.61" width="10.2" height="5.00" rx="0.5" fill="url(#p10)" stroke="#2a2418" stroke-width="0.9"/>
<rect x="506.1" y="1368.61" width="20.2" height="5.00" rx="0.5" fill="url(#p10)" stroke="#2a2418" stroke-width="0.9"/>
<rect x="529.4" y="1368.61" width="16.2" height="5.00" rx="0.5" fill="url(#p10)" stroke="#2a2418" stroke-width="0.9"/>
<rect x="561.4" y="1368.61" width="8.2" height="5.00" rx="0.5" fill="url(#p10)" stroke="#2a2418" stroke-width="0.9"/>
<rect x="572.6" y="1368.61" width="2.7" height="5.00" rx="0.5" fill="url(#p10)" stroke="#2a2418" stroke-width="0.9"/>
<rect x="579.4" y="1368.61" width="7.8" height="5.00" rx="0.5" fill="url(#p10)" stroke="#2a2418" stroke-width="0.9"/>
<path d="M223.3 1375.16H241.3L244.3 1377.51L241.3 1379.86H223.3Z" fill="#0606e4"/>
<path d="M261.0 1375.16H281.3L284.3 1377.51L281.3 1379.86H261.0Z" fill="#0606e4"/>
<path d="M289.0 1375.16H309.3L312.3 1377.51L309.3 1379.86H289.0Z" fill="#0606e4"/>
<path d="M315.0 1375.16H384.3L387.3 1377.51L384.3 1379.86H315.0Z" fill="#0606e4"/>
<path d="M430.0 1375.16H448.0L451.0 1377.51L448.0 1379.86H430.0Z" fill="#0606e4"/>
<path d="M485.7 1375.16H507.4L510.4 1377.51L507.4 1379.86H485.7Z" fill="#0606e4"/>
<path d="M533.7 1375.16H565.7L568.7 1377.51L565.7 1379.86H533.7Z" fill="#0606e4"/>
<path d="M291.9 1382.36L295.5 1384.76L291.9 1387.16Z" fill="#000"/>
<path d="M511.7 1382.36L515.3 1384.76L511.7 1387.16Z" fill="#000"/>
<text transform="translate(5.2 1401.68) scale(0.86 1)" font-size="8.6" letter-spacing="0.3" fill="#1a1a1a" stroke="#1a1a1a" stroke-width="0.28" font-family="Liberation Sans, sans-serif">52.</text>
<text transform="translate(19.6 1401.68) scale(0.86 1)" font-size="8.6" letter-spacing="0.15" fill="#1a1a1a" stroke="#1a1a1a" stroke-width="0.28" font-family="Liberation Sans, sans-serif">GsTIP2;3</text>
<text transform="translate(19 1416.68) scale(0.86 1)" font-size="8.6" letter-spacing="0.75" fill="#1a1a1a" stroke="#1a1a1a" stroke-width="0.28" font-family="Liberation Sans, sans-serif">Motifs</text>
<rect x="183.3" y="1397.73" width="404.3" height="1.3" fill="#3c3c3c"/>
<rect x="183.7" y="1395.93" width="10.9" height="5.00" rx="0.5" fill="url(#p11)" stroke="#2a2418" stroke-width="0.9"/>
<rect x="198.1" y="1395.93" width="4.2" height="5.00" rx="0.5" fill="url(#p11)" stroke="#2a2418" stroke-width="0.9"/>
<rect x="221.4" y="1395.93" width="29.2" height="5.00" rx="0.5" fill="url(#p11)" stroke="#2a2418" stroke-width="0.9"/>
<rect x="255.4" y="1395.93" width="17.5" height="5.00" rx="0.5" fill="url(#p11)" stroke="#2a2418" stroke-width="0.9"/>
<rect x="277.1" y="1395.93" width="24.2" height="5.00" rx="0.5" fill="url(#p11)" stroke="#2a2418" stroke-width="0.9"/>
<rect x="302.1" y="1395.93" width="5.2" height="5.00" rx="0.5" fill="url(#p11)" stroke="#2a2418" stroke-width="0.9"/>
<rect x="310.4" y="1395.93" width="11.9" height="5.00" rx="0.5" fill="url(#p11)" stroke="#2a2418" stroke-width="0.9"/>
<rect x="376.1" y="1395.93" width="15.2" height="5.00" rx="0.5" fill="url(#p11)" stroke="#2a2418" stroke-width="0.9"/>
<rect x="421.1" y="1395.93" width="5.2" height="5.00" rx="0.5" fill="url(#p11)" stroke="#2a2418" stroke-width="0.9"/>
<rect x="430.4" y="1395.93" width="32.5" height="5.00" rx="0.5" fill="url(#p11)" stroke="#2a2418" stroke-width="0.9"/>
<rect x="468.1" y="1395.93" width="0.8" height="5.00" rx="0.5" fill="url(#p11)" stroke="#2a2418" stroke-width="0.9"/>
<rect x="480.4" y="1395.93" width="9.2" height="5.00" rx="0.5" fill="url(#p11)" stroke="#2a2418" stroke-width="0.9"/>
<rect x="492.7" y="1395.93" width="10.2" height="5.00" rx="0.5" fill="url(#p11)" stroke="#2a2418" stroke-width="0.9"/>
<rect x="506.1" y="1395.93" width="20.2" height="5.00" rx="0.5" fill="url(#p11)" stroke="#2a2418" stroke-width="0.9"/>
<rect x="529.4" y="1395.93" width="16.2" height="5.00" rx="0.5" fill="url(#p11)" stroke="#2a2418" stroke-width="0.9"/>
<rect x="561.4" y="1395.93" width="8.2" height="5.00" rx="0.5" fill="url(#p11)" stroke="#2a2418" stroke-width="0.9"/>
<rect x="572.6" y="1395.93" width="2.7" height="5.00" rx="0.5" fill="url(#p11)" stroke="#2a2418" stroke-width="0.9"/>
<rect x="579.4" y="1395.93" width="7.8" height="5.00" rx="0.5" fill="url(#p11)" stroke="#2a2418" stroke-width="0.9"/>
<path d="M223.3 1402.48H241.3L244.3 1404.83L241.3 1407.18H223.3Z" fill="#0606e4"/>
<path d="M261.0 1402.48H281.3L284.3 1404.83L281.3 1407.18H261.0Z" fill="#0606e4"/>
<path d="M289.0 1402.48H309.3L312.3 1404.83L309.3 1407.18H289.0Z" fill="#0606e4"/>
<path d="M315.0 1402.48H384.3L387.3 1404.83L384.3 1407.18H315.0Z" fill="#0606e4"/>
<path d="M430.0 1402.48H448.0L451.0 1404.83L448.0 1407.18H430.0Z" fill="#0606e4"/>
<path d="M485.7 1402.48H507.4L510.4 1404.83L507.4 1407.18H485.7Z" fill="#0606e4"/>
<path d="M533.7 1402.48H565.7L568.7 1404.83L565.7 1407.18H533.7Z" fill="#0606e4"/>
<path d="M291.9 1409.68L295.5 1412.08L291.9 1414.48Z" fill="#000"/>
<path d="M511.7 1409.68L515.3 1412.08L511.7 1414.48Z" fill="#000"/>
<text transform="translate(5.2 1429.00) scale(0.86 1)" font-size="8.6" letter-spacing="0.3" fill="#1a1a1a" stroke="#1a1a1a" stroke-width="0.28" font-family="Liberation Sans, sans-serif">53.</text>
<text transform="translate(19.6 1429.00) scale(0.86 1)" font-size="8.6" letter-spacing="0.15" fill="#1a1a1a" stroke="#1a1a1a" stroke-width="0.28" font-family="Liberation Sans, sans-serif">GsTIP2;7</text>
<text transform="translate(19 1444.00) scale(0.86 1)" font-size="8.6" letter-spacing="0.75" fill="#1a1a1a" stroke="#1a1a1a" stroke-width="0.28" font-family="Liberation Sans, sans-serif">Motifs</text>
<rect x="183.3" y="1425.05" width="391.1" height="1.3" fill="#3c3c3c"/>
<rect x="183.7" y="1423.25" width="10.9" height="5.00" rx="0.5" fill="url(#p9)" stroke="#2a2418" stroke-width="0.9"/>
<rect x="198.1" y="1423.25" width="4.2" height="5.00" rx="0.5" fill="url(#p9)" stroke="#2a2418" stroke-width="0.9"/>
<rect x="221.4" y="1423.25" width="29.2" height="5.00" rx="0.5" fill="url(#p9)" stroke="#2a2418" stroke-width="0.9"/>
<rect x="255.4" y="1423.25" width="17.5" height="5.00" rx="0.5" fill="url(#p9)" stroke="#2a2418" stroke-width="0.9"/>
<rect x="277.1" y="1423.25" width="24.2" height="5.00" rx="0.5" fill="url(#p9)" stroke="#2a2418" stroke-width="0.9"/>
<rect x="302.1" y="1423.25" width="5.2" height="5.00" rx="0.5" fill="url(#p9)" stroke="#2a2418" stroke-width="0.9"/>
<rect x="310.4" y="1423.25" width="11.9" height="5.00" rx="0.5" fill="url(#p9)" stroke="#2a2418" stroke-width="0.9"/>
<rect x="376.1" y="1423.25" width="15.2" height="5.00" rx="0.5" fill="url(#p9)" stroke="#2a2418" stroke-width="0.9"/>
<rect x="421.1" y="1423.25" width="5.2" height="5.00" rx="0.5" fill="url(#p9)" stroke="#2a2418" stroke-width="0.9"/>
<rect x="430.4" y="1423.25" width="32.5" height="5.00" rx="0.5" fill="url(#p9)" stroke="#2a2418" stroke-width="0.9"/>
<rect x="468.1" y="1423.25" width="0.8" height="5.00" rx="0.5" fill="url(#p9)" stroke="#2a2418" stroke-width="0.9"/>
<rect x="480.4" y="1423.25" width="9.2" height="5.00" rx="0.5" fill="url(#p9)" stroke="#2a2418" stroke-width="0.9"/>
<rect x="492.7" y="1423.25" width="10.2" height="5.00" rx="0.5" fill="url(#p9)" stroke="#2a2418" stroke-width="0.9"/>
<rect x="506.1" y="1423.25" width="20.2" height="5.00" rx="0.5" fill="url(#p9)" stroke="#2a2418" stroke-width="0.9"/>
<rect x="529.4" y="1423.25" width="16.2" height="5.00" rx="0.5" fill="url(#p9)" stroke="#2a2418" stroke-width="0.9"/>
<rect x="561.4" y="1423.25" width="9.2" height="5.00" rx="0.5" fill="url(#p9)" stroke="#2a2418" stroke-width="0.9"/>
<rect x="572.6" y="1423.25" width="1.4" height="5.00" rx="0.5" fill="url(#p9)" stroke="#2a2418" stroke-width="0.9"/>
<path d="M223.3 1429.80H241.3L244.3 1432.15L241.3 1434.50H223.3Z" fill="#0606e4"/>
<path d="M264.3 1429.80H285.3L288.3 1432.15L285.3 1434.50H264.3Z" fill="#0606e4"/>
<path d="M311.0 1429.80H381.3L384.3 1432.15L381.3 1434.50H311.0Z" fill="#0606e4"/>
<path d="M430.0 1429.80H448.0L451.0 1432.15L448.0 1434.50H430.0Z" fill="#0606e4"/>
<path d="M485.7 1429.80H507.4L510.4 1432.15L507.4 1434.50H485.7Z" fill="#0606e4"/>
<path d="M533.7 1429.80H565.7L568.7 1432.15L565.7 1434.50H533.7Z" fill="#0606e4"/>
<path d="M291.9 1437.00L295.5 1439.40L291.9 1441.80Z" fill="#000"/>
<path d="M511.7 1437.00L515.3 1439.40L511.7 1441.80Z" fill="#000"/>
<text transform="translate(5.2 1456.32) scale(0.86 1)" font-size="8.6" letter-spacing="0.3" fill="#1a1a1a" stroke="#1a1a1a" stroke-width="0.28" font-family="Liberation Sans, sans-serif">54.</text>
<text transform="translate(19.6 1456.32) scale(0.86 1)" font-size="8.6" letter-spacing="0.15" fill="#1a1a1a" stroke="#1a1a1a" stroke-width="0.28" font-family="Liberation Sans, sans-serif">GsTIP2;6</text>
<text transform="translate(19 1471.32) scale(0.86 1)" font-size="8.6" letter-spacing="0.75" fill="#1a1a1a" stroke="#1a1a1a" stroke-width="0.28" font-family="Liberation Sans, sans-serif">Motifs</text>
<rect x="183.3" y="1452.37" width="404.3" height="1.3" fill="#3c3c3c"/>
<rect x="183.7" y="1450.57" width="10.9" height="5.00" rx="0.5" fill="url(#p10)" stroke="#2a2418" stroke-width="0.9"/>
<rect x="198.1" y="1450.57" width="4.2" height="5.00" rx="0.5" fill="url(#p10)" stroke="#2a2418" stroke-width="0.9"/>
<rect x="221.4" y="1450.57" width="29.2" height="5.00" rx="0.5" fill="url(#p10)" stroke="#2a2418" stroke-width="0.9"/>
<rect x="255.4" y="1450.57" width="17.5" height="5.00" rx="0.5" fill="url(#p10)" stroke="#2a2418" stroke-width="0.9"/>
<rect x="277.1" y="1450.57" width="24.2" height="5.00" rx="0.5" fill="url(#p10)" stroke="#2a2418" stroke-width="0.9"/>
<rect x="302.1" y="1450.57" width="5.2" height="5.00" rx="0.5" fill="url(#p10)" stroke="#2a2418" stroke-width="0.9"/>
<rect x="310.4" y="1450.57" width="11.9" height="5.00" rx="0.5" fill="url(#p10)" stroke="#2a2418" stroke-width="0.9"/>
<rect x="376.1" y="1450.57" width="15.2" height="5.00" rx="0.5" fill="url(#p10)" stroke="#2a2418" stroke-width="0.9"/>
<rect x="421.1" y="1450.57" width="5.2" height="5.00" rx="0.5" fill="url(#p10)" stroke="#2a2418" stroke-width="0.9"/>
<rect x="430.4" y="1450.57" width="32.5" height="5.00" rx="0.5" fill="url(#p10)" stroke="#2a2418" stroke-width="0.9"/>
<rect x="468.1" y="1450.57" width="0.8" height="5.00" rx="0.5" fill="url(#p10)" stroke="#2a2418" stroke-width="0.9"/>
<rect x="480.4" y="1450.57" width="9.2" height="5.00" rx="0.5" fill="url(#p10)" stroke="#2a2418" stroke-width="0.9"/>
<rect x="492.7" y="1450.57" width="10.2" height="5.00" rx="0.5" fill="url(#p10)" stroke="#2a2418" stroke-width="0.9"/>
<rect x="506.1" y="1450.57" width="20.2" height="5.00" rx="0.5" fill="url(#p10)" stroke="#2a2418" stroke-width="0.9"/>
<rect x="529.4" y="1450.57" width="16.2" height="5.00" rx="0.5" fill="url(#p10)" stroke="#2a2418" stroke-width="0.9"/>
<rect x="561.4" y="1450.57" width="8.2" height="5.00" rx="0.5" fill="url(#p10)" stroke="#2a2418" stroke-width="0.9"/>
<rect x="572.6" y="1450.57" width="2.7" height="5.00" rx="0.5" fill="url(#p10)" stroke="#2a2418" stroke-width="0.9"/>
<rect x="579.4" y="1450.57" width="7.8" height="5.00" rx="0.5" fill="url(#p10)" stroke="#2a2418" stroke-width="0.9"/>
<path d="M223.3 1457.12H241.3L244.3 1459.47L241.3 1461.82H223.3Z" fill="#0606e4"/>
<path d="M264.3 1457.12H285.3L288.3 1459.47L285.3 1461.82H264.3Z" fill="#0606e4"/>
<path d="M311.0 1457.12H381.3L384.3 1459.47L381.3 1461.82H311.0Z" fill="#0606e4"/>
<path d="M430.0 1457.12H448.0L451.0 1459.47L448.0 1461.82H430.0Z" fill="#0606e4"/>
<path d="M485.7 1457.12H507.4L510.4 1459.47L507.4 1461.82H485.7Z" fill="#0606e4"/>
<path d="M533.7 1457.12H565.7L568.7 1459.47L565.7 1461.82H533.7Z" fill="#0606e4"/>
<path d="M291.9 1464.32L295.5 1466.72L291.9 1469.12Z" fill="#000"/>
<path d="M511.7 1464.32L515.3 1466.72L511.7 1469.12Z" fill="#000"/>
<text transform="translate(5.2 1483.64) scale(0.86 1)" font-size="8.6" letter-spacing="0.3" fill="#1a1a1a" stroke="#1a1a1a" stroke-width="0.28" font-family="Liberation Sans, sans-serif">55.</text>
<text transform="translate(19.6 1483.64) scale(0.86 1)" font-size="8.6" letter-spacing="0.15" fill="#1a1a1a" stroke="#1a1a1a" stroke-width="0.28" font-family="Liberation Sans, sans-serif">GsTIP2;5</text>
<text transform="translate(19 1498.64) scale(0.86 1)" font-size="8.6" letter-spacing="0.75" fill="#1a1a1a" stroke="#1a1a1a" stroke-width="0.28" font-family="Liberation Sans, sans-serif">Motifs</text>
<rect x="183.3" y="1479.69" width="404.3" height="1.3" fill="#3c3c3c"/>
<rect x="183.7" y="1477.89" width="10.9" height="5.00" rx="0.5" fill="url(#p11)" stroke="#2a2418" stroke-width="0.9"/>
<rect x="198.1" y="1477.89" width="4.2" height="5.00" rx="0.5" fill="url(#p11)" stroke="#2a2418" stroke-width="0.9"/>
<rect x="221.4" y="1477.89" width="29.2" height="5.00" rx="0.5" fill="url(#p11)" stroke="#2a2418" stroke-width="0.9"/>
<rect x="255.4" y="1477.89" width="17.5" height="5.00" rx="0.5" fill="url(#p11)" stroke="#2a2418" stroke-width="0.9"/>
<rect x="277.1" y="1477.89" width="24.2" height="5.00" rx="0.5" fill="url(#p11)" stroke="#2a2418" stroke-width="0.9"/>
<rect x="302.1" y="1477.89" width="5.2" height="5.00" rx="0.5" fill="url(#p11)" stroke="#2a2418" stroke-width="0.9"/>
<rect x="310.4" y="1477.89" width="11.9" height="5.00" rx="0.5" fill="url(#p11)" stroke="#2a2418" stroke-width="0.9"/>
<rect x="376.1" y="1477.89" width="15.2" height="5.00" rx="0.5" fill="url(#p11)" stroke="#2a2418" stroke-width="0.9"/>
<rect x="421.1" y="1477.89" width="5.2" height="5.00" rx="0.5" fill="url(#p11)" stroke="#2a2418" stroke-width="0.9"/>
<rect x="430.4" y="1477.89" width="32.5" height="5.00" rx="0.5" fill="url(#p11)" stroke="#2a2418" stroke-width="0.9"/>
<rect x="468.1" y="1477.89" width="0.8" height="5.00" rx="0.5" fill="url(#p11)" stroke="#2a2418" stroke-width="0.9"/>
<rect x="480.4" y="1477.89" width="9.2" height="5.00" rx="0.5" fill="url(#p11)" stroke="#2a2418" stroke-width="0.9"/>
<rect x="492.7" y="1477.89" width="10.2" height="5.00" rx="0.5" fill="url(#p11)" stroke="#2a2418" stroke-width="0.9"/>
<rect x="506.1" y="1477.89" width="20.2" height="5.00" rx="0.5" fill="url(#p11)" stroke="#2a2418" stroke-width="0.9"/>
<rect x="529.4" y="1477.89" width="16.2" height="5.00" rx="0.5" fill="url(#p11)" stroke="#2a2418" stroke-width="0.9"/>
<rect x="561.4" y="1477.89" width="8.2" height="5.00" rx="0.5" fill="url(#p11)" stroke="#2a2418" stroke-width="0.9"/>
<rect x="572.6" y="1477.89" width="2.7" height="5.00" rx="0.5" fill="url(#p11)" stroke="#2a2418" stroke-width="0.9"/>
<rect x="579.4" y="1477.89" width="7.8" height="5.00" rx="0.5" fill="url(#p11)" stroke="#2a2418" stroke-width="0.9"/>
<path d="M223.3 1484.44H241.3L244.3 1486.79L241.3 1489.14H223.3Z" fill="#0606e4"/>
<path d="M265.0 1484.44H285.3L288.3 1486.79L285.3 1489.14H265.0Z" fill="#0606e4"/>
<path d="M311.0 1484.44H381.3L384.3 1486.79L381.3 1489.14H311.0Z" fill="#0606e4"/>
<path d="M430.0 1484.44H448.0L451.0 1486.79L448.0 1489.14H430.0Z" fill="#0606e4"/>
<path d="M485.7 1484.44H507.4L510.4 1486.79L507.4 1489.14H485.7Z" fill="#0606e4"/>
<path d="M533.7 1484.44H565.7L568.7 1486.79L565.7 1489.14H533.7Z" fill="#0606e4"/>
<path d="M291.9 1491.64L295.5 1494.04L291.9 1496.44Z" fill="#000"/>
<path d="M511.7 1491.64L515.3 1494.04L511.7 1496.44Z" fill="#000"/>
<text transform="translate(5.2 1510.96) scale(0.86 1)" font-size="8.6" letter-spacing="0.3" fill="#1a1a1a" stroke="#1a1a1a" stroke-width="0.28" font-family="Liberation Sans, sans-serif">56.</text>
<text transform="translate(19.6 1510.96) scale(0.86 1)" font-size="8.6" letter-spacing="0.15" fill="#1a1a1a" stroke="#1a1a1a" stroke-width="0.28" font-family="Liberation Sans, sans-serif">GsSIP2;1</text>
<text transform="translate(19 1525.96) scale(0.86 1)" font-size="8.6" letter-spacing="0.75" fill="#1a1a1a" stroke="#1a1a1a" stroke-width="0.28" font-family="Liberation Sans, sans-serif">Motifs</text>
<rect x="200.0" y="1507.01" width="389.4" height="1.3" fill="#3c3c3c"/>
<rect x="200.4" y="1505.21" width="1.9" height="5.00" rx="0.5" fill="url(#p12)" stroke="#2a2418" stroke-width="0.9"/>
<rect x="221.4" y="1505.21" width="29.2" height="5.00" rx="0.5" fill="url(#p12)" stroke="#2a2418" stroke-width="0.9"/>
<rect x="260.4" y="1505.21" width="40.2" height="5.00" rx="0.5" fill="url(#p12)" stroke="#2a2418" stroke-width="0.9"/>
<rect x="302.1" y="1505.21" width="20.2" height="5.00" rx="0.5" fill="url(#p12)" stroke="#2a2418" stroke-width="0.9"/>
<rect x="376.1" y="1505.21" width="15.2" height="5.00" rx="0.5" fill="url(#p12)" stroke="#2a2418" stroke-width="0.9"/>
<rect x="421.1" y="1505.21" width="5.2" height="5.00" rx="0.5" fill="url(#p12)" stroke="#2a2418" stroke-width="0.9"/>
<rect x="433.7" y="1505.21" width="29.2" height="5.00" rx="0.5" fill="url(#p12)" stroke="#2a2418" stroke-width="0.9"/>
<rect x="480.4" y="1505.21" width="9.2" height="5.00" rx="0.5" fill="url(#p12)" stroke="#2a2418" stroke-width="0.9"/>
<rect x="492.7" y="1505.21" width="10.2" height="5.00" rx="0.5" fill="url(#p12)" stroke="#2a2418" stroke-width="0.9"/>
<rect x="506.1" y="1505.21" width="39.5" height="5.00" rx="0.5" fill="url(#p12)" stroke="#2a2418" stroke-width="0.9"/>
<rect x="561.4" y="1505.21" width="8.2" height="5.00" rx="0.5" fill="url(#p12)" stroke="#2a2418" stroke-width="0.9"/>
<rect x="572.6" y="1505.21" width="4.0" height="5.00" rx="0.5" fill="url(#p12)" stroke="#2a2418" stroke-width="0.9"/>
<rect x="579.4" y="1505.21" width="9.6" height="5.00" rx="0.5" fill="url(#p12)" stroke="#2a2418" stroke-width="0.9"/>
<path d="M230.0 1511.76H257.0L260.0 1514.11L257.0 1516.46H230.0Z" fill="#0606e4"/>
<path d="M265.0 1511.76H281.3L284.3 1514.11L281.3 1516.46H265.0Z" fill="#0606e4"/>
<path d="M438.3 1511.76H454.7L457.7 1514.11L454.7 1516.46H438.3Z" fill="#0606e4"/>
<path d="M498.3 1511.76H517.7L520.7 1514.11L517.7 1516.46H498.3Z" fill="#0606e4"/>
<path d="M532.5 1511.76H565.0L568.0 1514.11L565.0 1516.46H532.5Z" fill="#0606e4"/>
<path d="M511.7 1518.96L515.3 1521.36L511.7 1523.76Z" fill="#000"/>
<text transform="translate(5.2 1538.28) scale(0.86 1)" font-size="8.6" letter-spacing="0.3" fill="#1a1a1a" stroke="#1a1a1a" stroke-width="0.28" font-family="Liberation Sans, sans-serif">57.</text>
<text transform="translate(19.6 1538.28) scale(0.86 1)" font-size="8.6" letter-spacing="0.15" fill="#1a1a1a" stroke="#1a1a1a" stroke-width="0.28" font-family="Liberation Sans, sans-serif">GsSIP1;6</text>
<text transform="translate(19 1553.28) scale(0.86 1)" font-size="8.6" letter-spacing="0.75" fill="#1a1a1a" stroke="#1a1a1a" stroke-width="0.28" font-family="Liberation Sans, sans-serif">Motifs</text>
<rect x="200.0" y="1534.33" width="383.7" height="1.3" fill="#3c3c3c"/>
<rect x="200.4" y="1532.53" width="1.9" height="5.00" rx="0.5" fill="url(#p13)" stroke="#2a2418" stroke-width="0.9"/>
<rect x="221.4" y="1532.53" width="29.2" height="5.00" rx="0.5" fill="url(#p13)" stroke="#2a2418" stroke-width="0.9"/>
<rect x="256.1" y="1532.53" width="66.2" height="5.00" rx="0.5" fill="url(#p13)" stroke="#2a2418" stroke-width="0.9"/>
<rect x="376.1" y="1532.53" width="20.2" height="5.00" rx="0.5" fill="url(#p13)" stroke="#2a2418" stroke-width="0.9"/>
<rect x="421.1" y="1532.53" width="5.2" height="5.00" rx="0.5" fill="url(#p13)" stroke="#2a2418" stroke-width="0.9"/>
<rect x="433.7" y="1532.53" width="29.2" height="5.00" rx="0.5" fill="url(#p13)" stroke="#2a2418" stroke-width="0.9"/>
<rect x="480.4" y="1532.53" width="9.2" height="5.00" rx="0.5" fill="url(#p13)" stroke="#2a2418" stroke-width="0.9"/>
<rect x="492.7" y="1532.53" width="10.2" height="5.00" rx="0.5" fill="url(#p13)" stroke="#2a2418" stroke-width="0.9"/>
<rect x="506.1" y="1532.53" width="39.5" height="5.00" rx="0.5" fill="url(#p13)" stroke="#2a2418" stroke-width="0.9"/>
<rect x="561.4" y="1532.53" width="8.2" height="5.00" rx="0.5" fill="url(#p13)" stroke="#2a2418" stroke-width="0.9"/>
<rect x="572.6" y="1532.53" width="4.0" height="5.00" rx="0.5" fill="url(#p13)" stroke="#2a2418" stroke-width="0.9"/>
<rect x="579.4" y="1532.53" width="3.9" height="5.00" rx="0.5" fill="url(#p13)" stroke="#2a2418" stroke-width="0.9"/>
<path d="M234.0 1539.08H256.0L259.0 1541.43L256.0 1543.78H234.0Z" fill="#0606e4"/>
<path d="M263.3 1539.08H280.3L283.3 1541.43L280.3 1543.78H263.3Z" fill="#0606e4"/>
<path d="M484.3 1539.08H507.0L510.0 1541.43L507.0 1543.78H484.3Z" fill="#0606e4"/>
<path d="M529.0 1539.08H561.3L564.3 1541.43L561.3 1543.78H529.0Z" fill="#0606e4"/>
<path d="M511.7 1546.28L515.3 1548.68L511.7 1551.08Z" fill="#000"/>
<text transform="translate(5.2 1565.60) scale(0.86 1)" font-size="8.6" letter-spacing="0.3" fill="#1a1a1a" stroke="#1a1a1a" stroke-width="0.28" font-family="Liberation Sans, sans-serif">58.</text>
<text transform="translate(19.6 1565.60) scale(0.86 1)" font-size="8.6" letter-spacing="0.15" fill="#1a1a1a" stroke="#1a1a1a" stroke-width="0.28" font-family="Liberation Sans, sans-serif">GsSIP1;5</text>
<text transform="translate(19 1580.60) scale(0.86 1)" font-size="8.6" letter-spacing="0.75" fill="#1a1a1a" stroke="#1a1a1a" stroke-width="0.28" font-family="Liberation Sans, sans-serif">Motifs</text>
<rect x="197.7" y="1561.65" width="386.0" height="1.3" fill="#3c3c3c"/>
<rect x="198.1" y="1559.85" width="2.2" height="5.00" rx="0.5" fill="url(#p14)" stroke="#2a2418" stroke-width="0.9"/>
<rect x="221.4" y="1559.85" width="29.2" height="5.00" rx="0.5" fill="url(#p14)" stroke="#2a2418" stroke-width="0.9"/>
<rect x="256.1" y="1559.85" width="66.2" height="5.00" rx="0.5" fill="url(#p14)" stroke="#2a2418" stroke-width="0.9"/>
<rect x="376.1" y="1559.85" width="20.2" height="5.00" rx="0.5" fill="url(#p14)" stroke="#2a2418" stroke-width="0.9"/>
<rect x="421.1" y="1559.85" width="5.2" height="5.00" rx="0.5" fill="url(#p14)" stroke="#2a2418" stroke-width="0.9"/>
<rect x="433.7" y="1559.85" width="29.2" height="5.00" rx="0.5" fill="url(#p14)" stroke="#2a2418" stroke-width="0.9"/>
<rect x="480.4" y="1559.85" width="9.2" height="5.00" rx="0.5" fill="url(#p14)" stroke="#2a2418" stroke-width="0.9"/>
<rect x="492.7" y="1559.85" width="10.2" height="5.00" rx="0.5" fill="url(#p14)" stroke="#2a2418" stroke-width="0.9"/>
<rect x="506.1" y="1559.85" width="39.5" height="5.00" rx="0.5" fill="url(#p14)" stroke="#2a2418" stroke-width="0.9"/>
<rect x="561.4" y="1559.85" width="8.2" height="5.00" rx="0.5" fill="url(#p14)" stroke="#2a2418" stroke-width="0.9"/>
<rect x="572.6" y="1559.85" width="4.0" height="5.00" rx="0.5" fill="url(#p14)" stroke="#2a2418" stroke-width="0.9"/>
<rect x="579.4" y="1559.85" width="3.9" height="5.00" rx="0.5" fill="url(#p14)" stroke="#2a2418" stroke-width="0.9"/>
<path d="M234.0 1566.40H256.0L259.0 1568.75L256.0 1571.10H234.0Z" fill="#0606e4"/>
<path d="M261.0 1566.40H278.7L281.7 1568.75L278.7 1571.10H261.0Z" fill="#0606e4"/>
<path d="M481.7 1566.40H503.7L506.7 1568.75L503.7 1571.10H481.7Z" fill="#0606e4"/>
<path d="M533.7 1566.40H565.7L568.7 1568.75L565.7 1571.10H533.7Z" fill="#0606e4"/>
<path d="M511.7 1573.60L515.3 1576.00L511.7 1578.40Z" fill="#000"/>
<text transform="translate(5.2 1592.92) scale(0.86 1)" font-size="8.6" letter-spacing="0.3" fill="#1a1a1a" stroke="#1a1a1a" stroke-width="0.28" font-family="Liberation Sans, sans-serif">59.</text>
<text transform="translate(19.6 1592.92) scale(0.86 1)" font-size="8.6" letter-spacing="0.15" fill="#1a1a1a" stroke="#1a1a1a" stroke-width="0.28" font-family="Liberation Sans, sans-serif">GsSIP1;4</text>
<text transform="translate(19 1607.92) scale(0.86 1)" font-size="8.6" letter-spacing="0.75" fill="#1a1a1a" stroke="#1a1a1a" stroke-width="0.28" font-family="Liberation Sans, sans-serif">Motifs</text>
<rect x="199.3" y="1588.97" width="385.7" height="1.3" fill="#3c3c3c"/>
<rect x="199.7" y="1587.17" width="2.6" height="5.00" rx="0.5" fill="url(#p12)" stroke="#2a2418" stroke-width="0.9"/>
<rect x="221.4" y="1587.17" width="78.2" height="5.00" rx="0.5" fill="url(#p12)" stroke="#2a2418" stroke-width="0.9"/>
<rect x="302.1" y="1587.17" width="20.2" height="5.00" rx="0.5" fill="url(#p12)" stroke="#2a2418" stroke-width="0.9"/>
<rect x="376.1" y="1587.17" width="20.2" height="5.00" rx="0.5" fill="url(#p12)" stroke="#2a2418" stroke-width="0.9"/>
<rect x="421.1" y="1587.17" width="5.2" height="5.00" rx="0.5" fill="url(#p12)" stroke="#2a2418" stroke-width="0.9"/>
<rect x="433.7" y="1587.17" width="29.2" height="5.00" rx="0.5" fill="url(#p12)" stroke="#2a2418" stroke-width="0.9"/>
<rect x="480.4" y="1587.17" width="9.2" height="5.00" rx="0.5" fill="url(#p12)" stroke="#2a2418" stroke-width="0.9"/>
<rect x="492.7" y="1587.17" width="10.2" height="5.00" rx="0.5" fill="url(#p12)" stroke="#2a2418" stroke-width="0.9"/>
<rect x="506.1" y="1587.17" width="39.5" height="5.00" rx="0.5" fill="url(#p12)" stroke="#2a2418" stroke-width="0.9"/>
<rect x="561.4" y="1587.17" width="8.2" height="5.00" rx="0.5" fill="url(#p12)" stroke="#2a2418" stroke-width="0.9"/>
<rect x="572.6" y="1587.17" width="12.0" height="5.00" rx="0.5" fill="url(#p12)" stroke="#2a2418" stroke-width="0.9"/>
<path d="M229.0 1593.72H246.3L249.3 1596.07L246.3 1598.42H229.0Z" fill="#0606e4"/>
<path d="M269.3 1593.72H286.0L289.0 1596.07L286.0 1598.42H269.3Z" fill="#0606e4"/>
<path d="M311.0 1593.72H381.3L384.3 1596.07L381.3 1598.42H311.0Z" fill="#0606e4"/>
<path d="M435.0 1593.72H453.7L456.7 1596.07L453.7 1598.42H435.0Z" fill="#0606e4"/>
<path d="M485.7 1593.72H507.4L510.4 1596.07L507.4 1598.42H485.7Z" fill="#0606e4"/>
<path d="M530.6 1593.72H561.8L564.8 1596.07L561.8 1598.42H530.6Z" fill="#0606e4"/>
<path d="M511.7 1600.92L515.3 1603.32L511.7 1605.72Z" fill="#000"/>
<text transform="translate(5.2 1620.24) scale(0.86 1)" font-size="8.6" letter-spacing="0.3" fill="#1a1a1a" stroke="#1a1a1a" stroke-width="0.28" font-family="Liberation Sans, sans-serif">60.</text>
<text transform="translate(19.6 1620.24) scale(0.86 1)" font-size="8.6" letter-spacing="0.15" fill="#1a1a1a" stroke="#1a1a1a" stroke-width="0.28" font-family="Liberation Sans, sans-serif">GsSIP1;3</text>
<text transform="translate(19 1635.24) scale(0.86 1)" font-size="8.6" letter-spacing="0.75" fill="#1a1a1a" stroke="#1a1a1a" stroke-width="0.28" font-family="Liberation Sans, sans-serif">Motifs</text>
<rect x="199.3" y="1616.29" width="385.7" height="1.3" fill="#3c3c3c"/>
<rect x="199.7" y="1614.49" width="2.6" height="5.00" rx="0.5" fill="url(#p13)" stroke="#2a2418" stroke-width="0.9"/>
<rect x="221.4" y="1614.49" width="78.2" height="5.00" rx="0.5" fill="url(#p13)" stroke="#2a2418" stroke-width="0.9"/>
<rect x="302.1" y="1614.49" width="20.2" height="5.00" rx="0.5" fill="url(#p13)" stroke="#2a2418" stroke-width="0.9"/>
<rect x="376.1" y="1614.49" width="20.2" height="5.00" rx="0.5" fill="url(#p13)" stroke="#2a2418" stroke-width="0.9"/>
<rect x="421.1" y="1614.49" width="5.2" height="5.00" rx="0.5" fill="url(#p13)" stroke="#2a2418" stroke-width="0.9"/>
<rect x="433.7" y="1614.49" width="29.2" height="5.00" rx="0.5" fill="url(#p13)" stroke="#2a2418" stroke-width="0.9"/>
<rect x="480.4" y="1614.49" width="9.2" height="5.00" rx="0.5" fill="url(#p13)" stroke="#2a2418" stroke-width="0.9"/>
<rect x="492.7" y="1614.49" width="10.2" height="5.00" rx="0.5" fill="url(#p13)" stroke="#2a2418" stroke-width="0.9"/>
<rect x="506.1" y="1614.49" width="39.5" height="5.00" rx="0.5" fill="url(#p13)" stroke="#2a2418" stroke-width="0.9"/>
<rect x="561.4" y="1614.49" width="8.2" height="5.00" rx="0.5" fill="url(#p13)" stroke="#2a2418" stroke-width="0.9"/>
<rect x="572.6" y="1614.49" width="12.0" height="5.00" rx="0.5" fill="url(#p13)" stroke="#2a2418" stroke-width="0.9"/>
<path d="M229.0 1621.04H246.3L249.3 1623.39L246.3 1625.74H229.0Z" fill="#0606e4"/>
<path d="M269.3 1621.04H286.0L289.0 1623.39L286.0 1625.74H269.3Z" fill="#0606e4"/>
<path d="M311.0 1621.04H381.3L384.3 1623.39L381.3 1625.74H311.0Z" fill="#0606e4"/>
<path d="M435.0 1621.04H453.7L456.7 1623.39L453.7 1625.74H435.0Z" fill="#0606e4"/>
<path d="M485.7 1621.04H507.4L510.4 1623.39L507.4 1625.74H485.7Z" fill="#0606e4"/>
<path d="M530.6 1621.04H561.8L564.8 1623.39L561.8 1625.74H530.6Z" fill="#0606e4"/>
<path d="M511.7 1628.24L515.3 1630.64L511.7 1633.04Z" fill="#000"/>
<text transform="translate(5.2 1647.56) scale(0.86 1)" font-size="8.6" letter-spacing="0.3" fill="#1a1a1a" stroke="#1a1a1a" stroke-width="0.28" font-family="Liberation Sans, sans-serif">61.</text>
<text transform="translate(19.6 1647.56) scale(0.86 1)" font-size="8.6" letter-spacing="0.15" fill="#1a1a1a" stroke="#1a1a1a" stroke-width="0.28" font-family="Liberation Sans, sans-serif">GsSIP1;2</text>
<text transform="translate(19 1662.56) scale(0.86 1)" font-size="8.6" letter-spacing="0.75" fill="#1a1a1a" stroke="#1a1a1a" stroke-width="0.28" font-family="Liberation Sans, sans-serif">Motifs</text>
<rect x="199.3" y="1643.61" width="385.7" height="1.3" fill="#3c3c3c"/>
<rect x="199.7" y="1641.81" width="2.6" height="5.00" rx="0.5" fill="url(#p14)" stroke="#2a2418" stroke-width="0.9"/>
<rect x="221.4" y="1641.81" width="78.2" height="5.00" rx="0.5" fill="url(#p14)" stroke="#2a2418" stroke-width="0.9"/>
<rect x="302.1" y="1641.81" width="20.2" height="5.00" rx="0.5" fill="url(#p14)" stroke="#2a2418" stroke-width="0.9"/>
<rect x="376.1" y="1641.81" width="20.2" height="5.00" rx="0.5" fill="url(#p14)" stroke="#2a2418" stroke-width="0.9"/>
<rect x="421.1" y="1641.81" width="5.2" height="5.00" rx="0.5" fill="url(#p14)" stroke="#2a2418" stroke-width="0.9"/>
<rect x="433.7" y="1641.81" width="29.2" height="5.00" rx="0.5" fill="url(#p14)" stroke="#2a2418" stroke-width="0.9"/>
<rect x="480.4" y="1641.81" width="9.2" height="5.00" rx="0.5" fill="url(#p14)" stroke="#2a2418" stroke-width="0.9"/>
<rect x="492.7" y="1641.81" width="10.2" height="5.00" rx="0.5" fill="url(#p14)" stroke="#2a2418" stroke-width="0.9"/>
<rect x="506.1" y="1641.81" width="39.5" height="5.00" rx="0.5" fill="url(#p14)" stroke="#2a2418" stroke-width="0.9"/>
<rect x="561.4" y="1641.81" width="8.2" height="5.00" rx="0.5" fill="url(#p14)" stroke="#2a2418" stroke-width="0.9"/>
<rect x="572.6" y="1641.81" width="4.0" height="5.00" rx="0.5" fill="url(#p14)" stroke="#2a2418" stroke-width="0.9"/>
<rect x="579.4" y="1641.81" width="5.2" height="5.00" rx="0.5" fill="url(#p14)" stroke="#2a2418" stroke-width="0.9"/>
<path d="M229.0 1648.36H246.3L249.3 1650.71L246.3 1653.06H229.0Z" fill="#0606e4"/>
<path d="M269.3 1648.36H286.0L289.0 1650.71L286.0 1653.06H269.3Z" fill="#0606e4"/>
<path d="M311.0 1648.36H381.3L384.3 1650.71L381.3 1653.06H311.0Z" fill="#0606e4"/>
<path d="M435.0 1648.36H453.7L456.7 1650.71L453.7 1653.06H435.0Z" fill="#0606e4"/>
<path d="M485.7 1648.36H508.7L511.7 1650.71L508.7 1653.06H485.7Z" fill="#0606e4"/>
<path d="M532.4 1648.36H564.9L567.9 1650.71L564.9 1653.06H532.4Z" fill="#0606e4"/>
<path d="M511.7 1655.56L515.3 1657.96L511.7 1660.36Z" fill="#000"/>
<text transform="translate(5.2 1674.88) scale(0.86 1)" font-size="8.6" letter-spacing="0.3" fill="#1a1a1a" stroke="#1a1a1a" stroke-width="0.28" font-family="Liberation Sans, sans-serif">62.</text>
<text transform="translate(19.6 1674.88) scale(0.86 1)" font-size="8.6" letter-spacing="0.15" fill="#1a1a1a" stroke="#1a1a1a" stroke-width="0.28" font-family="Liberation Sans, sans-serif">GsSIP1;1</text>
<text transform="translate(19 1689.88) scale(0.86 1)" font-size="8.6" letter-spacing="0.75" fill="#1a1a1a" stroke="#1a1a1a" stroke-width="0.28" font-family="Liberation Sans, sans-serif">Motifs</text>
<rect x="199.3" y="1670.93" width="377.7" height="1.3" fill="#3c3c3c"/>
<rect x="199.7" y="1669.13" width="2.6" height="5.00" rx="0.5" fill="url(#p12)" stroke="#2a2418" stroke-width="0.9"/>
<rect x="221.4" y="1669.13" width="78.2" height="5.00" rx="0.5" fill="url(#p12)" stroke="#2a2418" stroke-width="0.9"/>
<rect x="302.1" y="1669.13" width="94.2" height="5.00" rx="0.5" fill="url(#p12)" stroke="#2a2418" stroke-width="0.9"/>
<rect x="421.1" y="1669.13" width="5.2" height="5.00" rx="0.5" fill="url(#p12)" stroke="#2a2418" stroke-width="0.9"/>
<rect x="433.7" y="1669.13" width="29.2" height="5.00" rx="0.5" fill="url(#p12)" stroke="#2a2418" stroke-width="0.9"/>
<rect x="480.4" y="1669.13" width="9.2" height="5.00" rx="0.5" fill="url(#p12)" stroke="#2a2418" stroke-width="0.9"/>
<rect x="492.7" y="1669.13" width="10.2" height="5.00" rx="0.5" fill="url(#p12)" stroke="#2a2418" stroke-width="0.9"/>
<rect x="506.1" y="1669.13" width="9.1" height="5.00" rx="0.5" fill="url(#p12)" stroke="#2a2418" stroke-width="0.9"/>
<rect x="529.4" y="1669.13" width="16.2" height="5.00" rx="0.5" fill="url(#p12)" stroke="#2a2418" stroke-width="0.9"/>
<rect x="561.4" y="1669.13" width="8.2" height="5.00" rx="0.5" fill="url(#p12)" stroke="#2a2418" stroke-width="0.9"/>
<rect x="572.6" y="1669.13" width="4.0" height="5.00" rx="0.5" fill="url(#p12)" stroke="#2a2418" stroke-width="0.9"/>
<path d="M225.0 1675.68H241.3L244.3 1678.03L241.3 1680.38H225.0Z" fill="#0606e4"/>
<path d="M265.0 1675.68H288.7L291.7 1678.03L288.7 1680.38H265.0Z" fill="#0606e4"/>
<path d="M365.7 1675.68H382.7L385.7 1678.03L382.7 1680.38H365.7Z" fill="#0606e4"/>
<path d="M436.7 1675.68H453.7L456.7 1678.03L453.7 1680.38H436.7Z" fill="#0606e4"/>
<path d="M481.7 1675.68H503.7L506.7 1678.03L503.7 1680.38H481.7Z" fill="#0606e4"/>
<path d="M511.7 1682.88L515.3 1685.28L511.7 1687.68Z" fill="#000"/>
</svg>
</body></html>
